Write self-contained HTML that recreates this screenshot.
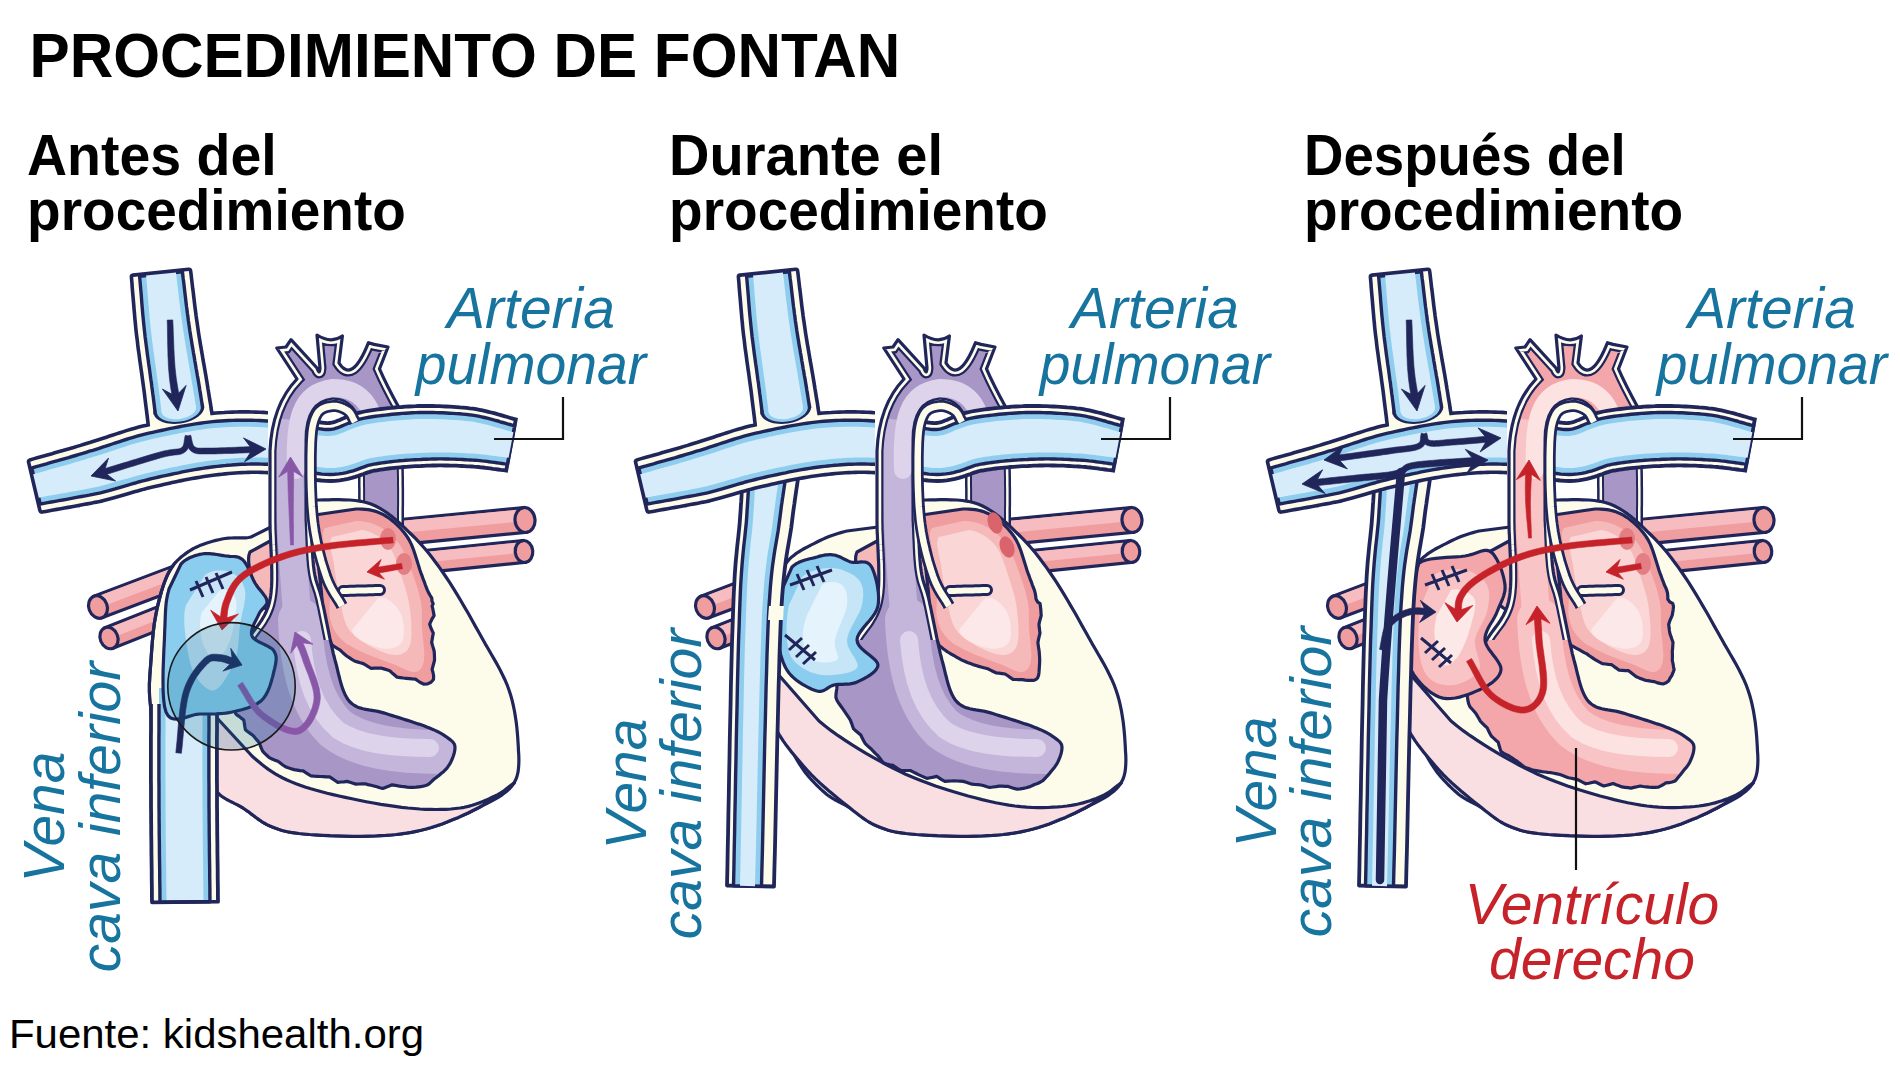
<!DOCTYPE html>
<html><head><meta charset="utf-8">
<style>
html,body{margin:0;padding:0;background:#fff;}
body{width:1900px;height:1069px;overflow:hidden;position:relative;font-family:"Liberation Sans",sans-serif;}
.t{position:absolute;white-space:nowrap;margin:0;}
</style></head><body>
<svg width="1900" height="1069" viewBox="0 0 1900 1069" style="position:absolute;left:0;top:0">
<path d="M93.9,596.2 L225.9,546.2 L234.1,567.8 L102.1,617.8Z" fill="#f09d9f" stroke="#20265a" stroke-width="3.2"/><path d="M94.5,597.6 L226.5,547.6 L230.4,557.9 L98.4,607.9Z" fill="#f6bcc0"/><ellipse cx="98" cy="607" rx="9.2" ry="11.5" transform="rotate(-20.7 98 607)" fill="#f09d9f" stroke="#20265a" stroke-width="3.2"/>
<path d="M104.9,627.8 L225.9,579.8 L234.1,600.2 L113.1,648.2Z" fill="#f09d9f" stroke="#20265a" stroke-width="3.2"/><path d="M105.5,629.2 L226.5,581.2 L230.4,590.9 L109.4,638.9Z" fill="#f6bcc0"/><ellipse cx="109" cy="638" rx="8.8" ry="11.0" transform="rotate(-21.6 109 638)" fill="#f09d9f" stroke="#20265a" stroke-width="3.2"/>
<path d="M523.8,507.6 L388.8,520.6 L391.2,545.4 L526.2,532.4Z" fill="#f09d9f" stroke="#20265a" stroke-width="3.2"/><path d="M523.9,509.1 L388.9,522.1 L390.1,534 L525.1,521Z" fill="#f6bcc0"/><ellipse cx="525" cy="520" rx="10.0" ry="12.5" transform="rotate(174.5 525 520)" fill="#f09d9f" stroke="#20265a" stroke-width="3.2"/>
<path d="M522.9,540.6 L408.9,552.1 L411.1,573.9 L525.1,562.4Z" fill="#f09d9f" stroke="#20265a" stroke-width="3.2"/><path d="M523,542 L409,553.5 L410.1,564 L524.1,552.5Z" fill="#f6bcc0"/><ellipse cx="524" cy="551.5" rx="8.8" ry="11.0" transform="rotate(174.2 524 551.5)" fill="#f09d9f" stroke="#20265a" stroke-width="3.2"/>
<path d="M380,440 L380.1,442.5 L380.1,445 L380.2,447.4 L380.3,449.9 L380.3,452.3 L380.4,454.8 L380.5,457.2 L380.6,459.7 L380.6,462.2 L380.7,464.6 L380.8,467.1 L380.8,469.6 L380.9,472.2 L380.9,474.8 L381,477.4 L381,480 L381,482.7 L381,485.4 L381.1,488.1 L381.1,490.9 L381.1,493.7 L381.1,496.5 L381.1,499.3 L381.1,502.2 L381.1,505 L381,507.9 L381,510.8 L381,513.6 L381,516.5 L381,519.3 L381,522.2 L381,525" fill="none" stroke="#20265a" stroke-width="46" stroke-linecap="butt" stroke-linejoin="round"/>
<path d="M380,440 L380.1,442.5 L380.1,445 L380.2,447.4 L380.3,449.9 L380.3,452.3 L380.4,454.8 L380.5,457.2 L380.6,459.7 L380.6,462.2 L380.7,464.6 L380.8,467.1 L380.8,469.6 L380.9,472.2 L380.9,474.8 L381,477.4 L381,480 L381,482.7 L381,485.4 L381.1,488.1 L381.1,490.9 L381.1,493.7 L381.1,496.5 L381.1,499.3 L381.1,502.2 L381.1,505 L381,507.9 L381,510.8 L381,513.6 L381,516.5 L381,519.3 L381,522.2 L381,525" fill="none" stroke="#fdfbea" stroke-width="41" stroke-linecap="butt" stroke-linejoin="round"/>
<path d="M380,440 L380.1,442.5 L380.1,445 L380.2,447.4 L380.3,449.9 L380.3,452.3 L380.4,454.8 L380.5,457.2 L380.6,459.7 L380.6,462.2 L380.7,464.6 L380.8,467.1 L380.8,469.6 L380.9,472.2 L380.9,474.8 L381,477.4 L381,480 L381,482.7 L381,485.4 L381.1,488.1 L381.1,490.9 L381.1,493.7 L381.1,496.5 L381.1,499.3 L381.1,502.2 L381.1,505 L381,507.9 L381,510.8 L381,513.6 L381,516.5 L381,519.3 L381,522.2 L381,525" fill="none" stroke="#20265a" stroke-width="36" stroke-linecap="butt" stroke-linejoin="round"/>
<path d="M380,440 L380.1,442.5 L380.1,445 L380.2,447.4 L380.3,449.9 L380.3,452.3 L380.4,454.8 L380.5,457.2 L380.6,459.7 L380.6,462.2 L380.7,464.6 L380.8,467.1 L380.8,469.6 L380.9,472.2 L380.9,474.8 L381,477.4 L381,480 L381,482.7 L381,485.4 L381.1,488.1 L381.1,490.9 L381.1,493.7 L381.1,496.5 L381.1,499.3 L381.1,502.2 L381.1,505 L381,507.9 L381,510.8 L381,513.6 L381,516.5 L381,519.3 L381,522.2 L381,525" fill="none" stroke="#a896c7" stroke-width="32" stroke-linecap="butt" stroke-linejoin="round"/>
<path d="M251,537 L248.5,537.5 L245.8,537.8 L243,537.9 L240.1,537.9 L237.2,537.9 L234.2,537.9 L231.1,538 L228.1,538.2 L225,538.5 L222,539 L218.9,539.7 L215.8,540.4 L212.6,541.3 L209.3,542.2 L206.1,543.2 L202.8,544.4 L199.7,545.6 L196.7,547 L193.7,548.4 L191,550 L188.4,551.7 L185.9,553.4 L183.5,555.2 L181.1,557 L178.9,559.1 L176.7,561.2 L174.7,563.6 L172.7,566.1 L170.8,568.9 L169,572 L167.3,575.4 L165.7,579.1 L164.2,583 L162.8,587.2 L161.4,591.5 L160.2,596 L159,600.5 L157.9,605 L156.9,609.5 L156,614 L155.2,618.5 L154.4,623 L153.8,627.7 L153.2,632.4 L152.8,637.1 L152.3,641.8 L152,646.5 L151.6,651.1 L151.3,655.6 L151,660 L150.7,664.2 L150.4,668.2 L150.1,672.1 L149.8,676 L149.6,679.8 L149.4,683.6 L149.4,687.5 L149.4,691.5 L149.6,695.6 L150,700 L150.4,704.7 L150.8,709.8 L151.2,715.2 L151.8,720.7 L152.4,726.2 L153.3,731.7 L154.4,736.9 L155.9,741.8 L157.7,746.2 L160,750 L162.9,753.2 L166.4,755.9 L170.5,758.1 L174.9,760.1 L179.6,761.8 L184.2,763.3 L188.7,764.8 L193,766.4 L196.8,768.1 L200,770 L202.6,772.1 L204.7,774.4 L206.5,776.6 L208,778.9 L209.4,781.2 L210.7,783.5 L212,785.8 L213.4,788 L215,790 L217,792 L219.2,793.8 L221.6,795.6 L224.1,797.2 L226.7,798.7 L229.4,800.2 L232.1,801.7 L234.8,803.2 L237.6,804.8 L240.3,806.3 L243,808 L245.6,809.8 L248.2,811.6 L250.8,813.6 L253.4,815.5 L256,817.5 L258.6,819.4 L261.4,821.3 L264.1,823 L267,824.6 L270,826 L273,827.2 L275.8,828.3 L278.6,829.3 L281.4,830.2 L284.3,831 L287.5,831.7 L290.9,832.4 L294.8,832.9 L299.1,833.5 L304,834 L309.6,834.5 L316,834.9 L322.9,835.3 L330.3,835.7 L337.9,835.9 L345.6,836.1 L353.2,836.3 L360.6,836.3 L367.6,836.2 L374,836 L379.9,835.7 L385.6,835.4 L390.9,835 L396.1,834.5 L401.1,833.9 L406.1,833.2 L411,832.4 L415.9,831.4 L420.9,830.3 L426,829 L431.3,827.5 L436.7,825.8 L442.1,823.9 L447.6,821.8 L453,819.6 L458.4,817.4 L463.6,815 L468.6,812.7 L473.4,810.3 L478,808 L482.4,805.7 L486.7,803.5 L491,801.3 L495.1,799.1 L499,796.8 L502.7,794.3 L506.1,791.8 L509.1,789.1 L511.8,786.2 L514,783 L515.8,779.6 L517.1,776 L518,772.2 L518.5,768.3 L518.8,764.2 L518.9,760 L518.8,755.6 L518.5,751.2 L518.3,746.6 L518,742 L517.7,737.2 L517.3,732.3 L516.8,727.2 L516.2,722 L515.4,716.7 L514.5,711.3 L513.4,705.9 L512.2,700.6 L510.7,695.2 L509,690 L507.1,684.8 L504.9,679.7 L502.5,674.7 L499.9,669.6 L497.2,664.6 L494.3,659.4 L491.3,654.3 L488.3,649 L485.1,643.6 L482,638 L478.8,632.2 L475.3,626.1 L471.8,619.8 L468.2,613.3 L464.4,606.9 L460.7,600.5 L456.9,594.2 L453.2,588.1 L449.6,582.4 L446,577 L442.6,572 L439.2,567.2 L435.9,562.7 L432.6,558.3 L429.3,554.1 L426,550.1 L422.7,546.2 L419.2,542.4 L415.7,538.7 L412,535 L408.2,531.3 L404.4,527.7 L400.6,524 L396.6,520.5 L392.6,517.1 L388.5,513.9 L384.3,511 L380,508.3 L375.6,506 L371,504 L366.1,502.5 L360.9,501.3 L355.5,500.5 L349.9,500 L344.2,499.8 L338.7,499.7 L333.3,499.7 L328.1,499.8 L323.3,499.9 L319,500 L315.1,500.1 L311.6,500.2 L308.3,500.3 L305.3,500.5 L302.4,500.9 L299.8,501.3 L297.2,502 L294.8,502.8 L292.4,503.8 L290,505 L287.7,506.6 L285.6,508.5 L283.6,510.7 L281.7,513.2 L279.9,515.7 L278.2,518.2 L276.5,520.7 L274.7,523.1 L272.9,525.2 L271,527Z" fill="#fdfbea" stroke="#20265a" stroke-width="3.2" stroke-linejoin="round"/>
<path d="M252,756 L255.4,759 L258.7,761.8 L262,764.5 L265.2,767 L268.4,769.4 L271.8,771.6 L275.3,773.8 L278.9,775.9 L282.8,778 L287,780 L291.4,781.9 L296,783.8 L300.8,785.5 L305.8,787.2 L310.9,788.8 L316.2,790.3 L321.6,791.7 L327.2,793.2 L333,794.6 L339,796 L345.3,797.4 L352,798.8 L359,800.3 L366.2,801.7 L373.5,803 L380.8,804.3 L388,805.4 L395,806.4 L401.7,807.3 L408,808 L414,808.5 L419.8,809 L425.4,809.3 L430.8,809.4 L436.1,809.5 L441.2,809.4 L446.2,809.3 L451,809 L455.6,808.5 L460,808 L464.3,807.3 L468.3,806.4 L472.3,805.3 L476,804.1 L479.6,802.8 L483,801.4 L486.2,800.1 L489.3,798.7 L492.2,797.3 L495,796 L497.8,794.6 L500.7,792.9 L503.6,791 L506.4,789 L508.9,787.2 L511.1,785.5 L512.8,784.1 L514,783.2 L514.4,782.8 L514,783 L512.7,784 L510.6,785.6 L507.7,787.8 L504.3,790.5 L500.4,793.4 L496.2,796.5 L491.7,799.6 L487.1,802.6 L482.5,805.5 L478,808 L473.4,810.3 L468.6,812.7 L463.6,815 L458.4,817.4 L453,819.6 L447.6,821.8 L442.1,823.9 L436.7,825.8 L431.3,827.5 L426,829 L420.9,830.3 L415.9,831.4 L411,832.4 L406.1,833.2 L401.1,833.9 L396.1,834.5 L390.9,835 L385.6,835.4 L379.9,835.7 L374,836 L367.6,836.2 L360.6,836.3 L353.2,836.3 L345.6,836.1 L337.9,835.9 L330.3,835.7 L322.9,835.3 L316,834.9 L309.6,834.5 L304,834 L299.1,833.5 L294.8,832.9 L290.9,832.4 L287.5,831.7 L284.3,831 L281.4,830.2 L278.6,829.3 L275.8,828.3 L273,827.2 L270,826 L267,824.6 L264.1,823 L261.4,821.3 L258.6,819.4 L256,817.5 L253.4,815.5 L250.8,813.6 L248.2,811.6 L245.6,809.8 L243,808 L240.3,806.4 L237.6,804.9 L234.8,803.6 L232.1,802.2 L229.4,800.9 L226.7,799.5 L224.1,797.9 L221.6,796.2 L219.2,794.2 L217,792 L214.8,789.5 L212.5,786.8 L210.2,783.9 L207.9,780.8 L205.8,777.6 L203.9,774.3 L202.3,770.8 L201.1,767.3 L200.3,763.7 L200,760 L200.2,755.8 L200.9,751 L202,745.6 L203.5,740.1 L205.2,734.6 L207.3,729.5 L209.5,725 L211.9,721.4 L214.4,719 L217,718Z" fill="#fadfe2" stroke="#20265a" stroke-width="3.2" stroke-linejoin="round"/>
<path d="M272,540 L274.6,538.8 L277.4,537.6 L280.3,536.2 L283.2,534.9 L286.2,533.6 L289.2,532.5 L292.1,531.5 L294.9,530.7 L297.6,530.2 L300,530 L302.3,530 L304.5,529.9 L306.6,530 L308.7,530.2 L310.6,530.6 L312.4,531.4 L314.1,532.7 L315.6,534.5 L316.9,536.9 L318,540 L319,544.2 L319.9,549.5 L320.8,555.7 L321.5,562.6 L322,569.7 L322.3,576.8 L322.3,583.7 L321.9,590.1 L321.2,595.6 L320,600 L318.3,603.4 L316,606.3 L313.3,608.6 L310.2,610.4 L306.9,611.8 L303.4,612.9 L299.9,613.7 L296.4,614.3 L293.1,614.7 L290,615 L287,615.1 L284,615 L280.9,614.6 L277.8,613.9 L274.8,613.1 L271.8,612 L269,610.7 L266.4,609.3 L264.1,607.7 L262,606 L260.2,604.1 L258.7,601.9 L257.4,599.5 L256.3,596.9 L255.4,594.2 L254.6,591.4 L253.8,588.5 L253.2,585.6 L252.6,582.8 L252,580 L251.4,577.2 L250.7,574.3 L250.1,571.2 L249.5,568.2 L249,565.1 L248.7,562.1 L248.6,559.3 L248.7,556.6 L249.2,554.2 L250,552Z" fill="#f6b9ba" stroke="#20265a" stroke-width="3.2" stroke-linejoin="round"/>
<path d="M356,509 L359,509 L362.1,509.1 L365.1,509.4 L368.1,509.7 L371.1,510.2 L374,510.9 L376.9,511.8 L379.7,512.9 L382.5,514.2 L385.1,515.7 L387.7,517.3 L390.2,519 L392.6,520.9 L394.9,522.8 L397.1,524.9 L399.3,527 L401.3,529.3 L403.3,531.6 L405.2,534 L406.9,536.4 L408.6,539 L410,541.6 L411.4,544.4 L412.5,547.2 L413.6,550 L414.6,552.9 L415.5,555.7 L416.4,558.6 L417.3,561.5 L418.2,564.4 L419.1,567.3 L420,570.2 L421,573.1 L422.1,575.9 L423.1,578.8 L424.2,581.6 L425.2,584.5 L426.3,587.3 L427.4,590.1 L428.7,592.9 L430.2,595.5 L431.8,598.1 L432,601.2 L433.2,603.6 L432.1,606.2 L432.9,609.2 L433.5,612.4 L434.1,615.6 L432.4,618.3 L431,621.2 L429.7,624.2 L430.7,627.3 L432,630.3 L433.3,633.2 L432.7,636.2 L432.2,639.3 L431.7,642.5 L432.5,645.4 L433.4,648.4 L434.2,651.3 L434.4,654.4 L434.5,657.4 L434.5,660.5 L433.7,663.5 L432.9,666.5 L432.1,669.4 L433,672.5 L433.6,675.8 L433.5,679.5 L431,682.3 L427.6,683.9 L424,684.2 L420.9,682.8 L418.1,681 L415.5,679.1 L412.4,678.9 L409.4,678.6 L406.3,678.3 L403.2,678 L400.2,677.6 L397.1,677.2 L394.6,675 L392.1,672.9 L389.7,670.7 L386.8,669.8 L383.9,668.9 L381,668 L377.8,668.1 L374.5,668.2 L371.2,668.3 L368.6,666.8 L365.9,665.2 L363.3,663.6 L360.3,662.8 L357.3,661.9 L354.4,661 L351.8,659.4 L349.2,657.7 L346.7,656 L344.3,654 L342,651.9 L339.9,649.8 L337.2,648.3 L334.5,646.7 L331.9,644.9 L330.6,642 L329.4,639 L328.3,636.2 L326,634 L324.3,631.5 L323.1,628.7 L322.2,625.7 L321.3,622.9 L320.6,619.9 L320.4,616.9 L320.7,613.9 L321.1,610.9 L321.6,607.9 L321.9,604.9 L322,601.8 L321.9,598.8 L321.7,595.8 L321.5,592.8 L321.2,589.8 L320.8,586.7 L320.5,583.7 L320.2,580.7 L319.8,577.7 L319.5,574.7 L319.1,571.7 L318.8,568.7 L318.5,565.6 L318.2,562.6 L318,559.6 L317.6,556.6 L317.1,553.6 L316.6,550.6 L316,547.6 L315.4,544.7 L314.9,541.7 L314.3,538.7 L313.8,535.7 L313.3,532.7 L312.9,529.7 L312.7,526.7 L312.7,523.7 L313,520.7 L313.6,517.7 L315,515Z" fill="#f09d9f" stroke="#20265a" stroke-width="3.2" stroke-linejoin="round"/>
<path d="M356,521 L358.7,521 L361.3,521.2 L363.8,521.5 L366.3,521.9 L368.7,522.4 L371,523.1 L373.3,523.9 L375.6,524.8 L377.8,525.9 L380,527 L382.2,528.3 L384.4,529.6 L386.5,531.1 L388.6,532.8 L390.7,534.5 L392.7,536.4 L394.6,538.3 L396.5,540.4 L398.3,542.7 L400,545 L401.6,547.5 L403.1,550.3 L404.6,553.2 L405.9,556.2 L407.2,559.4 L408.5,562.6 L409.7,565.8 L410.8,568.9 L411.9,572 L413,575 L414,577.9 L415,580.8 L416,583.6 L416.9,586.5 L417.8,589.3 L418.5,592.1 L419.3,594.9 L419.9,597.6 L420.5,600.3 L421,603 L421.4,605.6 L421.6,608.1 L421.8,610.5 L421.9,612.9 L421.9,615.2 L421.9,617.6 L421.8,620.1 L421.8,622.6 L421.9,625.2 L422,628 L422.2,631 L422.5,634.3 L422.9,637.7 L423.3,641.3 L423.6,644.8 L423.9,648.3 L424.2,651.6 L424.3,654.8 L424.2,657.6 L424,660 L423.6,662.1 L423.1,664 L422.5,665.7 L421.8,667.2 L421,668.5 L420.1,669.6 L419,670.5 L417.8,671.2 L416.5,671.7 L415,672 L413.4,672 L411.6,671.8 L409.7,671.2 L407.7,670.5 L405.5,669.6 L403.2,668.5 L400.8,667.4 L398.3,666.2 L395.7,665.1 L393,664 L390.1,662.9 L386.9,661.7 L383.5,660.5 L380,659.2 L376.4,657.8 L372.8,656.4 L369.3,655.1 L365.9,653.7 L362.8,652.3 L360,651 L357.4,649.7 L355,648.5 L352.7,647.3 L350.6,646.1 L348.6,644.9 L346.7,643.7 L344.9,642.4 L343.2,641 L341.5,639.6 L340,638 L338.6,636.3 L337.2,634.6 L335.9,632.8 L334.8,630.9 L333.8,628.9 L332.8,626.9 L331.9,624.8 L331.2,622.6 L330.6,620.4 L330,618 L329.6,615.6 L329.4,613 L329.4,610.4 L329.5,607.7 L329.6,604.9 L329.8,602.1 L330,599.2 L330.1,596.2 L330.1,593.1 L330,590 L329.7,586.7 L329.4,583.3 L329,579.8 L328.5,576.1 L328.1,572.4 L327.6,568.8 L327.1,565.1 L326.7,561.6 L326.3,558.2 L326,555 L325.6,551.9 L325.1,548.8 L324.5,545.7 L323.8,542.7 L323.3,539.8 L323,537 L322.9,534.4 L323.1,532 L323.8,529.9 L325,528Z" fill="#f6b9ba"/>
<path d="M362,530 L364.8,530.5 L367.6,531.3 L370.5,532.3 L373.3,533.6 L376,535 L378.7,536.6 L381.2,538.5 L383.6,540.5 L385.9,542.7 L388,545 L389.9,547.6 L391.7,550.5 L393.3,553.6 L394.8,557 L396.1,560.4 L397.4,564 L398.6,567.6 L399.8,571.2 L400.9,574.7 L402,578 L403.1,581.2 L404.1,584.4 L405.1,587.6 L406,590.7 L406.9,593.9 L407.7,597 L408.4,600.2 L409,603.4 L409.6,606.7 L410,610 L410.4,613.5 L410.8,617.2 L411.1,621.1 L411.3,625 L411.4,628.9 L411.5,632.7 L411.4,636.2 L411.1,639.6 L410.6,642.5 L410,645 L409.2,647.1 L408.2,648.9 L407,650.5 L405.7,651.8 L404.2,652.8 L402.6,653.6 L400.9,654.3 L399,654.7 L397.1,654.9 L395,655 L392.8,654.8 L390.3,654.4 L387.6,653.7 L384.7,652.8 L381.8,651.7 L378.9,650.5 L376,649.1 L373.1,647.8 L370.5,646.4 L368,645 L365.7,643.6 L363.4,642.2 L361.1,640.8 L358.9,639.2 L356.8,637.6 L354.8,635.9 L352.9,634.1 L351.1,632.2 L349.5,630.2 L348,628 L346.7,625.7 L345.6,623.2 L344.7,620.6 L343.8,617.9 L343.1,615.1 L342.5,612.2 L341.9,609.3 L341.3,606.2 L340.7,603.1 L340,600 L339.3,596.8 L338.6,593.3 L337.9,589.8 L337.3,586.2 L336.6,582.5 L336,578.8 L335.4,575.2 L334.9,571.7 L334.4,568.2 L334,565 L333.5,561.8 L332.8,558.6 L332.1,555.4 L331.4,552.3 L330.8,549.2 L330.3,546.4 L330.1,543.6 L330.3,541.1 L330.9,538.9 L332,537Z" fill="#fad6d6"/>
<path d="M378,598 L380.5,597.5 L383,597.6 L385.5,598.3 L388,599.5 L390.5,601.1 L392.8,603 L395,605.2 L396.9,607.4 L398.6,609.7 L400,612 L401.1,614.5 L402.1,617.4 L402.8,620.6 L403.4,624 L403.8,627.5 L403.9,631 L403.8,634.3 L403.5,637.3 L402.9,639.9 L402,642 L400.8,643.7 L399.2,645.1 L397.4,646.3 L395.2,647.3 L392.9,648 L390.4,648.5 L387.8,648.7 L385.2,648.7 L382.6,648.5 L380,648 L377.2,647.2 L373.9,646.2 L370.3,644.8 L366.6,643.2 L363,641.4 L359.6,639.4 L356.6,637.2 L354.2,634.9 L352.6,632.5 L352,630Z" fill="#fce8e8"/>
<path d="M343,591 L345.3,590.9 L347.6,590.9 L349.9,590.8 L352.2,590.8 L354.6,590.7 L356.9,590.6 L359.2,590.6 L361.5,590.5 L363.8,590.4 L366.1,590.4 L368.4,590.3 L370.8,590.2 L373.1,590.2 L375.4,590.1 L377.7,590.1 L380,590" fill="none" stroke="#20265a" stroke-width="12" stroke-linecap="round" stroke-linejoin="round"/>
<path d="M343,591 L345.3,590.9 L347.6,590.9 L349.9,590.8 L352.2,590.8 L354.6,590.7 L356.9,590.6 L359.2,590.6 L361.5,590.5 L363.8,590.4 L366.1,590.4 L368.4,590.3 L370.8,590.2 L373.1,590.2 L375.4,590.1 L377.7,590.1 L380,590" fill="none" stroke="#fdfbea" stroke-width="6" stroke-linecap="round" stroke-linejoin="round"/>
<ellipse cx="388" cy="539" rx="8" ry="11" fill="#e27e84"/>
<ellipse cx="404" cy="564" rx="8" ry="11" fill="#e27e84"/>
<clipPath id="ivcC"><rect x="100" y="704" width="200" height="300"/></clipPath>
<path d="M151,688 L151,695 L151,702 L151,709.1 L151,716.2 L151,723.3 L151,730.4 L150.9,737.5 L150.9,744.6 L150.9,751.7 L150.9,758.7 L150.9,765.7 L150.9,772.7 L150.9,779.7 L151,786.6 L151,793.4 L151,800.2 L151,806.8 L151.1,813.5 L151.1,820 L151.2,826.5 L151.2,832.9 L151.3,839.3 L151.4,845.7 L151.4,852 L151.5,858.3 L151.6,864.6 L151.7,870.8 L151.7,877.1 L151.8,883.4 L151.9,889.7 L151.9,896 L152,902.3 L218,901.7 L217.9,895.3 L217.9,889 L217.8,882.6 L217.7,876.4 L217.7,870.1 L217.6,863.8 L217.5,857.5 L217.4,851.3 L217.4,845 L217.3,838.6 L217.2,832.3 L217.2,825.9 L217.1,819.5 L217.1,813 L217,806.5 L217,799.8 L217,793.2 L217,786.4 L216.9,779.6 L216.9,772.7 L216.9,765.7 L216.9,758.7 L216.9,751.7 L216.9,744.7 L216.9,737.6 L217,730.5 L217,723.4 L217,716.3 L217,709.2 L217,702.1 L217,695 L217,688Z" fill="#fdfbea"/><path d="M159,688 L159,695 L159,702 L159,709.1 L159,716.2 L159,723.3 L159,730.4 L158.9,737.5 L158.9,744.6 L158.9,751.7 L158.9,758.7 L158.9,765.7 L158.9,772.7 L158.9,779.7 L159,786.5 L159,793.4 L159,800.1 L159,806.8 L159.1,813.4 L159.1,819.9 L159.2,826.4 L159.2,832.9 L159.3,839.2 L159.4,845.6 L159.4,851.9 L159.5,858.2 L159.6,864.5 L159.7,870.8 L159.7,877 L159.8,883.3 L159.9,889.6 L159.9,895.9 L160,902.3 L210,901.7 L209.9,895.4 L209.9,889 L209.8,882.7 L209.7,876.4 L209.7,870.2 L209.6,863.9 L209.5,857.6 L209.4,851.3 L209.4,845 L209.3,838.7 L209.2,832.4 L209.2,826 L209.1,819.5 L209.1,813.1 L209,806.5 L209,799.9 L209,793.2 L209,786.4 L208.9,779.6 L208.9,772.7 L208.9,765.7 L208.9,758.7 L208.9,751.7 L208.9,744.7 L208.9,737.6 L209,730.5 L209,723.4 L209,716.3 L209,709.2 L209,702.1 L209,695 L209,688Z" fill="#8fcdef"/><path d="M165.5,688 L165.5,695 L165.5,702.1 L165.5,709.1 L165.5,716.2 L165.5,723.3 L165.5,730.4 L165.4,737.5 L165.4,744.6 L165.4,751.7 L165.4,758.7 L165.4,765.7 L165.4,772.7 L165.4,779.6 L165.5,786.5 L165.5,793.3 L165.5,800.1 L165.5,806.8 L165.6,813.4 L165.6,819.9 L165.7,826.4 L165.7,832.8 L165.8,839.2 L165.9,845.5 L165.9,851.8 L166,858.1 L166.1,864.4 L166.2,870.7 L166.2,876.9 L166.3,883.2 L166.4,889.5 L166.4,895.8 L166.5,902.2 L203.5,901.8 L203.4,895.5 L203.4,889.1 L203.3,882.8 L203.2,876.5 L203.2,870.2 L203.1,864 L203,857.7 L202.9,851.4 L202.9,845.1 L202.8,838.8 L202.7,832.4 L202.7,826 L202.6,819.6 L202.6,813.1 L202.5,806.5 L202.5,799.9 L202.5,793.2 L202.5,786.4 L202.4,779.6 L202.4,772.7 L202.4,765.7 L202.4,758.7 L202.4,751.7 L202.4,744.6 L202.4,737.6 L202.5,730.5 L202.5,723.4 L202.5,716.3 L202.5,709.2 L202.5,702.1 L202.5,695 L202.5,688Z" fill="#d6ecfa"/><g clip-path="url(#ivcC)"><path d="M151,688 L151,695 L151,702 L151,709.1 L151,716.2 L151,723.3 L151,730.4 L150.9,737.5 L150.9,744.6 L150.9,751.7 L150.9,758.7 L150.9,765.7 L150.9,772.7 L150.9,779.7 L151,786.6 L151,793.4 L151,800.2 L151,806.8 L151.1,813.5 L151.1,820 L151.2,826.5 L151.2,832.9 L151.3,839.3 L151.4,845.7 L151.4,852 L151.5,858.3 L151.6,864.6 L151.7,870.8 L151.7,877.1 L151.8,883.4 L151.9,889.7 L151.9,896 L152,902.3 L218,901.7 L217.9,895.3 L217.9,889 L217.8,882.6 L217.7,876.4 L217.7,870.1 L217.6,863.8 L217.5,857.5 L217.4,851.3 L217.4,845 L217.3,838.6 L217.2,832.3 L217.2,825.9 L217.1,819.5 L217.1,813 L217,806.5 L217,799.8 L217,793.2 L217,786.4 L216.9,779.6 L216.9,772.7 L216.9,765.7 L216.9,758.7 L216.9,751.7 L216.9,744.7 L216.9,737.6 L217,730.5 L217,723.4 L217,716.3 L217,709.2 L217,702.1 L217,695 L217,688Z" fill="none" stroke="#20265a" stroke-width="3.8" stroke-linejoin="round"/><path d="M159,688 L159,695 L159,702 L159,709.1 L159,716.2 L159,723.3 L159,730.4 L158.9,737.5 L158.9,744.6 L158.9,751.7 L158.9,758.7 L158.9,765.7 L158.9,772.7 L158.9,779.7 L159,786.5 L159,793.4 L159,800.1 L159,806.8 L159.1,813.4 L159.1,819.9 L159.2,826.4 L159.2,832.9 L159.3,839.2 L159.4,845.6 L159.4,851.9 L159.5,858.2 L159.6,864.5 L159.7,870.8 L159.7,877 L159.8,883.3 L159.9,889.6 L159.9,895.9 L160,902.3 L210,901.7 L209.9,895.4 L209.9,889 L209.8,882.7 L209.7,876.4 L209.7,870.2 L209.6,863.9 L209.5,857.6 L209.4,851.3 L209.4,845 L209.3,838.7 L209.2,832.4 L209.2,826 L209.1,819.5 L209.1,813.1 L209,806.5 L209,799.9 L209,793.2 L209,786.4 L208.9,779.6 L208.9,772.7 L208.9,765.7 L208.9,758.7 L208.9,751.7 L208.9,744.7 L208.9,737.6 L209,730.5 L209,723.4 L209,716.3 L209,709.2 L209,702.1 L209,695 L209,688Z" fill="none" stroke="#20265a" stroke-width="3.4" stroke-linejoin="round"/></g>
<clipPath id="hoC"><rect x="100" y="560" width="75" height="146"/></clipPath>
<g clip-path="url(#hoC)"><path d="M251,537 L248.5,537.5 L245.8,537.8 L243,537.9 L240.1,537.9 L237.2,537.9 L234.2,537.9 L231.1,538 L228.1,538.2 L225,538.5 L222,539 L218.9,539.7 L215.8,540.4 L212.6,541.3 L209.3,542.2 L206.1,543.2 L202.8,544.4 L199.7,545.6 L196.7,547 L193.7,548.4 L191,550 L188.4,551.7 L185.9,553.4 L183.5,555.2 L181.1,557 L178.9,559.1 L176.7,561.2 L174.7,563.6 L172.7,566.1 L170.8,568.9 L169,572 L167.3,575.4 L165.7,579.1 L164.2,583 L162.8,587.2 L161.4,591.5 L160.2,596 L159,600.5 L157.9,605 L156.9,609.5 L156,614 L155.2,618.5 L154.4,623 L153.8,627.7 L153.2,632.4 L152.8,637.1 L152.3,641.8 L152,646.5 L151.6,651.1 L151.3,655.6 L151,660 L150.7,664.2 L150.4,668.2 L150.1,672.1 L149.8,676 L149.6,679.8 L149.4,683.6 L149.4,687.5 L149.4,691.5 L149.6,695.6 L150,700 L150.4,704.7 L150.8,709.8 L151.2,715.2 L151.8,720.7 L152.4,726.2 L153.3,731.7 L154.4,736.9 L155.9,741.8 L157.7,746.2 L160,750 L162.9,753.2 L166.4,755.9 L170.5,758.1 L174.9,760.1 L179.6,761.8 L184.2,763.3 L188.7,764.8 L193,766.4 L196.8,768.1 L200,770 L202.6,772.1 L204.7,774.4 L206.5,776.6 L208,778.9 L209.4,781.2 L210.7,783.5 L212,785.8 L213.4,788 L215,790 L217,792 L219.2,793.8 L221.6,795.6 L224.1,797.2 L226.7,798.7 L229.4,800.2 L232.1,801.7 L234.8,803.2 L237.6,804.8 L240.3,806.3 L243,808 L245.6,809.8 L248.2,811.6 L250.8,813.6 L253.4,815.5 L256,817.5 L258.6,819.4 L261.4,821.3 L264.1,823 L267,824.6 L270,826 L273,827.2 L275.8,828.3 L278.6,829.3 L281.4,830.2 L284.3,831 L287.5,831.7 L290.9,832.4 L294.8,832.9 L299.1,833.5 L304,834 L309.6,834.5 L316,834.9 L322.9,835.3 L330.3,835.7 L337.9,835.9 L345.6,836.1 L353.2,836.3 L360.6,836.3 L367.6,836.2 L374,836 L379.9,835.7 L385.6,835.4 L390.9,835 L396.1,834.5 L401.1,833.9 L406.1,833.2 L411,832.4 L415.9,831.4 L420.9,830.3 L426,829 L431.3,827.5 L436.7,825.8 L442.1,823.9 L447.6,821.8 L453,819.6 L458.4,817.4 L463.6,815 L468.6,812.7 L473.4,810.3 L478,808 L482.4,805.7 L486.7,803.5 L491,801.3 L495.1,799.1 L499,796.8 L502.7,794.3 L506.1,791.8 L509.1,789.1 L511.8,786.2 L514,783 L515.8,779.6 L517.1,776 L518,772.2 L518.5,768.3 L518.8,764.2 L518.9,760 L518.8,755.6 L518.5,751.2 L518.3,746.6 L518,742 L517.7,737.2 L517.3,732.3 L516.8,727.2 L516.2,722 L515.4,716.7 L514.5,711.3 L513.4,705.9 L512.2,700.6 L510.7,695.2 L509,690 L507.1,684.8 L504.9,679.7 L502.5,674.7 L499.9,669.6 L497.2,664.6 L494.3,659.4 L491.3,654.3 L488.3,649 L485.1,643.6 L482,638 L478.8,632.2 L475.3,626.1 L471.8,619.8 L468.2,613.3 L464.4,606.9 L460.7,600.5 L456.9,594.2 L453.2,588.1 L449.6,582.4 L446,577 L442.6,572 L439.2,567.2 L435.9,562.7 L432.6,558.3 L429.3,554.1 L426,550.1 L422.7,546.2 L419.2,542.4 L415.7,538.7 L412,535 L408.2,531.3 L404.4,527.7 L400.6,524 L396.6,520.5 L392.6,517.1 L388.5,513.9 L384.3,511 L380,508.3 L375.6,506 L371,504 L366.1,502.5 L360.9,501.3 L355.5,500.5 L349.9,500 L344.2,499.8 L338.7,499.7 L333.3,499.7 L328.1,499.8 L323.3,499.9 L319,500 L315.1,500.1 L311.6,500.2 L308.3,500.3 L305.3,500.5 L302.4,500.9 L299.8,501.3 L297.2,502 L294.8,502.8 L292.4,503.8 L290,505 L287.7,506.6 L285.6,508.5 L283.6,510.7 L281.7,513.2 L279.9,515.7 L278.2,518.2 L276.5,520.7 L274.7,523.1 L272.9,525.2 L271,527Z" fill="none" stroke="#20265a" stroke-width="3.2" stroke-linejoin="round"/></g>
<clipPath id="aoC1"><path d="M276.8,348 L286,347 L291,339.7 L317,368 Q319.7,376 320,368 L317,335 Q331,344 342.4,336 L339,363 Q352,384 368.5,342.7 L374,344.4 L388,347 L379.5,368.8 Q386,384 399.7,409 L403,440 L403,462 L357,462 L357,432 Q352,404 333,404 Q311,406 311,440 L311,520 L311,520 L311.2,523 L311.3,526 L311.5,529.1 L311.6,532.1 L311.7,535.1 L311.8,538.1 L312,541.1 L312.1,544.1 L312.2,547.2 L312.4,550.2 L312.5,553.2 L312.7,556.2 L312.9,559.2 L313.2,562.2 L313.4,565.2 L313.8,568.2 L314.2,571.2 L314.7,574.2 L315.3,577.2 L316,580.1 L316.9,583 L317.9,585.9 L318.8,588.7 L319.8,591.6 L320.6,594.5 L321.4,597.4 L322.1,600.4 L322.7,603.3 L323.4,606.3 L324,609.2 L324.6,612.2 L325.2,615.1 L325.8,618.1 L326.4,621.1 L327,624 L327.6,627 L328.2,629.9 L328.8,632.9 L329.4,635.9 L330,638.8 L330.7,641.8 L331.3,644.7 L332,647.7 L332.7,650.6 L333.3,653.6 L334.1,656.5 L334.8,659.4 L335.6,662.3 L336.4,665.2 L337.1,668.2 L337.8,671.1 L338.5,674 L339.3,677 L340,679.9 L340.8,682.8 L341.7,685.7 L342.6,688.6 L343.7,691.4 L344.9,694.2 L346.3,696.8 L347.9,699.4 L349.8,701.8 L352,703.8 L354.5,705.5 L357.2,706.9 L360,707.9 L362.9,708.7 L365.9,709.4 L368.9,709.9 L371.8,710.3 L374.8,710.8 L377.8,711.4 L380.7,712.1 L383.6,712.9 L386.5,713.8 L389.4,714.7 L392.3,715.6 L395.2,716.5 L398.1,717.4 L400.9,718.3 L403.8,719.2 L406.7,720.1 L409.6,721 L412.5,722 L415.3,722.9 L418.2,723.9 L421.1,724.8 L423.9,725.8 L426.7,726.9 L429.5,728 L432.3,729.2 L435.1,730.4 L437.8,731.7 L440.5,733.2 L443.1,734.7 L445.6,736.3 L448.1,738.1 L450.5,739.9 L452.8,741.9 L454.5,744.3 L455,747.3 L454.8,750.3 L454.2,753.3 L453.3,756.1 L452.2,759 L451,761.7 L449.5,764.4 L447.8,766.9 L446,769.2 L443.8,771.4 L441.4,773.3 L439.2,775.2 L436.9,777.1 L434.5,778.8 L432.3,780.8 L430.1,782.9 L427.8,784.8 L424.9,785.7 L422,786.4 L419,786.8 L416.1,787.2 L413.1,787.3 L410.1,787.3 L407.1,787.1 L404.2,786.7 L401.2,786.4 L398.2,785.9 L395.2,785.3 L392.2,784.8 L389.1,786.1 L386,787.3 L382.8,788.5 L379.8,787.7 L376.9,786.8 L373.9,786 L371,785.3 L368,784.6 L365.1,783.8 L362,783.9 L358.9,784 L355.9,784.1 L353,783.2 L350,782.3 L347.1,781.4 L344,781.8 L340.9,782 L337.8,782.3 L335,780.5 L332.3,778.7 L329.6,776.9 L326.5,776.8 L323.5,776.6 L320.4,776.5 L317.3,776.3 L314.2,776.2 L311.1,776 L308.5,774.4 L305.8,772.7 L303.2,770.9 L300.1,770.6 L297.1,770.1 L294,769.6 L291.1,768.7 L288.2,767.8 L285.4,766.7 L282.8,765 L280.3,763.1 L277.9,761.3 L275,760.2 L272.1,759 L269.3,757.6 L267,755.5 L264.7,753.4 L262.6,751.1 L261.3,748.2 L260.1,745.2 L259,742.3 L257,740.1 L255,737.8 L253.1,735.5 L250.5,733.6 L247.9,731.7 L245.4,729.7 L244.8,726.5 L244.3,723.3 L243.8,720 L241.2,718.1 L238.6,716.1 L236,714.2 L234.8,711.4 L233.6,708.7 L232.2,705.9 L231.3,702.9 L230.7,699.9 L230.4,697.1 L229.7,694.3 L229.4,691.3 L229.4,688.3 L229.8,685.3 L230.4,682.4 L231.3,679.5 L232.2,676.6 L233.1,673.7 L234.1,670.9 L235.2,668.1 L236.3,665.2 L237.4,662.4 L238.6,659.6 L239.7,656.9 L240.9,654.1 L242.2,651.3 L243.4,648.6 L244.6,645.8 L246,643.1 L247.4,640.4 L249,637.9 L250.7,635.4 L252.4,632.9 L254.2,630.5 L256,628 L257.8,625.6 L259.6,623.2 L261.3,620.7 L262.8,618.1 L264.4,615.5 L265.7,612.8 L266.9,610 L268,607.2 L268.9,604.3 L269.6,601.4 L270.2,598.4 L270.7,595.4 L271.1,592.4 L271.3,589.4 L271.6,586.4 L271.7,583.4 L271.8,580.4 L271.8,577.4 L271.8,574.3 L271.8,571.3 L271.7,568.3 L271.7,565.3 L271.6,562.3 L271.4,559.2 L271.3,556.2 L271.2,553.2 L271,550.2 L270.9,547.2 L270.7,544.2 L270.6,541.1 L270.5,538.1 L270.4,535.1 L270.2,532.1 L270.1,529.1 L270.1,526 L270,523 L270,520 L270,451 Q272,405 297,379 Z"/></clipPath>
<clipPath id="top1"><rect x="0" y="0" width="600" height="640"/></clipPath>
<path d="M276.8,348 L286,347 L291,339.7 L317,368 Q319.7,376 320,368 L317,335 Q331,344 342.4,336 L339,363 Q352,384 368.5,342.7 L374,344.4 L388,347 L379.5,368.8 Q386,384 399.7,409 L403,440 L403,462 L357,462 L357,432 Q352,404 333,404 Q311,406 311,440 L311,520 L311,520 L311.2,523 L311.3,526 L311.5,529.1 L311.6,532.1 L311.7,535.1 L311.8,538.1 L312,541.1 L312.1,544.1 L312.2,547.2 L312.4,550.2 L312.5,553.2 L312.7,556.2 L312.9,559.2 L313.2,562.2 L313.4,565.2 L313.8,568.2 L314.2,571.2 L314.7,574.2 L315.3,577.2 L316,580.1 L316.9,583 L317.9,585.9 L318.8,588.7 L319.8,591.6 L320.6,594.5 L321.4,597.4 L322.1,600.4 L322.7,603.3 L323.4,606.3 L324,609.2 L324.6,612.2 L325.2,615.1 L325.8,618.1 L326.4,621.1 L327,624 L327.6,627 L328.2,629.9 L328.8,632.9 L329.4,635.9 L330,638.8 L330.7,641.8 L331.3,644.7 L332,647.7 L332.7,650.6 L333.3,653.6 L334.1,656.5 L334.8,659.4 L335.6,662.3 L336.4,665.2 L337.1,668.2 L337.8,671.1 L338.5,674 L339.3,677 L340,679.9 L340.8,682.8 L341.7,685.7 L342.6,688.6 L343.7,691.4 L344.9,694.2 L346.3,696.8 L347.9,699.4 L349.8,701.8 L352,703.8 L354.5,705.5 L357.2,706.9 L360,707.9 L362.9,708.7 L365.9,709.4 L368.9,709.9 L371.8,710.3 L374.8,710.8 L377.8,711.4 L380.7,712.1 L383.6,712.9 L386.5,713.8 L389.4,714.7 L392.3,715.6 L395.2,716.5 L398.1,717.4 L400.9,718.3 L403.8,719.2 L406.7,720.1 L409.6,721 L412.5,722 L415.3,722.9 L418.2,723.9 L421.1,724.8 L423.9,725.8 L426.7,726.9 L429.5,728 L432.3,729.2 L435.1,730.4 L437.8,731.7 L440.5,733.2 L443.1,734.7 L445.6,736.3 L448.1,738.1 L450.5,739.9 L452.8,741.9 L454.5,744.3 L455,747.3 L454.8,750.3 L454.2,753.3 L453.3,756.1 L452.2,759 L451,761.7 L449.5,764.4 L447.8,766.9 L446,769.2 L443.8,771.4 L441.4,773.3 L439.2,775.2 L436.9,777.1 L434.5,778.8 L432.3,780.8 L430.1,782.9 L427.8,784.8 L424.9,785.7 L422,786.4 L419,786.8 L416.1,787.2 L413.1,787.3 L410.1,787.3 L407.1,787.1 L404.2,786.7 L401.2,786.4 L398.2,785.9 L395.2,785.3 L392.2,784.8 L389.1,786.1 L386,787.3 L382.8,788.5 L379.8,787.7 L376.9,786.8 L373.9,786 L371,785.3 L368,784.6 L365.1,783.8 L362,783.9 L358.9,784 L355.9,784.1 L353,783.2 L350,782.3 L347.1,781.4 L344,781.8 L340.9,782 L337.8,782.3 L335,780.5 L332.3,778.7 L329.6,776.9 L326.5,776.8 L323.5,776.6 L320.4,776.5 L317.3,776.3 L314.2,776.2 L311.1,776 L308.5,774.4 L305.8,772.7 L303.2,770.9 L300.1,770.6 L297.1,770.1 L294,769.6 L291.1,768.7 L288.2,767.8 L285.4,766.7 L282.8,765 L280.3,763.1 L277.9,761.3 L275,760.2 L272.1,759 L269.3,757.6 L267,755.5 L264.7,753.4 L262.6,751.1 L261.3,748.2 L260.1,745.2 L259,742.3 L257,740.1 L255,737.8 L253.1,735.5 L250.5,733.6 L247.9,731.7 L245.4,729.7 L244.8,726.5 L244.3,723.3 L243.8,720 L241.2,718.1 L238.6,716.1 L236,714.2 L234.8,711.4 L233.6,708.7 L232.2,705.9 L231.3,702.9 L230.7,699.9 L230.4,697.1 L229.7,694.3 L229.4,691.3 L229.4,688.3 L229.8,685.3 L230.4,682.4 L231.3,679.5 L232.2,676.6 L233.1,673.7 L234.1,670.9 L235.2,668.1 L236.3,665.2 L237.4,662.4 L238.6,659.6 L239.7,656.9 L240.9,654.1 L242.2,651.3 L243.4,648.6 L244.6,645.8 L246,643.1 L247.4,640.4 L249,637.9 L250.7,635.4 L252.4,632.9 L254.2,630.5 L256,628 L257.8,625.6 L259.6,623.2 L261.3,620.7 L262.8,618.1 L264.4,615.5 L265.7,612.8 L266.9,610 L268,607.2 L268.9,604.3 L269.6,601.4 L270.2,598.4 L270.7,595.4 L271.1,592.4 L271.3,589.4 L271.6,586.4 L271.7,583.4 L271.8,580.4 L271.8,577.4 L271.8,574.3 L271.8,571.3 L271.7,568.3 L271.7,565.3 L271.6,562.3 L271.4,559.2 L271.3,556.2 L271.2,553.2 L271,550.2 L270.9,547.2 L270.7,544.2 L270.6,541.1 L270.5,538.1 L270.4,535.1 L270.2,532.1 L270.1,529.1 L270.1,526 L270,523 L270,520 L270,451 Q272,405 297,379 Z" fill="#a896c7"/>
<g clip-path="url(#aoC1)"><path d="M292,420 C287,460 290,520 296,600 C300,660 310,700 330,725 C355,752 400,758 452,755" fill="none" stroke="#c3b6da" stroke-width="28"/><path d="M300,620 C302,670 312,705 335,728 C360,748 400,752 440,752" fill="none" stroke="#c3b6da" stroke-width="44" stroke-linecap="round"/><path d="M302,640 C305,680 315,710 338,730 C360,745 395,748 430,748" fill="none" stroke="#ddd3ea" stroke-width="18" stroke-linecap="round"/><path d="M296,470 C294,420 300,392 333,388 C360,388 372,405 376,430" fill="none" stroke="#ddd3ea" stroke-width="18" stroke-linecap="round"/><g clip-path="url(#top1)"><path d="M276.8,348 L286,347 L291,339.7 L317,368 Q319.7,376 320,368 L317,335 Q331,344 342.4,336 L339,363 Q352,384 368.5,342.7 L374,344.4 L388,347 L379.5,368.8 Q386,384 399.7,409 L403,440 L403,462 L357,462 L357,432 Q352,404 333,404 Q311,406 311,440 L311,520 L311,520 L311.2,523 L311.3,526 L311.5,529.1 L311.6,532.1 L311.7,535.1 L311.8,538.1 L312,541.1 L312.1,544.1 L312.2,547.2 L312.4,550.2 L312.5,553.2 L312.7,556.2 L312.9,559.2 L313.2,562.2 L313.4,565.2 L313.8,568.2 L314.2,571.2 L314.7,574.2 L315.3,577.2 L316,580.1 L316.9,583 L317.9,585.9 L318.8,588.7 L319.8,591.6 L320.6,594.5 L321.4,597.4 L322.1,600.4 L322.7,603.3 L323.4,606.3 L324,609.2 L324.6,612.2 L325.2,615.1 L325.8,618.1 L326.4,621.1 L327,624 L327.6,627 L328.2,629.9 L328.8,632.9 L329.4,635.9 L330,638.8 L330.7,641.8 L331.3,644.7 L332,647.7 L332.7,650.6 L333.3,653.6 L334.1,656.5 L334.8,659.4 L335.6,662.3 L336.4,665.2 L337.1,668.2 L337.8,671.1 L338.5,674 L339.3,677 L340,679.9 L340.8,682.8 L341.7,685.7 L342.6,688.6 L343.7,691.4 L344.9,694.2 L346.3,696.8 L347.9,699.4 L349.8,701.8 L352,703.8 L354.5,705.5 L357.2,706.9 L360,707.9 L362.9,708.7 L365.9,709.4 L368.9,709.9 L371.8,710.3 L374.8,710.8 L377.8,711.4 L380.7,712.1 L383.6,712.9 L386.5,713.8 L389.4,714.7 L392.3,715.6 L395.2,716.5 L398.1,717.4 L400.9,718.3 L403.8,719.2 L406.7,720.1 L409.6,721 L412.5,722 L415.3,722.9 L418.2,723.9 L421.1,724.8 L423.9,725.8 L426.7,726.9 L429.5,728 L432.3,729.2 L435.1,730.4 L437.8,731.7 L440.5,733.2 L443.1,734.7 L445.6,736.3 L448.1,738.1 L450.5,739.9 L452.8,741.9 L454.5,744.3 L455,747.3 L454.8,750.3 L454.2,753.3 L453.3,756.1 L452.2,759 L451,761.7 L449.5,764.4 L447.8,766.9 L446,769.2 L443.8,771.4 L441.4,773.3 L439.2,775.2 L436.9,777.1 L434.5,778.8 L432.3,780.8 L430.1,782.9 L427.8,784.8 L424.9,785.7 L422,786.4 L419,786.8 L416.1,787.2 L413.1,787.3 L410.1,787.3 L407.1,787.1 L404.2,786.7 L401.2,786.4 L398.2,785.9 L395.2,785.3 L392.2,784.8 L389.1,786.1 L386,787.3 L382.8,788.5 L379.8,787.7 L376.9,786.8 L373.9,786 L371,785.3 L368,784.6 L365.1,783.8 L362,783.9 L358.9,784 L355.9,784.1 L353,783.2 L350,782.3 L347.1,781.4 L344,781.8 L340.9,782 L337.8,782.3 L335,780.5 L332.3,778.7 L329.6,776.9 L326.5,776.8 L323.5,776.6 L320.4,776.5 L317.3,776.3 L314.2,776.2 L311.1,776 L308.5,774.4 L305.8,772.7 L303.2,770.9 L300.1,770.6 L297.1,770.1 L294,769.6 L291.1,768.7 L288.2,767.8 L285.4,766.7 L282.8,765 L280.3,763.1 L277.9,761.3 L275,760.2 L272.1,759 L269.3,757.6 L267,755.5 L264.7,753.4 L262.6,751.1 L261.3,748.2 L260.1,745.2 L259,742.3 L257,740.1 L255,737.8 L253.1,735.5 L250.5,733.6 L247.9,731.7 L245.4,729.7 L244.8,726.5 L244.3,723.3 L243.8,720 L241.2,718.1 L238.6,716.1 L236,714.2 L234.8,711.4 L233.6,708.7 L232.2,705.9 L231.3,702.9 L230.7,699.9 L230.4,697.1 L229.7,694.3 L229.4,691.3 L229.4,688.3 L229.8,685.3 L230.4,682.4 L231.3,679.5 L232.2,676.6 L233.1,673.7 L234.1,670.9 L235.2,668.1 L236.3,665.2 L237.4,662.4 L238.6,659.6 L239.7,656.9 L240.9,654.1 L242.2,651.3 L243.4,648.6 L244.6,645.8 L246,643.1 L247.4,640.4 L249,637.9 L250.7,635.4 L252.4,632.9 L254.2,630.5 L256,628 L257.8,625.6 L259.6,623.2 L261.3,620.7 L262.8,618.1 L264.4,615.5 L265.7,612.8 L266.9,610 L268,607.2 L268.9,604.3 L269.6,601.4 L270.2,598.4 L270.7,595.4 L271.1,592.4 L271.3,589.4 L271.6,586.4 L271.7,583.4 L271.8,580.4 L271.8,577.4 L271.8,574.3 L271.8,571.3 L271.7,568.3 L271.7,565.3 L271.6,562.3 L271.4,559.2 L271.3,556.2 L271.2,553.2 L271,550.2 L270.9,547.2 L270.7,544.2 L270.6,541.1 L270.5,538.1 L270.4,535.1 L270.2,532.1 L270.1,529.1 L270.1,526 L270,523 L270,520 L270,451 Q272,405 297,379 Z" fill="none" stroke="#20265a" stroke-width="13"/><path d="M276.8,348 L286,347 L291,339.7 L317,368 Q319.7,376 320,368 L317,335 Q331,344 342.4,336 L339,363 Q352,384 368.5,342.7 L374,344.4 L388,347 L379.5,368.8 Q386,384 399.7,409 L403,440 L403,462 L357,462 L357,432 Q352,404 333,404 Q311,406 311,440 L311,520 L311,520 L311.2,523 L311.3,526 L311.5,529.1 L311.6,532.1 L311.7,535.1 L311.8,538.1 L312,541.1 L312.1,544.1 L312.2,547.2 L312.4,550.2 L312.5,553.2 L312.7,556.2 L312.9,559.2 L313.2,562.2 L313.4,565.2 L313.8,568.2 L314.2,571.2 L314.7,574.2 L315.3,577.2 L316,580.1 L316.9,583 L317.9,585.9 L318.8,588.7 L319.8,591.6 L320.6,594.5 L321.4,597.4 L322.1,600.4 L322.7,603.3 L323.4,606.3 L324,609.2 L324.6,612.2 L325.2,615.1 L325.8,618.1 L326.4,621.1 L327,624 L327.6,627 L328.2,629.9 L328.8,632.9 L329.4,635.9 L330,638.8 L330.7,641.8 L331.3,644.7 L332,647.7 L332.7,650.6 L333.3,653.6 L334.1,656.5 L334.8,659.4 L335.6,662.3 L336.4,665.2 L337.1,668.2 L337.8,671.1 L338.5,674 L339.3,677 L340,679.9 L340.8,682.8 L341.7,685.7 L342.6,688.6 L343.7,691.4 L344.9,694.2 L346.3,696.8 L347.9,699.4 L349.8,701.8 L352,703.8 L354.5,705.5 L357.2,706.9 L360,707.9 L362.9,708.7 L365.9,709.4 L368.9,709.9 L371.8,710.3 L374.8,710.8 L377.8,711.4 L380.7,712.1 L383.6,712.9 L386.5,713.8 L389.4,714.7 L392.3,715.6 L395.2,716.5 L398.1,717.4 L400.9,718.3 L403.8,719.2 L406.7,720.1 L409.6,721 L412.5,722 L415.3,722.9 L418.2,723.9 L421.1,724.8 L423.9,725.8 L426.7,726.9 L429.5,728 L432.3,729.2 L435.1,730.4 L437.8,731.7 L440.5,733.2 L443.1,734.7 L445.6,736.3 L448.1,738.1 L450.5,739.9 L452.8,741.9 L454.5,744.3 L455,747.3 L454.8,750.3 L454.2,753.3 L453.3,756.1 L452.2,759 L451,761.7 L449.5,764.4 L447.8,766.9 L446,769.2 L443.8,771.4 L441.4,773.3 L439.2,775.2 L436.9,777.1 L434.5,778.8 L432.3,780.8 L430.1,782.9 L427.8,784.8 L424.9,785.7 L422,786.4 L419,786.8 L416.1,787.2 L413.1,787.3 L410.1,787.3 L407.1,787.1 L404.2,786.7 L401.2,786.4 L398.2,785.9 L395.2,785.3 L392.2,784.8 L389.1,786.1 L386,787.3 L382.8,788.5 L379.8,787.7 L376.9,786.8 L373.9,786 L371,785.3 L368,784.6 L365.1,783.8 L362,783.9 L358.9,784 L355.9,784.1 L353,783.2 L350,782.3 L347.1,781.4 L344,781.8 L340.9,782 L337.8,782.3 L335,780.5 L332.3,778.7 L329.6,776.9 L326.5,776.8 L323.5,776.6 L320.4,776.5 L317.3,776.3 L314.2,776.2 L311.1,776 L308.5,774.4 L305.8,772.7 L303.2,770.9 L300.1,770.6 L297.1,770.1 L294,769.6 L291.1,768.7 L288.2,767.8 L285.4,766.7 L282.8,765 L280.3,763.1 L277.9,761.3 L275,760.2 L272.1,759 L269.3,757.6 L267,755.5 L264.7,753.4 L262.6,751.1 L261.3,748.2 L260.1,745.2 L259,742.3 L257,740.1 L255,737.8 L253.1,735.5 L250.5,733.6 L247.9,731.7 L245.4,729.7 L244.8,726.5 L244.3,723.3 L243.8,720 L241.2,718.1 L238.6,716.1 L236,714.2 L234.8,711.4 L233.6,708.7 L232.2,705.9 L231.3,702.9 L230.7,699.9 L230.4,697.1 L229.7,694.3 L229.4,691.3 L229.4,688.3 L229.8,685.3 L230.4,682.4 L231.3,679.5 L232.2,676.6 L233.1,673.7 L234.1,670.9 L235.2,668.1 L236.3,665.2 L237.4,662.4 L238.6,659.6 L239.7,656.9 L240.9,654.1 L242.2,651.3 L243.4,648.6 L244.6,645.8 L246,643.1 L247.4,640.4 L249,637.9 L250.7,635.4 L252.4,632.9 L254.2,630.5 L256,628 L257.8,625.6 L259.6,623.2 L261.3,620.7 L262.8,618.1 L264.4,615.5 L265.7,612.8 L266.9,610 L268,607.2 L268.9,604.3 L269.6,601.4 L270.2,598.4 L270.7,595.4 L271.1,592.4 L271.3,589.4 L271.6,586.4 L271.7,583.4 L271.8,580.4 L271.8,577.4 L271.8,574.3 L271.8,571.3 L271.7,568.3 L271.7,565.3 L271.6,562.3 L271.4,559.2 L271.3,556.2 L271.2,553.2 L271,550.2 L270.9,547.2 L270.7,544.2 L270.6,541.1 L270.5,538.1 L270.4,535.1 L270.2,532.1 L270.1,529.1 L270.1,526 L270,523 L270,520 L270,451 Q272,405 297,379 Z" fill="none" stroke="#fdfbea" stroke-width="8.5"/></g></g>
<path d="M276.8,348 L286,347 L291,339.7 L317,368 Q319.7,376 320,368 L317,335 Q331,344 342.4,336 L339,363 Q352,384 368.5,342.7 L374,344.4 L388,347 L379.5,368.8 Q386,384 399.7,409 L403,440 L403,462 L357,462 L357,432 Q352,404 333,404 Q311,406 311,440 L311,520 L311,520 L311.2,523 L311.3,526 L311.5,529.1 L311.6,532.1 L311.7,535.1 L311.8,538.1 L312,541.1 L312.1,544.1 L312.2,547.2 L312.4,550.2 L312.5,553.2 L312.7,556.2 L312.9,559.2 L313.2,562.2 L313.4,565.2 L313.8,568.2 L314.2,571.2 L314.7,574.2 L315.3,577.2 L316,580.1 L316.9,583 L317.9,585.9 L318.8,588.7 L319.8,591.6 L320.6,594.5 L321.4,597.4 L322.1,600.4 L322.7,603.3 L323.4,606.3 L324,609.2 L324.6,612.2 L325.2,615.1 L325.8,618.1 L326.4,621.1 L327,624 L327.6,627 L328.2,629.9 L328.8,632.9 L329.4,635.9 L330,638.8 L330.7,641.8 L331.3,644.7 L332,647.7 L332.7,650.6 L333.3,653.6 L334.1,656.5 L334.8,659.4 L335.6,662.3 L336.4,665.2 L337.1,668.2 L337.8,671.1 L338.5,674 L339.3,677 L340,679.9 L340.8,682.8 L341.7,685.7 L342.6,688.6 L343.7,691.4 L344.9,694.2 L346.3,696.8 L347.9,699.4 L349.8,701.8 L352,703.8 L354.5,705.5 L357.2,706.9 L360,707.9 L362.9,708.7 L365.9,709.4 L368.9,709.9 L371.8,710.3 L374.8,710.8 L377.8,711.4 L380.7,712.1 L383.6,712.9 L386.5,713.8 L389.4,714.7 L392.3,715.6 L395.2,716.5 L398.1,717.4 L400.9,718.3 L403.8,719.2 L406.7,720.1 L409.6,721 L412.5,722 L415.3,722.9 L418.2,723.9 L421.1,724.8 L423.9,725.8 L426.7,726.9 L429.5,728 L432.3,729.2 L435.1,730.4 L437.8,731.7 L440.5,733.2 L443.1,734.7 L445.6,736.3 L448.1,738.1 L450.5,739.9 L452.8,741.9 L454.5,744.3 L455,747.3 L454.8,750.3 L454.2,753.3 L453.3,756.1 L452.2,759 L451,761.7 L449.5,764.4 L447.8,766.9 L446,769.2 L443.8,771.4 L441.4,773.3 L439.2,775.2 L436.9,777.1 L434.5,778.8 L432.3,780.8 L430.1,782.9 L427.8,784.8 L424.9,785.7 L422,786.4 L419,786.8 L416.1,787.2 L413.1,787.3 L410.1,787.3 L407.1,787.1 L404.2,786.7 L401.2,786.4 L398.2,785.9 L395.2,785.3 L392.2,784.8 L389.1,786.1 L386,787.3 L382.8,788.5 L379.8,787.7 L376.9,786.8 L373.9,786 L371,785.3 L368,784.6 L365.1,783.8 L362,783.9 L358.9,784 L355.9,784.1 L353,783.2 L350,782.3 L347.1,781.4 L344,781.8 L340.9,782 L337.8,782.3 L335,780.5 L332.3,778.7 L329.6,776.9 L326.5,776.8 L323.5,776.6 L320.4,776.5 L317.3,776.3 L314.2,776.2 L311.1,776 L308.5,774.4 L305.8,772.7 L303.2,770.9 L300.1,770.6 L297.1,770.1 L294,769.6 L291.1,768.7 L288.2,767.8 L285.4,766.7 L282.8,765 L280.3,763.1 L277.9,761.3 L275,760.2 L272.1,759 L269.3,757.6 L267,755.5 L264.7,753.4 L262.6,751.1 L261.3,748.2 L260.1,745.2 L259,742.3 L257,740.1 L255,737.8 L253.1,735.5 L250.5,733.6 L247.9,731.7 L245.4,729.7 L244.8,726.5 L244.3,723.3 L243.8,720 L241.2,718.1 L238.6,716.1 L236,714.2 L234.8,711.4 L233.6,708.7 L232.2,705.9 L231.3,702.9 L230.7,699.9 L230.4,697.1 L229.7,694.3 L229.4,691.3 L229.4,688.3 L229.8,685.3 L230.4,682.4 L231.3,679.5 L232.2,676.6 L233.1,673.7 L234.1,670.9 L235.2,668.1 L236.3,665.2 L237.4,662.4 L238.6,659.6 L239.7,656.9 L240.9,654.1 L242.2,651.3 L243.4,648.6 L244.6,645.8 L246,643.1 L247.4,640.4 L249,637.9 L250.7,635.4 L252.4,632.9 L254.2,630.5 L256,628 L257.8,625.6 L259.6,623.2 L261.3,620.7 L262.8,618.1 L264.4,615.5 L265.7,612.8 L266.9,610 L268,607.2 L268.9,604.3 L269.6,601.4 L270.2,598.4 L270.7,595.4 L271.1,592.4 L271.3,589.4 L271.6,586.4 L271.7,583.4 L271.8,580.4 L271.8,577.4 L271.8,574.3 L271.8,571.3 L271.7,568.3 L271.7,565.3 L271.6,562.3 L271.4,559.2 L271.3,556.2 L271.2,553.2 L271,550.2 L270.9,547.2 L270.7,544.2 L270.6,541.1 L270.5,538.1 L270.4,535.1 L270.2,532.1 L270.1,529.1 L270.1,526 L270,523 L270,520 L270,451 Q272,405 297,379 Z" fill="none" stroke="#20265a" stroke-width="3.2" stroke-linejoin="round"/>
<path d="M181,564 L182.7,562.3 L184.6,560.8 L186.5,559.5 L188.6,558.3 L190.8,557.3 L193,556.4 L195.2,555.6 L197.5,555 L199.7,554.4 L202,554 L204.3,553.7 L206.7,553.6 L209.2,553.7 L211.7,553.8 L214.2,554.1 L216.8,554.5 L219.2,554.9 L221.6,555.3 L223.9,555.7 L226,556 L228,556.2 L229.9,556.4 L231.8,556.5 L233.5,556.5 L235.2,556.7 L236.9,556.9 L238.5,557.3 L240,558 L241.5,558.8 L243,560 L244.4,561.6 L245.7,563.5 L247,565.7 L248.2,568.1 L249.3,570.6 L250.4,573.2 L251.6,575.9 L252.7,578.4 L253.8,580.8 L255,583 L256.3,585 L257.7,587 L259.2,588.9 L260.8,590.8 L262.2,592.6 L263.6,594.4 L264.9,596.1 L265.9,597.8 L266.6,599.4 L267,601 L267,602.5 L266.7,603.8 L266,605 L265.2,606.1 L264.2,607.2 L263.1,608.4 L262,609.6 L260.9,610.9 L259.8,612.4 L259,614 L258.1,615.9 L257.1,617.9 L255.9,620.2 L254.7,622.5 L253.6,624.9 L252.7,627.3 L251.9,629.6 L251.5,631.9 L251.5,634 L252,636 L253.1,637.8 L254.9,639.4 L257.2,640.9 L259.8,642.3 L262.6,643.6 L265.4,645 L268.1,646.4 L270.5,647.8 L272.6,649.3 L274,651 L274.9,652.8 L275.6,654.5 L276,656.3 L276.2,658.2 L276.1,660.1 L275.9,662.1 L275.6,664.2 L275.1,666.3 L274.6,668.6 L274,671 L273.4,673.6 L272.7,676.5 L271.8,679.6 L270.9,682.8 L269.9,686 L268.7,689.2 L267.3,692.3 L265.7,695.1 L264,697.7 L262,700 L259.7,701.9 L257.2,703.6 L254.4,705.2 L251.4,706.5 L248.2,707.7 L245,708.7 L241.7,709.7 L238.4,710.5 L235.2,711.3 L232,712 L228.9,712.6 L225.8,713.1 L222.6,713.5 L219.4,713.7 L216.2,713.9 L213,714 L209.8,714 L206.6,714 L203.3,714 L200,714 L196.5,714.3 L192.8,715.2 L188.9,716.4 L185,717.6 L181.1,718.6 L177.3,719.2 L173.8,719 L170.7,718 L168.1,715.7 L166,712 L164.5,706.4 L163.6,699.1 L163.1,690.3 L163,680.4 L163.1,670.1 L163.5,659.5 L163.9,649.2 L164.4,639.6 L164.7,631 L165,624 L165.2,618.3 L165.4,613.4 L165.6,609.3 L165.9,605.7 L166.2,602.6 L166.6,599.7 L167.1,597.1 L167.6,594.5 L168.3,591.9 L169,589Z" fill="#8bcdee" stroke="#20265a" stroke-width="3.2" stroke-linejoin="round"/>
<path d="M205,575 L207.3,573.5 L209.8,572.3 L212.4,571.5 L215,570.8 L217.8,570.5 L220.4,570.4 L223,570.5 L225.5,570.8 L227.9,571.3 L230,572 L232,572.9 L234,574 L235.9,575.3 L237.7,576.9 L239.4,578.6 L240.9,580.6 L242.3,582.7 L243.4,585 L244.4,587.4 L245,590 L245.3,592.8 L245.3,595.9 L245,599.3 L244.4,602.8 L243.8,606.4 L243,610.2 L242.1,614 L241.3,617.7 L240.6,621.4 L240,625 L239.6,628.5 L239.2,632.1 L239,635.7 L238.7,639.2 L238.4,642.8 L238.1,646.4 L237.6,649.9 L237,653.3 L236.1,656.7 L235,660 L233.6,663.4 L232,667 L230.1,670.8 L228.1,674.5 L225.9,678.1 L223.7,681.5 L221.5,684.5 L219.2,687 L217.1,688.8 L215,690 L213,690.4 L210.8,690.2 L208.7,689.4 L206.5,688.2 L204.3,686.6 L202.2,684.6 L200.2,682.4 L198.3,680 L196.6,677.5 L195,675 L193.6,672.3 L192.4,669.3 L191.2,666 L190.2,662.4 L189.2,658.8 L188.4,655 L187.7,651.1 L187,647.3 L186.5,643.6 L186,640 L185.6,636.5 L185.1,632.9 L184.7,629.3 L184.4,625.8 L184.2,622.2 L184.2,618.6 L184.3,615.1 L184.6,611.7 L185.2,608.3 L186,605Z" fill="#c6e5f6"/>
<path d="M220,590 L221.8,589.6 L223.7,589.5 L225.6,589.7 L227.6,590.3 L229.5,591.1 L231.3,592.3 L232.9,593.8 L234.2,595.6 L235.3,597.6 L236,600 L236.3,602.9 L236.4,606.4 L236.1,610.4 L235.6,614.8 L234.9,619.4 L234.1,624 L233.2,628.5 L232.1,632.8 L231.1,636.7 L230,640 L228.9,643 L227.5,645.9 L226.1,648.7 L224.6,651.4 L222.9,653.8 L221.3,655.8 L219.6,657.6 L218,658.9 L216.5,659.7 L215,660 L213.6,659.7 L212.1,658.7 L210.5,657.2 L209,655.3 L207.6,653 L206.2,650.5 L204.9,647.8 L203.7,645.2 L202.8,642.5 L202,640 L201.4,637.5 L200.9,634.8 L200.5,632 L200.2,629.1 L200.1,626.1 L200.1,623.2 L200.3,620.2 L200.6,617.3 L201.2,614.6 L202,612Z" fill="#e4f3fc"/>
<clipPath id="cpL1"><rect x="0" y="250" width="268" height="300"/></clipPath>
<clipPath id="cpR1"><rect x="312" y="380" width="300" height="140"/></clipPath>
<g clip-path="url(#cpL1)"><path d="M41.7,510.3 L45.4,509.7 L49.1,509 L52.9,508.3 L56.6,507.6 L60.4,507 L64.1,506.3 L67.9,505.6 L71.7,504.9 L75.5,504.3 L79.3,503.6 L83.1,502.8 L86.9,502.1 L90.7,501.4 L94.5,500.6 L98.3,499.9 L102.2,499.1 L106,498.1 L109.8,497.1 L113.5,496.1 L117,495.1 L120.5,494.1 L124,493 L127.4,492 L130.7,491.1 L133.9,490.1 L137.2,489.2 L140.4,488.3 L143.6,487.4 L146.8,486.6 L150,485.7 L153.3,485 L156.7,484.2 L160.3,483.4 L164.1,482.5 L167.9,481.7 L171.8,480.8 L175.8,480 L179.8,479.1 L183.8,478.3 L187.8,477.5 L191.8,476.8 L195.7,476.1 L199.6,475.4 L203.5,474.8 L207.3,474.2 L211,473.7 L214.6,473.2 L218.1,472.8 L221.6,472.4 L225,472.1 L228.4,471.7 L231.8,471.4 L235.1,471.2 L238.4,471 L241.7,470.8 L244.9,470.7 L248.2,470.6 L251.4,470.5 L254.7,470.5 L257.9,470.5 L261.2,470.6 L264.4,470.7 L267.7,470.8 L270.8,470.9 L273.6,471.2 L276.4,471.6 L279.4,472.2 L282.5,472.8 L285.9,473.5 L289.3,474.3 L292.9,475.1 L296.6,476 L300.4,476.9 L304.4,477.7 L308.4,478.6 L312.5,479.3 L316.8,480 L321.2,480.5 L325.8,480.9 L330.6,481 L335.3,480.8 L339.8,480.4 L344,479.7 L348,478.9 L351.8,477.9 L355.2,476.9 L358.3,475.9 L361.1,474.9 L363.6,474 L365.8,473.1 L367.8,472.4 L369.6,471.9 L371.2,471.4 L372.6,471 L373.9,470.7 L375.5,470.5 L377.8,470.1 L380.4,469.7 L383,469.3 L385.8,468.9 L388.6,468.5 L391.5,468.2 L394.4,467.9 L397.3,467.6 L400.3,467.3 L403.3,467 L406.3,466.8 L409.3,466.6 L412.3,466.4 L415.2,466.2 L418.2,466.1 L421,466 L423.9,465.8 L426.8,465.7 L429.8,465.6 L432.7,465.5 L435.7,465.5 L438.7,465.4 L441.7,465.4 L444.7,465.5 L447.6,465.5 L450.6,465.6 L453.4,465.6 L456.3,465.7 L459.1,465.9 L461.9,466 L464.5,466.2 L467.1,466.4 L469.5,466.4 L471.7,466.5 L474,466.7 L476.3,466.8 L478.5,467 L480.8,467.3 L483.1,467.5 L485.5,467.8 L487.9,468.1 L490.3,468.4 L492.8,468.8 L495.4,469.1 L498,469.5 L500.7,469.9 L503.5,470.2 L506.2,470.6 L515.8,419.4 L513.4,418.8 L511.2,418.2 L508.9,417.5 L506.5,416.8 L504.1,416.1 L501.7,415.4 L499.2,414.7 L496.6,413.9 L494,413.2 L491.2,412.5 L488.4,411.8 L485.5,411.1 L482.5,410.4 L479.4,409.8 L476.2,409.2 L472.9,408.6 L469.7,408.3 L466.5,407.9 L463.3,407.6 L460,407.4 L456.6,407.1 L453.3,406.9 L449.9,406.7 L446.5,406.5 L443,406.3 L439.6,406.2 L436.1,406.1 L432.7,406 L429.2,406 L425.8,406 L422.4,406 L419,406 L415.6,406.2 L412.1,406.3 L408.7,406.5 L405.3,406.7 L401.8,407 L398.3,407.2 L394.9,407.5 L391.4,407.9 L388,408.2 L384.6,408.6 L381.2,409 L377.8,409.4 L374.5,409.9 L371.2,410.4 L367.9,410.9 L364.5,411.5 L360.6,412.4 L356.7,413.4 L353.1,414.6 L349.8,415.7 L346.8,416.9 L344.2,418 L341.8,419 L339.8,419.9 L338,420.6 L336.4,421.2 L335.1,421.7 L333.9,422.1 L332.8,422.5 L331.7,422.7 L330.6,422.9 L329.4,423 L328,423.1 L326.2,423 L324,422.8 L321.4,422.5 L318.6,422.1 L315.5,421.6 L312.1,421 L308.6,420.3 L304.9,419.5 L301.1,418.8 L297,418 L292.9,417.2 L288.6,416.5 L284.2,415.9 L279.6,415.4 L275.2,415.1 L271.1,414.8 L267.2,414.5 L263.4,414.2 L259.6,414.1 L255.7,413.9 L251.8,413.8 L248,413.7 L244.1,413.7 L240.1,413.7 L236.2,413.8 L232.3,413.9 L228.3,414 L224.2,414.3 L220.2,414.5 L216.1,414.8 L211.9,415.2 L207.6,415.6 L203.3,416.2 L198.9,416.8 L194.5,417.5 L190.1,418.2 L185.7,419 L181.3,419.8 L176.9,420.6 L172.5,421.4 L168.1,422.3 L163.8,423.2 L159.6,424.1 L155.4,425 L151.3,425.9 L147.3,426.9 L143.3,427.8 L139.3,428.8 L135.3,429.9 L131.5,431 L127.7,432.1 L124,433.3 L120.5,434.4 L117,435.6 L113.6,436.7 L110.2,437.8 L107,438.9 L103.7,440 L100.6,441 L97.4,442 L94.2,443 L91.1,444 L87.8,444.9 L84.5,446 L81.1,447.1 L77.6,448.1 L74.1,449.2 L70.6,450.2 L67,451.2 L63.4,452.3 L59.8,453.3 L56.1,454.3 L52.5,455.4 L48.8,456.4 L45.1,457.5 L41.4,458.5 L37.7,459.5 L33.9,460.6 L30.3,461.7Z" fill="none" stroke="#20265a" stroke-width="7.2" stroke-linejoin="round"/>
<path d="M133.2,276.9 L133.5,280.4 L133.8,283.8 L134,287.3 L134.3,290.7 L134.6,294.2 L134.9,297.6 L135.2,301.1 L135.5,304.6 L135.8,308.2 L136.1,311.7 L136.4,315.3 L136.7,318.9 L137.1,322.6 L137.4,326.2 L137.8,330 L138.2,333.7 L138.7,337.5 L139.2,341.4 L139.6,345.3 L140.1,349.2 L140.7,353.2 L141.2,357.1 L141.7,361 L142.3,364.9 L142.8,368.8 L143.4,372.6 L143.9,376.4 L144.4,380.2 L144.9,383.8 L145.4,387.4 L145.9,390.9 L146.3,394.3 L146.7,397.7 L147.1,401 L147.5,404.2 L147.9,407.4 L148.3,410.6 L148.7,413.7 L149.1,416.8 L149.4,419.8 L149.8,422.8 L150.1,425.9 L150.5,428.9 L150.8,431.9 L151.2,435 L151.6,438.1 L151.9,441.2 L152.3,444.3 L213.7,435.7 L213.2,432.6 L212.7,429.6 L212.2,426.5 L211.8,423.5 L211.3,420.5 L210.8,417.5 L210.3,414.5 L209.8,411.4 L209.3,408.4 L208.9,405.3 L208.4,402.2 L207.8,399 L207.3,395.7 L206.8,392.5 L206.2,389.1 L205.7,385.7 L205.1,382.1 L204.5,378.5 L203.9,374.8 L203.2,371 L202.6,367.3 L201.9,363.5 L201.2,359.7 L200.6,355.8 L199.9,352 L199.3,348.2 L198.6,344.4 L198,340.7 L197.4,337 L196.8,333.3 L196.3,329.8 L195.8,326.3 L195.3,322.8 L194.8,319.4 L194.3,316 L193.9,312.5 L193.4,309.1 L193,305.7 L192.6,302.3 L192.2,298.9 L191.8,295.4 L191.4,292 L190.9,288.6 L190.5,285.1 L190.1,281.6 L189.7,278.1 L189.3,274.6 L188.8,271.1Z" fill="none" stroke="#20265a" stroke-width="7.2" stroke-linejoin="round"/>
<path d="M41.7,510.3 L45.4,509.7 L49.1,509 L52.9,508.3 L56.6,507.6 L60.4,507 L64.1,506.3 L67.9,505.6 L71.7,504.9 L75.5,504.3 L79.3,503.6 L83.1,502.8 L86.9,502.1 L90.7,501.4 L94.5,500.6 L98.3,499.9 L102.2,499.1 L106,498.1 L109.8,497.1 L113.5,496.1 L117,495.1 L120.5,494.1 L124,493 L127.4,492 L130.7,491.1 L133.9,490.1 L137.2,489.2 L140.4,488.3 L143.6,487.4 L146.8,486.6 L150,485.7 L153.3,485 L156.7,484.2 L160.3,483.4 L164.1,482.5 L167.9,481.7 L171.8,480.8 L175.8,480 L179.8,479.1 L183.8,478.3 L187.8,477.5 L191.8,476.8 L195.7,476.1 L199.6,475.4 L203.5,474.8 L207.3,474.2 L211,473.7 L214.6,473.2 L218.1,472.8 L221.6,472.4 L225,472.1 L228.4,471.7 L231.8,471.4 L235.1,471.2 L238.4,471 L241.7,470.8 L244.9,470.7 L248.2,470.6 L251.4,470.5 L254.7,470.5 L257.9,470.5 L261.2,470.6 L264.4,470.7 L267.7,470.8 L270.8,470.9 L273.6,471.2 L276.4,471.6 L279.4,472.2 L282.5,472.8 L285.9,473.5 L289.3,474.3 L292.9,475.1 L296.6,476 L300.4,476.9 L304.4,477.7 L308.4,478.6 L312.5,479.3 L316.8,480 L321.2,480.5 L325.8,480.9 L330.6,481 L335.3,480.8 L339.8,480.4 L344,479.7 L348,478.9 L351.8,477.9 L355.2,476.9 L358.3,475.9 L361.1,474.9 L363.6,474 L365.8,473.1 L367.8,472.4 L369.6,471.9 L371.2,471.4 L372.6,471 L373.9,470.7 L375.5,470.5 L377.8,470.1 L380.4,469.7 L383,469.3 L385.8,468.9 L388.6,468.5 L391.5,468.2 L394.4,467.9 L397.3,467.6 L400.3,467.3 L403.3,467 L406.3,466.8 L409.3,466.6 L412.3,466.4 L415.2,466.2 L418.2,466.1 L421,466 L423.9,465.8 L426.8,465.7 L429.8,465.6 L432.7,465.5 L435.7,465.5 L438.7,465.4 L441.7,465.4 L444.7,465.5 L447.6,465.5 L450.6,465.6 L453.4,465.6 L456.3,465.7 L459.1,465.9 L461.9,466 L464.5,466.2 L467.1,466.4 L469.5,466.4 L471.7,466.5 L474,466.7 L476.3,466.8 L478.5,467 L480.8,467.3 L483.1,467.5 L485.5,467.8 L487.9,468.1 L490.3,468.4 L492.8,468.8 L495.4,469.1 L498,469.5 L500.7,469.9 L503.5,470.2 L506.2,470.6 L515.8,419.4 L513.4,418.8 L511.2,418.2 L508.9,417.5 L506.5,416.8 L504.1,416.1 L501.7,415.4 L499.2,414.7 L496.6,413.9 L494,413.2 L491.2,412.5 L488.4,411.8 L485.5,411.1 L482.5,410.4 L479.4,409.8 L476.2,409.2 L472.9,408.6 L469.7,408.3 L466.5,407.9 L463.3,407.6 L460,407.4 L456.6,407.1 L453.3,406.9 L449.9,406.7 L446.5,406.5 L443,406.3 L439.6,406.2 L436.1,406.1 L432.7,406 L429.2,406 L425.8,406 L422.4,406 L419,406 L415.6,406.2 L412.1,406.3 L408.7,406.5 L405.3,406.7 L401.8,407 L398.3,407.2 L394.9,407.5 L391.4,407.9 L388,408.2 L384.6,408.6 L381.2,409 L377.8,409.4 L374.5,409.9 L371.2,410.4 L367.9,410.9 L364.5,411.5 L360.6,412.4 L356.7,413.4 L353.1,414.6 L349.8,415.7 L346.8,416.9 L344.2,418 L341.8,419 L339.8,419.9 L338,420.6 L336.4,421.2 L335.1,421.7 L333.9,422.1 L332.8,422.5 L331.7,422.7 L330.6,422.9 L329.4,423 L328,423.1 L326.2,423 L324,422.8 L321.4,422.5 L318.6,422.1 L315.5,421.6 L312.1,421 L308.6,420.3 L304.9,419.5 L301.1,418.8 L297,418 L292.9,417.2 L288.6,416.5 L284.2,415.9 L279.6,415.4 L275.2,415.1 L271.1,414.8 L267.2,414.5 L263.4,414.2 L259.6,414.1 L255.7,413.9 L251.8,413.8 L248,413.7 L244.1,413.7 L240.1,413.7 L236.2,413.8 L232.3,413.9 L228.3,414 L224.2,414.3 L220.2,414.5 L216.1,414.8 L211.9,415.2 L207.6,415.6 L203.3,416.2 L198.9,416.8 L194.5,417.5 L190.1,418.2 L185.7,419 L181.3,419.8 L176.9,420.6 L172.5,421.4 L168.1,422.3 L163.8,423.2 L159.6,424.1 L155.4,425 L151.3,425.9 L147.3,426.9 L143.3,427.8 L139.3,428.8 L135.3,429.9 L131.5,431 L127.7,432.1 L124,433.3 L120.5,434.4 L117,435.6 L113.6,436.7 L110.2,437.8 L107,438.9 L103.7,440 L100.6,441 L97.4,442 L94.2,443 L91.1,444 L87.8,444.9 L84.5,446 L81.1,447.1 L77.6,448.1 L74.1,449.2 L70.6,450.2 L67,451.2 L63.4,452.3 L59.8,453.3 L56.1,454.3 L52.5,455.4 L48.8,456.4 L45.1,457.5 L41.4,458.5 L37.7,459.5 L33.9,460.6 L30.3,461.7Z" fill="#fdfbea"/>
<path d="M133.2,276.9 L133.5,280.4 L133.8,283.8 L134,287.3 L134.3,290.7 L134.6,294.2 L134.9,297.6 L135.2,301.1 L135.5,304.6 L135.8,308.2 L136.1,311.7 L136.4,315.3 L136.7,318.9 L137.1,322.6 L137.4,326.2 L137.8,330 L138.2,333.7 L138.7,337.5 L139.2,341.4 L139.6,345.3 L140.1,349.2 L140.7,353.2 L141.2,357.1 L141.7,361 L142.3,364.9 L142.8,368.8 L143.4,372.6 L143.9,376.4 L144.4,380.2 L144.9,383.8 L145.4,387.4 L145.9,390.9 L146.3,394.3 L146.7,397.7 L147.1,401 L147.5,404.2 L147.9,407.4 L148.3,410.6 L148.7,413.7 L149.1,416.8 L149.4,419.8 L149.8,422.8 L150.1,425.9 L150.5,428.9 L150.8,431.9 L151.2,435 L151.6,438.1 L151.9,441.2 L152.3,444.3 L213.7,435.7 L213.2,432.6 L212.7,429.6 L212.2,426.5 L211.8,423.5 L211.3,420.5 L210.8,417.5 L210.3,414.5 L209.8,411.4 L209.3,408.4 L208.9,405.3 L208.4,402.2 L207.8,399 L207.3,395.7 L206.8,392.5 L206.2,389.1 L205.7,385.7 L205.1,382.1 L204.5,378.5 L203.9,374.8 L203.2,371 L202.6,367.3 L201.9,363.5 L201.2,359.7 L200.6,355.8 L199.9,352 L199.3,348.2 L198.6,344.4 L198,340.7 L197.4,337 L196.8,333.3 L196.3,329.8 L195.8,326.3 L195.3,322.8 L194.8,319.4 L194.3,316 L193.9,312.5 L193.4,309.1 L193,305.7 L192.6,302.3 L192.2,298.9 L191.8,295.4 L191.4,292 L190.9,288.6 L190.5,285.1 L190.1,281.6 L189.7,278.1 L189.3,274.6 L188.8,271.1Z" fill="#fdfbea"/>
<path d="M40.2,504 L44,503.3 L47.7,502.6 L51.4,502 L55.2,501.3 L58.9,500.6 L62.7,500 L66.5,499.3 L70.3,498.6 L74,497.9 L77.8,497.2 L81.6,496.5 L85.4,495.8 L89.2,495.1 L93,494.3 L96.7,493.6 L100.5,492.8 L104.3,491.8 L108,490.9 L111.6,489.9 L115.1,488.9 L118.6,487.8 L122,486.8 L125.4,485.8 L128.7,484.9 L132,483.9 L135.3,483 L138.5,482 L141.8,481.1 L145.1,480.3 L148.4,479.5 L151.7,478.7 L155.2,477.9 L158.8,477 L162.6,476.2 L166.5,475.3 L170.5,474.5 L174.5,473.6 L178.5,472.8 L182.5,471.9 L186.5,471.2 L190.6,470.4 L194.6,469.7 L198.6,469 L202.5,468.4 L206.4,467.8 L210.1,467.2 L213.8,466.8 L217.4,466.4 L220.9,466 L224.5,465.6 L227.9,465.2 L231.4,465 L234.8,464.7 L238.2,464.5 L241.5,464.3 L244.8,464.2 L248.2,464.1 L251.5,464 L254.8,464 L258.1,464 L261.4,464.1 L264.8,464.2 L268.1,464.3 L271.3,464.4 L274.3,464.8 L277.3,465.2 L280.4,465.7 L283.7,466.4 L287.2,467.1 L290.7,467.9 L294.3,468.8 L298,469.6 L301.8,470.5 L305.6,471.4 L309.5,472.2 L313.5,472.9 L317.6,473.5 L321.8,474.1 L326.1,474.4 L330.4,474.5 L334.7,474.3 L338.9,473.9 L342.8,473.4 L346.5,472.6 L349.9,471.7 L353.1,470.8 L356,469.8 L358.7,468.8 L361.2,467.9 L363.5,467.1 L365.5,466.4 L367.4,465.7 L369.2,465.2 L370.9,464.8 L372.5,464.4 L374.3,464.1 L376.7,463.7 L379.4,463.3 L382.1,462.9 L384.9,462.5 L387.8,462.1 L390.7,461.7 L393.7,461.4 L396.7,461.1 L399.7,460.8 L402.7,460.6 L405.8,460.3 L408.8,460.1 L411.9,459.9 L414.9,459.7 L417.9,459.6 L420.8,459.5 L423.8,459.3 L426.7,459.2 L429.7,459.1 L432.7,459 L435.8,459 L438.8,458.9 L441.8,458.9 L444.9,459 L447.9,459 L450.9,459.1 L453.8,459.1 L456.7,459.3 L459.6,459.4 L462.4,459.5 L465.1,459.7 L467.7,459.9 L470.2,460 L472.6,460.1 L475,460.2 L477.3,460.4 L479.7,460.6 L482,460.9 L484.4,461.1 L486.8,461.4 L489.2,461.8 L491.7,462.1 L494.2,462.4 L496.7,462.8 L499.3,463.1 L502,463.5 L504.7,463.9 L507.4,464.2 L514.6,425.8 L512.2,425.2 L509.9,424.5 L507.5,423.9 L505.2,423.2 L502.8,422.5 L500.3,421.8 L497.9,421 L495.3,420.3 L492.7,419.6 L490,418.9 L487.3,418.2 L484.4,417.5 L481.5,416.8 L478.5,416.2 L475.4,415.6 L472.3,415.1 L469.1,414.8 L466,414.4 L462.8,414.1 L459.6,413.8 L456.3,413.6 L453,413.4 L449.6,413.2 L446.3,413 L442.9,412.8 L439.5,412.7 L436.1,412.6 L432.7,412.5 L429.3,412.5 L425.9,412.5 L422.5,412.5 L419.2,412.5 L415.8,412.6 L412.5,412.8 L409.1,413 L405.7,413.2 L402.3,413.4 L398.9,413.7 L395.5,414 L392.1,414.3 L388.7,414.7 L385.3,415.1 L382,415.5 L378.7,415.9 L375.4,416.3 L372.2,416.8 L369,417.3 L365.7,417.9 L362,418.7 L358.4,419.7 L355.1,420.8 L352,421.9 L349.1,423 L346.6,424 L344.2,425 L342.1,425.9 L340.2,426.7 L338.5,427.4 L336.9,428 L335.4,428.4 L334,428.8 L332.6,429.1 L331.2,429.4 L329.6,429.5 L327.7,429.5 L325.6,429.5 L323.1,429.3 L320.4,428.9 L317.4,428.5 L314.2,427.9 L310.8,427.3 L307.3,426.6 L303.5,425.9 L299.7,425.1 L295.8,424.4 L291.7,423.6 L287.5,423 L283.3,422.4 L278.9,421.9 L274.7,421.6 L270.7,421.2 L266.9,421 L263.1,420.7 L259.4,420.5 L255.6,420.4 L251.8,420.3 L248,420.2 L244.2,420.2 L240.3,420.2 L236.5,420.3 L232.6,420.4 L228.7,420.5 L224.7,420.7 L220.7,421 L216.7,421.3 L212.6,421.6 L208.4,422.1 L204.2,422.6 L199.9,423.2 L195.5,423.9 L191.2,424.6 L186.8,425.4 L182.4,426.1 L178.1,427 L173.7,427.8 L169.4,428.7 L165.2,429.6 L161,430.5 L156.8,431.4 L152.7,432.3 L148.8,433.2 L144.8,434.1 L140.9,435.1 L137,436.2 L133.2,437.3 L129.5,438.4 L125.9,439.5 L122.4,440.6 L118.9,441.8 L115.5,442.9 L112.2,444 L108.9,445.1 L105.7,446.2 L102.5,447.2 L99.2,448.3 L96,449.3 L92.8,450.3 L89.5,451.2 L86.1,452.3 L82.7,453.4 L79.2,454.4 L75.6,455.5 L72.1,456.5 L68.5,457.6 L64.9,458.6 L61.2,459.6 L57.6,460.7 L53.9,461.7 L50.2,462.7 L46.5,463.8 L42.8,464.8 L39.1,465.9 L35.4,466.9 L31.8,468Z" fill="#8fcdef" stroke="#20265a" stroke-width="3.4"/>
<path d="M38.8,497.7 L42.5,497 L46.2,496.3 L49.9,495.6 L53.7,495 L57.5,494.3 L61.2,493.6 L65,493 L68.8,492.3 L72.6,491.6 L76.3,490.9 L80.1,490.2 L83.9,489.5 L87.6,488.8 L91.4,488 L95.1,487.3 L98.8,486.5 L102.5,485.6 L106.2,484.6 L109.7,483.6 L113.2,482.6 L116.7,481.6 L120.1,480.6 L123.4,479.6 L126.8,478.7 L130.1,477.7 L133.4,476.7 L136.7,475.8 L140,474.9 L143.3,474 L146.7,473.2 L150.1,472.4 L153.7,471.6 L157.4,470.7 L161.2,469.8 L165.1,469 L169.1,468.1 L173.1,467.2 L177.2,466.4 L181.2,465.6 L185.3,464.8 L189.4,464 L193.5,463.3 L197.5,462.6 L201.5,461.9 L205.4,461.3 L209.3,460.8 L213,460.3 L216.7,459.9 L220.3,459.5 L223.9,459.1 L227.5,458.8 L231,458.5 L234.5,458.2 L237.9,458 L241.3,457.8 L244.7,457.7 L248.1,457.6 L251.5,457.5 L254.9,457.5 L258.3,457.5 L261.7,457.6 L265.1,457.7 L268.5,457.8 L271.8,458 L275,458.3 L278.2,458.8 L281.5,459.3 L284.9,460 L288.4,460.8 L292,461.6 L295.7,462.4 L299.4,463.3 L303.1,464.1 L306.9,465 L310.7,465.8 L314.5,466.5 L318.4,467.1 L322.3,467.6 L326.3,467.9 L330.3,468 L334.2,467.9 L338,467.5 L341.5,467 L344.9,466.3 L348.1,465.5 L351,464.6 L353.8,463.7 L356.4,462.8 L358.8,461.9 L361.1,461 L363.2,460.3 L365.3,459.6 L367.2,459 L369.1,458.5 L371,458.1 L373.1,457.7 L375.6,457.3 L378.4,456.8 L381.2,456.4 L384.1,456 L387,455.6 L390,455.3 L393,455 L396,454.6 L399.1,454.3 L402.2,454.1 L405.3,453.8 L408.4,453.6 L411.5,453.4 L414.6,453.3 L417.6,453.1 L420.6,453 L423.6,452.8 L426.6,452.7 L429.7,452.6 L432.7,452.5 L435.8,452.5 L438.9,452.4 L442,452.4 L445.1,452.5 L448.1,452.5 L451.2,452.6 L454.2,452.7 L457.1,452.8 L460,452.9 L462.9,453.1 L465.7,453.2 L468.4,453.4 L471,453.5 L473.5,453.6 L475.9,453.8 L478.4,454 L480.8,454.2 L483.3,454.5 L485.7,454.8 L488.1,455.1 L490.6,455.4 L493.1,455.7 L495.6,456.1 L498.1,456.4 L500.7,456.8 L503.3,457.1 L506,457.5 L508.6,457.8 L513.4,432.2 L511,431.6 L508.6,430.9 L506.2,430.2 L503.8,429.5 L501.4,428.8 L499,428.1 L496.5,427.4 L494,426.7 L491.4,426 L488.8,425.3 L486.1,424.6 L483.4,423.9 L480.5,423.3 L477.6,422.7 L474.6,422.1 L471.6,421.6 L468.5,421.2 L465.5,420.9 L462.3,420.6 L459.1,420.3 L455.9,420.1 L452.7,419.9 L449.4,419.7 L446.1,419.5 L442.7,419.3 L439.4,419.2 L436,419.1 L432.7,419 L429.4,419 L426,419 L422.7,419 L419.4,419 L416.1,419.1 L412.8,419.3 L409.5,419.5 L406.1,419.7 L402.8,419.9 L399.4,420.2 L396.1,420.5 L392.7,420.8 L389.4,421.1 L386.1,421.5 L382.8,421.9 L379.5,422.3 L376.3,422.8 L373.2,423.2 L370.1,423.7 L366.9,424.3 L363.5,425 L360.1,426 L357,427 L354.1,428 L351.4,429.1 L348.9,430.1 L346.6,431.1 L344.5,432 L342.5,432.8 L340.6,433.6 L338.8,434.2 L337,434.7 L335.3,435.2 L333.5,435.6 L331.7,435.8 L329.7,436 L327.5,436 L325.1,435.9 L322.3,435.7 L319.4,435.4 L316.3,434.9 L312.9,434.3 L309.5,433.7 L305.9,433 L302.2,432.2 L298.4,431.5 L294.5,430.7 L290.5,430 L286.5,429.4 L282.4,428.8 L278.2,428.3 L274.2,428 L270.3,427.7 L266.6,427.5 L262.9,427.2 L259.2,427 L255.5,426.9 L251.7,426.8 L248,426.7 L244.3,426.7 L240.5,426.7 L236.7,426.8 L232.9,426.9 L229.1,427 L225.2,427.2 L221.3,427.5 L217.3,427.8 L213.3,428.1 L209.2,428.6 L205,429.1 L200.8,429.7 L196.5,430.3 L192.2,431 L187.9,431.8 L183.6,432.5 L179.3,433.3 L175,434.2 L170.7,435 L166.5,435.9 L162.3,436.8 L158.2,437.7 L154.2,438.6 L150.2,439.5 L146.3,440.4 L142.4,441.4 L138.6,442.5 L134.9,443.5 L131.3,444.6 L127.7,445.7 L124.3,446.9 L120.8,448 L117.5,449.1 L114.2,450.2 L110.9,451.3 L107.6,452.4 L104.3,453.5 L101.1,454.5 L97.8,455.5 L94.5,456.5 L91.2,457.5 L87.7,458.6 L84.3,459.7 L80.7,460.7 L77.2,461.8 L73.6,462.8 L70,463.9 L66.4,464.9 L62.7,466 L59,467 L55.4,468 L51.7,469.1 L48,470.1 L44.3,471.2 L40.6,472.2 L36.9,473.3 L33.2,474.3Z" fill="#d6ecfa"/>
<ellipse cx="178.8" cy="409.5" rx="25.6" ry="14.1" transform="rotate(-8.0 178.8 409.5)" fill="#20265a"/>
<path d="M139.6,276.3 L139.9,279.7 L140.2,283.2 L140.5,286.6 L140.8,290.1 L141.1,293.5 L141.4,297 L141.6,300.5 L141.9,304 L142.2,307.5 L142.5,311 L142.8,314.6 L143.2,318.2 L143.5,321.8 L143.9,325.5 L144.3,329.2 L144.7,332.9 L145.1,336.7 L145.6,340.5 L146.1,344.4 L146.6,348.3 L147.1,352.2 L147.6,356.1 L148.2,360 L148.7,363.9 L149.3,367.8 L149.8,371.6 L150.3,375.4 L150.8,379.2 L151.4,382.9 L151.8,386.5 L152.3,390 L152.7,393.4 L153.2,396.8 L153.6,400.1 L154,403.3 L154.4,406.5 L154.8,409.7 L155.1,412.8 L202.4,406.2 L201.9,403.1 L201.4,399.9 L200.9,396.7 L200.4,393.4 L199.8,390 L199.3,386.6 L198.7,383.1 L198.1,379.4 L197.4,375.8 L196.8,372 L196.1,368.3 L195.5,364.5 L194.8,360.7 L194.2,356.8 L193.5,353 L192.9,349.2 L192.2,345.4 L191.6,341.6 L191,337.9 L190.4,334.2 L189.8,330.6 L189.3,327.1 L188.8,323.6 L188.3,320.2 L187.9,316.7 L187.4,313.3 L187,309.8 L186.5,306.4 L186.1,303 L185.7,299.5 L185.3,296.1 L184.9,292.7 L184.5,289.2 L184.1,285.7 L183.7,282.3 L183.2,278.8 L182.8,275.2 L182.4,271.7Z" fill="#8fcdef" stroke="#20265a" stroke-width="3.4"/>
<ellipse cx="178.8" cy="409.5" rx="22.2" ry="12.2" transform="rotate(-8.0 178.8 409.5)" fill="#8fcdef"/>
<path d="M146.1,275.6 L146.4,279.1 L146.7,282.5 L147,286 L147.3,289.4 L147.5,292.9 L147.8,296.3 L148.1,299.8 L148.4,303.3 L148.7,306.8 L149,310.3 L149.3,313.9 L149.6,317.5 L150,321.1 L150.3,324.7 L150.7,328.4 L151.1,332.1 L151.6,335.8 L152,339.6 L152.5,343.5 L153,347.3 L153.5,351.2 L154.1,355.1 L154.6,359 L155.1,362.9 L155.7,366.8 L156.2,370.6 L156.7,374.4 L157.3,378.2 L157.8,381.9 L158.3,385.5 L158.7,389 L159.2,392.5 L159.6,395.8 L160,399.2 L160.4,402.4 L160.8,405.6 L161.2,408.8 L161.6,411.9 L196,407.1 L195.5,404 L195,400.8 L194.5,397.6 L193.9,394.3 L193.4,391 L192.8,387.5 L192.2,384 L191.6,380.4 L191,376.8 L190.4,373 L189.7,369.3 L189.1,365.5 L188.4,361.7 L187.7,357.8 L187.1,354 L186.4,350.2 L185.8,346.4 L185.2,342.6 L184.6,338.8 L184,335.1 L183.4,331.5 L182.9,327.9 L182.4,324.4 L181.9,320.9 L181.4,317.4 L180.9,314 L180.5,310.5 L180.1,307.1 L179.6,303.6 L179.2,300.2 L178.8,296.7 L178.4,293.3 L178,289.8 L177.6,286.4 L177.2,282.9 L176.8,279.4 L176.4,275.9 L175.9,272.4Z" fill="#d6ecfa"/>
<ellipse cx="178.8" cy="409.5" rx="17.4" ry="9.6" transform="rotate(-8.0 178.8 409.5)" fill="#d6ecfa"/></g>
<g clip-path="url(#cpR1)"><path d="M41.7,510.3 L45.4,509.7 L49.1,509 L52.9,508.3 L56.6,507.6 L60.4,507 L64.1,506.3 L67.9,505.6 L71.7,504.9 L75.5,504.3 L79.3,503.6 L83.1,502.8 L86.9,502.1 L90.7,501.4 L94.5,500.6 L98.3,499.9 L102.2,499.1 L106,498.1 L109.8,497.1 L113.5,496.1 L117,495.1 L120.5,494.1 L124,493 L127.4,492 L130.7,491.1 L133.9,490.1 L137.2,489.2 L140.4,488.3 L143.6,487.4 L146.8,486.6 L150,485.7 L153.3,485 L156.7,484.2 L160.3,483.4 L164.1,482.5 L167.9,481.7 L171.8,480.8 L175.8,480 L179.8,479.1 L183.8,478.3 L187.8,477.5 L191.8,476.8 L195.7,476.1 L199.6,475.4 L203.5,474.8 L207.3,474.2 L211,473.7 L214.6,473.2 L218.1,472.8 L221.6,472.4 L225,472.1 L228.4,471.7 L231.8,471.4 L235.1,471.2 L238.4,471 L241.7,470.8 L244.9,470.7 L248.2,470.6 L251.4,470.5 L254.7,470.5 L257.9,470.5 L261.2,470.6 L264.4,470.7 L267.7,470.8 L270.8,470.9 L273.6,471.2 L276.4,471.6 L279.4,472.2 L282.5,472.8 L285.9,473.5 L289.3,474.3 L292.9,475.1 L296.6,476 L300.4,476.9 L304.4,477.7 L308.4,478.6 L312.5,479.3 L316.8,480 L321.2,480.5 L325.8,480.9 L330.6,481 L335.3,480.8 L339.8,480.4 L344,479.7 L348,478.9 L351.8,477.9 L355.2,476.9 L358.3,475.9 L361.1,474.9 L363.6,474 L365.8,473.1 L367.8,472.4 L369.6,471.9 L371.2,471.4 L372.6,471 L373.9,470.7 L375.5,470.5 L377.8,470.1 L380.4,469.7 L383,469.3 L385.8,468.9 L388.6,468.5 L391.5,468.2 L394.4,467.9 L397.3,467.6 L400.3,467.3 L403.3,467 L406.3,466.8 L409.3,466.6 L412.3,466.4 L415.2,466.2 L418.2,466.1 L421,466 L423.9,465.8 L426.8,465.7 L429.8,465.6 L432.7,465.5 L435.7,465.5 L438.7,465.4 L441.7,465.4 L444.7,465.5 L447.6,465.5 L450.6,465.6 L453.4,465.6 L456.3,465.7 L459.1,465.9 L461.9,466 L464.5,466.2 L467.1,466.4 L469.5,466.4 L471.7,466.5 L474,466.7 L476.3,466.8 L478.5,467 L480.8,467.3 L483.1,467.5 L485.5,467.8 L487.9,468.1 L490.3,468.4 L492.8,468.8 L495.4,469.1 L498,469.5 L500.7,469.9 L503.5,470.2 L506.2,470.6 L515.8,419.4 L513.4,418.8 L511.2,418.2 L508.9,417.5 L506.5,416.8 L504.1,416.1 L501.7,415.4 L499.2,414.7 L496.6,413.9 L494,413.2 L491.2,412.5 L488.4,411.8 L485.5,411.1 L482.5,410.4 L479.4,409.8 L476.2,409.2 L472.9,408.6 L469.7,408.3 L466.5,407.9 L463.3,407.6 L460,407.4 L456.6,407.1 L453.3,406.9 L449.9,406.7 L446.5,406.5 L443,406.3 L439.6,406.2 L436.1,406.1 L432.7,406 L429.2,406 L425.8,406 L422.4,406 L419,406 L415.6,406.2 L412.1,406.3 L408.7,406.5 L405.3,406.7 L401.8,407 L398.3,407.2 L394.9,407.5 L391.4,407.9 L388,408.2 L384.6,408.6 L381.2,409 L377.8,409.4 L374.5,409.9 L371.2,410.4 L367.9,410.9 L364.5,411.5 L360.6,412.4 L356.7,413.4 L353.1,414.6 L349.8,415.7 L346.8,416.9 L344.2,418 L341.8,419 L339.8,419.9 L338,420.6 L336.4,421.2 L335.1,421.7 L333.9,422.1 L332.8,422.5 L331.7,422.7 L330.6,422.9 L329.4,423 L328,423.1 L326.2,423 L324,422.8 L321.4,422.5 L318.6,422.1 L315.5,421.6 L312.1,421 L308.6,420.3 L304.9,419.5 L301.1,418.8 L297,418 L292.9,417.2 L288.6,416.5 L284.2,415.9 L279.6,415.4 L275.2,415.1 L271.1,414.8 L267.2,414.5 L263.4,414.2 L259.6,414.1 L255.7,413.9 L251.8,413.8 L248,413.7 L244.1,413.7 L240.1,413.7 L236.2,413.8 L232.3,413.9 L228.3,414 L224.2,414.3 L220.2,414.5 L216.1,414.8 L211.9,415.2 L207.6,415.6 L203.3,416.2 L198.9,416.8 L194.5,417.5 L190.1,418.2 L185.7,419 L181.3,419.8 L176.9,420.6 L172.5,421.4 L168.1,422.3 L163.8,423.2 L159.6,424.1 L155.4,425 L151.3,425.9 L147.3,426.9 L143.3,427.8 L139.3,428.8 L135.3,429.9 L131.5,431 L127.7,432.1 L124,433.3 L120.5,434.4 L117,435.6 L113.6,436.7 L110.2,437.8 L107,438.9 L103.7,440 L100.6,441 L97.4,442 L94.2,443 L91.1,444 L87.8,444.9 L84.5,446 L81.1,447.1 L77.6,448.1 L74.1,449.2 L70.6,450.2 L67,451.2 L63.4,452.3 L59.8,453.3 L56.1,454.3 L52.5,455.4 L48.8,456.4 L45.1,457.5 L41.4,458.5 L37.7,459.5 L33.9,460.6 L30.3,461.7Z" fill="#fdfbea" stroke="#20265a" stroke-width="3.8"/>
<path d="M40.2,504 L44,503.3 L47.7,502.6 L51.4,502 L55.2,501.3 L58.9,500.6 L62.7,500 L66.5,499.3 L70.3,498.6 L74,497.9 L77.8,497.2 L81.6,496.5 L85.4,495.8 L89.2,495.1 L93,494.3 L96.7,493.6 L100.5,492.8 L104.3,491.8 L108,490.9 L111.6,489.9 L115.1,488.9 L118.6,487.8 L122,486.8 L125.4,485.8 L128.7,484.9 L132,483.9 L135.3,483 L138.5,482 L141.8,481.1 L145.1,480.3 L148.4,479.5 L151.7,478.7 L155.2,477.9 L158.8,477 L162.6,476.2 L166.5,475.3 L170.5,474.5 L174.5,473.6 L178.5,472.8 L182.5,471.9 L186.5,471.2 L190.6,470.4 L194.6,469.7 L198.6,469 L202.5,468.4 L206.4,467.8 L210.1,467.2 L213.8,466.8 L217.4,466.4 L220.9,466 L224.5,465.6 L227.9,465.2 L231.4,465 L234.8,464.7 L238.2,464.5 L241.5,464.3 L244.8,464.2 L248.2,464.1 L251.5,464 L254.8,464 L258.1,464 L261.4,464.1 L264.8,464.2 L268.1,464.3 L271.3,464.4 L274.3,464.8 L277.3,465.2 L280.4,465.7 L283.7,466.4 L287.2,467.1 L290.7,467.9 L294.3,468.8 L298,469.6 L301.8,470.5 L305.6,471.4 L309.5,472.2 L313.5,472.9 L317.6,473.5 L321.8,474.1 L326.1,474.4 L330.4,474.5 L334.7,474.3 L338.9,473.9 L342.8,473.4 L346.5,472.6 L349.9,471.7 L353.1,470.8 L356,469.8 L358.7,468.8 L361.2,467.9 L363.5,467.1 L365.5,466.4 L367.4,465.7 L369.2,465.2 L370.9,464.8 L372.5,464.4 L374.3,464.1 L376.7,463.7 L379.4,463.3 L382.1,462.9 L384.9,462.5 L387.8,462.1 L390.7,461.7 L393.7,461.4 L396.7,461.1 L399.7,460.8 L402.7,460.6 L405.8,460.3 L408.8,460.1 L411.9,459.9 L414.9,459.7 L417.9,459.6 L420.8,459.5 L423.8,459.3 L426.7,459.2 L429.7,459.1 L432.7,459 L435.8,459 L438.8,458.9 L441.8,458.9 L444.9,459 L447.9,459 L450.9,459.1 L453.8,459.1 L456.7,459.3 L459.6,459.4 L462.4,459.5 L465.1,459.7 L467.7,459.9 L470.2,460 L472.6,460.1 L475,460.2 L477.3,460.4 L479.7,460.6 L482,460.9 L484.4,461.1 L486.8,461.4 L489.2,461.8 L491.7,462.1 L494.2,462.4 L496.7,462.8 L499.3,463.1 L502,463.5 L504.7,463.9 L507.4,464.2 L514.6,425.8 L512.2,425.2 L509.9,424.5 L507.5,423.9 L505.2,423.2 L502.8,422.5 L500.3,421.8 L497.9,421 L495.3,420.3 L492.7,419.6 L490,418.9 L487.3,418.2 L484.4,417.5 L481.5,416.8 L478.5,416.2 L475.4,415.6 L472.3,415.1 L469.1,414.8 L466,414.4 L462.8,414.1 L459.6,413.8 L456.3,413.6 L453,413.4 L449.6,413.2 L446.3,413 L442.9,412.8 L439.5,412.7 L436.1,412.6 L432.7,412.5 L429.3,412.5 L425.9,412.5 L422.5,412.5 L419.2,412.5 L415.8,412.6 L412.5,412.8 L409.1,413 L405.7,413.2 L402.3,413.4 L398.9,413.7 L395.5,414 L392.1,414.3 L388.7,414.7 L385.3,415.1 L382,415.5 L378.7,415.9 L375.4,416.3 L372.2,416.8 L369,417.3 L365.7,417.9 L362,418.7 L358.4,419.7 L355.1,420.8 L352,421.9 L349.1,423 L346.6,424 L344.2,425 L342.1,425.9 L340.2,426.7 L338.5,427.4 L336.9,428 L335.4,428.4 L334,428.8 L332.6,429.1 L331.2,429.4 L329.6,429.5 L327.7,429.5 L325.6,429.5 L323.1,429.3 L320.4,428.9 L317.4,428.5 L314.2,427.9 L310.8,427.3 L307.3,426.6 L303.5,425.9 L299.7,425.1 L295.8,424.4 L291.7,423.6 L287.5,423 L283.3,422.4 L278.9,421.9 L274.7,421.6 L270.7,421.2 L266.9,421 L263.1,420.7 L259.4,420.5 L255.6,420.4 L251.8,420.3 L248,420.2 L244.2,420.2 L240.3,420.2 L236.5,420.3 L232.6,420.4 L228.7,420.5 L224.7,420.7 L220.7,421 L216.7,421.3 L212.6,421.6 L208.4,422.1 L204.2,422.6 L199.9,423.2 L195.5,423.9 L191.2,424.6 L186.8,425.4 L182.4,426.1 L178.1,427 L173.7,427.8 L169.4,428.7 L165.2,429.6 L161,430.5 L156.8,431.4 L152.7,432.3 L148.8,433.2 L144.8,434.1 L140.9,435.1 L137,436.2 L133.2,437.3 L129.5,438.4 L125.9,439.5 L122.4,440.6 L118.9,441.8 L115.5,442.9 L112.2,444 L108.9,445.1 L105.7,446.2 L102.5,447.2 L99.2,448.3 L96,449.3 L92.8,450.3 L89.5,451.2 L86.1,452.3 L82.7,453.4 L79.2,454.4 L75.6,455.5 L72.1,456.5 L68.5,457.6 L64.9,458.6 L61.2,459.6 L57.6,460.7 L53.9,461.7 L50.2,462.7 L46.5,463.8 L42.8,464.8 L39.1,465.9 L35.4,466.9 L31.8,468Z" fill="#8fcdef" stroke="#20265a" stroke-width="3.4"/>
<path d="M38.8,497.7 L42.5,497 L46.2,496.3 L49.9,495.6 L53.7,495 L57.5,494.3 L61.2,493.6 L65,493 L68.8,492.3 L72.6,491.6 L76.3,490.9 L80.1,490.2 L83.9,489.5 L87.6,488.8 L91.4,488 L95.1,487.3 L98.8,486.5 L102.5,485.6 L106.2,484.6 L109.7,483.6 L113.2,482.6 L116.7,481.6 L120.1,480.6 L123.4,479.6 L126.8,478.7 L130.1,477.7 L133.4,476.7 L136.7,475.8 L140,474.9 L143.3,474 L146.7,473.2 L150.1,472.4 L153.7,471.6 L157.4,470.7 L161.2,469.8 L165.1,469 L169.1,468.1 L173.1,467.2 L177.2,466.4 L181.2,465.6 L185.3,464.8 L189.4,464 L193.5,463.3 L197.5,462.6 L201.5,461.9 L205.4,461.3 L209.3,460.8 L213,460.3 L216.7,459.9 L220.3,459.5 L223.9,459.1 L227.5,458.8 L231,458.5 L234.5,458.2 L237.9,458 L241.3,457.8 L244.7,457.7 L248.1,457.6 L251.5,457.5 L254.9,457.5 L258.3,457.5 L261.7,457.6 L265.1,457.7 L268.5,457.8 L271.8,458 L275,458.3 L278.2,458.8 L281.5,459.3 L284.9,460 L288.4,460.8 L292,461.6 L295.7,462.4 L299.4,463.3 L303.1,464.1 L306.9,465 L310.7,465.8 L314.5,466.5 L318.4,467.1 L322.3,467.6 L326.3,467.9 L330.3,468 L334.2,467.9 L338,467.5 L341.5,467 L344.9,466.3 L348.1,465.5 L351,464.6 L353.8,463.7 L356.4,462.8 L358.8,461.9 L361.1,461 L363.2,460.3 L365.3,459.6 L367.2,459 L369.1,458.5 L371,458.1 L373.1,457.7 L375.6,457.3 L378.4,456.8 L381.2,456.4 L384.1,456 L387,455.6 L390,455.3 L393,455 L396,454.6 L399.1,454.3 L402.2,454.1 L405.3,453.8 L408.4,453.6 L411.5,453.4 L414.6,453.3 L417.6,453.1 L420.6,453 L423.6,452.8 L426.6,452.7 L429.7,452.6 L432.7,452.5 L435.8,452.5 L438.9,452.4 L442,452.4 L445.1,452.5 L448.1,452.5 L451.2,452.6 L454.2,452.7 L457.1,452.8 L460,452.9 L462.9,453.1 L465.7,453.2 L468.4,453.4 L471,453.5 L473.5,453.6 L475.9,453.8 L478.4,454 L480.8,454.2 L483.3,454.5 L485.7,454.8 L488.1,455.1 L490.6,455.4 L493.1,455.7 L495.6,456.1 L498.1,456.4 L500.7,456.8 L503.3,457.1 L506,457.5 L508.6,457.8 L513.4,432.2 L511,431.6 L508.6,430.9 L506.2,430.2 L503.8,429.5 L501.4,428.8 L499,428.1 L496.5,427.4 L494,426.7 L491.4,426 L488.8,425.3 L486.1,424.6 L483.4,423.9 L480.5,423.3 L477.6,422.7 L474.6,422.1 L471.6,421.6 L468.5,421.2 L465.5,420.9 L462.3,420.6 L459.1,420.3 L455.9,420.1 L452.7,419.9 L449.4,419.7 L446.1,419.5 L442.7,419.3 L439.4,419.2 L436,419.1 L432.7,419 L429.4,419 L426,419 L422.7,419 L419.4,419 L416.1,419.1 L412.8,419.3 L409.5,419.5 L406.1,419.7 L402.8,419.9 L399.4,420.2 L396.1,420.5 L392.7,420.8 L389.4,421.1 L386.1,421.5 L382.8,421.9 L379.5,422.3 L376.3,422.8 L373.2,423.2 L370.1,423.7 L366.9,424.3 L363.5,425 L360.1,426 L357,427 L354.1,428 L351.4,429.1 L348.9,430.1 L346.6,431.1 L344.5,432 L342.5,432.8 L340.6,433.6 L338.8,434.2 L337,434.7 L335.3,435.2 L333.5,435.6 L331.7,435.8 L329.7,436 L327.5,436 L325.1,435.9 L322.3,435.7 L319.4,435.4 L316.3,434.9 L312.9,434.3 L309.5,433.7 L305.9,433 L302.2,432.2 L298.4,431.5 L294.5,430.7 L290.5,430 L286.5,429.4 L282.4,428.8 L278.2,428.3 L274.2,428 L270.3,427.7 L266.6,427.5 L262.9,427.2 L259.2,427 L255.5,426.9 L251.7,426.8 L248,426.7 L244.3,426.7 L240.5,426.7 L236.7,426.8 L232.9,426.9 L229.1,427 L225.2,427.2 L221.3,427.5 L217.3,427.8 L213.3,428.1 L209.2,428.6 L205,429.1 L200.8,429.7 L196.5,430.3 L192.2,431 L187.9,431.8 L183.6,432.5 L179.3,433.3 L175,434.2 L170.7,435 L166.5,435.9 L162.3,436.8 L158.2,437.7 L154.2,438.6 L150.2,439.5 L146.3,440.4 L142.4,441.4 L138.6,442.5 L134.9,443.5 L131.3,444.6 L127.7,445.7 L124.3,446.9 L120.8,448 L117.5,449.1 L114.2,450.2 L110.9,451.3 L107.6,452.4 L104.3,453.5 L101.1,454.5 L97.8,455.5 L94.5,456.5 L91.2,457.5 L87.7,458.6 L84.3,459.7 L80.7,460.7 L77.2,461.8 L73.6,462.8 L70,463.9 L66.4,464.9 L62.7,466 L59,467 L55.4,468 L51.7,469.1 L48,470.1 L44.3,471.2 L40.6,472.2 L36.9,473.3 L33.2,474.3Z" fill="#d6ecfa"/></g>
<path d="M342,606 L341,604.2 L340,602.4 L339,600.7 L337.9,599.1 L336.9,597.5 L335.9,595.9 L334.8,594.3 L333.8,592.6 L332.8,590.9 L331.8,589.2 L330.8,587.3 L329.8,585.3 L328.8,583.2 L327.9,581 L326.9,578.6 L326,576 L325.1,573.2 L324.2,570.4 L323.2,567.4 L322.3,564.3 L321.3,561.1 L320.4,557.7 L319.5,554.3 L318.6,550.8 L317.8,547.2 L316.9,543.5 L316.1,539.8 L315.4,535.9 L314.7,532 L314.1,528.1 L313.5,524.1 L313,520 L312.6,515.8 L312.2,511.2 L311.8,506.5 L311.5,501.6 L311.3,496.5 L311.1,491.3 L310.9,486.1 L310.8,480.9 L310.7,475.8 L310.7,470.7 L310.7,465.8 L310.7,461.1 L310.7,456.6 L310.8,452.4 L310.9,448.5 L311,445 L311.1,441.8 L311.3,438.9 L311.5,436.1 L311.7,433.6 L311.9,431.3 L312.2,429.1 L312.5,427.2 L312.9,425.3 L313.3,423.6 L313.7,422 L314.1,420.5 L314.6,419.1 L315.1,417.8 L315.7,416.5 L316.3,415.2 L317,414 L317.7,412.8 L318.5,411.8 L319.4,410.9 L320.3,410.1 L321.3,409.4 L322.3,408.7 L323.4,408.2 L324.4,407.8 L325.5,407.4 L326.6,407 L327.7,406.8 L328.8,406.5 L329.9,406.4 L331,406.2 L332,406.1 L333,406 L334,405.9 L335,406 L336,406 L337,406.2 L338,406.4 L339,406.7 L340.1,407 L341.1,407.3 L342,407.7 L343,408.1 L343.9,408.6 L344.8,409 L345.7,409.5 L346.5,410 L347.3,410.5 L348,411 L348.7,411.5 L349.3,412.1 L349.8,412.7 L350.3,413.3 L350.8,414 L351.2,414.7 L351.6,415.4 L352,416.1 L352.4,416.9 L352.7,417.6 L353.1,418.4 L353.4,419.1 L353.8,419.9 L354.2,420.6 L354.6,421.3 L355,422" fill="none" stroke="#20265a" stroke-width="12" stroke-linecap="butt" stroke-linejoin="round"/>
<path d="M342,606 L341,604.2 L340,602.4 L339,600.7 L337.9,599.1 L336.9,597.5 L335.9,595.9 L334.8,594.3 L333.8,592.6 L332.8,590.9 L331.8,589.2 L330.8,587.3 L329.8,585.3 L328.8,583.2 L327.9,581 L326.9,578.6 L326,576 L325.1,573.2 L324.2,570.4 L323.2,567.4 L322.3,564.3 L321.3,561.1 L320.4,557.7 L319.5,554.3 L318.6,550.8 L317.8,547.2 L316.9,543.5 L316.1,539.8 L315.4,535.9 L314.7,532 L314.1,528.1 L313.5,524.1 L313,520 L312.6,515.8 L312.2,511.2 L311.8,506.5 L311.5,501.6 L311.3,496.5 L311.1,491.3 L310.9,486.1 L310.8,480.9 L310.7,475.8 L310.7,470.7 L310.7,465.8 L310.7,461.1 L310.7,456.6 L310.8,452.4 L310.9,448.5 L311,445 L311.1,441.8 L311.3,438.9 L311.5,436.1 L311.7,433.6 L311.9,431.3 L312.2,429.1 L312.5,427.2 L312.9,425.3 L313.3,423.6 L313.7,422 L314.1,420.5 L314.6,419.1 L315.1,417.8 L315.7,416.5 L316.3,415.2 L317,414 L317.7,412.8 L318.5,411.8 L319.4,410.9 L320.3,410.1 L321.3,409.4 L322.3,408.7 L323.4,408.2 L324.4,407.8 L325.5,407.4 L326.6,407 L327.7,406.8 L328.8,406.5 L329.9,406.4 L331,406.2 L332,406.1 L333,406 L334,405.9 L335,406 L336,406 L337,406.2 L338,406.4 L339,406.7 L340.1,407 L341.1,407.3 L342,407.7 L343,408.1 L343.9,408.6 L344.8,409 L345.7,409.5 L346.5,410 L347.3,410.5 L348,411 L348.7,411.5 L349.3,412.1 L349.8,412.7 L350.3,413.3 L350.8,414 L351.2,414.7 L351.6,415.4 L352,416.1 L352.4,416.9 L352.7,417.6 L353.1,418.4 L353.4,419.1 L353.8,419.9 L354.2,420.6 L354.6,421.3 L355,422" fill="none" stroke="#fdfbea" stroke-width="6.5" stroke-linecap="butt" stroke-linejoin="round"/>
<path d="M167.2,320.1 L167.3,323.2 L167.4,326.4 L167.4,329.6 L167.5,332.8 L167.5,336 L167.6,339.2 L167.6,342.4 L167.7,345.7 L167.8,348.8 L167.9,352 L167.9,355.2 L168.1,358.3 L168.2,361.4 L168.3,364.4 L168.5,367.4 L168.7,370.3 L169,373.1 L169.2,375.9 L169.5,378.7 L169.8,381.3 L170.2,384 L170.5,386.6 L172.4,397.9 L179.3,396.7 L177.4,385.5 L177,383 L176.6,380.4 L176.2,377.8 L175.9,375.2 L175.6,372.5 L175.3,369.7 L175,366.9 L174.8,364 L174.6,361 L174.4,358 L174.2,354.9 L174.1,351.8 L173.9,348.6 L173.8,345.5 L173.7,342.3 L173.6,339.1 L173.4,335.9 L173.3,332.6 L173.2,329.4 L173.1,326.2 L172.9,323 L172.8,319.9Z" fill="#20265a" stroke="#20265a" stroke-width="0.6" stroke-linejoin="round"/><path d="M178,411 L162.4,389.1 L175.7,396.3 L186.1,385.4Z" fill="#20265a" stroke="#20265a" stroke-width="0.8" stroke-linejoin="round"/>
<path d="M185.4,435.2 L185.1,436.2 L184.8,437.2 L184.6,438.3 L184.5,439.3 L184.3,440.3 L184.2,441.3 L184.1,442.2 L183.9,443.1 L183.7,443.9 L183.5,444.6 L183.3,445.3 L183,445.9 L182.7,446.4 L182.4,446.9 L181.9,447.3 L181.4,447.7 L180.8,448.1 L180.2,448.4 L179.6,448.6 L178.9,448.7 L178.2,448.9 L177.4,449 L176.4,449.1 L175.2,449.2 L173.9,449.3 L172.4,449.5 L170.8,449.7 L168.9,450 L166.9,450.4 L164.6,450.8 L162,451.4 L159.2,452.2 L156.1,453.1 L152.7,454 L149.1,455.1 L145.1,456.3 L141,457.6 L136.6,458.9 L132.1,460.2 L127.5,461.7 L122.8,463.1 L118,464.6 L113.2,466 L102.2,469.4 L104,475.2 L115,471.8 L119.8,470.3 L124.5,468.8 L129.2,467.3 L133.9,465.9 L138.4,464.5 L142.7,463.2 L146.8,461.9 L150.7,460.8 L154.4,459.7 L157.8,458.7 L160.8,457.8 L163.5,457.1 L165.8,456.5 L168,456 L169.9,455.7 L171.6,455.4 L173.1,455.2 L174.5,455 L175.8,454.9 L177,454.8 L178.1,454.7 L179.2,454.5 L180.3,454.3 L181.3,454 L182.4,453.5 L183.5,453 L184.6,452.3 L185.7,451.5 L186.6,450.5 L187.4,449.5 L188,448.4 L188.5,447.3 L188.8,446.2 L189.1,445.1 L189.3,444.1 L189.5,443 L189.6,442 L189.8,441 L189.9,440.1 L190,439.2 L190.2,438.4 L190.3,437.6 L190.6,436.8Z" fill="#20265a" stroke="#20265a" stroke-width="0.6" stroke-linejoin="round"/><path d="M91,476 L108.5,458.1 L104,472 L115.6,481Z" fill="#20265a" stroke="#20265a" stroke-width="0.8" stroke-linejoin="round"/>
<path d="M185.5,436.9 L185.7,437.7 L185.9,438.4 L186.1,439.2 L186.3,440.1 L186.5,441 L186.7,441.9 L186.9,442.9 L187.1,443.8 L187.3,444.8 L187.6,445.8 L188,446.8 L188.4,447.8 L189,448.8 L189.7,449.7 L190.5,450.6 L191.3,451.3 L192.2,451.8 L192.9,452.3 L193.7,452.7 L194.5,453 L195.3,453.3 L196.2,453.5 L197.1,453.7 L198.1,453.8 L199.1,453.9 L200.2,453.9 L201.4,453.9 L202.7,453.9 L204.2,453.9 L205.9,453.9 L207.9,453.9 L210,453.9 L212.5,453.9 L215.2,453.9 L218.2,453.8 L221.3,453.7 L224.7,453.6 L228.3,453.5 L231.9,453.4 L235.7,453.2 L239.5,453.1 L243.4,452.9 L253.5,452.5 L253.2,446.5 L243.2,446.9 L239.3,447.1 L235.4,447.3 L231.7,447.4 L228,447.6 L224.5,447.7 L221.2,447.8 L218,447.9 L215.1,448 L212.4,448.1 L210,448.1 L207.8,448.1 L205.9,448.1 L204.2,448.1 L202.7,448.1 L201.4,448.2 L200.3,448.1 L199.3,448.1 L198.6,448.1 L197.9,448 L197.3,447.9 L196.9,447.8 L196.5,447.7 L196.1,447.5 L195.7,447.3 L195.2,447 L194.7,446.7 L194.3,446.4 L194,446.1 L193.7,445.7 L193.4,445.2 L193.1,444.7 L192.9,444 L192.6,443.3 L192.4,442.5 L192.2,441.7 L192,440.8 L191.8,439.9 L191.6,438.9 L191.4,438 L191.2,437 L190.9,436 L190.5,435.1Z" fill="#20265a" stroke="#20265a" stroke-width="0.6" stroke-linejoin="round"/><path d="M266,449 L244.5,461.8 L252.4,449.5 L243.5,437.9Z" fill="#20265a" stroke="#20265a" stroke-width="0.8" stroke-linejoin="round"/>
<path d="M293.5,545 L293.5,542.1 L293.5,539.3 L293.5,536.5 L293.5,533.7 L293.5,530.8 L293.5,528 L293.5,525.2 L293.4,522.3 L293.4,519.5 L293.4,516.7 L293.4,513.9 L293.4,511.1 L293.4,508.3 L293.4,505.5 L293.4,502.7 L293.5,500 L293.5,497.2 L293.5,494.5 L293.5,491.8 L293.5,489.1 L293.6,486.4 L293.6,483.7 L293.6,481 L293.7,478.3 L293.6,468.4 L287.6,468.4 L287.8,478.4 L287.9,481.1 L288,483.8 L288,486.4 L288.1,489.1 L288.2,491.8 L288.3,494.6 L288.4,497.3 L288.5,500 L288.6,502.8 L288.8,505.6 L288.9,508.4 L289,511.2 L289.1,514 L289.2,516.8 L289.4,519.6 L289.5,522.4 L289.6,525.3 L289.7,528.1 L289.9,530.9 L290,533.7 L290.1,536.6 L290.3,539.4 L290.4,542.2 L290.5,545Z" fill="#8957a8" stroke="#8957a8" stroke-width="0.6" stroke-linejoin="round"/><path d="M290.5,457 L302.7,476.9 L290.6,469.4 L278.7,477.1Z" fill="#8957a8" stroke="#8957a8" stroke-width="0.8" stroke-linejoin="round"/>
<path d="M237.6,685.7 L238.9,687.6 L240.2,689.5 L241.4,691.6 L242.6,693.6 L243.9,695.7 L245.1,697.8 L246.3,699.9 L247.6,702 L248.9,704.1 L250.3,706.1 L251.7,708.2 L253.2,710.2 L254.8,712.1 L256.4,713.9 L258.2,715.7 L260.1,717.3 L262.1,718.9 L264.2,720.5 L266.4,722.1 L268.7,723.7 L271.2,725.2 L273.7,726.8 L276.2,728.2 L278.8,729.6 L281.4,730.8 L284,731.9 L286.6,732.9 L289.1,733.6 L291.6,734.1 L294.1,734.4 L296.5,734.4 L298.8,734 L301,733.2 L303.1,732 L305,730.6 L306.8,729 L308.6,727.1 L310.2,725.1 L311.7,722.9 L313.1,720.6 L314.5,718.1 L315.7,715.6 L316.8,713.1 L317.7,710.5 L318.5,707.9 L319.2,705.4 L319.8,702.8 L320.1,700.3 L320.3,697.8 L320.2,695.1 L319.9,692.4 L319.5,689.7 L318.9,687 L318.1,684.3 L317.3,681.5 L316.4,678.8 L315.4,676.1 L314.4,673.4 L313.4,670.8 L312.4,668.2 L311.5,665.7 L310.6,663.4 L309.8,661.1 L309.1,659 L308.4,656.9 L307.7,654.9 L307,652.9 L306.3,651 L305.6,649.1 L301.8,640.2 L295.8,642.7 L299.6,651.6 L300.2,653.3 L300.9,655.1 L301.6,657 L302.3,659 L302.9,661 L303.7,663.3 L304.6,665.6 L305.5,668 L306.5,670.5 L307.5,673.1 L308.5,675.6 L309.4,678.2 L310.4,680.9 L311.2,683.4 L312,686 L312.7,688.5 L313.3,691 L313.7,693.3 L313.9,695.6 L314,697.7 L313.9,699.7 L313.6,701.7 L313.1,703.9 L312.5,706.2 L311.8,708.5 L310.9,710.8 L310,713.1 L308.9,715.3 L307.7,717.4 L306.5,719.5 L305.2,721.4 L303.8,723.1 L302.5,724.6 L301.1,725.8 L299.7,726.8 L298.4,727.6 L297.2,728 L295.9,728.3 L294.4,728.3 L292.6,728.1 L290.6,727.7 L288.5,727.1 L286.2,726.3 L283.9,725.3 L281.5,724.2 L279.1,722.9 L276.8,721.6 L274.4,720.1 L272.1,718.6 L269.9,717.1 L267.7,715.6 L265.7,714.1 L263.9,712.7 L262.3,711.3 L260.7,709.8 L259.3,708.2 L257.9,706.5 L256.5,704.7 L255.2,702.8 L253.9,700.9 L252.6,698.9 L251.4,696.8 L250.2,694.8 L248.9,692.7 L247.7,690.6 L246.4,688.5 L245.1,686.4 L243.8,684.3 L242.4,682.3Z" fill="#8957a8" stroke="#8957a8" stroke-width="0.6" stroke-linejoin="round"/><path d="M295,632 L312.9,644.2 L299.2,642.3 L290.7,653.2Z" fill="#8957a8" stroke="#8957a8" stroke-width="0.8" stroke-linejoin="round"/>
<path d="M392.7,537.1 L388.8,537.5 L384.8,537.8 L380.7,538.1 L376.6,538.5 L372.5,538.8 L368.4,539.1 L364.3,539.5 L360.2,539.8 L356.1,540.1 L352.1,540.5 L348.1,540.9 L344.2,541.3 L340.4,541.7 L336.7,542.1 L333.1,542.5 L329.6,543 L326.2,543.5 L322.9,544 L319.8,544.5 L316.7,545 L313.7,545.5 L310.7,546 L307.8,546.6 L305,547.2 L302.2,547.8 L299.4,548.4 L296.7,549 L294,549.8 L291.2,550.5 L288.5,551.3 L285.8,552.2 L283,553.1 L280.2,554.1 L277.4,555.1 L274.5,556.2 L271.7,557.3 L268.8,558.5 L265.9,559.7 L263.1,561 L260.3,562.3 L257.6,563.6 L254.9,564.9 L252.3,566.3 L249.8,567.7 L247.4,569.1 L245.2,570.6 L243,572 L241.1,573.5 L239.2,575 L237.5,576.6 L236,578.2 L234.6,579.8 L233.3,581.4 L232.1,583 L231,584.7 L230,586.4 L229.1,588 L228.2,589.7 L227.4,591.4 L226.7,593.1 L226,594.8 L225.3,596.5 L224.7,598.2 L224,599.9 L223.3,601.7 L222.7,603.5 L222.2,605.4 L221.8,607.3 L221.4,609.2 L221.1,611.2 L220.2,619.6 L226.7,620.3 L227.5,612 L227.8,610.3 L228.1,608.6 L228.5,607 L228.9,605.3 L229.4,603.7 L230,602.1 L230.6,600.5 L231.3,598.8 L231.9,597.2 L232.6,595.6 L233.3,594 L234,592.5 L234.7,591 L235.5,589.5 L236.4,588.1 L237.3,586.6 L238.3,585.2 L239.4,583.8 L240.6,582.5 L241.9,581.1 L243.4,579.8 L244.9,578.5 L246.7,577.1 L248.6,575.8 L250.7,574.5 L252.9,573.1 L255.3,571.8 L257.8,570.5 L260.3,569.2 L263,567.9 L265.7,566.6 L268.4,565.4 L271.2,564.2 L274,563 L276.8,561.9 L279.5,560.9 L282.3,559.9 L285,558.9 L287.7,558 L290.3,557.2 L292.9,556.4 L295.5,555.7 L298.2,555 L300.8,554.3 L303.5,553.7 L306.2,553.1 L309,552.5 L311.8,552 L314.7,551.5 L317.7,551 L320.7,550.5 L323.9,550 L327.1,549.5 L330.4,549 L333.9,548.5 L337.4,548 L341.1,547.6 L344.9,547.2 L348.7,546.8 L352.7,546.4 L356.6,546.1 L360.7,545.7 L364.8,545.4 L368.9,545 L373,544.7 L377.1,544.3 L381.2,544 L385.3,543.6 L389.3,543.3 L393.3,542.9Z" fill="#c62229" stroke="#c62229" stroke-width="0.6" stroke-linejoin="round"/><path d="M222,630 L210.7,610.2 L223.6,619 L238.4,614.1Z" fill="#c62229" stroke="#c62229" stroke-width="0.8" stroke-linejoin="round"/>
<path d="M401.5,563.3 L400.5,563.5 L399.4,563.7 L398.3,563.9 L397.3,564 L396.2,564.2 L395.2,564.4 L394.1,564.5 L393.1,564.7 L392,564.9 L391,565.1 L389.9,565.2 L388.8,565.4 L387.7,565.6 L386.7,565.7 L385.6,565.9 L384.5,566.1 L383.4,566.3 L382.3,566.4 L375.3,567.6 L376.3,573.5 L383.3,572.3 L384.4,572.1 L385.5,571.9 L386.6,571.7 L387.7,571.5 L388.7,571.3 L389.8,571.1 L390.9,570.9 L391.9,570.7 L393,570.5 L394.1,570.3 L395.1,570.1 L396.2,569.9 L397.2,569.7 L398.3,569.5 L399.3,569.3 L400.4,569.1 L401.4,568.9 L402.5,568.7Z" fill="#c62229" stroke="#c62229" stroke-width="0.6" stroke-linejoin="round"/><path d="M367,572 L381.1,559.5 L376.8,570.4 L384.4,579.2Z" fill="#c62229" stroke="#c62229" stroke-width="0.8" stroke-linejoin="round"/>
<path d="M181.4,753.3 L181.8,749.5 L182.3,745.6 L182.6,741.6 L183,737.6 L183.4,733.5 L183.7,729.5 L184.1,725.4 L184.5,721.5 L184.9,717.5 L185.3,713.7 L185.7,710 L186.3,706.4 L186.8,703 L187.4,699.7 L188.1,696.7 L188.9,693.8 L189.7,691.2 L190.7,688.7 L191.7,686.2 L192.8,683.9 L193.9,681.7 L195.1,679.6 L196.3,677.6 L197.6,675.7 L198.9,674 L200.1,672.3 L201.4,670.7 L202.7,669.2 L203.9,667.8 L205.1,666.5 L206.2,665.3 L207.3,664.3 L208.2,663.4 L209.1,662.6 L209.8,662.1 L210.5,661.7 L211.1,661.4 L211.7,661.1 L212.2,661 L212.8,660.9 L213.4,660.9 L214,660.9 L214.8,660.9 L215.6,661 L216.5,661.1 L217.5,661.2 L218.5,661.3 L219.7,661.4 L220.7,661.5 L221.7,661.7 L222.9,662 L224.1,662.3 L225.2,662.7 L232.4,665.3 L234.8,658.8 L227.5,656.1 L225.9,655.6 L224.5,655.3 L223.1,655 L221.7,654.7 L220.3,654.6 L219.2,654.5 L218.2,654.4 L217.1,654.3 L216.1,654.2 L215.1,654.2 L214,654.2 L212.9,654.2 L211.8,654.3 L210.7,654.6 L209.5,654.9 L208.4,655.4 L207.2,656 L206.1,656.8 L205,657.6 L203.8,658.6 L202.7,659.7 L201.6,660.9 L200.4,662.2 L199.1,663.6 L197.9,665.1 L196.5,666.7 L195.2,668.5 L193.8,670.3 L192.5,672.3 L191.1,674.3 L189.8,676.5 L188.5,678.8 L187.3,681.2 L186.1,683.8 L185,686.5 L184,689.2 L183.1,692.2 L182.3,695.2 L181.6,698.5 L181,701.9 L180.4,705.5 L179.9,709.2 L179.5,713 L179.1,716.9 L178.7,720.9 L178.3,724.9 L178,729 L177.7,733 L177.3,737.1 L177,741.1 L176.6,745 L176.2,748.9 L175.8,752.7Z" fill="#20265a" stroke="#20265a" stroke-width="0.6" stroke-linejoin="round"/><path d="M242,665 L222.9,671.1 L232.6,661.7 L230.8,648.4Z" fill="#20265a" stroke="#20265a" stroke-width="0.8" stroke-linejoin="round"/>
<path d="M190,590 L232,572 M196,581 L203,597 M206,577 L213,593 M216,573 L223,589" stroke="#20265a" stroke-width="3" fill="none"/>
<circle cx="231.5" cy="686.3" r="63.7" fill="#0f6e98" fill-opacity="0.22" stroke="#1a1a1a" stroke-width="1.6"/>
<path d="M563,397 V439 H494" fill="none" stroke="#111" stroke-width="2.2"/>
<g transform="translate(607,0)"><path d="M93.9,596.2 L225.9,546.2 L234.1,567.8 L102.1,617.8Z" fill="#f09d9f" stroke="#20265a" stroke-width="3.2"/><path d="M94.5,597.6 L226.5,547.6 L230.4,557.9 L98.4,607.9Z" fill="#f6bcc0"/><ellipse cx="98" cy="607" rx="9.2" ry="11.5" transform="rotate(-20.7 98 607)" fill="#f09d9f" stroke="#20265a" stroke-width="3.2"/>
<path d="M104.9,627.8 L225.9,579.8 L234.1,600.2 L113.1,648.2Z" fill="#f09d9f" stroke="#20265a" stroke-width="3.2"/><path d="M105.5,629.2 L226.5,581.2 L230.4,590.9 L109.4,638.9Z" fill="#f6bcc0"/><ellipse cx="109" cy="638" rx="8.8" ry="11.0" transform="rotate(-21.6 109 638)" fill="#f09d9f" stroke="#20265a" stroke-width="3.2"/>
<path d="M523.8,507.6 L388.8,520.6 L391.2,545.4 L526.2,532.4Z" fill="#f09d9f" stroke="#20265a" stroke-width="3.2"/><path d="M523.9,509.1 L388.9,522.1 L390.1,534 L525.1,521Z" fill="#f6bcc0"/><ellipse cx="525" cy="520" rx="10.0" ry="12.5" transform="rotate(174.5 525 520)" fill="#f09d9f" stroke="#20265a" stroke-width="3.2"/>
<path d="M522.9,540.6 L408.9,552.1 L411.1,573.9 L525.1,562.4Z" fill="#f09d9f" stroke="#20265a" stroke-width="3.2"/><path d="M523,542 L409,553.5 L410.1,564 L524.1,552.5Z" fill="#f6bcc0"/><ellipse cx="524" cy="551.5" rx="8.8" ry="11.0" transform="rotate(174.2 524 551.5)" fill="#f09d9f" stroke="#20265a" stroke-width="3.2"/>
<path d="M380,440 L380.1,442.5 L380.1,445 L380.2,447.4 L380.3,449.9 L380.3,452.3 L380.4,454.8 L380.5,457.2 L380.6,459.7 L380.6,462.2 L380.7,464.6 L380.8,467.1 L380.8,469.6 L380.9,472.2 L380.9,474.8 L381,477.4 L381,480 L381,482.7 L381,485.4 L381.1,488.1 L381.1,490.9 L381.1,493.7 L381.1,496.5 L381.1,499.3 L381.1,502.2 L381.1,505 L381,507.9 L381,510.8 L381,513.6 L381,516.5 L381,519.3 L381,522.2 L381,525" fill="none" stroke="#20265a" stroke-width="46" stroke-linecap="butt" stroke-linejoin="round"/>
<path d="M380,440 L380.1,442.5 L380.1,445 L380.2,447.4 L380.3,449.9 L380.3,452.3 L380.4,454.8 L380.5,457.2 L380.6,459.7 L380.6,462.2 L380.7,464.6 L380.8,467.1 L380.8,469.6 L380.9,472.2 L380.9,474.8 L381,477.4 L381,480 L381,482.7 L381,485.4 L381.1,488.1 L381.1,490.9 L381.1,493.7 L381.1,496.5 L381.1,499.3 L381.1,502.2 L381.1,505 L381,507.9 L381,510.8 L381,513.6 L381,516.5 L381,519.3 L381,522.2 L381,525" fill="none" stroke="#fdfbea" stroke-width="41" stroke-linecap="butt" stroke-linejoin="round"/>
<path d="M380,440 L380.1,442.5 L380.1,445 L380.2,447.4 L380.3,449.9 L380.3,452.3 L380.4,454.8 L380.5,457.2 L380.6,459.7 L380.6,462.2 L380.7,464.6 L380.8,467.1 L380.8,469.6 L380.9,472.2 L380.9,474.8 L381,477.4 L381,480 L381,482.7 L381,485.4 L381.1,488.1 L381.1,490.9 L381.1,493.7 L381.1,496.5 L381.1,499.3 L381.1,502.2 L381.1,505 L381,507.9 L381,510.8 L381,513.6 L381,516.5 L381,519.3 L381,522.2 L381,525" fill="none" stroke="#20265a" stroke-width="36" stroke-linecap="butt" stroke-linejoin="round"/>
<path d="M380,440 L380.1,442.5 L380.1,445 L380.2,447.4 L380.3,449.9 L380.3,452.3 L380.4,454.8 L380.5,457.2 L380.6,459.7 L380.6,462.2 L380.7,464.6 L380.8,467.1 L380.8,469.6 L380.9,472.2 L380.9,474.8 L381,477.4 L381,480 L381,482.7 L381,485.4 L381.1,488.1 L381.1,490.9 L381.1,493.7 L381.1,496.5 L381.1,499.3 L381.1,502.2 L381.1,505 L381,507.9 L381,510.8 L381,513.6 L381,516.5 L381,519.3 L381,522.2 L381,525" fill="none" stroke="#a896c7" stroke-width="32" stroke-linecap="butt" stroke-linejoin="round"/>
<path d="M240,531 L237,531.8 L233.9,532.6 L230.9,533.5 L227.9,534.5 L224.9,535.5 L222,536.6 L219,537.8 L216,539.1 L213,540.5 L210,542 L206.9,543.6 L203.8,545.1 L200.6,546.8 L197.3,548.5 L194.1,550.3 L191,552.3 L188,554.4 L185.1,556.7 L182.4,559.2 L180,562 L177.8,564.9 L175.7,568 L173.8,571.2 L172,574.6 L170.4,578.2 L168.9,582 L167.5,586 L166.2,590.4 L165.1,595 L164,600 L163.1,605.5 L162.3,611.8 L161.7,618.5 L161.2,625.5 L160.8,632.7 L160.5,639.9 L160.3,646.9 L160.2,653.5 L160.1,659.6 L160,665 L159.9,669.6 L159.8,673.5 L159.6,676.9 L159.5,680 L159.6,682.8 L159.7,685.6 L160.1,688.6 L160.8,691.9 L161.7,695.6 L163,700 L164.7,705.1 L166.9,710.8 L169.3,717 L172.1,723.5 L175,730.2 L178,736.8 L181.1,743.3 L184.2,749.4 L187.2,755 L190,760 L192.7,764.4 L195.4,768.4 L198.1,772.2 L200.8,775.6 L203.6,778.8 L206.3,781.7 L209,784.5 L211.7,787.1 L214.3,789.6 L217,792 L219.6,794.2 L222.2,796.2 L224.8,797.9 L227.4,799.5 L230,800.9 L232.6,802.2 L235.2,803.6 L237.8,804.9 L240.4,806.4 L243,808 L245.6,809.8 L248.2,811.6 L250.8,813.6 L253.4,815.5 L256,817.5 L258.6,819.4 L261.4,821.3 L264.1,823 L267,824.6 L270,826 L273,827.2 L275.8,828.3 L278.6,829.3 L281.4,830.2 L284.3,831 L287.5,831.7 L290.9,832.4 L294.8,832.9 L299.1,833.5 L304,834 L309.6,834.5 L316,834.9 L322.9,835.3 L330.3,835.7 L337.9,835.9 L345.6,836.1 L353.2,836.3 L360.6,836.3 L367.6,836.2 L374,836 L379.9,835.7 L385.6,835.4 L390.9,835 L396.1,834.5 L401.1,833.9 L406.1,833.2 L411,832.4 L415.9,831.4 L420.9,830.3 L426,829 L431.3,827.5 L436.7,825.8 L442.1,823.9 L447.6,821.8 L453,819.6 L458.4,817.4 L463.6,815 L468.6,812.7 L473.4,810.3 L478,808 L482.4,805.7 L486.7,803.5 L491,801.3 L495.1,799.1 L499,796.8 L502.7,794.3 L506.1,791.8 L509.1,789.1 L511.8,786.2 L514,783 L515.8,779.6 L517.1,776 L518,772.2 L518.5,768.3 L518.8,764.2 L518.9,760 L518.8,755.6 L518.5,751.2 L518.3,746.6 L518,742 L517.7,737.2 L517.3,732.3 L516.8,727.2 L516.2,722 L515.4,716.7 L514.5,711.3 L513.4,705.9 L512.2,700.6 L510.7,695.2 L509,690 L507.1,684.8 L504.9,679.7 L502.5,674.7 L499.9,669.6 L497.2,664.6 L494.3,659.4 L491.3,654.3 L488.3,649 L485.1,643.6 L482,638 L478.8,632.2 L475.3,626.1 L471.8,619.8 L468.2,613.3 L464.4,606.9 L460.7,600.5 L456.9,594.2 L453.2,588.1 L449.6,582.4 L446,577 L442.6,572 L439.2,567.2 L435.9,562.7 L432.6,558.3 L429.3,554.1 L426,550.1 L422.7,546.2 L419.2,542.4 L415.7,538.7 L412,535 L408.2,531.3 L404.4,527.7 L400.6,524 L396.6,520.5 L392.6,517.1 L388.5,513.9 L384.3,511 L380,508.3 L375.6,506 L371,504 L366.1,502.5 L360.9,501.3 L355.5,500.5 L349.9,500 L344.2,499.8 L338.7,499.7 L333.3,499.7 L328.1,499.8 L323.3,499.9 L319,500 L315.1,500.1 L311.6,500.2 L308.3,500.3 L305.3,500.5 L302.4,500.9 L299.8,501.3 L297.2,502 L294.8,502.8 L292.4,503.8 L290,505 L287.7,506.6 L285.8,508.6 L283.9,510.9 L282.3,513.4 L280.6,516.1 L279,518.7 L277.3,521.2 L275.4,523.5 L273.3,525.5 L271,527Z" fill="#fdfbea" stroke="#20265a" stroke-width="3.2" stroke-linejoin="round"/>
<path d="M212,721 L218.1,726 L224.5,730.9 L231.2,735.7 L238.2,740.4 L245.2,744.9 L252.4,749.3 L259.5,753.6 L266.5,757.6 L273.4,761.4 L280,765 L286.4,768.3 L292.6,771.4 L298.6,774.2 L304.6,776.8 L310.6,779.2 L316.5,781.6 L322.5,783.8 L328.5,785.9 L334.7,787.9 L341,790 L347.5,792 L354.3,794 L361.1,796 L368.1,797.8 L375.1,799.6 L382,801.2 L388.8,802.7 L395.5,804 L401.9,805.1 L408,806 L413.9,806.7 L419.6,807.2 L425.2,807.5 L430.7,807.6 L436,807.6 L441.1,807.5 L446.1,807.2 L450.9,806.9 L455.6,806.5 L460,806 L464.3,805.4 L468.3,804.7 L472.3,803.8 L476,802.9 L479.6,801.8 L483,800.7 L486.2,799.5 L489.3,798.4 L492.2,797.2 L495,796 L497.8,794.7 L500.7,793 L503.6,791.1 L506.4,789.2 L508.9,787.3 L511.1,785.6 L512.8,784.2 L514,783.2 L514.4,782.8 L514,783 L512.7,784 L510.6,785.6 L507.7,787.8 L504.3,790.5 L500.4,793.4 L496.2,796.5 L491.7,799.6 L487.1,802.6 L482.5,805.5 L478,808 L473.4,810.3 L468.6,812.7 L463.6,815 L458.4,817.4 L453,819.6 L447.6,821.8 L442.1,823.9 L436.7,825.8 L431.3,827.5 L426,829 L420.9,830.3 L415.9,831.4 L411,832.4 L406.1,833.2 L401.1,833.9 L396.1,834.5 L390.9,835 L385.6,835.4 L379.9,835.7 L374,836 L367.6,836.2 L360.6,836.3 L353.2,836.3 L345.6,836.1 L337.9,835.9 L330.3,835.7 L322.9,835.3 L316,834.9 L309.6,834.5 L304,834 L299.1,833.5 L294.8,832.9 L290.9,832.4 L287.5,831.7 L284.3,831 L281.4,830.2 L278.6,829.3 L275.8,828.3 L273,827.2 L270,826 L267.1,824.7 L264.4,823.4 L261.9,822 L259.5,820.5 L257.1,818.9 L254.6,817.1 L252.1,815.2 L249.3,813 L246.3,810.7 L243,808 L239.3,805.1 L235.3,801.9 L231,798.4 L226.6,794.8 L222,791 L217.4,787 L212.8,782.9 L208.3,778.7 L204,774.4 L200,770 L196,765.5 L192,760.8 L187.9,756 L183.8,751.1 L179.9,746.1 L176.2,740.9 L172.8,735.7 L169.8,730.5 L167.1,725.3 L165,720 L163.2,714.2 L161.7,707.5 L160.4,700.4 L159.4,693 L158.8,685.9 L158.5,679.2 L158.8,673.5 L159.6,669 L161,666 L163,665Z" fill="#fadfe2" stroke="#20265a" stroke-width="3.2" stroke-linejoin="round"/>
<path d="M272,540 L274.6,538.8 L277.4,537.6 L280.3,536.2 L283.2,534.9 L286.2,533.6 L289.2,532.5 L292.1,531.5 L294.9,530.7 L297.6,530.2 L300,530 L302.3,530 L304.5,529.9 L306.6,530 L308.7,530.2 L310.6,530.6 L312.4,531.4 L314.1,532.7 L315.6,534.5 L316.9,536.9 L318,540 L319,544.2 L319.9,549.5 L320.8,555.7 L321.5,562.6 L322,569.7 L322.3,576.8 L322.3,583.7 L321.9,590.1 L321.2,595.6 L320,600 L318.3,603.4 L316,606.3 L313.3,608.6 L310.2,610.4 L306.9,611.8 L303.4,612.9 L299.9,613.7 L296.4,614.3 L293.1,614.7 L290,615 L287,615.1 L284,615 L280.9,614.6 L277.8,613.9 L274.8,613.1 L271.8,612 L269,610.7 L266.4,609.3 L264.1,607.7 L262,606 L260.2,604.1 L258.7,601.9 L257.4,599.5 L256.3,596.9 L255.4,594.2 L254.6,591.4 L253.8,588.5 L253.2,585.6 L252.6,582.8 L252,580 L251.4,577.2 L250.7,574.3 L250.1,571.2 L249.5,568.2 L249,565.1 L248.7,562.1 L248.6,559.3 L248.7,556.6 L249.2,554.2 L250,552Z" fill="#f6b9ba" stroke="#20265a" stroke-width="3.2" stroke-linejoin="round"/>
<path d="M356,509 L359,509 L362.1,509.1 L365.1,509.4 L368.1,509.7 L371.1,510.2 L374,510.9 L376.9,511.8 L379.7,512.9 L382.5,514.2 L385.1,515.7 L387.7,517.3 L390.2,519 L392.6,520.9 L394.9,522.8 L397.1,524.9 L399.3,527 L401.3,529.3 L403.3,531.6 L405.2,534 L406.9,536.4 L408.6,539 L410,541.6 L411.4,544.4 L412.5,547.2 L413.6,550 L414.6,552.9 L415.5,555.7 L416.4,558.6 L417.3,561.5 L418.2,564.4 L419.1,567.3 L420,570.2 L421,573.1 L422.1,575.9 L423.1,578.8 L424.2,581.6 L425.2,584.5 L426.3,587.3 L427.4,590.1 L428.2,593.1 L428.7,596.1 L429.1,599.2 L430.8,602.1 L433.1,603.6 L433.4,606.3 L433.8,609.4 L434,612.5 L434.2,615.6 L433.4,618.5 L432.6,621.4 L432,624.3 L432.2,627.3 L432.6,630.2 L433,633.2 L432.2,636.3 L431.5,639.4 L430.9,642.6 L431.3,645.6 L431.7,648.6 L432.2,651.5 L432.4,654.5 L432.6,657.5 L432.7,660.5 L432.6,663.4 L432.4,666.4 L432.2,669.4 L432,672.4 L431.6,675.2 L430.7,677.8 L428.8,679.6 L426.5,680.4 L424,680.3 L421.2,680.3 L418.3,680.1 L415.3,679.7 L412.2,679.6 L409.1,679.5 L406,679.4 L403.4,677.6 L400.8,675.8 L398.1,674 L395.1,673.6 L392,673.2 L389,672.8 L386.2,671.5 L383.5,670.1 L380.8,668.8 L377.8,668 L374.9,667.2 L371.9,666.4 L369,665.5 L366.1,664.6 L363.3,663.6 L360.4,662.5 L357.6,661.3 L354.9,660.1 L352.2,658.6 L349.5,657.1 L346.9,655.5 L344.2,654.1 L341.6,652.5 L339,650.8 L336.5,649 L334.1,647.1 L331.8,645 L330.6,641.9 L329.6,638.9 L328.6,635.9 L326.8,633.6 L325.1,631.1 L323.6,628.5 L322.2,625.7 L321.3,622.9 L320.6,619.9 L320.4,616.9 L320.7,613.9 L321.1,610.9 L321.6,607.9 L321.9,604.9 L322,601.8 L321.9,598.8 L321.7,595.8 L321.5,592.8 L321.2,589.8 L320.8,586.7 L320.5,583.7 L320.2,580.7 L319.8,577.7 L319.5,574.7 L319.1,571.7 L318.8,568.7 L318.5,565.6 L318.2,562.6 L318,559.6 L317.6,556.6 L317.1,553.6 L316.6,550.6 L316,547.6 L315.4,544.7 L314.9,541.7 L314.3,538.7 L313.8,535.7 L313.3,532.7 L312.9,529.7 L312.7,526.7 L312.7,523.7 L313,520.7 L313.6,517.7 L315,515Z" fill="#f09d9f" stroke="#20265a" stroke-width="3.2" stroke-linejoin="round"/>
<path d="M356,521 L358.7,521 L361.3,521.2 L363.8,521.5 L366.3,521.9 L368.7,522.4 L371,523.1 L373.3,523.9 L375.6,524.8 L377.8,525.9 L380,527 L382.2,528.3 L384.4,529.6 L386.5,531.1 L388.6,532.8 L390.7,534.5 L392.7,536.4 L394.6,538.3 L396.5,540.4 L398.3,542.7 L400,545 L401.6,547.5 L403.1,550.3 L404.6,553.2 L405.9,556.2 L407.2,559.4 L408.5,562.6 L409.7,565.8 L410.8,568.9 L411.9,572 L413,575 L414,577.9 L415,580.8 L416,583.6 L416.9,586.5 L417.8,589.3 L418.5,592.1 L419.3,594.9 L419.9,597.6 L420.5,600.3 L421,603 L421.4,605.6 L421.6,608.1 L421.8,610.5 L421.9,612.9 L421.9,615.2 L421.9,617.6 L421.8,620.1 L421.8,622.6 L421.9,625.2 L422,628 L422.2,631 L422.5,634.3 L422.9,637.7 L423.3,641.3 L423.6,644.8 L423.9,648.3 L424.2,651.6 L424.3,654.8 L424.2,657.6 L424,660 L423.6,662.1 L423.1,664 L422.5,665.7 L421.8,667.2 L421,668.5 L420.1,669.6 L419,670.5 L417.8,671.2 L416.5,671.7 L415,672 L413.4,672 L411.6,671.8 L409.7,671.2 L407.7,670.5 L405.5,669.6 L403.2,668.5 L400.8,667.4 L398.3,666.2 L395.7,665.1 L393,664 L390.1,662.9 L386.9,661.7 L383.5,660.5 L380,659.2 L376.4,657.8 L372.8,656.4 L369.3,655.1 L365.9,653.7 L362.8,652.3 L360,651 L357.4,649.7 L355,648.5 L352.7,647.3 L350.6,646.1 L348.6,644.9 L346.7,643.7 L344.9,642.4 L343.2,641 L341.5,639.6 L340,638 L338.6,636.3 L337.2,634.6 L335.9,632.8 L334.8,630.9 L333.8,628.9 L332.8,626.9 L331.9,624.8 L331.2,622.6 L330.6,620.4 L330,618 L329.6,615.6 L329.4,613 L329.4,610.4 L329.5,607.7 L329.6,604.9 L329.8,602.1 L330,599.2 L330.1,596.2 L330.1,593.1 L330,590 L329.7,586.7 L329.4,583.3 L329,579.8 L328.5,576.1 L328.1,572.4 L327.6,568.8 L327.1,565.1 L326.7,561.6 L326.3,558.2 L326,555 L325.6,551.9 L325.1,548.8 L324.5,545.7 L323.8,542.7 L323.3,539.8 L323,537 L322.9,534.4 L323.1,532 L323.8,529.9 L325,528Z" fill="#f6b9ba"/>
<path d="M362,530 L364.8,530.5 L367.6,531.3 L370.5,532.3 L373.3,533.6 L376,535 L378.7,536.6 L381.2,538.5 L383.6,540.5 L385.9,542.7 L388,545 L389.9,547.6 L391.7,550.5 L393.3,553.6 L394.8,557 L396.1,560.4 L397.4,564 L398.6,567.6 L399.8,571.2 L400.9,574.7 L402,578 L403.1,581.2 L404.1,584.4 L405.1,587.6 L406,590.7 L406.9,593.9 L407.7,597 L408.4,600.2 L409,603.4 L409.6,606.7 L410,610 L410.4,613.5 L410.8,617.2 L411.1,621.1 L411.3,625 L411.4,628.9 L411.5,632.7 L411.4,636.2 L411.1,639.6 L410.6,642.5 L410,645 L409.2,647.1 L408.2,648.9 L407,650.5 L405.7,651.8 L404.2,652.8 L402.6,653.6 L400.9,654.3 L399,654.7 L397.1,654.9 L395,655 L392.8,654.8 L390.3,654.4 L387.6,653.7 L384.7,652.8 L381.8,651.7 L378.9,650.5 L376,649.1 L373.1,647.8 L370.5,646.4 L368,645 L365.7,643.6 L363.4,642.2 L361.1,640.8 L358.9,639.2 L356.8,637.6 L354.8,635.9 L352.9,634.1 L351.1,632.2 L349.5,630.2 L348,628 L346.7,625.7 L345.6,623.2 L344.7,620.6 L343.8,617.9 L343.1,615.1 L342.5,612.2 L341.9,609.3 L341.3,606.2 L340.7,603.1 L340,600 L339.3,596.8 L338.6,593.3 L337.9,589.8 L337.3,586.2 L336.6,582.5 L336,578.8 L335.4,575.2 L334.9,571.7 L334.4,568.2 L334,565 L333.5,561.8 L332.8,558.6 L332.1,555.4 L331.4,552.3 L330.8,549.2 L330.3,546.4 L330.1,543.6 L330.3,541.1 L330.9,538.9 L332,537Z" fill="#fad6d6"/>
<path d="M378,598 L380.5,597.5 L383,597.6 L385.5,598.3 L388,599.5 L390.5,601.1 L392.8,603 L395,605.2 L396.9,607.4 L398.6,609.7 L400,612 L401.1,614.5 L402.1,617.4 L402.8,620.6 L403.4,624 L403.8,627.5 L403.9,631 L403.8,634.3 L403.5,637.3 L402.9,639.9 L402,642 L400.8,643.7 L399.2,645.1 L397.4,646.3 L395.2,647.3 L392.9,648 L390.4,648.5 L387.8,648.7 L385.2,648.7 L382.6,648.5 L380,648 L377.2,647.2 L373.9,646.2 L370.3,644.8 L366.6,643.2 L363,641.4 L359.6,639.4 L356.6,637.2 L354.2,634.9 L352.6,632.5 L352,630Z" fill="#fce8e8"/>
<path d="M343,591 L345.3,590.9 L347.6,590.9 L349.9,590.8 L352.2,590.8 L354.6,590.7 L356.9,590.6 L359.2,590.6 L361.5,590.5 L363.8,590.4 L366.1,590.4 L368.4,590.3 L370.8,590.2 L373.1,590.2 L375.4,590.1 L377.7,590.1 L380,590" fill="none" stroke="#20265a" stroke-width="12" stroke-linecap="round" stroke-linejoin="round"/>
<path d="M343,591 L345.3,590.9 L347.6,590.9 L349.9,590.8 L352.2,590.8 L354.6,590.7 L356.9,590.6 L359.2,590.6 L361.5,590.5 L363.8,590.4 L366.1,590.4 L368.4,590.3 L370.8,590.2 L373.1,590.2 L375.4,590.1 L377.7,590.1 L380,590" fill="none" stroke="#fdfbea" stroke-width="6" stroke-linecap="round" stroke-linejoin="round"/>
<ellipse cx="388" cy="523" rx="7" ry="11" transform="rotate(-20 388 523)" fill="#d9646c"/>
<ellipse cx="400" cy="547" rx="7" ry="11" transform="rotate(-20 400 547)" fill="#d9646c"/>
<clipPath id="aoC2"><path d="M276.8,348 L286,347 L291,339.7 L317,368 Q319.7,376 320,368 L317,335 Q331,344 342.4,336 L339,363 Q352,384 368.5,342.7 L374,344.4 L388,347 L379.5,368.8 Q386,384 399.7,409 L403,440 L403,462 L357,462 L357,432 Q352,404 333,404 Q311,406 311,440 L311,520 L311,520 L311.2,523 L311.3,526 L311.5,529.1 L311.6,532.1 L311.7,535.1 L311.8,538.1 L312,541.1 L312.1,544.1 L312.2,547.2 L312.4,550.2 L312.5,553.2 L312.7,556.2 L312.9,559.2 L313.2,562.2 L313.4,565.2 L313.8,568.2 L314.2,571.2 L314.7,574.2 L315.3,577.2 L316,580.1 L316.9,583 L317.9,585.9 L318.8,588.7 L319.8,591.6 L320.6,594.5 L321.4,597.4 L322.1,600.4 L322.7,603.3 L323.4,606.3 L324,609.2 L324.6,612.2 L325.2,615.1 L325.8,618.1 L326.4,621.1 L327,624 L327.6,627 L328.2,629.9 L328.8,632.9 L329.4,635.9 L330,638.8 L330.7,641.8 L331.3,644.7 L332,647.7 L332.7,650.6 L333.3,653.6 L334.1,656.5 L334.8,659.4 L335.6,662.3 L336.4,665.2 L337.1,668.2 L337.8,671.1 L338.5,674 L339.3,677 L340,679.9 L340.8,682.8 L341.7,685.7 L342.6,688.6 L343.7,691.4 L344.9,694.2 L346.3,696.8 L347.9,699.4 L349.8,701.8 L352,703.8 L354.5,705.5 L357.2,706.9 L360,707.9 L362.9,708.7 L365.9,709.4 L368.9,709.9 L371.8,710.3 L374.8,710.8 L377.8,711.4 L380.7,712.1 L383.6,712.9 L386.5,713.8 L389.4,714.7 L392.3,715.6 L395.2,716.5 L398.1,717.4 L400.9,718.3 L403.8,719.2 L406.7,720.1 L409.6,721 L412.5,722 L415.3,722.9 L418.2,723.9 L421.1,724.8 L423.9,725.8 L426.7,726.9 L429.5,728 L432.3,729.2 L435.1,730.4 L437.8,731.7 L440.5,733.2 L443.1,734.7 L445.6,736.3 L448.1,738.1 L450.5,739.9 L452.8,741.9 L454.5,744.3 L455,747.3 L454.8,750.3 L454.2,753.3 L453.3,756.1 L452.2,759 L451,761.7 L449.5,764.4 L447.8,766.9 L445.9,769.2 L444,771.6 L442.1,773.9 L440.1,776.2 L438,778.4 L435.9,780.6 L433.2,782.2 L430.5,783.5 L427.6,784.5 L424.9,785.8 L422.1,786.9 L419.2,787.7 L416.2,788.4 L413.2,788.9 L410.1,789.2 L407.1,788.4 L404.1,787.4 L401.2,786.4 L398.2,786.3 L395.1,786.2 L392.1,786.1 L389.1,786.6 L386,787 L382.9,787.5 L379.9,786.7 L377,785.8 L374,785 L371,784.7 L368,784.5 L365,784.2 L362.1,783.3 L359.2,782.3 L356.3,781.4 L353.2,781.2 L350.2,781 L347.2,780.8 L344.1,781 L341,781.2 L337.9,781.4 L335.1,779.8 L332.4,778.1 L329.7,776.4 L326.5,777.1 L323.2,777.7 L319.9,778.4 L317.1,777.1 L314.3,775.9 L311.5,774.6 L308.8,773.3 L306,771.9 L303.3,770.5 L300.1,770.5 L297,770.5 L293.8,770.4 L291.1,768.8 L288.5,767.1 L285.9,765.4 L282.9,764.8 L279.8,764 L276.8,763.1 L274.7,760.7 L272.7,758.1 L270.8,755.6 L268.6,753.6 L266.5,751.5 L264.5,749.3 L262.2,747.3 L260.1,745.3 L257.9,743.1 L256.5,740.5 L255.1,737.8 L253.8,735 L251.4,733 L249,731 L246.6,728.9 L245.5,726 L244.5,723.1 L243.4,720.2 L241.8,717.7 L240.1,715.2 L238.4,712.7 L236.7,710.2 L235,707.7 L233.2,705.2 L231.4,702.8 L229.9,700.2 L228.9,697.4 L229,694.3 L229.4,691.3 L229.8,688.4 L230.1,685.4 L230.6,682.4 L231.3,679.5 L232.2,676.6 L233.1,673.7 L234.1,670.9 L235.2,668.1 L236.3,665.2 L237.4,662.4 L238.6,659.6 L239.7,656.9 L240.9,654.1 L242.2,651.3 L243.4,648.6 L244.6,645.8 L246,643.1 L247.4,640.4 L249,637.9 L250.7,635.4 L252.4,632.9 L254.2,630.5 L256,628 L257.8,625.6 L259.6,623.2 L261.3,620.7 L262.8,618.1 L264.4,615.5 L265.7,612.8 L266.9,610 L268,607.2 L268.9,604.3 L269.6,601.4 L270.2,598.4 L270.7,595.4 L271.1,592.4 L271.3,589.4 L271.6,586.4 L271.7,583.4 L271.8,580.4 L271.8,577.4 L271.8,574.3 L271.8,571.3 L271.7,568.3 L271.7,565.3 L271.6,562.3 L271.4,559.2 L271.3,556.2 L271.2,553.2 L271,550.2 L270.9,547.2 L270.7,544.2 L270.6,541.1 L270.5,538.1 L270.4,535.1 L270.2,532.1 L270.1,529.1 L270.1,526 L270,523 L270,520 L270,451 Q272,405 297,379 Z"/></clipPath>
<clipPath id="top2"><rect x="0" y="0" width="600" height="640"/></clipPath>
<path d="M276.8,348 L286,347 L291,339.7 L317,368 Q319.7,376 320,368 L317,335 Q331,344 342.4,336 L339,363 Q352,384 368.5,342.7 L374,344.4 L388,347 L379.5,368.8 Q386,384 399.7,409 L403,440 L403,462 L357,462 L357,432 Q352,404 333,404 Q311,406 311,440 L311,520 L311,520 L311.2,523 L311.3,526 L311.5,529.1 L311.6,532.1 L311.7,535.1 L311.8,538.1 L312,541.1 L312.1,544.1 L312.2,547.2 L312.4,550.2 L312.5,553.2 L312.7,556.2 L312.9,559.2 L313.2,562.2 L313.4,565.2 L313.8,568.2 L314.2,571.2 L314.7,574.2 L315.3,577.2 L316,580.1 L316.9,583 L317.9,585.9 L318.8,588.7 L319.8,591.6 L320.6,594.5 L321.4,597.4 L322.1,600.4 L322.7,603.3 L323.4,606.3 L324,609.2 L324.6,612.2 L325.2,615.1 L325.8,618.1 L326.4,621.1 L327,624 L327.6,627 L328.2,629.9 L328.8,632.9 L329.4,635.9 L330,638.8 L330.7,641.8 L331.3,644.7 L332,647.7 L332.7,650.6 L333.3,653.6 L334.1,656.5 L334.8,659.4 L335.6,662.3 L336.4,665.2 L337.1,668.2 L337.8,671.1 L338.5,674 L339.3,677 L340,679.9 L340.8,682.8 L341.7,685.7 L342.6,688.6 L343.7,691.4 L344.9,694.2 L346.3,696.8 L347.9,699.4 L349.8,701.8 L352,703.8 L354.5,705.5 L357.2,706.9 L360,707.9 L362.9,708.7 L365.9,709.4 L368.9,709.9 L371.8,710.3 L374.8,710.8 L377.8,711.4 L380.7,712.1 L383.6,712.9 L386.5,713.8 L389.4,714.7 L392.3,715.6 L395.2,716.5 L398.1,717.4 L400.9,718.3 L403.8,719.2 L406.7,720.1 L409.6,721 L412.5,722 L415.3,722.9 L418.2,723.9 L421.1,724.8 L423.9,725.8 L426.7,726.9 L429.5,728 L432.3,729.2 L435.1,730.4 L437.8,731.7 L440.5,733.2 L443.1,734.7 L445.6,736.3 L448.1,738.1 L450.5,739.9 L452.8,741.9 L454.5,744.3 L455,747.3 L454.8,750.3 L454.2,753.3 L453.3,756.1 L452.2,759 L451,761.7 L449.5,764.4 L447.8,766.9 L445.9,769.2 L444,771.6 L442.1,773.9 L440.1,776.2 L438,778.4 L435.9,780.6 L433.2,782.2 L430.5,783.5 L427.6,784.5 L424.9,785.8 L422.1,786.9 L419.2,787.7 L416.2,788.4 L413.2,788.9 L410.1,789.2 L407.1,788.4 L404.1,787.4 L401.2,786.4 L398.2,786.3 L395.1,786.2 L392.1,786.1 L389.1,786.6 L386,787 L382.9,787.5 L379.9,786.7 L377,785.8 L374,785 L371,784.7 L368,784.5 L365,784.2 L362.1,783.3 L359.2,782.3 L356.3,781.4 L353.2,781.2 L350.2,781 L347.2,780.8 L344.1,781 L341,781.2 L337.9,781.4 L335.1,779.8 L332.4,778.1 L329.7,776.4 L326.5,777.1 L323.2,777.7 L319.9,778.4 L317.1,777.1 L314.3,775.9 L311.5,774.6 L308.8,773.3 L306,771.9 L303.3,770.5 L300.1,770.5 L297,770.5 L293.8,770.4 L291.1,768.8 L288.5,767.1 L285.9,765.4 L282.9,764.8 L279.8,764 L276.8,763.1 L274.7,760.7 L272.7,758.1 L270.8,755.6 L268.6,753.6 L266.5,751.5 L264.5,749.3 L262.2,747.3 L260.1,745.3 L257.9,743.1 L256.5,740.5 L255.1,737.8 L253.8,735 L251.4,733 L249,731 L246.6,728.9 L245.5,726 L244.5,723.1 L243.4,720.2 L241.8,717.7 L240.1,715.2 L238.4,712.7 L236.7,710.2 L235,707.7 L233.2,705.2 L231.4,702.8 L229.9,700.2 L228.9,697.4 L229,694.3 L229.4,691.3 L229.8,688.4 L230.1,685.4 L230.6,682.4 L231.3,679.5 L232.2,676.6 L233.1,673.7 L234.1,670.9 L235.2,668.1 L236.3,665.2 L237.4,662.4 L238.6,659.6 L239.7,656.9 L240.9,654.1 L242.2,651.3 L243.4,648.6 L244.6,645.8 L246,643.1 L247.4,640.4 L249,637.9 L250.7,635.4 L252.4,632.9 L254.2,630.5 L256,628 L257.8,625.6 L259.6,623.2 L261.3,620.7 L262.8,618.1 L264.4,615.5 L265.7,612.8 L266.9,610 L268,607.2 L268.9,604.3 L269.6,601.4 L270.2,598.4 L270.7,595.4 L271.1,592.4 L271.3,589.4 L271.6,586.4 L271.7,583.4 L271.8,580.4 L271.8,577.4 L271.8,574.3 L271.8,571.3 L271.7,568.3 L271.7,565.3 L271.6,562.3 L271.4,559.2 L271.3,556.2 L271.2,553.2 L271,550.2 L270.9,547.2 L270.7,544.2 L270.6,541.1 L270.5,538.1 L270.4,535.1 L270.2,532.1 L270.1,529.1 L270.1,526 L270,523 L270,520 L270,451 Q272,405 297,379 Z" fill="#a896c7"/>
<g clip-path="url(#aoC2)"><path d="M292,420 C287,460 290,520 296,600 C300,660 310,700 330,725 C355,752 400,758 452,755" fill="none" stroke="#c3b6da" stroke-width="28"/><path d="M300,620 C302,670 312,705 335,728 C360,748 400,752 440,752" fill="none" stroke="#c3b6da" stroke-width="44" stroke-linecap="round"/><path d="M302,640 C305,680 315,710 338,730 C360,745 395,748 430,748" fill="none" stroke="#ddd3ea" stroke-width="18" stroke-linecap="round"/><path d="M296,470 C294,420 300,392 333,388 C360,388 372,405 376,430" fill="none" stroke="#ddd3ea" stroke-width="18" stroke-linecap="round"/><g clip-path="url(#top2)"><path d="M276.8,348 L286,347 L291,339.7 L317,368 Q319.7,376 320,368 L317,335 Q331,344 342.4,336 L339,363 Q352,384 368.5,342.7 L374,344.4 L388,347 L379.5,368.8 Q386,384 399.7,409 L403,440 L403,462 L357,462 L357,432 Q352,404 333,404 Q311,406 311,440 L311,520 L311,520 L311.2,523 L311.3,526 L311.5,529.1 L311.6,532.1 L311.7,535.1 L311.8,538.1 L312,541.1 L312.1,544.1 L312.2,547.2 L312.4,550.2 L312.5,553.2 L312.7,556.2 L312.9,559.2 L313.2,562.2 L313.4,565.2 L313.8,568.2 L314.2,571.2 L314.7,574.2 L315.3,577.2 L316,580.1 L316.9,583 L317.9,585.9 L318.8,588.7 L319.8,591.6 L320.6,594.5 L321.4,597.4 L322.1,600.4 L322.7,603.3 L323.4,606.3 L324,609.2 L324.6,612.2 L325.2,615.1 L325.8,618.1 L326.4,621.1 L327,624 L327.6,627 L328.2,629.9 L328.8,632.9 L329.4,635.9 L330,638.8 L330.7,641.8 L331.3,644.7 L332,647.7 L332.7,650.6 L333.3,653.6 L334.1,656.5 L334.8,659.4 L335.6,662.3 L336.4,665.2 L337.1,668.2 L337.8,671.1 L338.5,674 L339.3,677 L340,679.9 L340.8,682.8 L341.7,685.7 L342.6,688.6 L343.7,691.4 L344.9,694.2 L346.3,696.8 L347.9,699.4 L349.8,701.8 L352,703.8 L354.5,705.5 L357.2,706.9 L360,707.9 L362.9,708.7 L365.9,709.4 L368.9,709.9 L371.8,710.3 L374.8,710.8 L377.8,711.4 L380.7,712.1 L383.6,712.9 L386.5,713.8 L389.4,714.7 L392.3,715.6 L395.2,716.5 L398.1,717.4 L400.9,718.3 L403.8,719.2 L406.7,720.1 L409.6,721 L412.5,722 L415.3,722.9 L418.2,723.9 L421.1,724.8 L423.9,725.8 L426.7,726.9 L429.5,728 L432.3,729.2 L435.1,730.4 L437.8,731.7 L440.5,733.2 L443.1,734.7 L445.6,736.3 L448.1,738.1 L450.5,739.9 L452.8,741.9 L454.5,744.3 L455,747.3 L454.8,750.3 L454.2,753.3 L453.3,756.1 L452.2,759 L451,761.7 L449.5,764.4 L447.8,766.9 L445.9,769.2 L444,771.6 L442.1,773.9 L440.1,776.2 L438,778.4 L435.9,780.6 L433.2,782.2 L430.5,783.5 L427.6,784.5 L424.9,785.8 L422.1,786.9 L419.2,787.7 L416.2,788.4 L413.2,788.9 L410.1,789.2 L407.1,788.4 L404.1,787.4 L401.2,786.4 L398.2,786.3 L395.1,786.2 L392.1,786.1 L389.1,786.6 L386,787 L382.9,787.5 L379.9,786.7 L377,785.8 L374,785 L371,784.7 L368,784.5 L365,784.2 L362.1,783.3 L359.2,782.3 L356.3,781.4 L353.2,781.2 L350.2,781 L347.2,780.8 L344.1,781 L341,781.2 L337.9,781.4 L335.1,779.8 L332.4,778.1 L329.7,776.4 L326.5,777.1 L323.2,777.7 L319.9,778.4 L317.1,777.1 L314.3,775.9 L311.5,774.6 L308.8,773.3 L306,771.9 L303.3,770.5 L300.1,770.5 L297,770.5 L293.8,770.4 L291.1,768.8 L288.5,767.1 L285.9,765.4 L282.9,764.8 L279.8,764 L276.8,763.1 L274.7,760.7 L272.7,758.1 L270.8,755.6 L268.6,753.6 L266.5,751.5 L264.5,749.3 L262.2,747.3 L260.1,745.3 L257.9,743.1 L256.5,740.5 L255.1,737.8 L253.8,735 L251.4,733 L249,731 L246.6,728.9 L245.5,726 L244.5,723.1 L243.4,720.2 L241.8,717.7 L240.1,715.2 L238.4,712.7 L236.7,710.2 L235,707.7 L233.2,705.2 L231.4,702.8 L229.9,700.2 L228.9,697.4 L229,694.3 L229.4,691.3 L229.8,688.4 L230.1,685.4 L230.6,682.4 L231.3,679.5 L232.2,676.6 L233.1,673.7 L234.1,670.9 L235.2,668.1 L236.3,665.2 L237.4,662.4 L238.6,659.6 L239.7,656.9 L240.9,654.1 L242.2,651.3 L243.4,648.6 L244.6,645.8 L246,643.1 L247.4,640.4 L249,637.9 L250.7,635.4 L252.4,632.9 L254.2,630.5 L256,628 L257.8,625.6 L259.6,623.2 L261.3,620.7 L262.8,618.1 L264.4,615.5 L265.7,612.8 L266.9,610 L268,607.2 L268.9,604.3 L269.6,601.4 L270.2,598.4 L270.7,595.4 L271.1,592.4 L271.3,589.4 L271.6,586.4 L271.7,583.4 L271.8,580.4 L271.8,577.4 L271.8,574.3 L271.8,571.3 L271.7,568.3 L271.7,565.3 L271.6,562.3 L271.4,559.2 L271.3,556.2 L271.2,553.2 L271,550.2 L270.9,547.2 L270.7,544.2 L270.6,541.1 L270.5,538.1 L270.4,535.1 L270.2,532.1 L270.1,529.1 L270.1,526 L270,523 L270,520 L270,451 Q272,405 297,379 Z" fill="none" stroke="#20265a" stroke-width="13"/><path d="M276.8,348 L286,347 L291,339.7 L317,368 Q319.7,376 320,368 L317,335 Q331,344 342.4,336 L339,363 Q352,384 368.5,342.7 L374,344.4 L388,347 L379.5,368.8 Q386,384 399.7,409 L403,440 L403,462 L357,462 L357,432 Q352,404 333,404 Q311,406 311,440 L311,520 L311,520 L311.2,523 L311.3,526 L311.5,529.1 L311.6,532.1 L311.7,535.1 L311.8,538.1 L312,541.1 L312.1,544.1 L312.2,547.2 L312.4,550.2 L312.5,553.2 L312.7,556.2 L312.9,559.2 L313.2,562.2 L313.4,565.2 L313.8,568.2 L314.2,571.2 L314.7,574.2 L315.3,577.2 L316,580.1 L316.9,583 L317.9,585.9 L318.8,588.7 L319.8,591.6 L320.6,594.5 L321.4,597.4 L322.1,600.4 L322.7,603.3 L323.4,606.3 L324,609.2 L324.6,612.2 L325.2,615.1 L325.8,618.1 L326.4,621.1 L327,624 L327.6,627 L328.2,629.9 L328.8,632.9 L329.4,635.9 L330,638.8 L330.7,641.8 L331.3,644.7 L332,647.7 L332.7,650.6 L333.3,653.6 L334.1,656.5 L334.8,659.4 L335.6,662.3 L336.4,665.2 L337.1,668.2 L337.8,671.1 L338.5,674 L339.3,677 L340,679.9 L340.8,682.8 L341.7,685.7 L342.6,688.6 L343.7,691.4 L344.9,694.2 L346.3,696.8 L347.9,699.4 L349.8,701.8 L352,703.8 L354.5,705.5 L357.2,706.9 L360,707.9 L362.9,708.7 L365.9,709.4 L368.9,709.9 L371.8,710.3 L374.8,710.8 L377.8,711.4 L380.7,712.1 L383.6,712.9 L386.5,713.8 L389.4,714.7 L392.3,715.6 L395.2,716.5 L398.1,717.4 L400.9,718.3 L403.8,719.2 L406.7,720.1 L409.6,721 L412.5,722 L415.3,722.9 L418.2,723.9 L421.1,724.8 L423.9,725.8 L426.7,726.9 L429.5,728 L432.3,729.2 L435.1,730.4 L437.8,731.7 L440.5,733.2 L443.1,734.7 L445.6,736.3 L448.1,738.1 L450.5,739.9 L452.8,741.9 L454.5,744.3 L455,747.3 L454.8,750.3 L454.2,753.3 L453.3,756.1 L452.2,759 L451,761.7 L449.5,764.4 L447.8,766.9 L445.9,769.2 L444,771.6 L442.1,773.9 L440.1,776.2 L438,778.4 L435.9,780.6 L433.2,782.2 L430.5,783.5 L427.6,784.5 L424.9,785.8 L422.1,786.9 L419.2,787.7 L416.2,788.4 L413.2,788.9 L410.1,789.2 L407.1,788.4 L404.1,787.4 L401.2,786.4 L398.2,786.3 L395.1,786.2 L392.1,786.1 L389.1,786.6 L386,787 L382.9,787.5 L379.9,786.7 L377,785.8 L374,785 L371,784.7 L368,784.5 L365,784.2 L362.1,783.3 L359.2,782.3 L356.3,781.4 L353.2,781.2 L350.2,781 L347.2,780.8 L344.1,781 L341,781.2 L337.9,781.4 L335.1,779.8 L332.4,778.1 L329.7,776.4 L326.5,777.1 L323.2,777.7 L319.9,778.4 L317.1,777.1 L314.3,775.9 L311.5,774.6 L308.8,773.3 L306,771.9 L303.3,770.5 L300.1,770.5 L297,770.5 L293.8,770.4 L291.1,768.8 L288.5,767.1 L285.9,765.4 L282.9,764.8 L279.8,764 L276.8,763.1 L274.7,760.7 L272.7,758.1 L270.8,755.6 L268.6,753.6 L266.5,751.5 L264.5,749.3 L262.2,747.3 L260.1,745.3 L257.9,743.1 L256.5,740.5 L255.1,737.8 L253.8,735 L251.4,733 L249,731 L246.6,728.9 L245.5,726 L244.5,723.1 L243.4,720.2 L241.8,717.7 L240.1,715.2 L238.4,712.7 L236.7,710.2 L235,707.7 L233.2,705.2 L231.4,702.8 L229.9,700.2 L228.9,697.4 L229,694.3 L229.4,691.3 L229.8,688.4 L230.1,685.4 L230.6,682.4 L231.3,679.5 L232.2,676.6 L233.1,673.7 L234.1,670.9 L235.2,668.1 L236.3,665.2 L237.4,662.4 L238.6,659.6 L239.7,656.9 L240.9,654.1 L242.2,651.3 L243.4,648.6 L244.6,645.8 L246,643.1 L247.4,640.4 L249,637.9 L250.7,635.4 L252.4,632.9 L254.2,630.5 L256,628 L257.8,625.6 L259.6,623.2 L261.3,620.7 L262.8,618.1 L264.4,615.5 L265.7,612.8 L266.9,610 L268,607.2 L268.9,604.3 L269.6,601.4 L270.2,598.4 L270.7,595.4 L271.1,592.4 L271.3,589.4 L271.6,586.4 L271.7,583.4 L271.8,580.4 L271.8,577.4 L271.8,574.3 L271.8,571.3 L271.7,568.3 L271.7,565.3 L271.6,562.3 L271.4,559.2 L271.3,556.2 L271.2,553.2 L271,550.2 L270.9,547.2 L270.7,544.2 L270.6,541.1 L270.5,538.1 L270.4,535.1 L270.2,532.1 L270.1,529.1 L270.1,526 L270,523 L270,520 L270,451 Q272,405 297,379 Z" fill="none" stroke="#fdfbea" stroke-width="8.5"/></g></g>
<path d="M276.8,348 L286,347 L291,339.7 L317,368 Q319.7,376 320,368 L317,335 Q331,344 342.4,336 L339,363 Q352,384 368.5,342.7 L374,344.4 L388,347 L379.5,368.8 Q386,384 399.7,409 L403,440 L403,462 L357,462 L357,432 Q352,404 333,404 Q311,406 311,440 L311,520 L311,520 L311.2,523 L311.3,526 L311.5,529.1 L311.6,532.1 L311.7,535.1 L311.8,538.1 L312,541.1 L312.1,544.1 L312.2,547.2 L312.4,550.2 L312.5,553.2 L312.7,556.2 L312.9,559.2 L313.2,562.2 L313.4,565.2 L313.8,568.2 L314.2,571.2 L314.7,574.2 L315.3,577.2 L316,580.1 L316.9,583 L317.9,585.9 L318.8,588.7 L319.8,591.6 L320.6,594.5 L321.4,597.4 L322.1,600.4 L322.7,603.3 L323.4,606.3 L324,609.2 L324.6,612.2 L325.2,615.1 L325.8,618.1 L326.4,621.1 L327,624 L327.6,627 L328.2,629.9 L328.8,632.9 L329.4,635.9 L330,638.8 L330.7,641.8 L331.3,644.7 L332,647.7 L332.7,650.6 L333.3,653.6 L334.1,656.5 L334.8,659.4 L335.6,662.3 L336.4,665.2 L337.1,668.2 L337.8,671.1 L338.5,674 L339.3,677 L340,679.9 L340.8,682.8 L341.7,685.7 L342.6,688.6 L343.7,691.4 L344.9,694.2 L346.3,696.8 L347.9,699.4 L349.8,701.8 L352,703.8 L354.5,705.5 L357.2,706.9 L360,707.9 L362.9,708.7 L365.9,709.4 L368.9,709.9 L371.8,710.3 L374.8,710.8 L377.8,711.4 L380.7,712.1 L383.6,712.9 L386.5,713.8 L389.4,714.7 L392.3,715.6 L395.2,716.5 L398.1,717.4 L400.9,718.3 L403.8,719.2 L406.7,720.1 L409.6,721 L412.5,722 L415.3,722.9 L418.2,723.9 L421.1,724.8 L423.9,725.8 L426.7,726.9 L429.5,728 L432.3,729.2 L435.1,730.4 L437.8,731.7 L440.5,733.2 L443.1,734.7 L445.6,736.3 L448.1,738.1 L450.5,739.9 L452.8,741.9 L454.5,744.3 L455,747.3 L454.8,750.3 L454.2,753.3 L453.3,756.1 L452.2,759 L451,761.7 L449.5,764.4 L447.8,766.9 L445.9,769.2 L444,771.6 L442.1,773.9 L440.1,776.2 L438,778.4 L435.9,780.6 L433.2,782.2 L430.5,783.5 L427.6,784.5 L424.9,785.8 L422.1,786.9 L419.2,787.7 L416.2,788.4 L413.2,788.9 L410.1,789.2 L407.1,788.4 L404.1,787.4 L401.2,786.4 L398.2,786.3 L395.1,786.2 L392.1,786.1 L389.1,786.6 L386,787 L382.9,787.5 L379.9,786.7 L377,785.8 L374,785 L371,784.7 L368,784.5 L365,784.2 L362.1,783.3 L359.2,782.3 L356.3,781.4 L353.2,781.2 L350.2,781 L347.2,780.8 L344.1,781 L341,781.2 L337.9,781.4 L335.1,779.8 L332.4,778.1 L329.7,776.4 L326.5,777.1 L323.2,777.7 L319.9,778.4 L317.1,777.1 L314.3,775.9 L311.5,774.6 L308.8,773.3 L306,771.9 L303.3,770.5 L300.1,770.5 L297,770.5 L293.8,770.4 L291.1,768.8 L288.5,767.1 L285.9,765.4 L282.9,764.8 L279.8,764 L276.8,763.1 L274.7,760.7 L272.7,758.1 L270.8,755.6 L268.6,753.6 L266.5,751.5 L264.5,749.3 L262.2,747.3 L260.1,745.3 L257.9,743.1 L256.5,740.5 L255.1,737.8 L253.8,735 L251.4,733 L249,731 L246.6,728.9 L245.5,726 L244.5,723.1 L243.4,720.2 L241.8,717.7 L240.1,715.2 L238.4,712.7 L236.7,710.2 L235,707.7 L233.2,705.2 L231.4,702.8 L229.9,700.2 L228.9,697.4 L229,694.3 L229.4,691.3 L229.8,688.4 L230.1,685.4 L230.6,682.4 L231.3,679.5 L232.2,676.6 L233.1,673.7 L234.1,670.9 L235.2,668.1 L236.3,665.2 L237.4,662.4 L238.6,659.6 L239.7,656.9 L240.9,654.1 L242.2,651.3 L243.4,648.6 L244.6,645.8 L246,643.1 L247.4,640.4 L249,637.9 L250.7,635.4 L252.4,632.9 L254.2,630.5 L256,628 L257.8,625.6 L259.6,623.2 L261.3,620.7 L262.8,618.1 L264.4,615.5 L265.7,612.8 L266.9,610 L268,607.2 L268.9,604.3 L269.6,601.4 L270.2,598.4 L270.7,595.4 L271.1,592.4 L271.3,589.4 L271.6,586.4 L271.7,583.4 L271.8,580.4 L271.8,577.4 L271.8,574.3 L271.8,571.3 L271.7,568.3 L271.7,565.3 L271.6,562.3 L271.4,559.2 L271.3,556.2 L271.2,553.2 L271,550.2 L270.9,547.2 L270.7,544.2 L270.6,541.1 L270.5,538.1 L270.4,535.1 L270.2,532.1 L270.1,529.1 L270.1,526 L270,523 L270,520 L270,451 Q272,405 297,379 Z" fill="none" stroke="#20265a" stroke-width="3.2" stroke-linejoin="round"/>
<path d="M185,567 L187.1,565.2 L189.4,563.6 L191.9,562.3 L194.5,561.2 L197.3,560.2 L200,559.5 L202.7,558.8 L205.3,558.2 L207.8,557.6 L210,557 L212,556.4 L213.9,555.9 L215.7,555.5 L217.4,555.2 L219,554.9 L220.6,554.8 L222.2,554.7 L223.7,554.7 L225.3,554.8 L227,555 L228.7,555.3 L230.4,555.9 L232,556.5 L233.7,557.3 L235.3,558.1 L237,559 L238.7,559.8 L240.4,560.6 L242.2,561.4 L244,562 L245.9,562.4 L248,562.4 L250.2,562.3 L252.4,562.1 L254.6,561.9 L256.8,562 L258.9,562.2 L260.8,562.9 L262.5,564.2 L264,566 L265.4,568.6 L266.7,571.8 L267.9,575.5 L269.1,579.7 L270.1,584.1 L270.8,588.7 L271.4,593.3 L271.6,597.8 L271.5,602.1 L271,606 L269.8,609.7 L267.9,613.3 L265.4,616.9 L262.6,620.5 L259.6,623.9 L256.7,627.3 L254.1,630.7 L252,633.9 L250.5,637 L250,640 L250.6,642.9 L252.2,645.7 L254.5,648.4 L257.4,651 L260.5,653.6 L263.6,656 L266.5,658.4 L268.8,660.7 L270.4,662.9 L271,665 L270.6,667.1 L269.5,669.1 L267.9,671.1 L265.7,673 L263.2,674.9 L260.6,676.6 L257.8,678.2 L255,679.6 L252.4,680.9 L250,682 L247.8,682.9 L245.4,683.4 L243.1,683.8 L240.7,684.1 L238.2,684.2 L235.9,684.3 L233.5,684.3 L231.2,684.4 L229.1,684.6 L227,685 L225.1,685.6 L223.4,686.4 L221.8,687.3 L220.3,688.3 L218.8,689.3 L217.3,690.2 L215.7,690.9 L214,691.3 L212.1,691.4 L210,691 L207.6,690.2 L204.8,689.2 L201.9,687.8 L198.8,686.2 L195.6,684.4 L192.5,682.4 L189.5,680.3 L186.7,677.9 L184.2,675.5 L182,673 L180.2,670.4 L178.5,667.5 L177.1,664.5 L175.8,661.4 L174.7,658.1 L173.7,654.6 L172.9,651.1 L172.2,647.5 L171.6,643.8 L171,640 L170.5,636 L170.2,631.8 L169.9,627.4 L169.8,622.9 L169.8,618.3 L169.9,613.7 L170.1,609.3 L170.5,604.9 L171,600.8 L171.6,597Z" fill="#8bcdee" stroke="#20265a" stroke-width="3.2" stroke-linejoin="round"/>
<path d="M195,577 L197.3,575.2 L200,573.6 L202.8,572.2 L205.9,571 L209.1,570 L212.4,569.2 L215.7,568.6 L218.9,568.2 L222,568 L225,568 L227.9,568.3 L231,568.8 L234.1,569.6 L237.2,570.7 L240.2,571.9 L243.1,573.3 L245.8,574.8 L248.2,576.4 L250.3,578.2 L252,580 L253.4,581.9 L254.4,584 L255.2,586.2 L255.8,588.6 L256.1,591.1 L256.2,593.7 L256.2,596.4 L255.9,599.2 L255.5,602 L255,605 L254.1,608.1 L252.8,611.5 L251,615 L249.1,618.6 L247.1,622.3 L245.1,626 L243.2,629.7 L241.7,633.3 L240.6,636.7 L240,640 L240.2,643.2 L241.1,646.4 L242.6,649.6 L244.4,652.7 L246.2,655.8 L248,658.6 L249.5,661.4 L250.5,663.9 L250.7,666.1 L250,668 L248.3,669.6 L245.8,671.1 L242.6,672.3 L238.9,673.3 L234.8,674.1 L230.6,674.6 L226.3,675 L222.2,675.2 L218.4,675.2 L215,675 L211.9,674.6 L208.8,673.8 L205.7,672.9 L202.7,671.7 L199.8,670.3 L197,668.8 L194.5,667.2 L192.1,665.5 L189.9,663.8 L188,662 L186.4,660.2 L185,658.4 L183.9,656.5 L183,654.5 L182.2,652.4 L181.6,650.2 L181.1,647.8 L180.7,645.4 L180.3,642.8 L180,640 L179.7,637 L179.6,633.7 L179.5,630.2 L179.6,626.6 L179.7,622.9 L179.9,619.1 L180.3,615.4 L180.7,611.8 L181.3,608.3 L182,605Z" fill="#c6e5f6"/>
<path d="M215,585 L216.9,583.7 L218.9,582.8 L221.1,582.2 L223.4,581.9 L225.6,581.9 L227.8,582.1 L229.9,582.6 L231.9,583.2 L233.6,584.1 L235,585 L236.2,586.1 L237.2,587.5 L238.1,589.1 L238.9,590.8 L239.5,592.8 L239.9,595 L240.2,597.3 L240.3,599.7 L240.3,602.3 L240,605 L239.4,608 L238.5,611.3 L237.2,614.9 L235.8,618.6 L234.2,622.5 L232.6,626.4 L231.1,630.1 L229.8,633.7 L228.7,637 L228,640 L227.8,642.7 L227.9,645.3 L228.4,647.7 L229.1,650 L229.8,652.2 L230.5,654.2 L230.9,655.9 L231.1,657.5 L230.8,658.9 L230,660 L228.5,660.9 L226.5,661.6 L224,662.1 L221.2,662.4 L218.2,662.5 L215.1,662.4 L212.2,662.1 L209.4,661.6 L207,660.9 L205,660 L203.4,658.8 L202,657.4 L200.7,655.6 L199.6,653.7 L198.7,651.6 L197.9,649.3 L197.2,647 L196.7,644.6 L196.3,642.3 L196,640 L195.8,637.7 L195.8,635.4 L195.9,633 L196.1,630.6 L196.5,628.1 L197,625.6 L197.6,623 L198.3,620.4 L199.1,617.7 L200,615Z" fill="#e4f3fc"/>
<path d="M136.1,467.2 L136,470.3 L135.8,473.2 L135.6,475.9 L135.5,478.7 L135.3,481.3 L135.2,484 L135,486.7 L134.9,489.5 L134.7,492.3 L134.6,495.3 L134.4,498.4 L134.2,501.7 L133.9,505.3 L133.7,509 L133.4,513.1 L133.1,517.4 L132.8,521.5 L132.5,525.3 L132.1,529.1 L131.7,532.9 L131.3,536.9 L130.8,541.1 L130.3,545.6 L129.8,550.6 L129.3,556 L128.7,562 L128.2,568.6 L127.7,575.9 L127.3,584 L126.8,593 L126.4,602.9 L126,614 L125.6,626.2 L125.1,639.7 L124.7,654.2 L124.3,669.7 L123.9,686.1 L123.6,703.2 L123.2,720.9 L122.8,739 L122.5,757.5 L122.1,776.2 L121.8,794.9 L121.4,813.6 L121.1,832.2 L120.7,850.4 L120.4,868.2 L120,885.5 L167,886.5 L167.4,869.3 L167.9,851.4 L168.3,833.2 L168.7,814.6 L169.1,795.9 L169.5,777.1 L169.9,758.5 L170.3,740 L170.8,721.9 L171.2,704.3 L171.6,687.3 L172.1,671 L172.5,655.6 L173,641.2 L173.5,628 L174,616 L174.6,605.4 L175.2,595.8 L175.9,587.3 L176.6,579.7 L177.3,573 L178,567 L178.7,561.6 L179.4,556.8 L180.1,552.3 L180.8,548.1 L181.5,544.1 L182.2,540 L182.9,536 L183.6,531.7 L184.3,527.2 L184.9,522.6 L185.4,518.2 L185.9,514.2 L186.4,510.4 L186.9,506.9 L187.4,503.7 L187.8,500.6 L188.2,497.7 L188.6,494.9 L189,492.2 L189.4,489.5 L189.8,486.9 L190.2,484.2 L190.6,481.5 L191,478.7 L191.4,475.8 L191.9,472.8Z" fill="#fdfbea" stroke="#20265a" stroke-width="3.8" stroke-linejoin="round"/>
<path d="M142.6,468.2 L142.4,471.2 L142.2,474.1 L142.1,476.9 L141.9,479.6 L141.8,482.3 L141.6,485 L141.5,487.7 L141.3,490.4 L141.2,493.3 L141,496.2 L140.8,499.4 L140.6,502.7 L140.4,506.2 L140.1,510 L139.9,514 L139.6,518.3 L139.3,522.6 L138.9,526.5 L138.5,530.3 L138.1,534.2 L137.7,538.2 L137.2,542.4 L136.7,546.9 L136.2,551.8 L135.7,557.1 L135.2,563 L134.7,569.4 L134.2,576.6 L133.7,584.6 L133.3,593.5 L132.9,603.4 L132.5,614.4 L132.1,626.6 L131.6,640 L131.2,654.5 L130.8,670 L130.4,686.3 L130.1,703.4 L129.7,721.1 L129.3,739.2 L129,757.7 L128.6,776.4 L128.3,795.1 L127.9,813.8 L127.6,832.4 L127.2,850.6 L126.9,868.4 L126.5,885.7 L154.5,886.3 L154.9,869.1 L155.4,851.2 L155.8,833 L156.2,814.4 L156.6,795.7 L157,776.9 L157.4,758.3 L157.8,739.8 L158.3,721.7 L158.7,704.1 L159.1,687 L159.6,670.8 L160,655.3 L160.5,640.9 L161,627.6 L161.5,615.6 L162.1,604.9 L162.8,595.3 L163.4,586.7 L164.1,579 L164.8,572.2 L165.5,566.1 L166.3,560.6 L167,555.6 L167.7,551 L168.4,546.8 L169.1,542.7 L169.8,538.7 L170.5,534.7 L171.2,530.5 L171.8,526.2 L172.4,521.7 L173,517.2 L173.5,513.2 L174,509.5 L174.4,506 L174.9,502.8 L175.3,499.7 L175.8,496.8 L176.2,494 L176.6,491.2 L177,488.6 L177.4,485.9 L177.8,483.3 L178.2,480.6 L178.6,477.8 L179,474.9 L179.4,471.8Z" fill="#8fcdef" stroke="#20265a" stroke-width="3.4" stroke-linejoin="round"/>
<path d="M149.1,468.8 L148.9,471.9 L148.7,474.8 L148.6,477.6 L148.4,480.3 L148.3,483 L148.1,485.6 L148,488.3 L147.8,491.1 L147.6,493.9 L147.5,496.9 L147.3,500 L147.1,503.3 L146.9,506.8 L146.6,510.6 L146.3,514.7 L146.1,519 L145.7,523.3 L145.4,527.3 L145,531.2 L144.6,535.1 L144.1,539.1 L143.6,543.3 L143.2,547.8 L142.7,552.6 L142.2,557.8 L141.7,563.6 L141.2,570 L140.7,577.2 L140.2,585.1 L139.8,593.9 L139.4,603.7 L139,614.7 L138.6,626.8 L138.1,640.2 L137.7,654.7 L137.3,670.2 L136.9,686.5 L136.6,703.6 L136.2,721.2 L135.8,739.3 L135.5,757.8 L135.1,776.5 L134.8,795.2 L134.4,814 L134.1,832.5 L133.7,850.8 L133.4,868.6 L133,885.8 L148,886.2 L148.4,868.9 L148.9,851.1 L149.3,832.8 L149.7,814.3 L150.1,795.6 L150.5,776.8 L150.9,758.1 L151.3,739.7 L151.8,721.6 L152.2,703.9 L152.6,686.9 L153.1,670.6 L153.5,655.1 L154,640.7 L154.5,627.4 L155,615.3 L155.6,604.6 L156.3,594.9 L156.9,586.2 L157.6,578.5 L158.4,571.6 L159.1,565.4 L159.8,559.8 L160.5,554.8 L161.2,550.2 L162,545.9 L162.7,541.8 L163.4,537.8 L164.1,533.8 L164.7,529.7 L165.4,525.5 L165.9,521 L166.5,516.6 L167,512.6 L167.5,508.9 L168,505.4 L168.4,502.1 L168.9,499 L169.3,496.1 L169.7,493.3 L170.1,490.6 L170.5,487.9 L170.9,485.3 L171.3,482.6 L171.7,479.9 L172.1,477.1 L172.5,474.2 L172.9,471.2Z" fill="#d6ecfa"/>
<clipPath id="cpL2"><rect x="0" y="250" width="268" height="300"/></clipPath>
<clipPath id="cpR2"><rect x="312" y="380" width="300" height="140"/></clipPath>
<g clip-path="url(#cpL2)"><path d="M41.7,510.3 L45.4,509.7 L49.1,509 L52.9,508.3 L56.6,507.6 L60.4,507 L64.1,506.3 L67.9,505.6 L71.7,504.9 L75.5,504.3 L79.3,503.6 L83.1,502.8 L86.9,502.1 L90.7,501.4 L94.5,500.6 L98.3,499.9 L102.2,499.1 L106,498.1 L109.8,497.1 L113.5,496.1 L117,495.1 L120.5,494.1 L124,493 L127.4,492 L130.7,491.1 L133.9,490.1 L137.2,489.2 L140.4,488.3 L143.6,487.4 L146.8,486.6 L150,485.7 L153.3,485 L156.7,484.2 L160.3,483.4 L164.1,482.5 L167.9,481.7 L171.8,480.8 L175.8,480 L179.8,479.1 L183.8,478.3 L187.8,477.5 L191.8,476.8 L195.7,476.1 L199.6,475.4 L203.5,474.8 L207.3,474.2 L211,473.7 L214.6,473.2 L218.1,472.8 L221.6,472.4 L225,472.1 L228.4,471.7 L231.8,471.4 L235.1,471.2 L238.4,471 L241.7,470.8 L244.9,470.7 L248.2,470.6 L251.4,470.5 L254.7,470.5 L257.9,470.5 L261.2,470.6 L264.4,470.7 L267.7,470.8 L270.8,470.9 L273.6,471.2 L276.4,471.6 L279.4,472.2 L282.5,472.8 L285.9,473.5 L289.3,474.3 L292.9,475.1 L296.6,476 L300.4,476.9 L304.4,477.7 L308.4,478.6 L312.5,479.3 L316.8,480 L321.2,480.5 L325.8,480.9 L330.6,481 L335.3,480.8 L339.8,480.4 L344,479.7 L348,478.9 L351.8,477.9 L355.2,476.9 L358.3,475.9 L361.1,474.9 L363.6,474 L365.8,473.1 L367.8,472.4 L369.6,471.9 L371.2,471.4 L372.6,471 L373.9,470.7 L375.5,470.5 L377.8,470.1 L380.4,469.7 L383,469.3 L385.8,468.9 L388.6,468.5 L391.5,468.2 L394.4,467.9 L397.3,467.6 L400.3,467.3 L403.3,467 L406.3,466.8 L409.3,466.6 L412.3,466.4 L415.2,466.2 L418.2,466.1 L421,466 L423.9,465.8 L426.8,465.7 L429.8,465.6 L432.7,465.5 L435.7,465.5 L438.7,465.4 L441.7,465.4 L444.7,465.5 L447.6,465.5 L450.6,465.6 L453.4,465.6 L456.3,465.7 L459.1,465.9 L461.9,466 L464.5,466.2 L467.1,466.4 L469.5,466.4 L471.7,466.5 L474,466.7 L476.3,466.8 L478.5,467 L480.8,467.3 L483.1,467.5 L485.5,467.8 L487.9,468.1 L490.3,468.4 L492.8,468.8 L495.4,469.1 L498,469.5 L500.7,469.9 L503.5,470.2 L506.2,470.6 L515.8,419.4 L513.4,418.8 L511.2,418.2 L508.9,417.5 L506.5,416.8 L504.1,416.1 L501.7,415.4 L499.2,414.7 L496.6,413.9 L494,413.2 L491.2,412.5 L488.4,411.8 L485.5,411.1 L482.5,410.4 L479.4,409.8 L476.2,409.2 L472.9,408.6 L469.7,408.3 L466.5,407.9 L463.3,407.6 L460,407.4 L456.6,407.1 L453.3,406.9 L449.9,406.7 L446.5,406.5 L443,406.3 L439.6,406.2 L436.1,406.1 L432.7,406 L429.2,406 L425.8,406 L422.4,406 L419,406 L415.6,406.2 L412.1,406.3 L408.7,406.5 L405.3,406.7 L401.8,407 L398.3,407.2 L394.9,407.5 L391.4,407.9 L388,408.2 L384.6,408.6 L381.2,409 L377.8,409.4 L374.5,409.9 L371.2,410.4 L367.9,410.9 L364.5,411.5 L360.6,412.4 L356.7,413.4 L353.1,414.6 L349.8,415.7 L346.8,416.9 L344.2,418 L341.8,419 L339.8,419.9 L338,420.6 L336.4,421.2 L335.1,421.7 L333.9,422.1 L332.8,422.5 L331.7,422.7 L330.6,422.9 L329.4,423 L328,423.1 L326.2,423 L324,422.8 L321.4,422.5 L318.6,422.1 L315.5,421.6 L312.1,421 L308.6,420.3 L304.9,419.5 L301.1,418.8 L297,418 L292.9,417.2 L288.6,416.5 L284.2,415.9 L279.6,415.4 L275.2,415.1 L271.1,414.8 L267.2,414.5 L263.4,414.2 L259.6,414.1 L255.7,413.9 L251.8,413.8 L248,413.7 L244.1,413.7 L240.1,413.7 L236.2,413.8 L232.3,413.9 L228.3,414 L224.2,414.3 L220.2,414.5 L216.1,414.8 L211.9,415.2 L207.6,415.6 L203.3,416.2 L198.9,416.8 L194.5,417.5 L190.1,418.2 L185.7,419 L181.3,419.8 L176.9,420.6 L172.5,421.4 L168.1,422.3 L163.8,423.2 L159.6,424.1 L155.4,425 L151.3,425.9 L147.3,426.9 L143.3,427.8 L139.3,428.8 L135.3,429.9 L131.5,431 L127.7,432.1 L124,433.3 L120.5,434.4 L117,435.6 L113.6,436.7 L110.2,437.8 L107,438.9 L103.7,440 L100.6,441 L97.4,442 L94.2,443 L91.1,444 L87.8,444.9 L84.5,446 L81.1,447.1 L77.6,448.1 L74.1,449.2 L70.6,450.2 L67,451.2 L63.4,452.3 L59.8,453.3 L56.1,454.3 L52.5,455.4 L48.8,456.4 L45.1,457.5 L41.4,458.5 L37.7,459.5 L33.9,460.6 L30.3,461.7Z" fill="none" stroke="#20265a" stroke-width="7.2" stroke-linejoin="round"/>
<path d="M133.2,276.9 L133.5,280.4 L133.8,283.8 L134,287.3 L134.3,290.7 L134.6,294.2 L134.9,297.6 L135.2,301.1 L135.5,304.6 L135.8,308.2 L136.1,311.7 L136.4,315.3 L136.7,318.9 L137.1,322.6 L137.4,326.2 L137.8,330 L138.2,333.7 L138.7,337.5 L139.2,341.4 L139.6,345.3 L140.1,349.2 L140.7,353.2 L141.2,357.1 L141.7,361 L142.3,364.9 L142.8,368.8 L143.4,372.6 L143.9,376.4 L144.4,380.2 L144.9,383.8 L145.4,387.4 L145.9,390.9 L146.3,394.3 L146.7,397.7 L147.1,401 L147.5,404.2 L147.9,407.4 L148.3,410.6 L148.7,413.7 L149.1,416.8 L149.4,419.8 L149.8,422.8 L150.1,425.9 L150.5,428.9 L150.8,431.9 L151.2,435 L151.6,438.1 L151.9,441.2 L152.3,444.3 L213.7,435.7 L213.2,432.6 L212.7,429.6 L212.2,426.5 L211.8,423.5 L211.3,420.5 L210.8,417.5 L210.3,414.5 L209.8,411.4 L209.3,408.4 L208.9,405.3 L208.4,402.2 L207.8,399 L207.3,395.7 L206.8,392.5 L206.2,389.1 L205.7,385.7 L205.1,382.1 L204.5,378.5 L203.9,374.8 L203.2,371 L202.6,367.3 L201.9,363.5 L201.2,359.7 L200.6,355.8 L199.9,352 L199.3,348.2 L198.6,344.4 L198,340.7 L197.4,337 L196.8,333.3 L196.3,329.8 L195.8,326.3 L195.3,322.8 L194.8,319.4 L194.3,316 L193.9,312.5 L193.4,309.1 L193,305.7 L192.6,302.3 L192.2,298.9 L191.8,295.4 L191.4,292 L190.9,288.6 L190.5,285.1 L190.1,281.6 L189.7,278.1 L189.3,274.6 L188.8,271.1Z" fill="none" stroke="#20265a" stroke-width="7.2" stroke-linejoin="round"/>
<path d="M41.7,510.3 L45.4,509.7 L49.1,509 L52.9,508.3 L56.6,507.6 L60.4,507 L64.1,506.3 L67.9,505.6 L71.7,504.9 L75.5,504.3 L79.3,503.6 L83.1,502.8 L86.9,502.1 L90.7,501.4 L94.5,500.6 L98.3,499.9 L102.2,499.1 L106,498.1 L109.8,497.1 L113.5,496.1 L117,495.1 L120.5,494.1 L124,493 L127.4,492 L130.7,491.1 L133.9,490.1 L137.2,489.2 L140.4,488.3 L143.6,487.4 L146.8,486.6 L150,485.7 L153.3,485 L156.7,484.2 L160.3,483.4 L164.1,482.5 L167.9,481.7 L171.8,480.8 L175.8,480 L179.8,479.1 L183.8,478.3 L187.8,477.5 L191.8,476.8 L195.7,476.1 L199.6,475.4 L203.5,474.8 L207.3,474.2 L211,473.7 L214.6,473.2 L218.1,472.8 L221.6,472.4 L225,472.1 L228.4,471.7 L231.8,471.4 L235.1,471.2 L238.4,471 L241.7,470.8 L244.9,470.7 L248.2,470.6 L251.4,470.5 L254.7,470.5 L257.9,470.5 L261.2,470.6 L264.4,470.7 L267.7,470.8 L270.8,470.9 L273.6,471.2 L276.4,471.6 L279.4,472.2 L282.5,472.8 L285.9,473.5 L289.3,474.3 L292.9,475.1 L296.6,476 L300.4,476.9 L304.4,477.7 L308.4,478.6 L312.5,479.3 L316.8,480 L321.2,480.5 L325.8,480.9 L330.6,481 L335.3,480.8 L339.8,480.4 L344,479.7 L348,478.9 L351.8,477.9 L355.2,476.9 L358.3,475.9 L361.1,474.9 L363.6,474 L365.8,473.1 L367.8,472.4 L369.6,471.9 L371.2,471.4 L372.6,471 L373.9,470.7 L375.5,470.5 L377.8,470.1 L380.4,469.7 L383,469.3 L385.8,468.9 L388.6,468.5 L391.5,468.2 L394.4,467.9 L397.3,467.6 L400.3,467.3 L403.3,467 L406.3,466.8 L409.3,466.6 L412.3,466.4 L415.2,466.2 L418.2,466.1 L421,466 L423.9,465.8 L426.8,465.7 L429.8,465.6 L432.7,465.5 L435.7,465.5 L438.7,465.4 L441.7,465.4 L444.7,465.5 L447.6,465.5 L450.6,465.6 L453.4,465.6 L456.3,465.7 L459.1,465.9 L461.9,466 L464.5,466.2 L467.1,466.4 L469.5,466.4 L471.7,466.5 L474,466.7 L476.3,466.8 L478.5,467 L480.8,467.3 L483.1,467.5 L485.5,467.8 L487.9,468.1 L490.3,468.4 L492.8,468.8 L495.4,469.1 L498,469.5 L500.7,469.9 L503.5,470.2 L506.2,470.6 L515.8,419.4 L513.4,418.8 L511.2,418.2 L508.9,417.5 L506.5,416.8 L504.1,416.1 L501.7,415.4 L499.2,414.7 L496.6,413.9 L494,413.2 L491.2,412.5 L488.4,411.8 L485.5,411.1 L482.5,410.4 L479.4,409.8 L476.2,409.2 L472.9,408.6 L469.7,408.3 L466.5,407.9 L463.3,407.6 L460,407.4 L456.6,407.1 L453.3,406.9 L449.9,406.7 L446.5,406.5 L443,406.3 L439.6,406.2 L436.1,406.1 L432.7,406 L429.2,406 L425.8,406 L422.4,406 L419,406 L415.6,406.2 L412.1,406.3 L408.7,406.5 L405.3,406.7 L401.8,407 L398.3,407.2 L394.9,407.5 L391.4,407.9 L388,408.2 L384.6,408.6 L381.2,409 L377.8,409.4 L374.5,409.9 L371.2,410.4 L367.9,410.9 L364.5,411.5 L360.6,412.4 L356.7,413.4 L353.1,414.6 L349.8,415.7 L346.8,416.9 L344.2,418 L341.8,419 L339.8,419.9 L338,420.6 L336.4,421.2 L335.1,421.7 L333.9,422.1 L332.8,422.5 L331.7,422.7 L330.6,422.9 L329.4,423 L328,423.1 L326.2,423 L324,422.8 L321.4,422.5 L318.6,422.1 L315.5,421.6 L312.1,421 L308.6,420.3 L304.9,419.5 L301.1,418.8 L297,418 L292.9,417.2 L288.6,416.5 L284.2,415.9 L279.6,415.4 L275.2,415.1 L271.1,414.8 L267.2,414.5 L263.4,414.2 L259.6,414.1 L255.7,413.9 L251.8,413.8 L248,413.7 L244.1,413.7 L240.1,413.7 L236.2,413.8 L232.3,413.9 L228.3,414 L224.2,414.3 L220.2,414.5 L216.1,414.8 L211.9,415.2 L207.6,415.6 L203.3,416.2 L198.9,416.8 L194.5,417.5 L190.1,418.2 L185.7,419 L181.3,419.8 L176.9,420.6 L172.5,421.4 L168.1,422.3 L163.8,423.2 L159.6,424.1 L155.4,425 L151.3,425.9 L147.3,426.9 L143.3,427.8 L139.3,428.8 L135.3,429.9 L131.5,431 L127.7,432.1 L124,433.3 L120.5,434.4 L117,435.6 L113.6,436.7 L110.2,437.8 L107,438.9 L103.7,440 L100.6,441 L97.4,442 L94.2,443 L91.1,444 L87.8,444.9 L84.5,446 L81.1,447.1 L77.6,448.1 L74.1,449.2 L70.6,450.2 L67,451.2 L63.4,452.3 L59.8,453.3 L56.1,454.3 L52.5,455.4 L48.8,456.4 L45.1,457.5 L41.4,458.5 L37.7,459.5 L33.9,460.6 L30.3,461.7Z" fill="#fdfbea"/>
<path d="M133.2,276.9 L133.5,280.4 L133.8,283.8 L134,287.3 L134.3,290.7 L134.6,294.2 L134.9,297.6 L135.2,301.1 L135.5,304.6 L135.8,308.2 L136.1,311.7 L136.4,315.3 L136.7,318.9 L137.1,322.6 L137.4,326.2 L137.8,330 L138.2,333.7 L138.7,337.5 L139.2,341.4 L139.6,345.3 L140.1,349.2 L140.7,353.2 L141.2,357.1 L141.7,361 L142.3,364.9 L142.8,368.8 L143.4,372.6 L143.9,376.4 L144.4,380.2 L144.9,383.8 L145.4,387.4 L145.9,390.9 L146.3,394.3 L146.7,397.7 L147.1,401 L147.5,404.2 L147.9,407.4 L148.3,410.6 L148.7,413.7 L149.1,416.8 L149.4,419.8 L149.8,422.8 L150.1,425.9 L150.5,428.9 L150.8,431.9 L151.2,435 L151.6,438.1 L151.9,441.2 L152.3,444.3 L213.7,435.7 L213.2,432.6 L212.7,429.6 L212.2,426.5 L211.8,423.5 L211.3,420.5 L210.8,417.5 L210.3,414.5 L209.8,411.4 L209.3,408.4 L208.9,405.3 L208.4,402.2 L207.8,399 L207.3,395.7 L206.8,392.5 L206.2,389.1 L205.7,385.7 L205.1,382.1 L204.5,378.5 L203.9,374.8 L203.2,371 L202.6,367.3 L201.9,363.5 L201.2,359.7 L200.6,355.8 L199.9,352 L199.3,348.2 L198.6,344.4 L198,340.7 L197.4,337 L196.8,333.3 L196.3,329.8 L195.8,326.3 L195.3,322.8 L194.8,319.4 L194.3,316 L193.9,312.5 L193.4,309.1 L193,305.7 L192.6,302.3 L192.2,298.9 L191.8,295.4 L191.4,292 L190.9,288.6 L190.5,285.1 L190.1,281.6 L189.7,278.1 L189.3,274.6 L188.8,271.1Z" fill="#fdfbea"/>
<path d="M40.2,504 L44,503.3 L47.7,502.6 L51.4,502 L55.2,501.3 L58.9,500.6 L62.7,500 L66.5,499.3 L70.3,498.6 L74,497.9 L77.8,497.2 L81.6,496.5 L85.4,495.8 L89.2,495.1 L93,494.3 L96.7,493.6 L100.5,492.8 L104.3,491.8 L108,490.9 L111.6,489.9 L115.1,488.9 L118.6,487.8 L122,486.8 L125.4,485.8 L128.7,484.9 L132,483.9 L135.3,483 L138.5,482 L141.8,481.1 L145.1,480.3 L148.4,479.5 L151.7,478.7 L155.2,477.9 L158.8,477 L162.6,476.2 L166.5,475.3 L170.5,474.5 L174.5,473.6 L178.5,472.8 L182.5,471.9 L186.5,471.2 L190.6,470.4 L194.6,469.7 L198.6,469 L202.5,468.4 L206.4,467.8 L210.1,467.2 L213.8,466.8 L217.4,466.4 L220.9,466 L224.5,465.6 L227.9,465.2 L231.4,465 L234.8,464.7 L238.2,464.5 L241.5,464.3 L244.8,464.2 L248.2,464.1 L251.5,464 L254.8,464 L258.1,464 L261.4,464.1 L264.8,464.2 L268.1,464.3 L271.3,464.4 L274.3,464.8 L277.3,465.2 L280.4,465.7 L283.7,466.4 L287.2,467.1 L290.7,467.9 L294.3,468.8 L298,469.6 L301.8,470.5 L305.6,471.4 L309.5,472.2 L313.5,472.9 L317.6,473.5 L321.8,474.1 L326.1,474.4 L330.4,474.5 L334.7,474.3 L338.9,473.9 L342.8,473.4 L346.5,472.6 L349.9,471.7 L353.1,470.8 L356,469.8 L358.7,468.8 L361.2,467.9 L363.5,467.1 L365.5,466.4 L367.4,465.7 L369.2,465.2 L370.9,464.8 L372.5,464.4 L374.3,464.1 L376.7,463.7 L379.4,463.3 L382.1,462.9 L384.9,462.5 L387.8,462.1 L390.7,461.7 L393.7,461.4 L396.7,461.1 L399.7,460.8 L402.7,460.6 L405.8,460.3 L408.8,460.1 L411.9,459.9 L414.9,459.7 L417.9,459.6 L420.8,459.5 L423.8,459.3 L426.7,459.2 L429.7,459.1 L432.7,459 L435.8,459 L438.8,458.9 L441.8,458.9 L444.9,459 L447.9,459 L450.9,459.1 L453.8,459.1 L456.7,459.3 L459.6,459.4 L462.4,459.5 L465.1,459.7 L467.7,459.9 L470.2,460 L472.6,460.1 L475,460.2 L477.3,460.4 L479.7,460.6 L482,460.9 L484.4,461.1 L486.8,461.4 L489.2,461.8 L491.7,462.1 L494.2,462.4 L496.7,462.8 L499.3,463.1 L502,463.5 L504.7,463.9 L507.4,464.2 L514.6,425.8 L512.2,425.2 L509.9,424.5 L507.5,423.9 L505.2,423.2 L502.8,422.5 L500.3,421.8 L497.9,421 L495.3,420.3 L492.7,419.6 L490,418.9 L487.3,418.2 L484.4,417.5 L481.5,416.8 L478.5,416.2 L475.4,415.6 L472.3,415.1 L469.1,414.8 L466,414.4 L462.8,414.1 L459.6,413.8 L456.3,413.6 L453,413.4 L449.6,413.2 L446.3,413 L442.9,412.8 L439.5,412.7 L436.1,412.6 L432.7,412.5 L429.3,412.5 L425.9,412.5 L422.5,412.5 L419.2,412.5 L415.8,412.6 L412.5,412.8 L409.1,413 L405.7,413.2 L402.3,413.4 L398.9,413.7 L395.5,414 L392.1,414.3 L388.7,414.7 L385.3,415.1 L382,415.5 L378.7,415.9 L375.4,416.3 L372.2,416.8 L369,417.3 L365.7,417.9 L362,418.7 L358.4,419.7 L355.1,420.8 L352,421.9 L349.1,423 L346.6,424 L344.2,425 L342.1,425.9 L340.2,426.7 L338.5,427.4 L336.9,428 L335.4,428.4 L334,428.8 L332.6,429.1 L331.2,429.4 L329.6,429.5 L327.7,429.5 L325.6,429.5 L323.1,429.3 L320.4,428.9 L317.4,428.5 L314.2,427.9 L310.8,427.3 L307.3,426.6 L303.5,425.9 L299.7,425.1 L295.8,424.4 L291.7,423.6 L287.5,423 L283.3,422.4 L278.9,421.9 L274.7,421.6 L270.7,421.2 L266.9,421 L263.1,420.7 L259.4,420.5 L255.6,420.4 L251.8,420.3 L248,420.2 L244.2,420.2 L240.3,420.2 L236.5,420.3 L232.6,420.4 L228.7,420.5 L224.7,420.7 L220.7,421 L216.7,421.3 L212.6,421.6 L208.4,422.1 L204.2,422.6 L199.9,423.2 L195.5,423.9 L191.2,424.6 L186.8,425.4 L182.4,426.1 L178.1,427 L173.7,427.8 L169.4,428.7 L165.2,429.6 L161,430.5 L156.8,431.4 L152.7,432.3 L148.8,433.2 L144.8,434.1 L140.9,435.1 L137,436.2 L133.2,437.3 L129.5,438.4 L125.9,439.5 L122.4,440.6 L118.9,441.8 L115.5,442.9 L112.2,444 L108.9,445.1 L105.7,446.2 L102.5,447.2 L99.2,448.3 L96,449.3 L92.8,450.3 L89.5,451.2 L86.1,452.3 L82.7,453.4 L79.2,454.4 L75.6,455.5 L72.1,456.5 L68.5,457.6 L64.9,458.6 L61.2,459.6 L57.6,460.7 L53.9,461.7 L50.2,462.7 L46.5,463.8 L42.8,464.8 L39.1,465.9 L35.4,466.9 L31.8,468Z" fill="#8fcdef" stroke="#20265a" stroke-width="3.4"/>
<path d="M38.8,497.7 L42.5,497 L46.2,496.3 L49.9,495.6 L53.7,495 L57.5,494.3 L61.2,493.6 L65,493 L68.8,492.3 L72.6,491.6 L76.3,490.9 L80.1,490.2 L83.9,489.5 L87.6,488.8 L91.4,488 L95.1,487.3 L98.8,486.5 L102.5,485.6 L106.2,484.6 L109.7,483.6 L113.2,482.6 L116.7,481.6 L120.1,480.6 L123.4,479.6 L126.8,478.7 L130.1,477.7 L133.4,476.7 L136.7,475.8 L140,474.9 L143.3,474 L146.7,473.2 L150.1,472.4 L153.7,471.6 L157.4,470.7 L161.2,469.8 L165.1,469 L169.1,468.1 L173.1,467.2 L177.2,466.4 L181.2,465.6 L185.3,464.8 L189.4,464 L193.5,463.3 L197.5,462.6 L201.5,461.9 L205.4,461.3 L209.3,460.8 L213,460.3 L216.7,459.9 L220.3,459.5 L223.9,459.1 L227.5,458.8 L231,458.5 L234.5,458.2 L237.9,458 L241.3,457.8 L244.7,457.7 L248.1,457.6 L251.5,457.5 L254.9,457.5 L258.3,457.5 L261.7,457.6 L265.1,457.7 L268.5,457.8 L271.8,458 L275,458.3 L278.2,458.8 L281.5,459.3 L284.9,460 L288.4,460.8 L292,461.6 L295.7,462.4 L299.4,463.3 L303.1,464.1 L306.9,465 L310.7,465.8 L314.5,466.5 L318.4,467.1 L322.3,467.6 L326.3,467.9 L330.3,468 L334.2,467.9 L338,467.5 L341.5,467 L344.9,466.3 L348.1,465.5 L351,464.6 L353.8,463.7 L356.4,462.8 L358.8,461.9 L361.1,461 L363.2,460.3 L365.3,459.6 L367.2,459 L369.1,458.5 L371,458.1 L373.1,457.7 L375.6,457.3 L378.4,456.8 L381.2,456.4 L384.1,456 L387,455.6 L390,455.3 L393,455 L396,454.6 L399.1,454.3 L402.2,454.1 L405.3,453.8 L408.4,453.6 L411.5,453.4 L414.6,453.3 L417.6,453.1 L420.6,453 L423.6,452.8 L426.6,452.7 L429.7,452.6 L432.7,452.5 L435.8,452.5 L438.9,452.4 L442,452.4 L445.1,452.5 L448.1,452.5 L451.2,452.6 L454.2,452.7 L457.1,452.8 L460,452.9 L462.9,453.1 L465.7,453.2 L468.4,453.4 L471,453.5 L473.5,453.6 L475.9,453.8 L478.4,454 L480.8,454.2 L483.3,454.5 L485.7,454.8 L488.1,455.1 L490.6,455.4 L493.1,455.7 L495.6,456.1 L498.1,456.4 L500.7,456.8 L503.3,457.1 L506,457.5 L508.6,457.8 L513.4,432.2 L511,431.6 L508.6,430.9 L506.2,430.2 L503.8,429.5 L501.4,428.8 L499,428.1 L496.5,427.4 L494,426.7 L491.4,426 L488.8,425.3 L486.1,424.6 L483.4,423.9 L480.5,423.3 L477.6,422.7 L474.6,422.1 L471.6,421.6 L468.5,421.2 L465.5,420.9 L462.3,420.6 L459.1,420.3 L455.9,420.1 L452.7,419.9 L449.4,419.7 L446.1,419.5 L442.7,419.3 L439.4,419.2 L436,419.1 L432.7,419 L429.4,419 L426,419 L422.7,419 L419.4,419 L416.1,419.1 L412.8,419.3 L409.5,419.5 L406.1,419.7 L402.8,419.9 L399.4,420.2 L396.1,420.5 L392.7,420.8 L389.4,421.1 L386.1,421.5 L382.8,421.9 L379.5,422.3 L376.3,422.8 L373.2,423.2 L370.1,423.7 L366.9,424.3 L363.5,425 L360.1,426 L357,427 L354.1,428 L351.4,429.1 L348.9,430.1 L346.6,431.1 L344.5,432 L342.5,432.8 L340.6,433.6 L338.8,434.2 L337,434.7 L335.3,435.2 L333.5,435.6 L331.7,435.8 L329.7,436 L327.5,436 L325.1,435.9 L322.3,435.7 L319.4,435.4 L316.3,434.9 L312.9,434.3 L309.5,433.7 L305.9,433 L302.2,432.2 L298.4,431.5 L294.5,430.7 L290.5,430 L286.5,429.4 L282.4,428.8 L278.2,428.3 L274.2,428 L270.3,427.7 L266.6,427.5 L262.9,427.2 L259.2,427 L255.5,426.9 L251.7,426.8 L248,426.7 L244.3,426.7 L240.5,426.7 L236.7,426.8 L232.9,426.9 L229.1,427 L225.2,427.2 L221.3,427.5 L217.3,427.8 L213.3,428.1 L209.2,428.6 L205,429.1 L200.8,429.7 L196.5,430.3 L192.2,431 L187.9,431.8 L183.6,432.5 L179.3,433.3 L175,434.2 L170.7,435 L166.5,435.9 L162.3,436.8 L158.2,437.7 L154.2,438.6 L150.2,439.5 L146.3,440.4 L142.4,441.4 L138.6,442.5 L134.9,443.5 L131.3,444.6 L127.7,445.7 L124.3,446.9 L120.8,448 L117.5,449.1 L114.2,450.2 L110.9,451.3 L107.6,452.4 L104.3,453.5 L101.1,454.5 L97.8,455.5 L94.5,456.5 L91.2,457.5 L87.7,458.6 L84.3,459.7 L80.7,460.7 L77.2,461.8 L73.6,462.8 L70,463.9 L66.4,464.9 L62.7,466 L59,467 L55.4,468 L51.7,469.1 L48,470.1 L44.3,471.2 L40.6,472.2 L36.9,473.3 L33.2,474.3Z" fill="#d6ecfa"/>
<ellipse cx="178.8" cy="409.5" rx="25.6" ry="14.1" transform="rotate(-8.0 178.8 409.5)" fill="#20265a"/>
<path d="M139.6,276.3 L139.9,279.7 L140.2,283.2 L140.5,286.6 L140.8,290.1 L141.1,293.5 L141.4,297 L141.6,300.5 L141.9,304 L142.2,307.5 L142.5,311 L142.8,314.6 L143.2,318.2 L143.5,321.8 L143.9,325.5 L144.3,329.2 L144.7,332.9 L145.1,336.7 L145.6,340.5 L146.1,344.4 L146.6,348.3 L147.1,352.2 L147.6,356.1 L148.2,360 L148.7,363.9 L149.3,367.8 L149.8,371.6 L150.3,375.4 L150.8,379.2 L151.4,382.9 L151.8,386.5 L152.3,390 L152.7,393.4 L153.2,396.8 L153.6,400.1 L154,403.3 L154.4,406.5 L154.8,409.7 L155.1,412.8 L202.4,406.2 L201.9,403.1 L201.4,399.9 L200.9,396.7 L200.4,393.4 L199.8,390 L199.3,386.6 L198.7,383.1 L198.1,379.4 L197.4,375.8 L196.8,372 L196.1,368.3 L195.5,364.5 L194.8,360.7 L194.2,356.8 L193.5,353 L192.9,349.2 L192.2,345.4 L191.6,341.6 L191,337.9 L190.4,334.2 L189.8,330.6 L189.3,327.1 L188.8,323.6 L188.3,320.2 L187.9,316.7 L187.4,313.3 L187,309.8 L186.5,306.4 L186.1,303 L185.7,299.5 L185.3,296.1 L184.9,292.7 L184.5,289.2 L184.1,285.7 L183.7,282.3 L183.2,278.8 L182.8,275.2 L182.4,271.7Z" fill="#8fcdef" stroke="#20265a" stroke-width="3.4"/>
<ellipse cx="178.8" cy="409.5" rx="22.2" ry="12.2" transform="rotate(-8.0 178.8 409.5)" fill="#8fcdef"/>
<path d="M146.1,275.6 L146.4,279.1 L146.7,282.5 L147,286 L147.3,289.4 L147.5,292.9 L147.8,296.3 L148.1,299.8 L148.4,303.3 L148.7,306.8 L149,310.3 L149.3,313.9 L149.6,317.5 L150,321.1 L150.3,324.7 L150.7,328.4 L151.1,332.1 L151.6,335.8 L152,339.6 L152.5,343.5 L153,347.3 L153.5,351.2 L154.1,355.1 L154.6,359 L155.1,362.9 L155.7,366.8 L156.2,370.6 L156.7,374.4 L157.3,378.2 L157.8,381.9 L158.3,385.5 L158.7,389 L159.2,392.5 L159.6,395.8 L160,399.2 L160.4,402.4 L160.8,405.6 L161.2,408.8 L161.6,411.9 L196,407.1 L195.5,404 L195,400.8 L194.5,397.6 L193.9,394.3 L193.4,391 L192.8,387.5 L192.2,384 L191.6,380.4 L191,376.8 L190.4,373 L189.7,369.3 L189.1,365.5 L188.4,361.7 L187.7,357.8 L187.1,354 L186.4,350.2 L185.8,346.4 L185.2,342.6 L184.6,338.8 L184,335.1 L183.4,331.5 L182.9,327.9 L182.4,324.4 L181.9,320.9 L181.4,317.4 L180.9,314 L180.5,310.5 L180.1,307.1 L179.6,303.6 L179.2,300.2 L178.8,296.7 L178.4,293.3 L178,289.8 L177.6,286.4 L177.2,282.9 L176.8,279.4 L176.4,275.9 L175.9,272.4Z" fill="#d6ecfa"/>
<ellipse cx="178.8" cy="409.5" rx="17.4" ry="9.6" transform="rotate(-8.0 178.8 409.5)" fill="#d6ecfa"/></g>
<g clip-path="url(#cpR2)"><path d="M41.7,510.3 L45.4,509.7 L49.1,509 L52.9,508.3 L56.6,507.6 L60.4,507 L64.1,506.3 L67.9,505.6 L71.7,504.9 L75.5,504.3 L79.3,503.6 L83.1,502.8 L86.9,502.1 L90.7,501.4 L94.5,500.6 L98.3,499.9 L102.2,499.1 L106,498.1 L109.8,497.1 L113.5,496.1 L117,495.1 L120.5,494.1 L124,493 L127.4,492 L130.7,491.1 L133.9,490.1 L137.2,489.2 L140.4,488.3 L143.6,487.4 L146.8,486.6 L150,485.7 L153.3,485 L156.7,484.2 L160.3,483.4 L164.1,482.5 L167.9,481.7 L171.8,480.8 L175.8,480 L179.8,479.1 L183.8,478.3 L187.8,477.5 L191.8,476.8 L195.7,476.1 L199.6,475.4 L203.5,474.8 L207.3,474.2 L211,473.7 L214.6,473.2 L218.1,472.8 L221.6,472.4 L225,472.1 L228.4,471.7 L231.8,471.4 L235.1,471.2 L238.4,471 L241.7,470.8 L244.9,470.7 L248.2,470.6 L251.4,470.5 L254.7,470.5 L257.9,470.5 L261.2,470.6 L264.4,470.7 L267.7,470.8 L270.8,470.9 L273.6,471.2 L276.4,471.6 L279.4,472.2 L282.5,472.8 L285.9,473.5 L289.3,474.3 L292.9,475.1 L296.6,476 L300.4,476.9 L304.4,477.7 L308.4,478.6 L312.5,479.3 L316.8,480 L321.2,480.5 L325.8,480.9 L330.6,481 L335.3,480.8 L339.8,480.4 L344,479.7 L348,478.9 L351.8,477.9 L355.2,476.9 L358.3,475.9 L361.1,474.9 L363.6,474 L365.8,473.1 L367.8,472.4 L369.6,471.9 L371.2,471.4 L372.6,471 L373.9,470.7 L375.5,470.5 L377.8,470.1 L380.4,469.7 L383,469.3 L385.8,468.9 L388.6,468.5 L391.5,468.2 L394.4,467.9 L397.3,467.6 L400.3,467.3 L403.3,467 L406.3,466.8 L409.3,466.6 L412.3,466.4 L415.2,466.2 L418.2,466.1 L421,466 L423.9,465.8 L426.8,465.7 L429.8,465.6 L432.7,465.5 L435.7,465.5 L438.7,465.4 L441.7,465.4 L444.7,465.5 L447.6,465.5 L450.6,465.6 L453.4,465.6 L456.3,465.7 L459.1,465.9 L461.9,466 L464.5,466.2 L467.1,466.4 L469.5,466.4 L471.7,466.5 L474,466.7 L476.3,466.8 L478.5,467 L480.8,467.3 L483.1,467.5 L485.5,467.8 L487.9,468.1 L490.3,468.4 L492.8,468.8 L495.4,469.1 L498,469.5 L500.7,469.9 L503.5,470.2 L506.2,470.6 L515.8,419.4 L513.4,418.8 L511.2,418.2 L508.9,417.5 L506.5,416.8 L504.1,416.1 L501.7,415.4 L499.2,414.7 L496.6,413.9 L494,413.2 L491.2,412.5 L488.4,411.8 L485.5,411.1 L482.5,410.4 L479.4,409.8 L476.2,409.2 L472.9,408.6 L469.7,408.3 L466.5,407.9 L463.3,407.6 L460,407.4 L456.6,407.1 L453.3,406.9 L449.9,406.7 L446.5,406.5 L443,406.3 L439.6,406.2 L436.1,406.1 L432.7,406 L429.2,406 L425.8,406 L422.4,406 L419,406 L415.6,406.2 L412.1,406.3 L408.7,406.5 L405.3,406.7 L401.8,407 L398.3,407.2 L394.9,407.5 L391.4,407.9 L388,408.2 L384.6,408.6 L381.2,409 L377.8,409.4 L374.5,409.9 L371.2,410.4 L367.9,410.9 L364.5,411.5 L360.6,412.4 L356.7,413.4 L353.1,414.6 L349.8,415.7 L346.8,416.9 L344.2,418 L341.8,419 L339.8,419.9 L338,420.6 L336.4,421.2 L335.1,421.7 L333.9,422.1 L332.8,422.5 L331.7,422.7 L330.6,422.9 L329.4,423 L328,423.1 L326.2,423 L324,422.8 L321.4,422.5 L318.6,422.1 L315.5,421.6 L312.1,421 L308.6,420.3 L304.9,419.5 L301.1,418.8 L297,418 L292.9,417.2 L288.6,416.5 L284.2,415.9 L279.6,415.4 L275.2,415.1 L271.1,414.8 L267.2,414.5 L263.4,414.2 L259.6,414.1 L255.7,413.9 L251.8,413.8 L248,413.7 L244.1,413.7 L240.1,413.7 L236.2,413.8 L232.3,413.9 L228.3,414 L224.2,414.3 L220.2,414.5 L216.1,414.8 L211.9,415.2 L207.6,415.6 L203.3,416.2 L198.9,416.8 L194.5,417.5 L190.1,418.2 L185.7,419 L181.3,419.8 L176.9,420.6 L172.5,421.4 L168.1,422.3 L163.8,423.2 L159.6,424.1 L155.4,425 L151.3,425.9 L147.3,426.9 L143.3,427.8 L139.3,428.8 L135.3,429.9 L131.5,431 L127.7,432.1 L124,433.3 L120.5,434.4 L117,435.6 L113.6,436.7 L110.2,437.8 L107,438.9 L103.7,440 L100.6,441 L97.4,442 L94.2,443 L91.1,444 L87.8,444.9 L84.5,446 L81.1,447.1 L77.6,448.1 L74.1,449.2 L70.6,450.2 L67,451.2 L63.4,452.3 L59.8,453.3 L56.1,454.3 L52.5,455.4 L48.8,456.4 L45.1,457.5 L41.4,458.5 L37.7,459.5 L33.9,460.6 L30.3,461.7Z" fill="#fdfbea" stroke="#20265a" stroke-width="3.8"/>
<path d="M40.2,504 L44,503.3 L47.7,502.6 L51.4,502 L55.2,501.3 L58.9,500.6 L62.7,500 L66.5,499.3 L70.3,498.6 L74,497.9 L77.8,497.2 L81.6,496.5 L85.4,495.8 L89.2,495.1 L93,494.3 L96.7,493.6 L100.5,492.8 L104.3,491.8 L108,490.9 L111.6,489.9 L115.1,488.9 L118.6,487.8 L122,486.8 L125.4,485.8 L128.7,484.9 L132,483.9 L135.3,483 L138.5,482 L141.8,481.1 L145.1,480.3 L148.4,479.5 L151.7,478.7 L155.2,477.9 L158.8,477 L162.6,476.2 L166.5,475.3 L170.5,474.5 L174.5,473.6 L178.5,472.8 L182.5,471.9 L186.5,471.2 L190.6,470.4 L194.6,469.7 L198.6,469 L202.5,468.4 L206.4,467.8 L210.1,467.2 L213.8,466.8 L217.4,466.4 L220.9,466 L224.5,465.6 L227.9,465.2 L231.4,465 L234.8,464.7 L238.2,464.5 L241.5,464.3 L244.8,464.2 L248.2,464.1 L251.5,464 L254.8,464 L258.1,464 L261.4,464.1 L264.8,464.2 L268.1,464.3 L271.3,464.4 L274.3,464.8 L277.3,465.2 L280.4,465.7 L283.7,466.4 L287.2,467.1 L290.7,467.9 L294.3,468.8 L298,469.6 L301.8,470.5 L305.6,471.4 L309.5,472.2 L313.5,472.9 L317.6,473.5 L321.8,474.1 L326.1,474.4 L330.4,474.5 L334.7,474.3 L338.9,473.9 L342.8,473.4 L346.5,472.6 L349.9,471.7 L353.1,470.8 L356,469.8 L358.7,468.8 L361.2,467.9 L363.5,467.1 L365.5,466.4 L367.4,465.7 L369.2,465.2 L370.9,464.8 L372.5,464.4 L374.3,464.1 L376.7,463.7 L379.4,463.3 L382.1,462.9 L384.9,462.5 L387.8,462.1 L390.7,461.7 L393.7,461.4 L396.7,461.1 L399.7,460.8 L402.7,460.6 L405.8,460.3 L408.8,460.1 L411.9,459.9 L414.9,459.7 L417.9,459.6 L420.8,459.5 L423.8,459.3 L426.7,459.2 L429.7,459.1 L432.7,459 L435.8,459 L438.8,458.9 L441.8,458.9 L444.9,459 L447.9,459 L450.9,459.1 L453.8,459.1 L456.7,459.3 L459.6,459.4 L462.4,459.5 L465.1,459.7 L467.7,459.9 L470.2,460 L472.6,460.1 L475,460.2 L477.3,460.4 L479.7,460.6 L482,460.9 L484.4,461.1 L486.8,461.4 L489.2,461.8 L491.7,462.1 L494.2,462.4 L496.7,462.8 L499.3,463.1 L502,463.5 L504.7,463.9 L507.4,464.2 L514.6,425.8 L512.2,425.2 L509.9,424.5 L507.5,423.9 L505.2,423.2 L502.8,422.5 L500.3,421.8 L497.9,421 L495.3,420.3 L492.7,419.6 L490,418.9 L487.3,418.2 L484.4,417.5 L481.5,416.8 L478.5,416.2 L475.4,415.6 L472.3,415.1 L469.1,414.8 L466,414.4 L462.8,414.1 L459.6,413.8 L456.3,413.6 L453,413.4 L449.6,413.2 L446.3,413 L442.9,412.8 L439.5,412.7 L436.1,412.6 L432.7,412.5 L429.3,412.5 L425.9,412.5 L422.5,412.5 L419.2,412.5 L415.8,412.6 L412.5,412.8 L409.1,413 L405.7,413.2 L402.3,413.4 L398.9,413.7 L395.5,414 L392.1,414.3 L388.7,414.7 L385.3,415.1 L382,415.5 L378.7,415.9 L375.4,416.3 L372.2,416.8 L369,417.3 L365.7,417.9 L362,418.7 L358.4,419.7 L355.1,420.8 L352,421.9 L349.1,423 L346.6,424 L344.2,425 L342.1,425.9 L340.2,426.7 L338.5,427.4 L336.9,428 L335.4,428.4 L334,428.8 L332.6,429.1 L331.2,429.4 L329.6,429.5 L327.7,429.5 L325.6,429.5 L323.1,429.3 L320.4,428.9 L317.4,428.5 L314.2,427.9 L310.8,427.3 L307.3,426.6 L303.5,425.9 L299.7,425.1 L295.8,424.4 L291.7,423.6 L287.5,423 L283.3,422.4 L278.9,421.9 L274.7,421.6 L270.7,421.2 L266.9,421 L263.1,420.7 L259.4,420.5 L255.6,420.4 L251.8,420.3 L248,420.2 L244.2,420.2 L240.3,420.2 L236.5,420.3 L232.6,420.4 L228.7,420.5 L224.7,420.7 L220.7,421 L216.7,421.3 L212.6,421.6 L208.4,422.1 L204.2,422.6 L199.9,423.2 L195.5,423.9 L191.2,424.6 L186.8,425.4 L182.4,426.1 L178.1,427 L173.7,427.8 L169.4,428.7 L165.2,429.6 L161,430.5 L156.8,431.4 L152.7,432.3 L148.8,433.2 L144.8,434.1 L140.9,435.1 L137,436.2 L133.2,437.3 L129.5,438.4 L125.9,439.5 L122.4,440.6 L118.9,441.8 L115.5,442.9 L112.2,444 L108.9,445.1 L105.7,446.2 L102.5,447.2 L99.2,448.3 L96,449.3 L92.8,450.3 L89.5,451.2 L86.1,452.3 L82.7,453.4 L79.2,454.4 L75.6,455.5 L72.1,456.5 L68.5,457.6 L64.9,458.6 L61.2,459.6 L57.6,460.7 L53.9,461.7 L50.2,462.7 L46.5,463.8 L42.8,464.8 L39.1,465.9 L35.4,466.9 L31.8,468Z" fill="#8fcdef" stroke="#20265a" stroke-width="3.4"/>
<path d="M38.8,497.7 L42.5,497 L46.2,496.3 L49.9,495.6 L53.7,495 L57.5,494.3 L61.2,493.6 L65,493 L68.8,492.3 L72.6,491.6 L76.3,490.9 L80.1,490.2 L83.9,489.5 L87.6,488.8 L91.4,488 L95.1,487.3 L98.8,486.5 L102.5,485.6 L106.2,484.6 L109.7,483.6 L113.2,482.6 L116.7,481.6 L120.1,480.6 L123.4,479.6 L126.8,478.7 L130.1,477.7 L133.4,476.7 L136.7,475.8 L140,474.9 L143.3,474 L146.7,473.2 L150.1,472.4 L153.7,471.6 L157.4,470.7 L161.2,469.8 L165.1,469 L169.1,468.1 L173.1,467.2 L177.2,466.4 L181.2,465.6 L185.3,464.8 L189.4,464 L193.5,463.3 L197.5,462.6 L201.5,461.9 L205.4,461.3 L209.3,460.8 L213,460.3 L216.7,459.9 L220.3,459.5 L223.9,459.1 L227.5,458.8 L231,458.5 L234.5,458.2 L237.9,458 L241.3,457.8 L244.7,457.7 L248.1,457.6 L251.5,457.5 L254.9,457.5 L258.3,457.5 L261.7,457.6 L265.1,457.7 L268.5,457.8 L271.8,458 L275,458.3 L278.2,458.8 L281.5,459.3 L284.9,460 L288.4,460.8 L292,461.6 L295.7,462.4 L299.4,463.3 L303.1,464.1 L306.9,465 L310.7,465.8 L314.5,466.5 L318.4,467.1 L322.3,467.6 L326.3,467.9 L330.3,468 L334.2,467.9 L338,467.5 L341.5,467 L344.9,466.3 L348.1,465.5 L351,464.6 L353.8,463.7 L356.4,462.8 L358.8,461.9 L361.1,461 L363.2,460.3 L365.3,459.6 L367.2,459 L369.1,458.5 L371,458.1 L373.1,457.7 L375.6,457.3 L378.4,456.8 L381.2,456.4 L384.1,456 L387,455.6 L390,455.3 L393,455 L396,454.6 L399.1,454.3 L402.2,454.1 L405.3,453.8 L408.4,453.6 L411.5,453.4 L414.6,453.3 L417.6,453.1 L420.6,453 L423.6,452.8 L426.6,452.7 L429.7,452.6 L432.7,452.5 L435.8,452.5 L438.9,452.4 L442,452.4 L445.1,452.5 L448.1,452.5 L451.2,452.6 L454.2,452.7 L457.1,452.8 L460,452.9 L462.9,453.1 L465.7,453.2 L468.4,453.4 L471,453.5 L473.5,453.6 L475.9,453.8 L478.4,454 L480.8,454.2 L483.3,454.5 L485.7,454.8 L488.1,455.1 L490.6,455.4 L493.1,455.7 L495.6,456.1 L498.1,456.4 L500.7,456.8 L503.3,457.1 L506,457.5 L508.6,457.8 L513.4,432.2 L511,431.6 L508.6,430.9 L506.2,430.2 L503.8,429.5 L501.4,428.8 L499,428.1 L496.5,427.4 L494,426.7 L491.4,426 L488.8,425.3 L486.1,424.6 L483.4,423.9 L480.5,423.3 L477.6,422.7 L474.6,422.1 L471.6,421.6 L468.5,421.2 L465.5,420.9 L462.3,420.6 L459.1,420.3 L455.9,420.1 L452.7,419.9 L449.4,419.7 L446.1,419.5 L442.7,419.3 L439.4,419.2 L436,419.1 L432.7,419 L429.4,419 L426,419 L422.7,419 L419.4,419 L416.1,419.1 L412.8,419.3 L409.5,419.5 L406.1,419.7 L402.8,419.9 L399.4,420.2 L396.1,420.5 L392.7,420.8 L389.4,421.1 L386.1,421.5 L382.8,421.9 L379.5,422.3 L376.3,422.8 L373.2,423.2 L370.1,423.7 L366.9,424.3 L363.5,425 L360.1,426 L357,427 L354.1,428 L351.4,429.1 L348.9,430.1 L346.6,431.1 L344.5,432 L342.5,432.8 L340.6,433.6 L338.8,434.2 L337,434.7 L335.3,435.2 L333.5,435.6 L331.7,435.8 L329.7,436 L327.5,436 L325.1,435.9 L322.3,435.7 L319.4,435.4 L316.3,434.9 L312.9,434.3 L309.5,433.7 L305.9,433 L302.2,432.2 L298.4,431.5 L294.5,430.7 L290.5,430 L286.5,429.4 L282.4,428.8 L278.2,428.3 L274.2,428 L270.3,427.7 L266.6,427.5 L262.9,427.2 L259.2,427 L255.5,426.9 L251.7,426.8 L248,426.7 L244.3,426.7 L240.5,426.7 L236.7,426.8 L232.9,426.9 L229.1,427 L225.2,427.2 L221.3,427.5 L217.3,427.8 L213.3,428.1 L209.2,428.6 L205,429.1 L200.8,429.7 L196.5,430.3 L192.2,431 L187.9,431.8 L183.6,432.5 L179.3,433.3 L175,434.2 L170.7,435 L166.5,435.9 L162.3,436.8 L158.2,437.7 L154.2,438.6 L150.2,439.5 L146.3,440.4 L142.4,441.4 L138.6,442.5 L134.9,443.5 L131.3,444.6 L127.7,445.7 L124.3,446.9 L120.8,448 L117.5,449.1 L114.2,450.2 L110.9,451.3 L107.6,452.4 L104.3,453.5 L101.1,454.5 L97.8,455.5 L94.5,456.5 L91.2,457.5 L87.7,458.6 L84.3,459.7 L80.7,460.7 L77.2,461.8 L73.6,462.8 L70,463.9 L66.4,464.9 L62.7,466 L59,467 L55.4,468 L51.7,469.1 L48,470.1 L44.3,471.2 L40.6,472.2 L36.9,473.3 L33.2,474.3Z" fill="#d6ecfa"/></g>
<path d="M342,606 L341,604.2 L340,602.4 L339,600.7 L337.9,599.1 L336.9,597.5 L335.9,595.9 L334.8,594.3 L333.8,592.6 L332.8,590.9 L331.8,589.2 L330.8,587.3 L329.8,585.3 L328.8,583.2 L327.9,581 L326.9,578.6 L326,576 L325.1,573.2 L324.2,570.4 L323.2,567.4 L322.3,564.3 L321.3,561.1 L320.4,557.7 L319.5,554.3 L318.6,550.8 L317.8,547.2 L316.9,543.5 L316.1,539.8 L315.4,535.9 L314.7,532 L314.1,528.1 L313.5,524.1 L313,520 L312.6,515.8 L312.2,511.2 L311.8,506.5 L311.5,501.6 L311.3,496.5 L311.1,491.3 L310.9,486.1 L310.8,480.9 L310.7,475.8 L310.7,470.7 L310.7,465.8 L310.7,461.1 L310.7,456.6 L310.8,452.4 L310.9,448.5 L311,445 L311.1,441.8 L311.3,438.9 L311.5,436.1 L311.7,433.6 L311.9,431.3 L312.2,429.1 L312.5,427.2 L312.9,425.3 L313.3,423.6 L313.7,422 L314.1,420.5 L314.6,419.1 L315.1,417.8 L315.7,416.5 L316.3,415.2 L317,414 L317.7,412.8 L318.5,411.8 L319.4,410.9 L320.3,410.1 L321.3,409.4 L322.3,408.7 L323.4,408.2 L324.4,407.8 L325.5,407.4 L326.6,407 L327.7,406.8 L328.8,406.5 L329.9,406.4 L331,406.2 L332,406.1 L333,406 L334,405.9 L335,406 L336,406 L337,406.2 L338,406.4 L339,406.7 L340.1,407 L341.1,407.3 L342,407.7 L343,408.1 L343.9,408.6 L344.8,409 L345.7,409.5 L346.5,410 L347.3,410.5 L348,411 L348.7,411.5 L349.3,412.1 L349.8,412.7 L350.3,413.3 L350.8,414 L351.2,414.7 L351.6,415.4 L352,416.1 L352.4,416.9 L352.7,417.6 L353.1,418.4 L353.4,419.1 L353.8,419.9 L354.2,420.6 L354.6,421.3 L355,422" fill="none" stroke="#20265a" stroke-width="12" stroke-linecap="butt" stroke-linejoin="round"/>
<path d="M342,606 L341,604.2 L340,602.4 L339,600.7 L337.9,599.1 L336.9,597.5 L335.9,595.9 L334.8,594.3 L333.8,592.6 L332.8,590.9 L331.8,589.2 L330.8,587.3 L329.8,585.3 L328.8,583.2 L327.9,581 L326.9,578.6 L326,576 L325.1,573.2 L324.2,570.4 L323.2,567.4 L322.3,564.3 L321.3,561.1 L320.4,557.7 L319.5,554.3 L318.6,550.8 L317.8,547.2 L316.9,543.5 L316.1,539.8 L315.4,535.9 L314.7,532 L314.1,528.1 L313.5,524.1 L313,520 L312.6,515.8 L312.2,511.2 L311.8,506.5 L311.5,501.6 L311.3,496.5 L311.1,491.3 L310.9,486.1 L310.8,480.9 L310.7,475.8 L310.7,470.7 L310.7,465.8 L310.7,461.1 L310.7,456.6 L310.8,452.4 L310.9,448.5 L311,445 L311.1,441.8 L311.3,438.9 L311.5,436.1 L311.7,433.6 L311.9,431.3 L312.2,429.1 L312.5,427.2 L312.9,425.3 L313.3,423.6 L313.7,422 L314.1,420.5 L314.6,419.1 L315.1,417.8 L315.7,416.5 L316.3,415.2 L317,414 L317.7,412.8 L318.5,411.8 L319.4,410.9 L320.3,410.1 L321.3,409.4 L322.3,408.7 L323.4,408.2 L324.4,407.8 L325.5,407.4 L326.6,407 L327.7,406.8 L328.8,406.5 L329.9,406.4 L331,406.2 L332,406.1 L333,406 L334,405.9 L335,406 L336,406 L337,406.2 L338,406.4 L339,406.7 L340.1,407 L341.1,407.3 L342,407.7 L343,408.1 L343.9,408.6 L344.8,409 L345.7,409.5 L346.5,410 L347.3,410.5 L348,411 L348.7,411.5 L349.3,412.1 L349.8,412.7 L350.3,413.3 L350.8,414 L351.2,414.7 L351.6,415.4 L352,416.1 L352.4,416.9 L352.7,417.6 L353.1,418.4 L353.4,419.1 L353.8,419.9 L354.2,420.6 L354.6,421.3 L355,422" fill="none" stroke="#fdfbea" stroke-width="6.5" stroke-linecap="butt" stroke-linejoin="round"/>
<path d="M162,606 L177,606 L176,620 L161,620 Z" fill="#fdfbea"/>
<path d="M183,585 L225,570 M190,574 L197,590 M200,570 L207,586 M210,566 L217,582" stroke="#20265a" stroke-width="3" fill="none"/>
<path d="M178,635 L208,660 M182,650 L195,638 M189,657 L202,645 M196,664 L209,652" stroke="#20265a" stroke-width="3" fill="none"/>
<path d="M563,397 V439 H494" fill="none" stroke="#111" stroke-width="2.2"/></g>
<g transform="translate(1239,0)"><path d="M93.9,596.2 L225.9,546.2 L234.1,567.8 L102.1,617.8Z" fill="#f09d9f" stroke="#20265a" stroke-width="3.2"/><path d="M94.5,597.6 L226.5,547.6 L230.4,557.9 L98.4,607.9Z" fill="#f6bcc0"/><ellipse cx="98" cy="607" rx="9.2" ry="11.5" transform="rotate(-20.7 98 607)" fill="#f09d9f" stroke="#20265a" stroke-width="3.2"/>
<path d="M104.9,627.8 L225.9,579.8 L234.1,600.2 L113.1,648.2Z" fill="#f09d9f" stroke="#20265a" stroke-width="3.2"/><path d="M105.5,629.2 L226.5,581.2 L230.4,590.9 L109.4,638.9Z" fill="#f6bcc0"/><ellipse cx="109" cy="638" rx="8.8" ry="11.0" transform="rotate(-21.6 109 638)" fill="#f09d9f" stroke="#20265a" stroke-width="3.2"/>
<path d="M523.8,507.6 L388.8,520.6 L391.2,545.4 L526.2,532.4Z" fill="#f09d9f" stroke="#20265a" stroke-width="3.2"/><path d="M523.9,509.1 L388.9,522.1 L390.1,534 L525.1,521Z" fill="#f6bcc0"/><ellipse cx="525" cy="520" rx="10.0" ry="12.5" transform="rotate(174.5 525 520)" fill="#f09d9f" stroke="#20265a" stroke-width="3.2"/>
<path d="M522.9,540.6 L408.9,552.1 L411.1,573.9 L525.1,562.4Z" fill="#f09d9f" stroke="#20265a" stroke-width="3.2"/><path d="M523,542 L409,553.5 L410.1,564 L524.1,552.5Z" fill="#f6bcc0"/><ellipse cx="524" cy="551.5" rx="8.8" ry="11.0" transform="rotate(174.2 524 551.5)" fill="#f09d9f" stroke="#20265a" stroke-width="3.2"/>
<path d="M380,440 L380.1,442.5 L380.1,445 L380.2,447.4 L380.3,449.9 L380.3,452.3 L380.4,454.8 L380.5,457.2 L380.6,459.7 L380.6,462.2 L380.7,464.6 L380.8,467.1 L380.8,469.6 L380.9,472.2 L380.9,474.8 L381,477.4 L381,480 L381,482.7 L381,485.4 L381.1,488.1 L381.1,490.9 L381.1,493.7 L381.1,496.5 L381.1,499.3 L381.1,502.2 L381.1,505 L381,507.9 L381,510.8 L381,513.6 L381,516.5 L381,519.3 L381,522.2 L381,525" fill="none" stroke="#20265a" stroke-width="46" stroke-linecap="butt" stroke-linejoin="round"/>
<path d="M380,440 L380.1,442.5 L380.1,445 L380.2,447.4 L380.3,449.9 L380.3,452.3 L380.4,454.8 L380.5,457.2 L380.6,459.7 L380.6,462.2 L380.7,464.6 L380.8,467.1 L380.8,469.6 L380.9,472.2 L380.9,474.8 L381,477.4 L381,480 L381,482.7 L381,485.4 L381.1,488.1 L381.1,490.9 L381.1,493.7 L381.1,496.5 L381.1,499.3 L381.1,502.2 L381.1,505 L381,507.9 L381,510.8 L381,513.6 L381,516.5 L381,519.3 L381,522.2 L381,525" fill="none" stroke="#fdfbea" stroke-width="41" stroke-linecap="butt" stroke-linejoin="round"/>
<path d="M380,440 L380.1,442.5 L380.1,445 L380.2,447.4 L380.3,449.9 L380.3,452.3 L380.4,454.8 L380.5,457.2 L380.6,459.7 L380.6,462.2 L380.7,464.6 L380.8,467.1 L380.8,469.6 L380.9,472.2 L380.9,474.8 L381,477.4 L381,480 L381,482.7 L381,485.4 L381.1,488.1 L381.1,490.9 L381.1,493.7 L381.1,496.5 L381.1,499.3 L381.1,502.2 L381.1,505 L381,507.9 L381,510.8 L381,513.6 L381,516.5 L381,519.3 L381,522.2 L381,525" fill="none" stroke="#20265a" stroke-width="36" stroke-linecap="butt" stroke-linejoin="round"/>
<path d="M380,440 L380.1,442.5 L380.1,445 L380.2,447.4 L380.3,449.9 L380.3,452.3 L380.4,454.8 L380.5,457.2 L380.6,459.7 L380.6,462.2 L380.7,464.6 L380.8,467.1 L380.8,469.6 L380.9,472.2 L380.9,474.8 L381,477.4 L381,480 L381,482.7 L381,485.4 L381.1,488.1 L381.1,490.9 L381.1,493.7 L381.1,496.5 L381.1,499.3 L381.1,502.2 L381.1,505 L381,507.9 L381,510.8 L381,513.6 L381,516.5 L381,519.3 L381,522.2 L381,525" fill="none" stroke="#a896c7" stroke-width="32" stroke-linecap="butt" stroke-linejoin="round"/>
<path d="M240,531 L237,531.8 L233.9,532.6 L230.9,533.5 L227.9,534.5 L224.9,535.5 L222,536.6 L219,537.8 L216,539.1 L213,540.5 L210,542 L206.9,543.6 L203.8,545.1 L200.6,546.8 L197.3,548.5 L194.1,550.3 L191,552.3 L188,554.4 L185.1,556.7 L182.4,559.2 L180,562 L177.8,564.9 L175.7,568 L173.8,571.2 L172,574.6 L170.4,578.2 L168.9,582 L167.5,586 L166.2,590.4 L165.1,595 L164,600 L163.1,605.5 L162.3,611.8 L161.7,618.5 L161.2,625.5 L160.8,632.7 L160.5,639.9 L160.3,646.9 L160.2,653.5 L160.1,659.6 L160,665 L159.9,669.6 L159.8,673.5 L159.6,676.9 L159.5,680 L159.6,682.8 L159.7,685.6 L160.1,688.6 L160.8,691.9 L161.7,695.6 L163,700 L164.7,705.1 L166.9,710.8 L169.3,717 L172.1,723.5 L175,730.2 L178,736.8 L181.1,743.3 L184.2,749.4 L187.2,755 L190,760 L192.7,764.4 L195.4,768.4 L198.1,772.2 L200.8,775.6 L203.6,778.8 L206.3,781.7 L209,784.5 L211.7,787.1 L214.3,789.6 L217,792 L219.6,794.2 L222.2,796.2 L224.8,797.9 L227.4,799.5 L230,800.9 L232.6,802.2 L235.2,803.6 L237.8,804.9 L240.4,806.4 L243,808 L245.6,809.8 L248.2,811.6 L250.8,813.6 L253.4,815.5 L256,817.5 L258.6,819.4 L261.4,821.3 L264.1,823 L267,824.6 L270,826 L273,827.2 L275.8,828.3 L278.6,829.3 L281.4,830.2 L284.3,831 L287.5,831.7 L290.9,832.4 L294.8,832.9 L299.1,833.5 L304,834 L309.6,834.5 L316,834.9 L322.9,835.3 L330.3,835.7 L337.9,835.9 L345.6,836.1 L353.2,836.3 L360.6,836.3 L367.6,836.2 L374,836 L379.9,835.7 L385.6,835.4 L390.9,835 L396.1,834.5 L401.1,833.9 L406.1,833.2 L411,832.4 L415.9,831.4 L420.9,830.3 L426,829 L431.3,827.5 L436.7,825.8 L442.1,823.9 L447.6,821.8 L453,819.6 L458.4,817.4 L463.6,815 L468.6,812.7 L473.4,810.3 L478,808 L482.4,805.7 L486.7,803.5 L491,801.3 L495.1,799.1 L499,796.8 L502.7,794.3 L506.1,791.8 L509.1,789.1 L511.8,786.2 L514,783 L515.8,779.6 L517.1,776 L518,772.2 L518.5,768.3 L518.8,764.2 L518.9,760 L518.8,755.6 L518.5,751.2 L518.3,746.6 L518,742 L517.7,737.2 L517.3,732.3 L516.8,727.2 L516.2,722 L515.4,716.7 L514.5,711.3 L513.4,705.9 L512.2,700.6 L510.7,695.2 L509,690 L507.1,684.8 L504.9,679.7 L502.5,674.7 L499.9,669.6 L497.2,664.6 L494.3,659.4 L491.3,654.3 L488.3,649 L485.1,643.6 L482,638 L478.8,632.2 L475.3,626.1 L471.8,619.8 L468.2,613.3 L464.4,606.9 L460.7,600.5 L456.9,594.2 L453.2,588.1 L449.6,582.4 L446,577 L442.6,572 L439.2,567.2 L435.9,562.7 L432.6,558.3 L429.3,554.1 L426,550.1 L422.7,546.2 L419.2,542.4 L415.7,538.7 L412,535 L408.2,531.3 L404.4,527.7 L400.6,524 L396.6,520.5 L392.6,517.1 L388.5,513.9 L384.3,511 L380,508.3 L375.6,506 L371,504 L366.1,502.5 L360.9,501.3 L355.5,500.5 L349.9,500 L344.2,499.8 L338.7,499.7 L333.3,499.7 L328.1,499.8 L323.3,499.9 L319,500 L315.1,500.1 L311.6,500.2 L308.3,500.3 L305.3,500.5 L302.4,500.9 L299.8,501.3 L297.2,502 L294.8,502.8 L292.4,503.8 L290,505 L287.7,506.6 L285.8,508.6 L283.9,510.9 L282.3,513.4 L280.6,516.1 L279,518.7 L277.3,521.2 L275.4,523.5 L273.3,525.5 L271,527Z" fill="#fdfbea" stroke="#20265a" stroke-width="3.2" stroke-linejoin="round"/>
<path d="M212,721 L218.1,726 L224.5,730.9 L231.2,735.7 L238.2,740.4 L245.2,744.9 L252.4,749.3 L259.5,753.6 L266.5,757.6 L273.4,761.4 L280,765 L286.4,768.3 L292.6,771.4 L298.6,774.2 L304.6,776.8 L310.6,779.2 L316.5,781.6 L322.5,783.8 L328.5,785.9 L334.7,787.9 L341,790 L347.5,792 L354.3,794 L361.1,796 L368.1,797.8 L375.1,799.6 L382,801.2 L388.8,802.7 L395.5,804 L401.9,805.1 L408,806 L413.9,806.7 L419.6,807.2 L425.2,807.5 L430.7,807.6 L436,807.6 L441.1,807.5 L446.1,807.2 L450.9,806.9 L455.6,806.5 L460,806 L464.3,805.4 L468.3,804.7 L472.3,803.8 L476,802.9 L479.6,801.8 L483,800.7 L486.2,799.5 L489.3,798.4 L492.2,797.2 L495,796 L497.8,794.7 L500.7,793 L503.6,791.1 L506.4,789.2 L508.9,787.3 L511.1,785.6 L512.8,784.2 L514,783.2 L514.4,782.8 L514,783 L512.7,784 L510.6,785.6 L507.7,787.8 L504.3,790.5 L500.4,793.4 L496.2,796.5 L491.7,799.6 L487.1,802.6 L482.5,805.5 L478,808 L473.4,810.3 L468.6,812.7 L463.6,815 L458.4,817.4 L453,819.6 L447.6,821.8 L442.1,823.9 L436.7,825.8 L431.3,827.5 L426,829 L420.9,830.3 L415.9,831.4 L411,832.4 L406.1,833.2 L401.1,833.9 L396.1,834.5 L390.9,835 L385.6,835.4 L379.9,835.7 L374,836 L367.6,836.2 L360.6,836.3 L353.2,836.3 L345.6,836.1 L337.9,835.9 L330.3,835.7 L322.9,835.3 L316,834.9 L309.6,834.5 L304,834 L299.1,833.5 L294.8,832.9 L290.9,832.4 L287.5,831.7 L284.3,831 L281.4,830.2 L278.6,829.3 L275.8,828.3 L273,827.2 L270,826 L267.1,824.7 L264.4,823.4 L261.9,822 L259.5,820.5 L257.1,818.9 L254.6,817.1 L252.1,815.2 L249.3,813 L246.3,810.7 L243,808 L239.3,805.1 L235.3,801.9 L231,798.4 L226.6,794.8 L222,791 L217.4,787 L212.8,782.9 L208.3,778.7 L204,774.4 L200,770 L196,765.5 L192,760.8 L187.9,756 L183.8,751.1 L179.9,746.1 L176.2,740.9 L172.8,735.7 L169.8,730.5 L167.1,725.3 L165,720 L163.2,714.2 L161.7,707.5 L160.4,700.4 L159.4,693 L158.8,685.9 L158.5,679.2 L158.8,673.5 L159.6,669 L161,666 L163,665Z" fill="#fadfe2" stroke="#20265a" stroke-width="3.2" stroke-linejoin="round"/>
<path d="M272,540 L274.6,538.8 L277.4,537.6 L280.3,536.2 L283.2,534.9 L286.2,533.6 L289.2,532.5 L292.1,531.5 L294.9,530.7 L297.6,530.2 L300,530 L302.3,530 L304.5,529.9 L306.6,530 L308.7,530.2 L310.6,530.6 L312.4,531.4 L314.1,532.7 L315.6,534.5 L316.9,536.9 L318,540 L319,544.2 L319.9,549.5 L320.8,555.7 L321.5,562.6 L322,569.7 L322.3,576.8 L322.3,583.7 L321.9,590.1 L321.2,595.6 L320,600 L318.3,603.4 L316,606.3 L313.3,608.6 L310.2,610.4 L306.9,611.8 L303.4,612.9 L299.9,613.7 L296.4,614.3 L293.1,614.7 L290,615 L287,615.1 L284,615 L280.9,614.6 L277.8,613.9 L274.8,613.1 L271.8,612 L269,610.7 L266.4,609.3 L264.1,607.7 L262,606 L260.2,604.1 L258.7,601.9 L257.4,599.5 L256.3,596.9 L255.4,594.2 L254.6,591.4 L253.8,588.5 L253.2,585.6 L252.6,582.8 L252,580 L251.4,577.2 L250.7,574.3 L250.1,571.2 L249.5,568.2 L249,565.1 L248.7,562.1 L248.6,559.3 L248.7,556.6 L249.2,554.2 L250,552Z" fill="#f6b9ba" stroke="#20265a" stroke-width="3.2" stroke-linejoin="round"/>
<path d="M356,509 L359,509 L362.1,509.1 L365.1,509.4 L368.1,509.7 L371.1,510.2 L374,510.9 L376.9,511.8 L379.7,512.9 L382.5,514.2 L385.1,515.7 L387.7,517.3 L390.2,519 L392.6,520.9 L394.9,522.8 L397.1,524.9 L399.3,527 L401.3,529.3 L403.3,531.6 L405.2,534 L406.9,536.4 L408.6,539 L410,541.6 L411.4,544.4 L412.5,547.2 L413.6,550 L414.6,552.9 L415.5,555.7 L416.4,558.6 L417.3,561.5 L418.2,564.4 L419.1,567.3 L420,570.2 L421,573.1 L422.1,575.9 L423.1,578.8 L424.2,581.6 L425.2,584.5 L426.5,587.2 L427.7,590 L428.5,593 L428.8,596.1 L428.8,599.3 L430.9,602 L433.7,603.4 L434.5,606.4 L434.2,609.4 L433.7,612.5 L433.2,615.4 L431.9,618.3 L430.7,621.2 L429.7,624.2 L430,627.3 L430.4,630.4 L430.9,633.4 L431.9,636.3 L432.9,639.3 L434,642.2 L433.8,645.3 L433.6,648.3 L433.3,651.4 L433.4,654.5 L433.4,657.5 L433.3,660.5 L434,663.5 L434.5,666.6 L435.1,669.7 L434,672.7 L432.8,675.6 L431.1,678 L429.8,680.7 L427.2,682.8 L424,684 L420.8,683.4 L417.8,682.6 L414.9,681.6 L411.8,681.2 L408.8,680.7 L405.7,680.1 L402.9,679 L400.1,677.9 L397.3,676.7 L394.7,674.7 L392.2,672.7 L389.6,670.7 L386.5,670.6 L383.4,670.4 L380.2,670.2 L377.7,668.4 L375.1,666.6 L372.6,664.7 L369.5,664.4 L366.4,664 L363.3,663.6 L360.6,662.2 L357.9,660.7 L355.3,659.1 L352.8,657.4 L350.3,655.7 L347.9,653.9 L345.2,652.6 L342.6,651.1 L340.1,649.6 L337.2,648.2 L334.5,646.7 L331.7,645 L330.3,642.2 L329.1,639.3 L327.9,636.4 L326.3,633.8 L324.8,631.2 L323.5,628.5 L322.2,625.7 L321.3,622.9 L320.6,619.9 L320.4,616.9 L320.7,613.9 L321.1,610.9 L321.6,607.9 L321.9,604.9 L322,601.8 L321.9,598.8 L321.7,595.8 L321.5,592.8 L321.2,589.8 L320.8,586.7 L320.5,583.7 L320.2,580.7 L319.8,577.7 L319.5,574.7 L319.1,571.7 L318.8,568.7 L318.5,565.6 L318.2,562.6 L318,559.6 L317.6,556.6 L317.1,553.6 L316.6,550.6 L316,547.6 L315.4,544.7 L314.9,541.7 L314.3,538.7 L313.8,535.7 L313.3,532.7 L312.9,529.7 L312.7,526.7 L312.7,523.7 L313,520.7 L313.6,517.7 L315,515Z" fill="#f09d9f" stroke="#20265a" stroke-width="3.2" stroke-linejoin="round"/>
<path d="M356,521 L358.7,521 L361.3,521.2 L363.8,521.5 L366.3,521.9 L368.7,522.4 L371,523.1 L373.3,523.9 L375.6,524.8 L377.8,525.9 L380,527 L382.2,528.3 L384.4,529.6 L386.5,531.1 L388.6,532.8 L390.7,534.5 L392.7,536.4 L394.6,538.3 L396.5,540.4 L398.3,542.7 L400,545 L401.6,547.5 L403.1,550.3 L404.6,553.2 L405.9,556.2 L407.2,559.4 L408.5,562.6 L409.7,565.8 L410.8,568.9 L411.9,572 L413,575 L414,577.9 L415,580.8 L416,583.6 L416.9,586.5 L417.8,589.3 L418.5,592.1 L419.3,594.9 L419.9,597.6 L420.5,600.3 L421,603 L421.4,605.6 L421.6,608.1 L421.8,610.5 L421.9,612.9 L421.9,615.2 L421.9,617.6 L421.8,620.1 L421.8,622.6 L421.9,625.2 L422,628 L422.2,631 L422.5,634.3 L422.9,637.7 L423.3,641.3 L423.6,644.8 L423.9,648.3 L424.2,651.6 L424.3,654.8 L424.2,657.6 L424,660 L423.6,662.1 L423.1,664 L422.5,665.7 L421.8,667.2 L421,668.5 L420.1,669.6 L419,670.5 L417.8,671.2 L416.5,671.7 L415,672 L413.4,672 L411.6,671.8 L409.7,671.2 L407.7,670.5 L405.5,669.6 L403.2,668.5 L400.8,667.4 L398.3,666.2 L395.7,665.1 L393,664 L390.1,662.9 L386.9,661.7 L383.5,660.5 L380,659.2 L376.4,657.8 L372.8,656.4 L369.3,655.1 L365.9,653.7 L362.8,652.3 L360,651 L357.4,649.7 L355,648.5 L352.7,647.3 L350.6,646.1 L348.6,644.9 L346.7,643.7 L344.9,642.4 L343.2,641 L341.5,639.6 L340,638 L338.6,636.3 L337.2,634.6 L335.9,632.8 L334.8,630.9 L333.8,628.9 L332.8,626.9 L331.9,624.8 L331.2,622.6 L330.6,620.4 L330,618 L329.6,615.6 L329.4,613 L329.4,610.4 L329.5,607.7 L329.6,604.9 L329.8,602.1 L330,599.2 L330.1,596.2 L330.1,593.1 L330,590 L329.7,586.7 L329.4,583.3 L329,579.8 L328.5,576.1 L328.1,572.4 L327.6,568.8 L327.1,565.1 L326.7,561.6 L326.3,558.2 L326,555 L325.6,551.9 L325.1,548.8 L324.5,545.7 L323.8,542.7 L323.3,539.8 L323,537 L322.9,534.4 L323.1,532 L323.8,529.9 L325,528Z" fill="#f6b9ba"/>
<path d="M362,530 L364.8,530.5 L367.6,531.3 L370.5,532.3 L373.3,533.6 L376,535 L378.7,536.6 L381.2,538.5 L383.6,540.5 L385.9,542.7 L388,545 L389.9,547.6 L391.7,550.5 L393.3,553.6 L394.8,557 L396.1,560.4 L397.4,564 L398.6,567.6 L399.8,571.2 L400.9,574.7 L402,578 L403.1,581.2 L404.1,584.4 L405.1,587.6 L406,590.7 L406.9,593.9 L407.7,597 L408.4,600.2 L409,603.4 L409.6,606.7 L410,610 L410.4,613.5 L410.8,617.2 L411.1,621.1 L411.3,625 L411.4,628.9 L411.5,632.7 L411.4,636.2 L411.1,639.6 L410.6,642.5 L410,645 L409.2,647.1 L408.2,648.9 L407,650.5 L405.7,651.8 L404.2,652.8 L402.6,653.6 L400.9,654.3 L399,654.7 L397.1,654.9 L395,655 L392.8,654.8 L390.3,654.4 L387.6,653.7 L384.7,652.8 L381.8,651.7 L378.9,650.5 L376,649.1 L373.1,647.8 L370.5,646.4 L368,645 L365.7,643.6 L363.4,642.2 L361.1,640.8 L358.9,639.2 L356.8,637.6 L354.8,635.9 L352.9,634.1 L351.1,632.2 L349.5,630.2 L348,628 L346.7,625.7 L345.6,623.2 L344.7,620.6 L343.8,617.9 L343.1,615.1 L342.5,612.2 L341.9,609.3 L341.3,606.2 L340.7,603.1 L340,600 L339.3,596.8 L338.6,593.3 L337.9,589.8 L337.3,586.2 L336.6,582.5 L336,578.8 L335.4,575.2 L334.9,571.7 L334.4,568.2 L334,565 L333.5,561.8 L332.8,558.6 L332.1,555.4 L331.4,552.3 L330.8,549.2 L330.3,546.4 L330.1,543.6 L330.3,541.1 L330.9,538.9 L332,537Z" fill="#fad6d6"/>
<path d="M378,598 L380.5,597.5 L383,597.6 L385.5,598.3 L388,599.5 L390.5,601.1 L392.8,603 L395,605.2 L396.9,607.4 L398.6,609.7 L400,612 L401.1,614.5 L402.1,617.4 L402.8,620.6 L403.4,624 L403.8,627.5 L403.9,631 L403.8,634.3 L403.5,637.3 L402.9,639.9 L402,642 L400.8,643.7 L399.2,645.1 L397.4,646.3 L395.2,647.3 L392.9,648 L390.4,648.5 L387.8,648.7 L385.2,648.7 L382.6,648.5 L380,648 L377.2,647.2 L373.9,646.2 L370.3,644.8 L366.6,643.2 L363,641.4 L359.6,639.4 L356.6,637.2 L354.2,634.9 L352.6,632.5 L352,630Z" fill="#fce8e8"/>
<path d="M343,591 L345.3,590.9 L347.6,590.9 L349.9,590.8 L352.2,590.8 L354.6,590.7 L356.9,590.6 L359.2,590.6 L361.5,590.5 L363.8,590.4 L366.1,590.4 L368.4,590.3 L370.8,590.2 L373.1,590.2 L375.4,590.1 L377.7,590.1 L380,590" fill="none" stroke="#20265a" stroke-width="12" stroke-linecap="round" stroke-linejoin="round"/>
<path d="M343,591 L345.3,590.9 L347.6,590.9 L349.9,590.8 L352.2,590.8 L354.6,590.7 L356.9,590.6 L359.2,590.6 L361.5,590.5 L363.8,590.4 L366.1,590.4 L368.4,590.3 L370.8,590.2 L373.1,590.2 L375.4,590.1 L377.7,590.1 L380,590" fill="none" stroke="#fdfbea" stroke-width="6" stroke-linecap="round" stroke-linejoin="round"/>
<ellipse cx="388" cy="539" rx="8" ry="11" fill="#e27e84"/>
<ellipse cx="404" cy="564" rx="8" ry="11" fill="#e27e84"/>
<clipPath id="aoC3"><path d="M276.8,348 L286,347 L291,339.7 L317,368 Q319.7,376 320,368 L317,335 Q331,344 342.4,336 L339,363 Q352,384 368.5,342.7 L374,344.4 L388,347 L379.5,368.8 Q386,384 399.7,409 L403,440 L403,462 L357,462 L357,432 Q352,404 333,404 Q311,406 311,440 L311,520 L311,520 L311.2,523 L311.3,526 L311.5,529.1 L311.6,532.1 L311.7,535.1 L311.8,538.1 L312,541.1 L312.1,544.1 L312.2,547.2 L312.4,550.2 L312.5,553.2 L312.7,556.2 L312.9,559.2 L313.2,562.2 L313.4,565.2 L313.8,568.2 L314.2,571.2 L314.7,574.2 L315.3,577.2 L316,580.1 L316.9,583 L317.9,585.9 L318.8,588.7 L319.8,591.6 L320.6,594.5 L321.4,597.4 L322.1,600.4 L322.7,603.3 L323.4,606.3 L324,609.2 L324.6,612.2 L325.2,615.1 L325.8,618.1 L326.4,621.1 L327,624 L327.6,627 L328.2,629.9 L328.8,632.9 L329.4,635.9 L330,638.8 L330.7,641.8 L331.3,644.7 L332,647.7 L332.7,650.6 L333.3,653.6 L334.1,656.5 L334.8,659.4 L335.6,662.3 L336.4,665.2 L337.1,668.2 L337.8,671.1 L338.5,674 L339.3,677 L340,679.9 L340.8,682.8 L341.7,685.7 L342.6,688.6 L343.7,691.4 L344.9,694.2 L346.3,696.8 L347.9,699.4 L349.8,701.8 L352,703.8 L354.5,705.5 L357.2,706.9 L360,707.9 L362.9,708.7 L365.9,709.4 L368.9,709.9 L371.8,710.3 L374.8,710.8 L377.8,711.4 L380.7,712.1 L383.6,712.9 L386.5,713.8 L389.4,714.7 L392.3,715.6 L395.2,716.5 L398.1,717.4 L400.9,718.3 L403.8,719.2 L406.7,720.1 L409.6,721 L412.5,722 L415.3,722.9 L418.2,723.9 L421.1,724.8 L423.9,725.8 L426.7,726.9 L429.5,728 L432.3,729.2 L435.1,730.4 L437.8,731.7 L440.5,733.2 L443.1,734.7 L445.6,736.3 L448.1,738.1 L450.5,739.9 L452.8,741.9 L454.5,744.3 L455,747.3 L454.8,750.3 L454.2,753.3 L453.3,756.1 L452.2,759 L451,761.7 L449.5,764.4 L447.8,766.9 L445.8,769.1 L443.9,771.5 L442,773.9 L440.1,776.2 L438.2,778.6 L436.2,780.9 L433.1,782 L430,782.7 L426.9,782.9 L424.5,784.5 L421.9,785.9 L419.1,787.2 L416.1,787.3 L413.1,787.3 L410.1,787.1 L407.2,786.8 L404.2,786.5 L401.2,786 L398.1,786.7 L395,787.4 L392,788.1 L389,787.7 L385.9,787.3 L383,786.9 L380,785.8 L377.1,784.7 L374.2,783.5 L371.1,784.4 L367.9,785.2 L364.8,786 L361.9,784.7 L359,783.3 L356.2,781.9 L353,782.5 L349.9,783.2 L346.7,783.8 L343.9,782.4 L341.1,780.9 L338.3,779.5 L335.3,778.9 L332.3,778.3 L329.4,777.7 L326.6,776.7 L323.7,775.6 L320.9,774.5 L318,773.9 L315,773.3 L312.1,772.7 L309,772.4 L306,772 L302.9,771.7 L299.9,771.2 L296.9,770.7 L293.8,770.2 L291,769.1 L288.1,768.1 L285.3,766.9 L282.8,765 L280.3,763.1 L278,761.1 L275.4,759.6 L272.9,757.9 L270.4,756.2 L267.6,754.8 L264.8,753.3 L262.1,751.6 L261,748.5 L260,745.3 L259.2,742.2 L256.9,740.2 L254.6,738.1 L252.3,736 L250.9,733.4 L249.5,730.7 L248.2,727.9 L245.9,725.8 L243.7,723.6 L241.5,721.4 L240,718.8 L238.5,716.2 L236.9,713.6 L235,711.3 L233,709 L231,706.8 L229.7,703.8 L228.9,700.6 L228.5,697.4 L228.3,694.3 L228.5,691.3 L228.9,688.3 L229.6,685.3 L230.4,682.4 L231.3,679.5 L232.2,676.6 L233.1,673.7 L234.1,670.9 L235.2,668.1 L236.3,665.2 L237.4,662.4 L238.6,659.6 L239.7,656.9 L240.9,654.1 L242.2,651.3 L243.4,648.6 L244.6,645.8 L246,643.1 L247.4,640.4 L249,637.9 L250.7,635.4 L252.4,632.9 L254.2,630.5 L256,628 L257.8,625.6 L259.6,623.2 L261.3,620.7 L262.8,618.1 L264.4,615.5 L265.7,612.8 L266.9,610 L268,607.2 L268.9,604.3 L269.6,601.4 L270.2,598.4 L270.7,595.4 L271.1,592.4 L271.3,589.4 L271.6,586.4 L271.7,583.4 L271.8,580.4 L271.8,577.4 L271.8,574.3 L271.8,571.3 L271.7,568.3 L271.7,565.3 L271.6,562.3 L271.4,559.2 L271.3,556.2 L271.2,553.2 L271,550.2 L270.9,547.2 L270.7,544.2 L270.6,541.1 L270.5,538.1 L270.4,535.1 L270.2,532.1 L270.1,529.1 L270.1,526 L270,523 L270,520 L270,451 Q272,405 297,379 Z"/></clipPath>
<clipPath id="top3"><rect x="0" y="0" width="600" height="640"/></clipPath>
<path d="M276.8,348 L286,347 L291,339.7 L317,368 Q319.7,376 320,368 L317,335 Q331,344 342.4,336 L339,363 Q352,384 368.5,342.7 L374,344.4 L388,347 L379.5,368.8 Q386,384 399.7,409 L403,440 L403,462 L357,462 L357,432 Q352,404 333,404 Q311,406 311,440 L311,520 L311,520 L311.2,523 L311.3,526 L311.5,529.1 L311.6,532.1 L311.7,535.1 L311.8,538.1 L312,541.1 L312.1,544.1 L312.2,547.2 L312.4,550.2 L312.5,553.2 L312.7,556.2 L312.9,559.2 L313.2,562.2 L313.4,565.2 L313.8,568.2 L314.2,571.2 L314.7,574.2 L315.3,577.2 L316,580.1 L316.9,583 L317.9,585.9 L318.8,588.7 L319.8,591.6 L320.6,594.5 L321.4,597.4 L322.1,600.4 L322.7,603.3 L323.4,606.3 L324,609.2 L324.6,612.2 L325.2,615.1 L325.8,618.1 L326.4,621.1 L327,624 L327.6,627 L328.2,629.9 L328.8,632.9 L329.4,635.9 L330,638.8 L330.7,641.8 L331.3,644.7 L332,647.7 L332.7,650.6 L333.3,653.6 L334.1,656.5 L334.8,659.4 L335.6,662.3 L336.4,665.2 L337.1,668.2 L337.8,671.1 L338.5,674 L339.3,677 L340,679.9 L340.8,682.8 L341.7,685.7 L342.6,688.6 L343.7,691.4 L344.9,694.2 L346.3,696.8 L347.9,699.4 L349.8,701.8 L352,703.8 L354.5,705.5 L357.2,706.9 L360,707.9 L362.9,708.7 L365.9,709.4 L368.9,709.9 L371.8,710.3 L374.8,710.8 L377.8,711.4 L380.7,712.1 L383.6,712.9 L386.5,713.8 L389.4,714.7 L392.3,715.6 L395.2,716.5 L398.1,717.4 L400.9,718.3 L403.8,719.2 L406.7,720.1 L409.6,721 L412.5,722 L415.3,722.9 L418.2,723.9 L421.1,724.8 L423.9,725.8 L426.7,726.9 L429.5,728 L432.3,729.2 L435.1,730.4 L437.8,731.7 L440.5,733.2 L443.1,734.7 L445.6,736.3 L448.1,738.1 L450.5,739.9 L452.8,741.9 L454.5,744.3 L455,747.3 L454.8,750.3 L454.2,753.3 L453.3,756.1 L452.2,759 L451,761.7 L449.5,764.4 L447.8,766.9 L445.8,769.1 L443.9,771.5 L442,773.9 L440.1,776.2 L438.2,778.6 L436.2,780.9 L433.1,782 L430,782.7 L426.9,782.9 L424.5,784.5 L421.9,785.9 L419.1,787.2 L416.1,787.3 L413.1,787.3 L410.1,787.1 L407.2,786.8 L404.2,786.5 L401.2,786 L398.1,786.7 L395,787.4 L392,788.1 L389,787.7 L385.9,787.3 L383,786.9 L380,785.8 L377.1,784.7 L374.2,783.5 L371.1,784.4 L367.9,785.2 L364.8,786 L361.9,784.7 L359,783.3 L356.2,781.9 L353,782.5 L349.9,783.2 L346.7,783.8 L343.9,782.4 L341.1,780.9 L338.3,779.5 L335.3,778.9 L332.3,778.3 L329.4,777.7 L326.6,776.7 L323.7,775.6 L320.9,774.5 L318,773.9 L315,773.3 L312.1,772.7 L309,772.4 L306,772 L302.9,771.7 L299.9,771.2 L296.9,770.7 L293.8,770.2 L291,769.1 L288.1,768.1 L285.3,766.9 L282.8,765 L280.3,763.1 L278,761.1 L275.4,759.6 L272.9,757.9 L270.4,756.2 L267.6,754.8 L264.8,753.3 L262.1,751.6 L261,748.5 L260,745.3 L259.2,742.2 L256.9,740.2 L254.6,738.1 L252.3,736 L250.9,733.4 L249.5,730.7 L248.2,727.9 L245.9,725.8 L243.7,723.6 L241.5,721.4 L240,718.8 L238.5,716.2 L236.9,713.6 L235,711.3 L233,709 L231,706.8 L229.7,703.8 L228.9,700.6 L228.5,697.4 L228.3,694.3 L228.5,691.3 L228.9,688.3 L229.6,685.3 L230.4,682.4 L231.3,679.5 L232.2,676.6 L233.1,673.7 L234.1,670.9 L235.2,668.1 L236.3,665.2 L237.4,662.4 L238.6,659.6 L239.7,656.9 L240.9,654.1 L242.2,651.3 L243.4,648.6 L244.6,645.8 L246,643.1 L247.4,640.4 L249,637.9 L250.7,635.4 L252.4,632.9 L254.2,630.5 L256,628 L257.8,625.6 L259.6,623.2 L261.3,620.7 L262.8,618.1 L264.4,615.5 L265.7,612.8 L266.9,610 L268,607.2 L268.9,604.3 L269.6,601.4 L270.2,598.4 L270.7,595.4 L271.1,592.4 L271.3,589.4 L271.6,586.4 L271.7,583.4 L271.8,580.4 L271.8,577.4 L271.8,574.3 L271.8,571.3 L271.7,568.3 L271.7,565.3 L271.6,562.3 L271.4,559.2 L271.3,556.2 L271.2,553.2 L271,550.2 L270.9,547.2 L270.7,544.2 L270.6,541.1 L270.5,538.1 L270.4,535.1 L270.2,532.1 L270.1,529.1 L270.1,526 L270,523 L270,520 L270,451 Q272,405 297,379 Z" fill="#f3a7aa"/>
<g clip-path="url(#aoC3)"><path d="M292,420 C287,460 290,520 296,600 C300,660 310,700 330,725 C355,752 400,758 452,755" fill="none" stroke="#f8c4c6" stroke-width="28"/><path d="M300,620 C302,670 312,705 335,728 C360,748 400,752 440,752" fill="none" stroke="#f8c4c6" stroke-width="44" stroke-linecap="round"/><path d="M302,640 C305,680 315,710 338,730 C360,745 395,748 430,748" fill="none" stroke="#fde2e2" stroke-width="18" stroke-linecap="round"/><path d="M296,470 C294,420 300,392 333,388 C360,388 372,405 376,430" fill="none" stroke="#fde2e2" stroke-width="18" stroke-linecap="round"/><g clip-path="url(#top3)"><path d="M276.8,348 L286,347 L291,339.7 L317,368 Q319.7,376 320,368 L317,335 Q331,344 342.4,336 L339,363 Q352,384 368.5,342.7 L374,344.4 L388,347 L379.5,368.8 Q386,384 399.7,409 L403,440 L403,462 L357,462 L357,432 Q352,404 333,404 Q311,406 311,440 L311,520 L311,520 L311.2,523 L311.3,526 L311.5,529.1 L311.6,532.1 L311.7,535.1 L311.8,538.1 L312,541.1 L312.1,544.1 L312.2,547.2 L312.4,550.2 L312.5,553.2 L312.7,556.2 L312.9,559.2 L313.2,562.2 L313.4,565.2 L313.8,568.2 L314.2,571.2 L314.7,574.2 L315.3,577.2 L316,580.1 L316.9,583 L317.9,585.9 L318.8,588.7 L319.8,591.6 L320.6,594.5 L321.4,597.4 L322.1,600.4 L322.7,603.3 L323.4,606.3 L324,609.2 L324.6,612.2 L325.2,615.1 L325.8,618.1 L326.4,621.1 L327,624 L327.6,627 L328.2,629.9 L328.8,632.9 L329.4,635.9 L330,638.8 L330.7,641.8 L331.3,644.7 L332,647.7 L332.7,650.6 L333.3,653.6 L334.1,656.5 L334.8,659.4 L335.6,662.3 L336.4,665.2 L337.1,668.2 L337.8,671.1 L338.5,674 L339.3,677 L340,679.9 L340.8,682.8 L341.7,685.7 L342.6,688.6 L343.7,691.4 L344.9,694.2 L346.3,696.8 L347.9,699.4 L349.8,701.8 L352,703.8 L354.5,705.5 L357.2,706.9 L360,707.9 L362.9,708.7 L365.9,709.4 L368.9,709.9 L371.8,710.3 L374.8,710.8 L377.8,711.4 L380.7,712.1 L383.6,712.9 L386.5,713.8 L389.4,714.7 L392.3,715.6 L395.2,716.5 L398.1,717.4 L400.9,718.3 L403.8,719.2 L406.7,720.1 L409.6,721 L412.5,722 L415.3,722.9 L418.2,723.9 L421.1,724.8 L423.9,725.8 L426.7,726.9 L429.5,728 L432.3,729.2 L435.1,730.4 L437.8,731.7 L440.5,733.2 L443.1,734.7 L445.6,736.3 L448.1,738.1 L450.5,739.9 L452.8,741.9 L454.5,744.3 L455,747.3 L454.8,750.3 L454.2,753.3 L453.3,756.1 L452.2,759 L451,761.7 L449.5,764.4 L447.8,766.9 L445.8,769.1 L443.9,771.5 L442,773.9 L440.1,776.2 L438.2,778.6 L436.2,780.9 L433.1,782 L430,782.7 L426.9,782.9 L424.5,784.5 L421.9,785.9 L419.1,787.2 L416.1,787.3 L413.1,787.3 L410.1,787.1 L407.2,786.8 L404.2,786.5 L401.2,786 L398.1,786.7 L395,787.4 L392,788.1 L389,787.7 L385.9,787.3 L383,786.9 L380,785.8 L377.1,784.7 L374.2,783.5 L371.1,784.4 L367.9,785.2 L364.8,786 L361.9,784.7 L359,783.3 L356.2,781.9 L353,782.5 L349.9,783.2 L346.7,783.8 L343.9,782.4 L341.1,780.9 L338.3,779.5 L335.3,778.9 L332.3,778.3 L329.4,777.7 L326.6,776.7 L323.7,775.6 L320.9,774.5 L318,773.9 L315,773.3 L312.1,772.7 L309,772.4 L306,772 L302.9,771.7 L299.9,771.2 L296.9,770.7 L293.8,770.2 L291,769.1 L288.1,768.1 L285.3,766.9 L282.8,765 L280.3,763.1 L278,761.1 L275.4,759.6 L272.9,757.9 L270.4,756.2 L267.6,754.8 L264.8,753.3 L262.1,751.6 L261,748.5 L260,745.3 L259.2,742.2 L256.9,740.2 L254.6,738.1 L252.3,736 L250.9,733.4 L249.5,730.7 L248.2,727.9 L245.9,725.8 L243.7,723.6 L241.5,721.4 L240,718.8 L238.5,716.2 L236.9,713.6 L235,711.3 L233,709 L231,706.8 L229.7,703.8 L228.9,700.6 L228.5,697.4 L228.3,694.3 L228.5,691.3 L228.9,688.3 L229.6,685.3 L230.4,682.4 L231.3,679.5 L232.2,676.6 L233.1,673.7 L234.1,670.9 L235.2,668.1 L236.3,665.2 L237.4,662.4 L238.6,659.6 L239.7,656.9 L240.9,654.1 L242.2,651.3 L243.4,648.6 L244.6,645.8 L246,643.1 L247.4,640.4 L249,637.9 L250.7,635.4 L252.4,632.9 L254.2,630.5 L256,628 L257.8,625.6 L259.6,623.2 L261.3,620.7 L262.8,618.1 L264.4,615.5 L265.7,612.8 L266.9,610 L268,607.2 L268.9,604.3 L269.6,601.4 L270.2,598.4 L270.7,595.4 L271.1,592.4 L271.3,589.4 L271.6,586.4 L271.7,583.4 L271.8,580.4 L271.8,577.4 L271.8,574.3 L271.8,571.3 L271.7,568.3 L271.7,565.3 L271.6,562.3 L271.4,559.2 L271.3,556.2 L271.2,553.2 L271,550.2 L270.9,547.2 L270.7,544.2 L270.6,541.1 L270.5,538.1 L270.4,535.1 L270.2,532.1 L270.1,529.1 L270.1,526 L270,523 L270,520 L270,451 Q272,405 297,379 Z" fill="none" stroke="#20265a" stroke-width="13"/><path d="M276.8,348 L286,347 L291,339.7 L317,368 Q319.7,376 320,368 L317,335 Q331,344 342.4,336 L339,363 Q352,384 368.5,342.7 L374,344.4 L388,347 L379.5,368.8 Q386,384 399.7,409 L403,440 L403,462 L357,462 L357,432 Q352,404 333,404 Q311,406 311,440 L311,520 L311,520 L311.2,523 L311.3,526 L311.5,529.1 L311.6,532.1 L311.7,535.1 L311.8,538.1 L312,541.1 L312.1,544.1 L312.2,547.2 L312.4,550.2 L312.5,553.2 L312.7,556.2 L312.9,559.2 L313.2,562.2 L313.4,565.2 L313.8,568.2 L314.2,571.2 L314.7,574.2 L315.3,577.2 L316,580.1 L316.9,583 L317.9,585.9 L318.8,588.7 L319.8,591.6 L320.6,594.5 L321.4,597.4 L322.1,600.4 L322.7,603.3 L323.4,606.3 L324,609.2 L324.6,612.2 L325.2,615.1 L325.8,618.1 L326.4,621.1 L327,624 L327.6,627 L328.2,629.9 L328.8,632.9 L329.4,635.9 L330,638.8 L330.7,641.8 L331.3,644.7 L332,647.7 L332.7,650.6 L333.3,653.6 L334.1,656.5 L334.8,659.4 L335.6,662.3 L336.4,665.2 L337.1,668.2 L337.8,671.1 L338.5,674 L339.3,677 L340,679.9 L340.8,682.8 L341.7,685.7 L342.6,688.6 L343.7,691.4 L344.9,694.2 L346.3,696.8 L347.9,699.4 L349.8,701.8 L352,703.8 L354.5,705.5 L357.2,706.9 L360,707.9 L362.9,708.7 L365.9,709.4 L368.9,709.9 L371.8,710.3 L374.8,710.8 L377.8,711.4 L380.7,712.1 L383.6,712.9 L386.5,713.8 L389.4,714.7 L392.3,715.6 L395.2,716.5 L398.1,717.4 L400.9,718.3 L403.8,719.2 L406.7,720.1 L409.6,721 L412.5,722 L415.3,722.9 L418.2,723.9 L421.1,724.8 L423.9,725.8 L426.7,726.9 L429.5,728 L432.3,729.2 L435.1,730.4 L437.8,731.7 L440.5,733.2 L443.1,734.7 L445.6,736.3 L448.1,738.1 L450.5,739.9 L452.8,741.9 L454.5,744.3 L455,747.3 L454.8,750.3 L454.2,753.3 L453.3,756.1 L452.2,759 L451,761.7 L449.5,764.4 L447.8,766.9 L445.8,769.1 L443.9,771.5 L442,773.9 L440.1,776.2 L438.2,778.6 L436.2,780.9 L433.1,782 L430,782.7 L426.9,782.9 L424.5,784.5 L421.9,785.9 L419.1,787.2 L416.1,787.3 L413.1,787.3 L410.1,787.1 L407.2,786.8 L404.2,786.5 L401.2,786 L398.1,786.7 L395,787.4 L392,788.1 L389,787.7 L385.9,787.3 L383,786.9 L380,785.8 L377.1,784.7 L374.2,783.5 L371.1,784.4 L367.9,785.2 L364.8,786 L361.9,784.7 L359,783.3 L356.2,781.9 L353,782.5 L349.9,783.2 L346.7,783.8 L343.9,782.4 L341.1,780.9 L338.3,779.5 L335.3,778.9 L332.3,778.3 L329.4,777.7 L326.6,776.7 L323.7,775.6 L320.9,774.5 L318,773.9 L315,773.3 L312.1,772.7 L309,772.4 L306,772 L302.9,771.7 L299.9,771.2 L296.9,770.7 L293.8,770.2 L291,769.1 L288.1,768.1 L285.3,766.9 L282.8,765 L280.3,763.1 L278,761.1 L275.4,759.6 L272.9,757.9 L270.4,756.2 L267.6,754.8 L264.8,753.3 L262.1,751.6 L261,748.5 L260,745.3 L259.2,742.2 L256.9,740.2 L254.6,738.1 L252.3,736 L250.9,733.4 L249.5,730.7 L248.2,727.9 L245.9,725.8 L243.7,723.6 L241.5,721.4 L240,718.8 L238.5,716.2 L236.9,713.6 L235,711.3 L233,709 L231,706.8 L229.7,703.8 L228.9,700.6 L228.5,697.4 L228.3,694.3 L228.5,691.3 L228.9,688.3 L229.6,685.3 L230.4,682.4 L231.3,679.5 L232.2,676.6 L233.1,673.7 L234.1,670.9 L235.2,668.1 L236.3,665.2 L237.4,662.4 L238.6,659.6 L239.7,656.9 L240.9,654.1 L242.2,651.3 L243.4,648.6 L244.6,645.8 L246,643.1 L247.4,640.4 L249,637.9 L250.7,635.4 L252.4,632.9 L254.2,630.5 L256,628 L257.8,625.6 L259.6,623.2 L261.3,620.7 L262.8,618.1 L264.4,615.5 L265.7,612.8 L266.9,610 L268,607.2 L268.9,604.3 L269.6,601.4 L270.2,598.4 L270.7,595.4 L271.1,592.4 L271.3,589.4 L271.6,586.4 L271.7,583.4 L271.8,580.4 L271.8,577.4 L271.8,574.3 L271.8,571.3 L271.7,568.3 L271.7,565.3 L271.6,562.3 L271.4,559.2 L271.3,556.2 L271.2,553.2 L271,550.2 L270.9,547.2 L270.7,544.2 L270.6,541.1 L270.5,538.1 L270.4,535.1 L270.2,532.1 L270.1,529.1 L270.1,526 L270,523 L270,520 L270,451 Q272,405 297,379 Z" fill="none" stroke="#fdfbea" stroke-width="8.5"/></g></g>
<path d="M276.8,348 L286,347 L291,339.7 L317,368 Q319.7,376 320,368 L317,335 Q331,344 342.4,336 L339,363 Q352,384 368.5,342.7 L374,344.4 L388,347 L379.5,368.8 Q386,384 399.7,409 L403,440 L403,462 L357,462 L357,432 Q352,404 333,404 Q311,406 311,440 L311,520 L311,520 L311.2,523 L311.3,526 L311.5,529.1 L311.6,532.1 L311.7,535.1 L311.8,538.1 L312,541.1 L312.1,544.1 L312.2,547.2 L312.4,550.2 L312.5,553.2 L312.7,556.2 L312.9,559.2 L313.2,562.2 L313.4,565.2 L313.8,568.2 L314.2,571.2 L314.7,574.2 L315.3,577.2 L316,580.1 L316.9,583 L317.9,585.9 L318.8,588.7 L319.8,591.6 L320.6,594.5 L321.4,597.4 L322.1,600.4 L322.7,603.3 L323.4,606.3 L324,609.2 L324.6,612.2 L325.2,615.1 L325.8,618.1 L326.4,621.1 L327,624 L327.6,627 L328.2,629.9 L328.8,632.9 L329.4,635.9 L330,638.8 L330.7,641.8 L331.3,644.7 L332,647.7 L332.7,650.6 L333.3,653.6 L334.1,656.5 L334.8,659.4 L335.6,662.3 L336.4,665.2 L337.1,668.2 L337.8,671.1 L338.5,674 L339.3,677 L340,679.9 L340.8,682.8 L341.7,685.7 L342.6,688.6 L343.7,691.4 L344.9,694.2 L346.3,696.8 L347.9,699.4 L349.8,701.8 L352,703.8 L354.5,705.5 L357.2,706.9 L360,707.9 L362.9,708.7 L365.9,709.4 L368.9,709.9 L371.8,710.3 L374.8,710.8 L377.8,711.4 L380.7,712.1 L383.6,712.9 L386.5,713.8 L389.4,714.7 L392.3,715.6 L395.2,716.5 L398.1,717.4 L400.9,718.3 L403.8,719.2 L406.7,720.1 L409.6,721 L412.5,722 L415.3,722.9 L418.2,723.9 L421.1,724.8 L423.9,725.8 L426.7,726.9 L429.5,728 L432.3,729.2 L435.1,730.4 L437.8,731.7 L440.5,733.2 L443.1,734.7 L445.6,736.3 L448.1,738.1 L450.5,739.9 L452.8,741.9 L454.5,744.3 L455,747.3 L454.8,750.3 L454.2,753.3 L453.3,756.1 L452.2,759 L451,761.7 L449.5,764.4 L447.8,766.9 L445.8,769.1 L443.9,771.5 L442,773.9 L440.1,776.2 L438.2,778.6 L436.2,780.9 L433.1,782 L430,782.7 L426.9,782.9 L424.5,784.5 L421.9,785.9 L419.1,787.2 L416.1,787.3 L413.1,787.3 L410.1,787.1 L407.2,786.8 L404.2,786.5 L401.2,786 L398.1,786.7 L395,787.4 L392,788.1 L389,787.7 L385.9,787.3 L383,786.9 L380,785.8 L377.1,784.7 L374.2,783.5 L371.1,784.4 L367.9,785.2 L364.8,786 L361.9,784.7 L359,783.3 L356.2,781.9 L353,782.5 L349.9,783.2 L346.7,783.8 L343.9,782.4 L341.1,780.9 L338.3,779.5 L335.3,778.9 L332.3,778.3 L329.4,777.7 L326.6,776.7 L323.7,775.6 L320.9,774.5 L318,773.9 L315,773.3 L312.1,772.7 L309,772.4 L306,772 L302.9,771.7 L299.9,771.2 L296.9,770.7 L293.8,770.2 L291,769.1 L288.1,768.1 L285.3,766.9 L282.8,765 L280.3,763.1 L278,761.1 L275.4,759.6 L272.9,757.9 L270.4,756.2 L267.6,754.8 L264.8,753.3 L262.1,751.6 L261,748.5 L260,745.3 L259.2,742.2 L256.9,740.2 L254.6,738.1 L252.3,736 L250.9,733.4 L249.5,730.7 L248.2,727.9 L245.9,725.8 L243.7,723.6 L241.5,721.4 L240,718.8 L238.5,716.2 L236.9,713.6 L235,711.3 L233,709 L231,706.8 L229.7,703.8 L228.9,700.6 L228.5,697.4 L228.3,694.3 L228.5,691.3 L228.9,688.3 L229.6,685.3 L230.4,682.4 L231.3,679.5 L232.2,676.6 L233.1,673.7 L234.1,670.9 L235.2,668.1 L236.3,665.2 L237.4,662.4 L238.6,659.6 L239.7,656.9 L240.9,654.1 L242.2,651.3 L243.4,648.6 L244.6,645.8 L246,643.1 L247.4,640.4 L249,637.9 L250.7,635.4 L252.4,632.9 L254.2,630.5 L256,628 L257.8,625.6 L259.6,623.2 L261.3,620.7 L262.8,618.1 L264.4,615.5 L265.7,612.8 L266.9,610 L268,607.2 L268.9,604.3 L269.6,601.4 L270.2,598.4 L270.7,595.4 L271.1,592.4 L271.3,589.4 L271.6,586.4 L271.7,583.4 L271.8,580.4 L271.8,577.4 L271.8,574.3 L271.8,571.3 L271.7,568.3 L271.7,565.3 L271.6,562.3 L271.4,559.2 L271.3,556.2 L271.2,553.2 L271,550.2 L270.9,547.2 L270.7,544.2 L270.6,541.1 L270.5,538.1 L270.4,535.1 L270.2,532.1 L270.1,529.1 L270.1,526 L270,523 L270,520 L270,451 Q272,405 297,379 Z" fill="none" stroke="#20265a" stroke-width="3.2" stroke-linejoin="round"/>
<path d="M180,563 L183.2,561.3 L187.2,560 L191.8,559 L196.8,558.3 L202,557.8 L207.3,557.4 L212.5,557.1 L217.5,556.8 L222,556.5 L226,556 L229.5,555.3 L232.7,554.4 L235.6,553.4 L238.4,552.4 L241,551.5 L243.4,550.8 L245.7,550.4 L247.9,550.4 L250,550.9 L252,552 L254,553.8 L255.9,556.3 L257.8,559.4 L259.5,562.8 L261.1,566.6 L262.6,570.5 L263.8,574.4 L264.8,578.2 L265.5,581.8 L266,585 L266.1,587.9 L265.9,590.8 L265.3,593.5 L264.6,596.2 L263.6,598.8 L262.5,601.4 L261.4,604 L260.2,606.6 L259.1,609.3 L258,612 L256.8,614.8 L255.4,617.5 L253.8,620.3 L252.1,623 L250.5,625.8 L249,628.6 L247.7,631.4 L246.7,634.3 L246.1,637.1 L246,640 L246.6,643 L248,646 L249.9,649.2 L252.2,652.3 L254.6,655.5 L257,658.6 L259.1,661.7 L260.8,664.6 L261.8,667.4 L262,670 L261.4,672.5 L260.3,674.8 L258.8,677.1 L256.8,679.3 L254.5,681.4 L251.9,683.4 L249.1,685.3 L246.2,687 L243.1,688.6 L240,690 L236.7,691.4 L233,692.9 L229.1,694.4 L224.9,695.8 L220.6,697.1 L216.3,698 L212,698.5 L207.8,698.6 L203.8,698.1 L200,697 L196.3,695.2 L192.5,692.9 L188.7,690 L185,686.8 L181.4,683.1 L178,679 L174.8,674.6 L172.1,670 L169.8,665.1 L168,660 L166.8,654.4 L166.1,648.1 L165.8,641.2 L166,634 L166.4,626.6 L167,619.3 L167.7,612.1 L168.5,605.4 L169.3,599.3 L170,594Z" fill="#f3a7aa" stroke="#20265a" stroke-width="3.2" stroke-linejoin="round"/>
<path d="M195,575 L197.4,573.4 L200.2,572.1 L203.3,571 L206.5,570.2 L209.9,569.7 L213.4,569.4 L216.8,569.2 L220.1,569.3 L223.2,569.6 L226,570 L228.7,570.6 L231.3,571.5 L234,572.7 L236.5,574 L238.9,575.5 L241.2,577.2 L243.3,579 L245.2,580.9 L246.7,582.9 L248,585 L248.9,587.2 L249.6,589.6 L250,592.2 L250.2,594.9 L250.1,597.7 L249.9,600.6 L249.6,603.4 L249.1,606.3 L248.6,609.2 L248,612 L247.2,614.8 L246.1,617.5 L244.8,620.3 L243.3,623 L241.8,625.8 L240.2,628.6 L238.8,631.4 L237.6,634.3 L236.6,637.1 L236,640 L235.9,643 L236.2,646.1 L236.9,649.3 L237.8,652.6 L238.8,655.8 L239.7,659 L240.4,662 L240.8,664.9 L240.7,667.6 L240,670 L238.7,672.2 L236.9,674.3 L234.6,676.3 L232.1,678.1 L229.3,679.8 L226.4,681.3 L223.4,682.6 L220.5,683.6 L217.6,684.5 L215,685 L212.4,685.3 L209.8,685.3 L207,685.2 L204.3,684.8 L201.6,684.2 L198.9,683.4 L196.4,682.3 L194,681.1 L191.9,679.6 L190,678 L188.3,676.1 L186.8,674 L185.5,671.7 L184.3,669.1 L183.3,666.4 L182.4,663.4 L181.6,660.3 L181,657 L180.4,653.6 L180,650 L179.7,646.1 L179.5,641.8 L179.4,637.3 L179.4,632.5 L179.6,627.6 L179.8,622.7 L180.2,617.9 L180.7,613.3 L181.3,609 L182,605Z" fill="#f8c4c6"/>
<path d="M212,590 L214.1,589.4 L216.4,589.2 L219.1,589.4 L221.8,589.9 L224.6,590.8 L227.2,591.8 L229.7,593.2 L231.9,594.7 L233.7,596.3 L235,598 L235.8,599.9 L236.2,602.1 L236.3,604.6 L236.1,607.3 L235.7,610.1 L235.1,613.1 L234.4,616.1 L233.6,619.1 L232.8,622.1 L232,625 L231.2,628 L230.2,631.1 L229.2,634.4 L228,637.7 L226.8,641.1 L225.4,644.3 L224.1,647.4 L222.7,650.2 L221.4,652.8 L220,655 L218.6,657 L217.1,658.8 L215.5,660.6 L213.9,662.1 L212.3,663.4 L210.7,664.5 L209.2,665.2 L207.7,665.6 L206.3,665.5 L205,665 L203.8,663.9 L202.6,662.2 L201.5,660.1 L200.4,657.5 L199.4,654.7 L198.5,651.7 L197.7,648.6 L197,645.6 L196.4,642.7 L196,640 L195.7,637.5 L195.5,635 L195.4,632.5 L195.4,630 L195.6,627.5 L195.8,625 L196.2,622.5 L196.7,620 L197.3,617.5 L198,615Z" fill="#fde8e8"/>
<path d="M136.1,467.2 L136,470.3 L135.8,473.2 L135.6,475.9 L135.5,478.7 L135.3,481.3 L135.2,484 L135,486.7 L134.9,489.5 L134.7,492.3 L134.6,495.3 L134.4,498.4 L134.2,501.7 L133.9,505.3 L133.7,509 L133.4,513.1 L133.1,517.4 L132.8,521.5 L132.5,525.3 L132.1,529.1 L131.7,532.9 L131.3,536.9 L130.8,541.1 L130.3,545.6 L129.8,550.6 L129.3,556 L128.7,562 L128.2,568.6 L127.7,575.9 L127.3,584 L126.8,593 L126.4,602.9 L126,614 L125.6,626.2 L125.1,639.7 L124.7,654.2 L124.3,669.7 L123.9,686.1 L123.6,703.2 L123.2,720.9 L122.8,739 L122.5,757.5 L122.1,776.2 L121.8,794.9 L121.4,813.6 L121.1,832.2 L120.7,850.4 L120.4,868.2 L120,885.5 L167,886.5 L167.4,869.3 L167.9,851.4 L168.3,833.2 L168.7,814.6 L169.1,795.9 L169.5,777.1 L169.9,758.5 L170.3,740 L170.8,721.9 L171.2,704.3 L171.6,687.3 L172.1,671 L172.5,655.6 L173,641.2 L173.5,628 L174,616 L174.6,605.4 L175.2,595.8 L175.9,587.3 L176.6,579.7 L177.3,573 L178,567 L178.7,561.6 L179.4,556.8 L180.1,552.3 L180.8,548.1 L181.5,544.1 L182.2,540 L182.9,536 L183.6,531.7 L184.3,527.2 L184.9,522.6 L185.4,518.2 L185.9,514.2 L186.4,510.4 L186.9,506.9 L187.4,503.7 L187.8,500.6 L188.2,497.7 L188.6,494.9 L189,492.2 L189.4,489.5 L189.8,486.9 L190.2,484.2 L190.6,481.5 L191,478.7 L191.4,475.8 L191.9,472.8Z" fill="#fdfbea" stroke="#20265a" stroke-width="3.8" stroke-linejoin="round"/>
<path d="M142.6,468.2 L142.4,471.2 L142.2,474.1 L142.1,476.9 L141.9,479.6 L141.8,482.3 L141.6,485 L141.5,487.7 L141.3,490.4 L141.2,493.3 L141,496.2 L140.8,499.4 L140.6,502.7 L140.4,506.2 L140.1,510 L139.9,514 L139.6,518.3 L139.3,522.6 L138.9,526.5 L138.5,530.3 L138.1,534.2 L137.7,538.2 L137.2,542.4 L136.7,546.9 L136.2,551.8 L135.7,557.1 L135.2,563 L134.7,569.4 L134.2,576.6 L133.7,584.6 L133.3,593.5 L132.9,603.4 L132.5,614.4 L132.1,626.6 L131.6,640 L131.2,654.5 L130.8,670 L130.4,686.3 L130.1,703.4 L129.7,721.1 L129.3,739.2 L129,757.7 L128.6,776.4 L128.3,795.1 L127.9,813.8 L127.6,832.4 L127.2,850.6 L126.9,868.4 L126.5,885.7 L154.5,886.3 L154.9,869.1 L155.4,851.2 L155.8,833 L156.2,814.4 L156.6,795.7 L157,776.9 L157.4,758.3 L157.8,739.8 L158.3,721.7 L158.7,704.1 L159.1,687 L159.6,670.8 L160,655.3 L160.5,640.9 L161,627.6 L161.5,615.6 L162.1,604.9 L162.8,595.3 L163.4,586.7 L164.1,579 L164.8,572.2 L165.5,566.1 L166.3,560.6 L167,555.6 L167.7,551 L168.4,546.8 L169.1,542.7 L169.8,538.7 L170.5,534.7 L171.2,530.5 L171.8,526.2 L172.4,521.7 L173,517.2 L173.5,513.2 L174,509.5 L174.4,506 L174.9,502.8 L175.3,499.7 L175.8,496.8 L176.2,494 L176.6,491.2 L177,488.6 L177.4,485.9 L177.8,483.3 L178.2,480.6 L178.6,477.8 L179,474.9 L179.4,471.8Z" fill="#8fcdef" stroke="#20265a" stroke-width="3.4" stroke-linejoin="round"/>
<path d="M149.1,468.8 L148.9,471.9 L148.7,474.8 L148.6,477.6 L148.4,480.3 L148.3,483 L148.1,485.6 L148,488.3 L147.8,491.1 L147.6,493.9 L147.5,496.9 L147.3,500 L147.1,503.3 L146.9,506.8 L146.6,510.6 L146.3,514.7 L146.1,519 L145.7,523.3 L145.4,527.3 L145,531.2 L144.6,535.1 L144.1,539.1 L143.6,543.3 L143.2,547.8 L142.7,552.6 L142.2,557.8 L141.7,563.6 L141.2,570 L140.7,577.2 L140.2,585.1 L139.8,593.9 L139.4,603.7 L139,614.7 L138.6,626.8 L138.1,640.2 L137.7,654.7 L137.3,670.2 L136.9,686.5 L136.6,703.6 L136.2,721.2 L135.8,739.3 L135.5,757.8 L135.1,776.5 L134.8,795.2 L134.4,814 L134.1,832.5 L133.7,850.8 L133.4,868.6 L133,885.8 L148,886.2 L148.4,868.9 L148.9,851.1 L149.3,832.8 L149.7,814.3 L150.1,795.6 L150.5,776.8 L150.9,758.1 L151.3,739.7 L151.8,721.6 L152.2,703.9 L152.6,686.9 L153.1,670.6 L153.5,655.1 L154,640.7 L154.5,627.4 L155,615.3 L155.6,604.6 L156.3,594.9 L156.9,586.2 L157.6,578.5 L158.4,571.6 L159.1,565.4 L159.8,559.8 L160.5,554.8 L161.2,550.2 L162,545.9 L162.7,541.8 L163.4,537.8 L164.1,533.8 L164.7,529.7 L165.4,525.5 L165.9,521 L166.5,516.6 L167,512.6 L167.5,508.9 L168,505.4 L168.4,502.1 L168.9,499 L169.3,496.1 L169.7,493.3 L170.1,490.6 L170.5,487.9 L170.9,485.3 L171.3,482.6 L171.7,479.9 L172.1,477.1 L172.5,474.2 L172.9,471.2Z" fill="#d6ecfa"/>
<clipPath id="cpL3"><rect x="0" y="250" width="268" height="300"/></clipPath>
<clipPath id="cpR3"><rect x="312" y="380" width="300" height="140"/></clipPath>
<g clip-path="url(#cpL3)"><path d="M41.7,510.3 L45.4,509.7 L49.1,509 L52.9,508.3 L56.6,507.6 L60.4,507 L64.1,506.3 L67.9,505.6 L71.7,504.9 L75.5,504.3 L79.3,503.6 L83.1,502.8 L86.9,502.1 L90.7,501.4 L94.5,500.6 L98.3,499.9 L102.2,499.1 L106,498.1 L109.8,497.1 L113.5,496.1 L117,495.1 L120.5,494.1 L124,493 L127.4,492 L130.7,491.1 L133.9,490.1 L137.2,489.2 L140.4,488.3 L143.6,487.4 L146.8,486.6 L150,485.7 L153.3,485 L156.7,484.2 L160.3,483.4 L164.1,482.5 L167.9,481.7 L171.8,480.8 L175.8,480 L179.8,479.1 L183.8,478.3 L187.8,477.5 L191.8,476.8 L195.7,476.1 L199.6,475.4 L203.5,474.8 L207.3,474.2 L211,473.7 L214.6,473.2 L218.1,472.8 L221.6,472.4 L225,472.1 L228.4,471.7 L231.8,471.4 L235.1,471.2 L238.4,471 L241.7,470.8 L244.9,470.7 L248.2,470.6 L251.4,470.5 L254.7,470.5 L257.9,470.5 L261.2,470.6 L264.4,470.7 L267.7,470.8 L270.8,470.9 L273.6,471.2 L276.4,471.6 L279.4,472.2 L282.5,472.8 L285.9,473.5 L289.3,474.3 L292.9,475.1 L296.6,476 L300.4,476.9 L304.4,477.7 L308.4,478.6 L312.5,479.3 L316.8,480 L321.2,480.5 L325.8,480.9 L330.6,481 L335.3,480.8 L339.8,480.4 L344,479.7 L348,478.9 L351.8,477.9 L355.2,476.9 L358.3,475.9 L361.1,474.9 L363.6,474 L365.8,473.1 L367.8,472.4 L369.6,471.9 L371.2,471.4 L372.6,471 L373.9,470.7 L375.5,470.5 L377.8,470.1 L380.4,469.7 L383,469.3 L385.8,468.9 L388.6,468.5 L391.5,468.2 L394.4,467.9 L397.3,467.6 L400.3,467.3 L403.3,467 L406.3,466.8 L409.3,466.6 L412.3,466.4 L415.2,466.2 L418.2,466.1 L421,466 L423.9,465.8 L426.8,465.7 L429.8,465.6 L432.7,465.5 L435.7,465.5 L438.7,465.4 L441.7,465.4 L444.7,465.5 L447.6,465.5 L450.6,465.6 L453.4,465.6 L456.3,465.7 L459.1,465.9 L461.9,466 L464.5,466.2 L467.1,466.4 L469.5,466.4 L471.7,466.5 L474,466.7 L476.3,466.8 L478.5,467 L480.8,467.3 L483.1,467.5 L485.5,467.8 L487.9,468.1 L490.3,468.4 L492.8,468.8 L495.4,469.1 L498,469.5 L500.7,469.9 L503.5,470.2 L506.2,470.6 L515.8,419.4 L513.4,418.8 L511.2,418.2 L508.9,417.5 L506.5,416.8 L504.1,416.1 L501.7,415.4 L499.2,414.7 L496.6,413.9 L494,413.2 L491.2,412.5 L488.4,411.8 L485.5,411.1 L482.5,410.4 L479.4,409.8 L476.2,409.2 L472.9,408.6 L469.7,408.3 L466.5,407.9 L463.3,407.6 L460,407.4 L456.6,407.1 L453.3,406.9 L449.9,406.7 L446.5,406.5 L443,406.3 L439.6,406.2 L436.1,406.1 L432.7,406 L429.2,406 L425.8,406 L422.4,406 L419,406 L415.6,406.2 L412.1,406.3 L408.7,406.5 L405.3,406.7 L401.8,407 L398.3,407.2 L394.9,407.5 L391.4,407.9 L388,408.2 L384.6,408.6 L381.2,409 L377.8,409.4 L374.5,409.9 L371.2,410.4 L367.9,410.9 L364.5,411.5 L360.6,412.4 L356.7,413.4 L353.1,414.6 L349.8,415.7 L346.8,416.9 L344.2,418 L341.8,419 L339.8,419.9 L338,420.6 L336.4,421.2 L335.1,421.7 L333.9,422.1 L332.8,422.5 L331.7,422.7 L330.6,422.9 L329.4,423 L328,423.1 L326.2,423 L324,422.8 L321.4,422.5 L318.6,422.1 L315.5,421.6 L312.1,421 L308.6,420.3 L304.9,419.5 L301.1,418.8 L297,418 L292.9,417.2 L288.6,416.5 L284.2,415.9 L279.6,415.4 L275.2,415.1 L271.1,414.8 L267.2,414.5 L263.4,414.2 L259.6,414.1 L255.7,413.9 L251.8,413.8 L248,413.7 L244.1,413.7 L240.1,413.7 L236.2,413.8 L232.3,413.9 L228.3,414 L224.2,414.3 L220.2,414.5 L216.1,414.8 L211.9,415.2 L207.6,415.6 L203.3,416.2 L198.9,416.8 L194.5,417.5 L190.1,418.2 L185.7,419 L181.3,419.8 L176.9,420.6 L172.5,421.4 L168.1,422.3 L163.8,423.2 L159.6,424.1 L155.4,425 L151.3,425.9 L147.3,426.9 L143.3,427.8 L139.3,428.8 L135.3,429.9 L131.5,431 L127.7,432.1 L124,433.3 L120.5,434.4 L117,435.6 L113.6,436.7 L110.2,437.8 L107,438.9 L103.7,440 L100.6,441 L97.4,442 L94.2,443 L91.1,444 L87.8,444.9 L84.5,446 L81.1,447.1 L77.6,448.1 L74.1,449.2 L70.6,450.2 L67,451.2 L63.4,452.3 L59.8,453.3 L56.1,454.3 L52.5,455.4 L48.8,456.4 L45.1,457.5 L41.4,458.5 L37.7,459.5 L33.9,460.6 L30.3,461.7Z" fill="none" stroke="#20265a" stroke-width="7.2" stroke-linejoin="round"/>
<path d="M133.2,276.9 L133.5,280.4 L133.8,283.8 L134,287.3 L134.3,290.7 L134.6,294.2 L134.9,297.6 L135.2,301.1 L135.5,304.6 L135.8,308.2 L136.1,311.7 L136.4,315.3 L136.7,318.9 L137.1,322.6 L137.4,326.2 L137.8,330 L138.2,333.7 L138.7,337.5 L139.2,341.4 L139.6,345.3 L140.1,349.2 L140.7,353.2 L141.2,357.1 L141.7,361 L142.3,364.9 L142.8,368.8 L143.4,372.6 L143.9,376.4 L144.4,380.2 L144.9,383.8 L145.4,387.4 L145.9,390.9 L146.3,394.3 L146.7,397.7 L147.1,401 L147.5,404.2 L147.9,407.4 L148.3,410.6 L148.7,413.7 L149.1,416.8 L149.4,419.8 L149.8,422.8 L150.1,425.9 L150.5,428.9 L150.8,431.9 L151.2,435 L151.6,438.1 L151.9,441.2 L152.3,444.3 L213.7,435.7 L213.2,432.6 L212.7,429.6 L212.2,426.5 L211.8,423.5 L211.3,420.5 L210.8,417.5 L210.3,414.5 L209.8,411.4 L209.3,408.4 L208.9,405.3 L208.4,402.2 L207.8,399 L207.3,395.7 L206.8,392.5 L206.2,389.1 L205.7,385.7 L205.1,382.1 L204.5,378.5 L203.9,374.8 L203.2,371 L202.6,367.3 L201.9,363.5 L201.2,359.7 L200.6,355.8 L199.9,352 L199.3,348.2 L198.6,344.4 L198,340.7 L197.4,337 L196.8,333.3 L196.3,329.8 L195.8,326.3 L195.3,322.8 L194.8,319.4 L194.3,316 L193.9,312.5 L193.4,309.1 L193,305.7 L192.6,302.3 L192.2,298.9 L191.8,295.4 L191.4,292 L190.9,288.6 L190.5,285.1 L190.1,281.6 L189.7,278.1 L189.3,274.6 L188.8,271.1Z" fill="none" stroke="#20265a" stroke-width="7.2" stroke-linejoin="round"/>
<path d="M41.7,510.3 L45.4,509.7 L49.1,509 L52.9,508.3 L56.6,507.6 L60.4,507 L64.1,506.3 L67.9,505.6 L71.7,504.9 L75.5,504.3 L79.3,503.6 L83.1,502.8 L86.9,502.1 L90.7,501.4 L94.5,500.6 L98.3,499.9 L102.2,499.1 L106,498.1 L109.8,497.1 L113.5,496.1 L117,495.1 L120.5,494.1 L124,493 L127.4,492 L130.7,491.1 L133.9,490.1 L137.2,489.2 L140.4,488.3 L143.6,487.4 L146.8,486.6 L150,485.7 L153.3,485 L156.7,484.2 L160.3,483.4 L164.1,482.5 L167.9,481.7 L171.8,480.8 L175.8,480 L179.8,479.1 L183.8,478.3 L187.8,477.5 L191.8,476.8 L195.7,476.1 L199.6,475.4 L203.5,474.8 L207.3,474.2 L211,473.7 L214.6,473.2 L218.1,472.8 L221.6,472.4 L225,472.1 L228.4,471.7 L231.8,471.4 L235.1,471.2 L238.4,471 L241.7,470.8 L244.9,470.7 L248.2,470.6 L251.4,470.5 L254.7,470.5 L257.9,470.5 L261.2,470.6 L264.4,470.7 L267.7,470.8 L270.8,470.9 L273.6,471.2 L276.4,471.6 L279.4,472.2 L282.5,472.8 L285.9,473.5 L289.3,474.3 L292.9,475.1 L296.6,476 L300.4,476.9 L304.4,477.7 L308.4,478.6 L312.5,479.3 L316.8,480 L321.2,480.5 L325.8,480.9 L330.6,481 L335.3,480.8 L339.8,480.4 L344,479.7 L348,478.9 L351.8,477.9 L355.2,476.9 L358.3,475.9 L361.1,474.9 L363.6,474 L365.8,473.1 L367.8,472.4 L369.6,471.9 L371.2,471.4 L372.6,471 L373.9,470.7 L375.5,470.5 L377.8,470.1 L380.4,469.7 L383,469.3 L385.8,468.9 L388.6,468.5 L391.5,468.2 L394.4,467.9 L397.3,467.6 L400.3,467.3 L403.3,467 L406.3,466.8 L409.3,466.6 L412.3,466.4 L415.2,466.2 L418.2,466.1 L421,466 L423.9,465.8 L426.8,465.7 L429.8,465.6 L432.7,465.5 L435.7,465.5 L438.7,465.4 L441.7,465.4 L444.7,465.5 L447.6,465.5 L450.6,465.6 L453.4,465.6 L456.3,465.7 L459.1,465.9 L461.9,466 L464.5,466.2 L467.1,466.4 L469.5,466.4 L471.7,466.5 L474,466.7 L476.3,466.8 L478.5,467 L480.8,467.3 L483.1,467.5 L485.5,467.8 L487.9,468.1 L490.3,468.4 L492.8,468.8 L495.4,469.1 L498,469.5 L500.7,469.9 L503.5,470.2 L506.2,470.6 L515.8,419.4 L513.4,418.8 L511.2,418.2 L508.9,417.5 L506.5,416.8 L504.1,416.1 L501.7,415.4 L499.2,414.7 L496.6,413.9 L494,413.2 L491.2,412.5 L488.4,411.8 L485.5,411.1 L482.5,410.4 L479.4,409.8 L476.2,409.2 L472.9,408.6 L469.7,408.3 L466.5,407.9 L463.3,407.6 L460,407.4 L456.6,407.1 L453.3,406.9 L449.9,406.7 L446.5,406.5 L443,406.3 L439.6,406.2 L436.1,406.1 L432.7,406 L429.2,406 L425.8,406 L422.4,406 L419,406 L415.6,406.2 L412.1,406.3 L408.7,406.5 L405.3,406.7 L401.8,407 L398.3,407.2 L394.9,407.5 L391.4,407.9 L388,408.2 L384.6,408.6 L381.2,409 L377.8,409.4 L374.5,409.9 L371.2,410.4 L367.9,410.9 L364.5,411.5 L360.6,412.4 L356.7,413.4 L353.1,414.6 L349.8,415.7 L346.8,416.9 L344.2,418 L341.8,419 L339.8,419.9 L338,420.6 L336.4,421.2 L335.1,421.7 L333.9,422.1 L332.8,422.5 L331.7,422.7 L330.6,422.9 L329.4,423 L328,423.1 L326.2,423 L324,422.8 L321.4,422.5 L318.6,422.1 L315.5,421.6 L312.1,421 L308.6,420.3 L304.9,419.5 L301.1,418.8 L297,418 L292.9,417.2 L288.6,416.5 L284.2,415.9 L279.6,415.4 L275.2,415.1 L271.1,414.8 L267.2,414.5 L263.4,414.2 L259.6,414.1 L255.7,413.9 L251.8,413.8 L248,413.7 L244.1,413.7 L240.1,413.7 L236.2,413.8 L232.3,413.9 L228.3,414 L224.2,414.3 L220.2,414.5 L216.1,414.8 L211.9,415.2 L207.6,415.6 L203.3,416.2 L198.9,416.8 L194.5,417.5 L190.1,418.2 L185.7,419 L181.3,419.8 L176.9,420.6 L172.5,421.4 L168.1,422.3 L163.8,423.2 L159.6,424.1 L155.4,425 L151.3,425.9 L147.3,426.9 L143.3,427.8 L139.3,428.8 L135.3,429.9 L131.5,431 L127.7,432.1 L124,433.3 L120.5,434.4 L117,435.6 L113.6,436.7 L110.2,437.8 L107,438.9 L103.7,440 L100.6,441 L97.4,442 L94.2,443 L91.1,444 L87.8,444.9 L84.5,446 L81.1,447.1 L77.6,448.1 L74.1,449.2 L70.6,450.2 L67,451.2 L63.4,452.3 L59.8,453.3 L56.1,454.3 L52.5,455.4 L48.8,456.4 L45.1,457.5 L41.4,458.5 L37.7,459.5 L33.9,460.6 L30.3,461.7Z" fill="#fdfbea"/>
<path d="M133.2,276.9 L133.5,280.4 L133.8,283.8 L134,287.3 L134.3,290.7 L134.6,294.2 L134.9,297.6 L135.2,301.1 L135.5,304.6 L135.8,308.2 L136.1,311.7 L136.4,315.3 L136.7,318.9 L137.1,322.6 L137.4,326.2 L137.8,330 L138.2,333.7 L138.7,337.5 L139.2,341.4 L139.6,345.3 L140.1,349.2 L140.7,353.2 L141.2,357.1 L141.7,361 L142.3,364.9 L142.8,368.8 L143.4,372.6 L143.9,376.4 L144.4,380.2 L144.9,383.8 L145.4,387.4 L145.9,390.9 L146.3,394.3 L146.7,397.7 L147.1,401 L147.5,404.2 L147.9,407.4 L148.3,410.6 L148.7,413.7 L149.1,416.8 L149.4,419.8 L149.8,422.8 L150.1,425.9 L150.5,428.9 L150.8,431.9 L151.2,435 L151.6,438.1 L151.9,441.2 L152.3,444.3 L213.7,435.7 L213.2,432.6 L212.7,429.6 L212.2,426.5 L211.8,423.5 L211.3,420.5 L210.8,417.5 L210.3,414.5 L209.8,411.4 L209.3,408.4 L208.9,405.3 L208.4,402.2 L207.8,399 L207.3,395.7 L206.8,392.5 L206.2,389.1 L205.7,385.7 L205.1,382.1 L204.5,378.5 L203.9,374.8 L203.2,371 L202.6,367.3 L201.9,363.5 L201.2,359.7 L200.6,355.8 L199.9,352 L199.3,348.2 L198.6,344.4 L198,340.7 L197.4,337 L196.8,333.3 L196.3,329.8 L195.8,326.3 L195.3,322.8 L194.8,319.4 L194.3,316 L193.9,312.5 L193.4,309.1 L193,305.7 L192.6,302.3 L192.2,298.9 L191.8,295.4 L191.4,292 L190.9,288.6 L190.5,285.1 L190.1,281.6 L189.7,278.1 L189.3,274.6 L188.8,271.1Z" fill="#fdfbea"/>
<path d="M40.2,504 L44,503.3 L47.7,502.6 L51.4,502 L55.2,501.3 L58.9,500.6 L62.7,500 L66.5,499.3 L70.3,498.6 L74,497.9 L77.8,497.2 L81.6,496.5 L85.4,495.8 L89.2,495.1 L93,494.3 L96.7,493.6 L100.5,492.8 L104.3,491.8 L108,490.9 L111.6,489.9 L115.1,488.9 L118.6,487.8 L122,486.8 L125.4,485.8 L128.7,484.9 L132,483.9 L135.3,483 L138.5,482 L141.8,481.1 L145.1,480.3 L148.4,479.5 L151.7,478.7 L155.2,477.9 L158.8,477 L162.6,476.2 L166.5,475.3 L170.5,474.5 L174.5,473.6 L178.5,472.8 L182.5,471.9 L186.5,471.2 L190.6,470.4 L194.6,469.7 L198.6,469 L202.5,468.4 L206.4,467.8 L210.1,467.2 L213.8,466.8 L217.4,466.4 L220.9,466 L224.5,465.6 L227.9,465.2 L231.4,465 L234.8,464.7 L238.2,464.5 L241.5,464.3 L244.8,464.2 L248.2,464.1 L251.5,464 L254.8,464 L258.1,464 L261.4,464.1 L264.8,464.2 L268.1,464.3 L271.3,464.4 L274.3,464.8 L277.3,465.2 L280.4,465.7 L283.7,466.4 L287.2,467.1 L290.7,467.9 L294.3,468.8 L298,469.6 L301.8,470.5 L305.6,471.4 L309.5,472.2 L313.5,472.9 L317.6,473.5 L321.8,474.1 L326.1,474.4 L330.4,474.5 L334.7,474.3 L338.9,473.9 L342.8,473.4 L346.5,472.6 L349.9,471.7 L353.1,470.8 L356,469.8 L358.7,468.8 L361.2,467.9 L363.5,467.1 L365.5,466.4 L367.4,465.7 L369.2,465.2 L370.9,464.8 L372.5,464.4 L374.3,464.1 L376.7,463.7 L379.4,463.3 L382.1,462.9 L384.9,462.5 L387.8,462.1 L390.7,461.7 L393.7,461.4 L396.7,461.1 L399.7,460.8 L402.7,460.6 L405.8,460.3 L408.8,460.1 L411.9,459.9 L414.9,459.7 L417.9,459.6 L420.8,459.5 L423.8,459.3 L426.7,459.2 L429.7,459.1 L432.7,459 L435.8,459 L438.8,458.9 L441.8,458.9 L444.9,459 L447.9,459 L450.9,459.1 L453.8,459.1 L456.7,459.3 L459.6,459.4 L462.4,459.5 L465.1,459.7 L467.7,459.9 L470.2,460 L472.6,460.1 L475,460.2 L477.3,460.4 L479.7,460.6 L482,460.9 L484.4,461.1 L486.8,461.4 L489.2,461.8 L491.7,462.1 L494.2,462.4 L496.7,462.8 L499.3,463.1 L502,463.5 L504.7,463.9 L507.4,464.2 L514.6,425.8 L512.2,425.2 L509.9,424.5 L507.5,423.9 L505.2,423.2 L502.8,422.5 L500.3,421.8 L497.9,421 L495.3,420.3 L492.7,419.6 L490,418.9 L487.3,418.2 L484.4,417.5 L481.5,416.8 L478.5,416.2 L475.4,415.6 L472.3,415.1 L469.1,414.8 L466,414.4 L462.8,414.1 L459.6,413.8 L456.3,413.6 L453,413.4 L449.6,413.2 L446.3,413 L442.9,412.8 L439.5,412.7 L436.1,412.6 L432.7,412.5 L429.3,412.5 L425.9,412.5 L422.5,412.5 L419.2,412.5 L415.8,412.6 L412.5,412.8 L409.1,413 L405.7,413.2 L402.3,413.4 L398.9,413.7 L395.5,414 L392.1,414.3 L388.7,414.7 L385.3,415.1 L382,415.5 L378.7,415.9 L375.4,416.3 L372.2,416.8 L369,417.3 L365.7,417.9 L362,418.7 L358.4,419.7 L355.1,420.8 L352,421.9 L349.1,423 L346.6,424 L344.2,425 L342.1,425.9 L340.2,426.7 L338.5,427.4 L336.9,428 L335.4,428.4 L334,428.8 L332.6,429.1 L331.2,429.4 L329.6,429.5 L327.7,429.5 L325.6,429.5 L323.1,429.3 L320.4,428.9 L317.4,428.5 L314.2,427.9 L310.8,427.3 L307.3,426.6 L303.5,425.9 L299.7,425.1 L295.8,424.4 L291.7,423.6 L287.5,423 L283.3,422.4 L278.9,421.9 L274.7,421.6 L270.7,421.2 L266.9,421 L263.1,420.7 L259.4,420.5 L255.6,420.4 L251.8,420.3 L248,420.2 L244.2,420.2 L240.3,420.2 L236.5,420.3 L232.6,420.4 L228.7,420.5 L224.7,420.7 L220.7,421 L216.7,421.3 L212.6,421.6 L208.4,422.1 L204.2,422.6 L199.9,423.2 L195.5,423.9 L191.2,424.6 L186.8,425.4 L182.4,426.1 L178.1,427 L173.7,427.8 L169.4,428.7 L165.2,429.6 L161,430.5 L156.8,431.4 L152.7,432.3 L148.8,433.2 L144.8,434.1 L140.9,435.1 L137,436.2 L133.2,437.3 L129.5,438.4 L125.9,439.5 L122.4,440.6 L118.9,441.8 L115.5,442.9 L112.2,444 L108.9,445.1 L105.7,446.2 L102.5,447.2 L99.2,448.3 L96,449.3 L92.8,450.3 L89.5,451.2 L86.1,452.3 L82.7,453.4 L79.2,454.4 L75.6,455.5 L72.1,456.5 L68.5,457.6 L64.9,458.6 L61.2,459.6 L57.6,460.7 L53.9,461.7 L50.2,462.7 L46.5,463.8 L42.8,464.8 L39.1,465.9 L35.4,466.9 L31.8,468Z" fill="#8fcdef" stroke="#20265a" stroke-width="3.4"/>
<path d="M38.8,497.7 L42.5,497 L46.2,496.3 L49.9,495.6 L53.7,495 L57.5,494.3 L61.2,493.6 L65,493 L68.8,492.3 L72.6,491.6 L76.3,490.9 L80.1,490.2 L83.9,489.5 L87.6,488.8 L91.4,488 L95.1,487.3 L98.8,486.5 L102.5,485.6 L106.2,484.6 L109.7,483.6 L113.2,482.6 L116.7,481.6 L120.1,480.6 L123.4,479.6 L126.8,478.7 L130.1,477.7 L133.4,476.7 L136.7,475.8 L140,474.9 L143.3,474 L146.7,473.2 L150.1,472.4 L153.7,471.6 L157.4,470.7 L161.2,469.8 L165.1,469 L169.1,468.1 L173.1,467.2 L177.2,466.4 L181.2,465.6 L185.3,464.8 L189.4,464 L193.5,463.3 L197.5,462.6 L201.5,461.9 L205.4,461.3 L209.3,460.8 L213,460.3 L216.7,459.9 L220.3,459.5 L223.9,459.1 L227.5,458.8 L231,458.5 L234.5,458.2 L237.9,458 L241.3,457.8 L244.7,457.7 L248.1,457.6 L251.5,457.5 L254.9,457.5 L258.3,457.5 L261.7,457.6 L265.1,457.7 L268.5,457.8 L271.8,458 L275,458.3 L278.2,458.8 L281.5,459.3 L284.9,460 L288.4,460.8 L292,461.6 L295.7,462.4 L299.4,463.3 L303.1,464.1 L306.9,465 L310.7,465.8 L314.5,466.5 L318.4,467.1 L322.3,467.6 L326.3,467.9 L330.3,468 L334.2,467.9 L338,467.5 L341.5,467 L344.9,466.3 L348.1,465.5 L351,464.6 L353.8,463.7 L356.4,462.8 L358.8,461.9 L361.1,461 L363.2,460.3 L365.3,459.6 L367.2,459 L369.1,458.5 L371,458.1 L373.1,457.7 L375.6,457.3 L378.4,456.8 L381.2,456.4 L384.1,456 L387,455.6 L390,455.3 L393,455 L396,454.6 L399.1,454.3 L402.2,454.1 L405.3,453.8 L408.4,453.6 L411.5,453.4 L414.6,453.3 L417.6,453.1 L420.6,453 L423.6,452.8 L426.6,452.7 L429.7,452.6 L432.7,452.5 L435.8,452.5 L438.9,452.4 L442,452.4 L445.1,452.5 L448.1,452.5 L451.2,452.6 L454.2,452.7 L457.1,452.8 L460,452.9 L462.9,453.1 L465.7,453.2 L468.4,453.4 L471,453.5 L473.5,453.6 L475.9,453.8 L478.4,454 L480.8,454.2 L483.3,454.5 L485.7,454.8 L488.1,455.1 L490.6,455.4 L493.1,455.7 L495.6,456.1 L498.1,456.4 L500.7,456.8 L503.3,457.1 L506,457.5 L508.6,457.8 L513.4,432.2 L511,431.6 L508.6,430.9 L506.2,430.2 L503.8,429.5 L501.4,428.8 L499,428.1 L496.5,427.4 L494,426.7 L491.4,426 L488.8,425.3 L486.1,424.6 L483.4,423.9 L480.5,423.3 L477.6,422.7 L474.6,422.1 L471.6,421.6 L468.5,421.2 L465.5,420.9 L462.3,420.6 L459.1,420.3 L455.9,420.1 L452.7,419.9 L449.4,419.7 L446.1,419.5 L442.7,419.3 L439.4,419.2 L436,419.1 L432.7,419 L429.4,419 L426,419 L422.7,419 L419.4,419 L416.1,419.1 L412.8,419.3 L409.5,419.5 L406.1,419.7 L402.8,419.9 L399.4,420.2 L396.1,420.5 L392.7,420.8 L389.4,421.1 L386.1,421.5 L382.8,421.9 L379.5,422.3 L376.3,422.8 L373.2,423.2 L370.1,423.7 L366.9,424.3 L363.5,425 L360.1,426 L357,427 L354.1,428 L351.4,429.1 L348.9,430.1 L346.6,431.1 L344.5,432 L342.5,432.8 L340.6,433.6 L338.8,434.2 L337,434.7 L335.3,435.2 L333.5,435.6 L331.7,435.8 L329.7,436 L327.5,436 L325.1,435.9 L322.3,435.7 L319.4,435.4 L316.3,434.9 L312.9,434.3 L309.5,433.7 L305.9,433 L302.2,432.2 L298.4,431.5 L294.5,430.7 L290.5,430 L286.5,429.4 L282.4,428.8 L278.2,428.3 L274.2,428 L270.3,427.7 L266.6,427.5 L262.9,427.2 L259.2,427 L255.5,426.9 L251.7,426.8 L248,426.7 L244.3,426.7 L240.5,426.7 L236.7,426.8 L232.9,426.9 L229.1,427 L225.2,427.2 L221.3,427.5 L217.3,427.8 L213.3,428.1 L209.2,428.6 L205,429.1 L200.8,429.7 L196.5,430.3 L192.2,431 L187.9,431.8 L183.6,432.5 L179.3,433.3 L175,434.2 L170.7,435 L166.5,435.9 L162.3,436.8 L158.2,437.7 L154.2,438.6 L150.2,439.5 L146.3,440.4 L142.4,441.4 L138.6,442.5 L134.9,443.5 L131.3,444.6 L127.7,445.7 L124.3,446.9 L120.8,448 L117.5,449.1 L114.2,450.2 L110.9,451.3 L107.6,452.4 L104.3,453.5 L101.1,454.5 L97.8,455.5 L94.5,456.5 L91.2,457.5 L87.7,458.6 L84.3,459.7 L80.7,460.7 L77.2,461.8 L73.6,462.8 L70,463.9 L66.4,464.9 L62.7,466 L59,467 L55.4,468 L51.7,469.1 L48,470.1 L44.3,471.2 L40.6,472.2 L36.9,473.3 L33.2,474.3Z" fill="#d6ecfa"/>
<ellipse cx="178.8" cy="409.5" rx="25.6" ry="14.1" transform="rotate(-8.0 178.8 409.5)" fill="#20265a"/>
<path d="M139.6,276.3 L139.9,279.7 L140.2,283.2 L140.5,286.6 L140.8,290.1 L141.1,293.5 L141.4,297 L141.6,300.5 L141.9,304 L142.2,307.5 L142.5,311 L142.8,314.6 L143.2,318.2 L143.5,321.8 L143.9,325.5 L144.3,329.2 L144.7,332.9 L145.1,336.7 L145.6,340.5 L146.1,344.4 L146.6,348.3 L147.1,352.2 L147.6,356.1 L148.2,360 L148.7,363.9 L149.3,367.8 L149.8,371.6 L150.3,375.4 L150.8,379.2 L151.4,382.9 L151.8,386.5 L152.3,390 L152.7,393.4 L153.2,396.8 L153.6,400.1 L154,403.3 L154.4,406.5 L154.8,409.7 L155.1,412.8 L202.4,406.2 L201.9,403.1 L201.4,399.9 L200.9,396.7 L200.4,393.4 L199.8,390 L199.3,386.6 L198.7,383.1 L198.1,379.4 L197.4,375.8 L196.8,372 L196.1,368.3 L195.5,364.5 L194.8,360.7 L194.2,356.8 L193.5,353 L192.9,349.2 L192.2,345.4 L191.6,341.6 L191,337.9 L190.4,334.2 L189.8,330.6 L189.3,327.1 L188.8,323.6 L188.3,320.2 L187.9,316.7 L187.4,313.3 L187,309.8 L186.5,306.4 L186.1,303 L185.7,299.5 L185.3,296.1 L184.9,292.7 L184.5,289.2 L184.1,285.7 L183.7,282.3 L183.2,278.8 L182.8,275.2 L182.4,271.7Z" fill="#8fcdef" stroke="#20265a" stroke-width="3.4"/>
<ellipse cx="178.8" cy="409.5" rx="22.2" ry="12.2" transform="rotate(-8.0 178.8 409.5)" fill="#8fcdef"/>
<path d="M146.1,275.6 L146.4,279.1 L146.7,282.5 L147,286 L147.3,289.4 L147.5,292.9 L147.8,296.3 L148.1,299.8 L148.4,303.3 L148.7,306.8 L149,310.3 L149.3,313.9 L149.6,317.5 L150,321.1 L150.3,324.7 L150.7,328.4 L151.1,332.1 L151.6,335.8 L152,339.6 L152.5,343.5 L153,347.3 L153.5,351.2 L154.1,355.1 L154.6,359 L155.1,362.9 L155.7,366.8 L156.2,370.6 L156.7,374.4 L157.3,378.2 L157.8,381.9 L158.3,385.5 L158.7,389 L159.2,392.5 L159.6,395.8 L160,399.2 L160.4,402.4 L160.8,405.6 L161.2,408.8 L161.6,411.9 L196,407.1 L195.5,404 L195,400.8 L194.5,397.6 L193.9,394.3 L193.4,391 L192.8,387.5 L192.2,384 L191.6,380.4 L191,376.8 L190.4,373 L189.7,369.3 L189.1,365.5 L188.4,361.7 L187.7,357.8 L187.1,354 L186.4,350.2 L185.8,346.4 L185.2,342.6 L184.6,338.8 L184,335.1 L183.4,331.5 L182.9,327.9 L182.4,324.4 L181.9,320.9 L181.4,317.4 L180.9,314 L180.5,310.5 L180.1,307.1 L179.6,303.6 L179.2,300.2 L178.8,296.7 L178.4,293.3 L178,289.8 L177.6,286.4 L177.2,282.9 L176.8,279.4 L176.4,275.9 L175.9,272.4Z" fill="#d6ecfa"/>
<ellipse cx="178.8" cy="409.5" rx="17.4" ry="9.6" transform="rotate(-8.0 178.8 409.5)" fill="#d6ecfa"/></g>
<g clip-path="url(#cpR3)"><path d="M41.7,510.3 L45.4,509.7 L49.1,509 L52.9,508.3 L56.6,507.6 L60.4,507 L64.1,506.3 L67.9,505.6 L71.7,504.9 L75.5,504.3 L79.3,503.6 L83.1,502.8 L86.9,502.1 L90.7,501.4 L94.5,500.6 L98.3,499.9 L102.2,499.1 L106,498.1 L109.8,497.1 L113.5,496.1 L117,495.1 L120.5,494.1 L124,493 L127.4,492 L130.7,491.1 L133.9,490.1 L137.2,489.2 L140.4,488.3 L143.6,487.4 L146.8,486.6 L150,485.7 L153.3,485 L156.7,484.2 L160.3,483.4 L164.1,482.5 L167.9,481.7 L171.8,480.8 L175.8,480 L179.8,479.1 L183.8,478.3 L187.8,477.5 L191.8,476.8 L195.7,476.1 L199.6,475.4 L203.5,474.8 L207.3,474.2 L211,473.7 L214.6,473.2 L218.1,472.8 L221.6,472.4 L225,472.1 L228.4,471.7 L231.8,471.4 L235.1,471.2 L238.4,471 L241.7,470.8 L244.9,470.7 L248.2,470.6 L251.4,470.5 L254.7,470.5 L257.9,470.5 L261.2,470.6 L264.4,470.7 L267.7,470.8 L270.8,470.9 L273.6,471.2 L276.4,471.6 L279.4,472.2 L282.5,472.8 L285.9,473.5 L289.3,474.3 L292.9,475.1 L296.6,476 L300.4,476.9 L304.4,477.7 L308.4,478.6 L312.5,479.3 L316.8,480 L321.2,480.5 L325.8,480.9 L330.6,481 L335.3,480.8 L339.8,480.4 L344,479.7 L348,478.9 L351.8,477.9 L355.2,476.9 L358.3,475.9 L361.1,474.9 L363.6,474 L365.8,473.1 L367.8,472.4 L369.6,471.9 L371.2,471.4 L372.6,471 L373.9,470.7 L375.5,470.5 L377.8,470.1 L380.4,469.7 L383,469.3 L385.8,468.9 L388.6,468.5 L391.5,468.2 L394.4,467.9 L397.3,467.6 L400.3,467.3 L403.3,467 L406.3,466.8 L409.3,466.6 L412.3,466.4 L415.2,466.2 L418.2,466.1 L421,466 L423.9,465.8 L426.8,465.7 L429.8,465.6 L432.7,465.5 L435.7,465.5 L438.7,465.4 L441.7,465.4 L444.7,465.5 L447.6,465.5 L450.6,465.6 L453.4,465.6 L456.3,465.7 L459.1,465.9 L461.9,466 L464.5,466.2 L467.1,466.4 L469.5,466.4 L471.7,466.5 L474,466.7 L476.3,466.8 L478.5,467 L480.8,467.3 L483.1,467.5 L485.5,467.8 L487.9,468.1 L490.3,468.4 L492.8,468.8 L495.4,469.1 L498,469.5 L500.7,469.9 L503.5,470.2 L506.2,470.6 L515.8,419.4 L513.4,418.8 L511.2,418.2 L508.9,417.5 L506.5,416.8 L504.1,416.1 L501.7,415.4 L499.2,414.7 L496.6,413.9 L494,413.2 L491.2,412.5 L488.4,411.8 L485.5,411.1 L482.5,410.4 L479.4,409.8 L476.2,409.2 L472.9,408.6 L469.7,408.3 L466.5,407.9 L463.3,407.6 L460,407.4 L456.6,407.1 L453.3,406.9 L449.9,406.7 L446.5,406.5 L443,406.3 L439.6,406.2 L436.1,406.1 L432.7,406 L429.2,406 L425.8,406 L422.4,406 L419,406 L415.6,406.2 L412.1,406.3 L408.7,406.5 L405.3,406.7 L401.8,407 L398.3,407.2 L394.9,407.5 L391.4,407.9 L388,408.2 L384.6,408.6 L381.2,409 L377.8,409.4 L374.5,409.9 L371.2,410.4 L367.9,410.9 L364.5,411.5 L360.6,412.4 L356.7,413.4 L353.1,414.6 L349.8,415.7 L346.8,416.9 L344.2,418 L341.8,419 L339.8,419.9 L338,420.6 L336.4,421.2 L335.1,421.7 L333.9,422.1 L332.8,422.5 L331.7,422.7 L330.6,422.9 L329.4,423 L328,423.1 L326.2,423 L324,422.8 L321.4,422.5 L318.6,422.1 L315.5,421.6 L312.1,421 L308.6,420.3 L304.9,419.5 L301.1,418.8 L297,418 L292.9,417.2 L288.6,416.5 L284.2,415.9 L279.6,415.4 L275.2,415.1 L271.1,414.8 L267.2,414.5 L263.4,414.2 L259.6,414.1 L255.7,413.9 L251.8,413.8 L248,413.7 L244.1,413.7 L240.1,413.7 L236.2,413.8 L232.3,413.9 L228.3,414 L224.2,414.3 L220.2,414.5 L216.1,414.8 L211.9,415.2 L207.6,415.6 L203.3,416.2 L198.9,416.8 L194.5,417.5 L190.1,418.2 L185.7,419 L181.3,419.8 L176.9,420.6 L172.5,421.4 L168.1,422.3 L163.8,423.2 L159.6,424.1 L155.4,425 L151.3,425.9 L147.3,426.9 L143.3,427.8 L139.3,428.8 L135.3,429.9 L131.5,431 L127.7,432.1 L124,433.3 L120.5,434.4 L117,435.6 L113.6,436.7 L110.2,437.8 L107,438.9 L103.7,440 L100.6,441 L97.4,442 L94.2,443 L91.1,444 L87.8,444.9 L84.5,446 L81.1,447.1 L77.6,448.1 L74.1,449.2 L70.6,450.2 L67,451.2 L63.4,452.3 L59.8,453.3 L56.1,454.3 L52.5,455.4 L48.8,456.4 L45.1,457.5 L41.4,458.5 L37.7,459.5 L33.9,460.6 L30.3,461.7Z" fill="#fdfbea" stroke="#20265a" stroke-width="3.8"/>
<path d="M40.2,504 L44,503.3 L47.7,502.6 L51.4,502 L55.2,501.3 L58.9,500.6 L62.7,500 L66.5,499.3 L70.3,498.6 L74,497.9 L77.8,497.2 L81.6,496.5 L85.4,495.8 L89.2,495.1 L93,494.3 L96.7,493.6 L100.5,492.8 L104.3,491.8 L108,490.9 L111.6,489.9 L115.1,488.9 L118.6,487.8 L122,486.8 L125.4,485.8 L128.7,484.9 L132,483.9 L135.3,483 L138.5,482 L141.8,481.1 L145.1,480.3 L148.4,479.5 L151.7,478.7 L155.2,477.9 L158.8,477 L162.6,476.2 L166.5,475.3 L170.5,474.5 L174.5,473.6 L178.5,472.8 L182.5,471.9 L186.5,471.2 L190.6,470.4 L194.6,469.7 L198.6,469 L202.5,468.4 L206.4,467.8 L210.1,467.2 L213.8,466.8 L217.4,466.4 L220.9,466 L224.5,465.6 L227.9,465.2 L231.4,465 L234.8,464.7 L238.2,464.5 L241.5,464.3 L244.8,464.2 L248.2,464.1 L251.5,464 L254.8,464 L258.1,464 L261.4,464.1 L264.8,464.2 L268.1,464.3 L271.3,464.4 L274.3,464.8 L277.3,465.2 L280.4,465.7 L283.7,466.4 L287.2,467.1 L290.7,467.9 L294.3,468.8 L298,469.6 L301.8,470.5 L305.6,471.4 L309.5,472.2 L313.5,472.9 L317.6,473.5 L321.8,474.1 L326.1,474.4 L330.4,474.5 L334.7,474.3 L338.9,473.9 L342.8,473.4 L346.5,472.6 L349.9,471.7 L353.1,470.8 L356,469.8 L358.7,468.8 L361.2,467.9 L363.5,467.1 L365.5,466.4 L367.4,465.7 L369.2,465.2 L370.9,464.8 L372.5,464.4 L374.3,464.1 L376.7,463.7 L379.4,463.3 L382.1,462.9 L384.9,462.5 L387.8,462.1 L390.7,461.7 L393.7,461.4 L396.7,461.1 L399.7,460.8 L402.7,460.6 L405.8,460.3 L408.8,460.1 L411.9,459.9 L414.9,459.7 L417.9,459.6 L420.8,459.5 L423.8,459.3 L426.7,459.2 L429.7,459.1 L432.7,459 L435.8,459 L438.8,458.9 L441.8,458.9 L444.9,459 L447.9,459 L450.9,459.1 L453.8,459.1 L456.7,459.3 L459.6,459.4 L462.4,459.5 L465.1,459.7 L467.7,459.9 L470.2,460 L472.6,460.1 L475,460.2 L477.3,460.4 L479.7,460.6 L482,460.9 L484.4,461.1 L486.8,461.4 L489.2,461.8 L491.7,462.1 L494.2,462.4 L496.7,462.8 L499.3,463.1 L502,463.5 L504.7,463.9 L507.4,464.2 L514.6,425.8 L512.2,425.2 L509.9,424.5 L507.5,423.9 L505.2,423.2 L502.8,422.5 L500.3,421.8 L497.9,421 L495.3,420.3 L492.7,419.6 L490,418.9 L487.3,418.2 L484.4,417.5 L481.5,416.8 L478.5,416.2 L475.4,415.6 L472.3,415.1 L469.1,414.8 L466,414.4 L462.8,414.1 L459.6,413.8 L456.3,413.6 L453,413.4 L449.6,413.2 L446.3,413 L442.9,412.8 L439.5,412.7 L436.1,412.6 L432.7,412.5 L429.3,412.5 L425.9,412.5 L422.5,412.5 L419.2,412.5 L415.8,412.6 L412.5,412.8 L409.1,413 L405.7,413.2 L402.3,413.4 L398.9,413.7 L395.5,414 L392.1,414.3 L388.7,414.7 L385.3,415.1 L382,415.5 L378.7,415.9 L375.4,416.3 L372.2,416.8 L369,417.3 L365.7,417.9 L362,418.7 L358.4,419.7 L355.1,420.8 L352,421.9 L349.1,423 L346.6,424 L344.2,425 L342.1,425.9 L340.2,426.7 L338.5,427.4 L336.9,428 L335.4,428.4 L334,428.8 L332.6,429.1 L331.2,429.4 L329.6,429.5 L327.7,429.5 L325.6,429.5 L323.1,429.3 L320.4,428.9 L317.4,428.5 L314.2,427.9 L310.8,427.3 L307.3,426.6 L303.5,425.9 L299.7,425.1 L295.8,424.4 L291.7,423.6 L287.5,423 L283.3,422.4 L278.9,421.9 L274.7,421.6 L270.7,421.2 L266.9,421 L263.1,420.7 L259.4,420.5 L255.6,420.4 L251.8,420.3 L248,420.2 L244.2,420.2 L240.3,420.2 L236.5,420.3 L232.6,420.4 L228.7,420.5 L224.7,420.7 L220.7,421 L216.7,421.3 L212.6,421.6 L208.4,422.1 L204.2,422.6 L199.9,423.2 L195.5,423.9 L191.2,424.6 L186.8,425.4 L182.4,426.1 L178.1,427 L173.7,427.8 L169.4,428.7 L165.2,429.6 L161,430.5 L156.8,431.4 L152.7,432.3 L148.8,433.2 L144.8,434.1 L140.9,435.1 L137,436.2 L133.2,437.3 L129.5,438.4 L125.9,439.5 L122.4,440.6 L118.9,441.8 L115.5,442.9 L112.2,444 L108.9,445.1 L105.7,446.2 L102.5,447.2 L99.2,448.3 L96,449.3 L92.8,450.3 L89.5,451.2 L86.1,452.3 L82.7,453.4 L79.2,454.4 L75.6,455.5 L72.1,456.5 L68.5,457.6 L64.9,458.6 L61.2,459.6 L57.6,460.7 L53.9,461.7 L50.2,462.7 L46.5,463.8 L42.8,464.8 L39.1,465.9 L35.4,466.9 L31.8,468Z" fill="#8fcdef" stroke="#20265a" stroke-width="3.4"/>
<path d="M38.8,497.7 L42.5,497 L46.2,496.3 L49.9,495.6 L53.7,495 L57.5,494.3 L61.2,493.6 L65,493 L68.8,492.3 L72.6,491.6 L76.3,490.9 L80.1,490.2 L83.9,489.5 L87.6,488.8 L91.4,488 L95.1,487.3 L98.8,486.5 L102.5,485.6 L106.2,484.6 L109.7,483.6 L113.2,482.6 L116.7,481.6 L120.1,480.6 L123.4,479.6 L126.8,478.7 L130.1,477.7 L133.4,476.7 L136.7,475.8 L140,474.9 L143.3,474 L146.7,473.2 L150.1,472.4 L153.7,471.6 L157.4,470.7 L161.2,469.8 L165.1,469 L169.1,468.1 L173.1,467.2 L177.2,466.4 L181.2,465.6 L185.3,464.8 L189.4,464 L193.5,463.3 L197.5,462.6 L201.5,461.9 L205.4,461.3 L209.3,460.8 L213,460.3 L216.7,459.9 L220.3,459.5 L223.9,459.1 L227.5,458.8 L231,458.5 L234.5,458.2 L237.9,458 L241.3,457.8 L244.7,457.7 L248.1,457.6 L251.5,457.5 L254.9,457.5 L258.3,457.5 L261.7,457.6 L265.1,457.7 L268.5,457.8 L271.8,458 L275,458.3 L278.2,458.8 L281.5,459.3 L284.9,460 L288.4,460.8 L292,461.6 L295.7,462.4 L299.4,463.3 L303.1,464.1 L306.9,465 L310.7,465.8 L314.5,466.5 L318.4,467.1 L322.3,467.6 L326.3,467.9 L330.3,468 L334.2,467.9 L338,467.5 L341.5,467 L344.9,466.3 L348.1,465.5 L351,464.6 L353.8,463.7 L356.4,462.8 L358.8,461.9 L361.1,461 L363.2,460.3 L365.3,459.6 L367.2,459 L369.1,458.5 L371,458.1 L373.1,457.7 L375.6,457.3 L378.4,456.8 L381.2,456.4 L384.1,456 L387,455.6 L390,455.3 L393,455 L396,454.6 L399.1,454.3 L402.2,454.1 L405.3,453.8 L408.4,453.6 L411.5,453.4 L414.6,453.3 L417.6,453.1 L420.6,453 L423.6,452.8 L426.6,452.7 L429.7,452.6 L432.7,452.5 L435.8,452.5 L438.9,452.4 L442,452.4 L445.1,452.5 L448.1,452.5 L451.2,452.6 L454.2,452.7 L457.1,452.8 L460,452.9 L462.9,453.1 L465.7,453.2 L468.4,453.4 L471,453.5 L473.5,453.6 L475.9,453.8 L478.4,454 L480.8,454.2 L483.3,454.5 L485.7,454.8 L488.1,455.1 L490.6,455.4 L493.1,455.7 L495.6,456.1 L498.1,456.4 L500.7,456.8 L503.3,457.1 L506,457.5 L508.6,457.8 L513.4,432.2 L511,431.6 L508.6,430.9 L506.2,430.2 L503.8,429.5 L501.4,428.8 L499,428.1 L496.5,427.4 L494,426.7 L491.4,426 L488.8,425.3 L486.1,424.6 L483.4,423.9 L480.5,423.3 L477.6,422.7 L474.6,422.1 L471.6,421.6 L468.5,421.2 L465.5,420.9 L462.3,420.6 L459.1,420.3 L455.9,420.1 L452.7,419.9 L449.4,419.7 L446.1,419.5 L442.7,419.3 L439.4,419.2 L436,419.1 L432.7,419 L429.4,419 L426,419 L422.7,419 L419.4,419 L416.1,419.1 L412.8,419.3 L409.5,419.5 L406.1,419.7 L402.8,419.9 L399.4,420.2 L396.1,420.5 L392.7,420.8 L389.4,421.1 L386.1,421.5 L382.8,421.9 L379.5,422.3 L376.3,422.8 L373.2,423.2 L370.1,423.7 L366.9,424.3 L363.5,425 L360.1,426 L357,427 L354.1,428 L351.4,429.1 L348.9,430.1 L346.6,431.1 L344.5,432 L342.5,432.8 L340.6,433.6 L338.8,434.2 L337,434.7 L335.3,435.2 L333.5,435.6 L331.7,435.8 L329.7,436 L327.5,436 L325.1,435.9 L322.3,435.7 L319.4,435.4 L316.3,434.9 L312.9,434.3 L309.5,433.7 L305.9,433 L302.2,432.2 L298.4,431.5 L294.5,430.7 L290.5,430 L286.5,429.4 L282.4,428.8 L278.2,428.3 L274.2,428 L270.3,427.7 L266.6,427.5 L262.9,427.2 L259.2,427 L255.5,426.9 L251.7,426.8 L248,426.7 L244.3,426.7 L240.5,426.7 L236.7,426.8 L232.9,426.9 L229.1,427 L225.2,427.2 L221.3,427.5 L217.3,427.8 L213.3,428.1 L209.2,428.6 L205,429.1 L200.8,429.7 L196.5,430.3 L192.2,431 L187.9,431.8 L183.6,432.5 L179.3,433.3 L175,434.2 L170.7,435 L166.5,435.9 L162.3,436.8 L158.2,437.7 L154.2,438.6 L150.2,439.5 L146.3,440.4 L142.4,441.4 L138.6,442.5 L134.9,443.5 L131.3,444.6 L127.7,445.7 L124.3,446.9 L120.8,448 L117.5,449.1 L114.2,450.2 L110.9,451.3 L107.6,452.4 L104.3,453.5 L101.1,454.5 L97.8,455.5 L94.5,456.5 L91.2,457.5 L87.7,458.6 L84.3,459.7 L80.7,460.7 L77.2,461.8 L73.6,462.8 L70,463.9 L66.4,464.9 L62.7,466 L59,467 L55.4,468 L51.7,469.1 L48,470.1 L44.3,471.2 L40.6,472.2 L36.9,473.3 L33.2,474.3Z" fill="#d6ecfa"/></g>
<path d="M342,606 L341,604.2 L340,602.4 L339,600.7 L337.9,599.1 L336.9,597.5 L335.9,595.9 L334.8,594.3 L333.8,592.6 L332.8,590.9 L331.8,589.2 L330.8,587.3 L329.8,585.3 L328.8,583.2 L327.9,581 L326.9,578.6 L326,576 L325.1,573.2 L324.2,570.4 L323.2,567.4 L322.3,564.3 L321.3,561.1 L320.4,557.7 L319.5,554.3 L318.6,550.8 L317.8,547.2 L316.9,543.5 L316.1,539.8 L315.4,535.9 L314.7,532 L314.1,528.1 L313.5,524.1 L313,520 L312.6,515.8 L312.2,511.2 L311.8,506.5 L311.5,501.6 L311.3,496.5 L311.1,491.3 L310.9,486.1 L310.8,480.9 L310.7,475.8 L310.7,470.7 L310.7,465.8 L310.7,461.1 L310.7,456.6 L310.8,452.4 L310.9,448.5 L311,445 L311.1,441.8 L311.3,438.9 L311.5,436.1 L311.7,433.6 L311.9,431.3 L312.2,429.1 L312.5,427.2 L312.9,425.3 L313.3,423.6 L313.7,422 L314.1,420.5 L314.6,419.1 L315.1,417.8 L315.7,416.5 L316.3,415.2 L317,414 L317.7,412.8 L318.5,411.8 L319.4,410.9 L320.3,410.1 L321.3,409.4 L322.3,408.7 L323.4,408.2 L324.4,407.8 L325.5,407.4 L326.6,407 L327.7,406.8 L328.8,406.5 L329.9,406.4 L331,406.2 L332,406.1 L333,406 L334,405.9 L335,406 L336,406 L337,406.2 L338,406.4 L339,406.7 L340.1,407 L341.1,407.3 L342,407.7 L343,408.1 L343.9,408.6 L344.8,409 L345.7,409.5 L346.5,410 L347.3,410.5 L348,411 L348.7,411.5 L349.3,412.1 L349.8,412.7 L350.3,413.3 L350.8,414 L351.2,414.7 L351.6,415.4 L352,416.1 L352.4,416.9 L352.7,417.6 L353.1,418.4 L353.4,419.1 L353.8,419.9 L354.2,420.6 L354.6,421.3 L355,422" fill="none" stroke="#20265a" stroke-width="12" stroke-linecap="butt" stroke-linejoin="round"/>
<path d="M342,606 L341,604.2 L340,602.4 L339,600.7 L337.9,599.1 L336.9,597.5 L335.9,595.9 L334.8,594.3 L333.8,592.6 L332.8,590.9 L331.8,589.2 L330.8,587.3 L329.8,585.3 L328.8,583.2 L327.9,581 L326.9,578.6 L326,576 L325.1,573.2 L324.2,570.4 L323.2,567.4 L322.3,564.3 L321.3,561.1 L320.4,557.7 L319.5,554.3 L318.6,550.8 L317.8,547.2 L316.9,543.5 L316.1,539.8 L315.4,535.9 L314.7,532 L314.1,528.1 L313.5,524.1 L313,520 L312.6,515.8 L312.2,511.2 L311.8,506.5 L311.5,501.6 L311.3,496.5 L311.1,491.3 L310.9,486.1 L310.8,480.9 L310.7,475.8 L310.7,470.7 L310.7,465.8 L310.7,461.1 L310.7,456.6 L310.8,452.4 L310.9,448.5 L311,445 L311.1,441.8 L311.3,438.9 L311.5,436.1 L311.7,433.6 L311.9,431.3 L312.2,429.1 L312.5,427.2 L312.9,425.3 L313.3,423.6 L313.7,422 L314.1,420.5 L314.6,419.1 L315.1,417.8 L315.7,416.5 L316.3,415.2 L317,414 L317.7,412.8 L318.5,411.8 L319.4,410.9 L320.3,410.1 L321.3,409.4 L322.3,408.7 L323.4,408.2 L324.4,407.8 L325.5,407.4 L326.6,407 L327.7,406.8 L328.8,406.5 L329.9,406.4 L331,406.2 L332,406.1 L333,406 L334,405.9 L335,406 L336,406 L337,406.2 L338,406.4 L339,406.7 L340.1,407 L341.1,407.3 L342,407.7 L343,408.1 L343.9,408.6 L344.8,409 L345.7,409.5 L346.5,410 L347.3,410.5 L348,411 L348.7,411.5 L349.3,412.1 L349.8,412.7 L350.3,413.3 L350.8,414 L351.2,414.7 L351.6,415.4 L352,416.1 L352.4,416.9 L352.7,417.6 L353.1,418.4 L353.4,419.1 L353.8,419.9 L354.2,420.6 L354.6,421.3 L355,422" fill="none" stroke="#fdfbea" stroke-width="6.5" stroke-linecap="butt" stroke-linejoin="round"/>
<path d="M167.2,320.1 L167.3,323.2 L167.4,326.4 L167.4,329.6 L167.5,332.8 L167.5,336 L167.6,339.2 L167.6,342.4 L167.7,345.7 L167.8,348.8 L167.9,352 L167.9,355.2 L168.1,358.3 L168.2,361.4 L168.3,364.4 L168.5,367.4 L168.7,370.3 L169,373.1 L169.2,375.9 L169.5,378.7 L169.8,381.3 L170.2,384 L170.5,386.6 L172.4,397.9 L179.3,396.7 L177.4,385.5 L177,383 L176.6,380.4 L176.2,377.8 L175.9,375.2 L175.6,372.5 L175.3,369.7 L175,366.9 L174.8,364 L174.6,361 L174.4,358 L174.2,354.9 L174.1,351.8 L173.9,348.6 L173.8,345.5 L173.7,342.3 L173.6,339.1 L173.4,335.9 L173.3,332.6 L173.2,329.4 L173.1,326.2 L172.9,323 L172.8,319.9Z" fill="#20265a" stroke="#20265a" stroke-width="0.6" stroke-linejoin="round"/><path d="M178,411 L162.4,389.1 L175.7,396.3 L186.1,385.4Z" fill="#20265a" stroke="#20265a" stroke-width="0.8" stroke-linejoin="round"/>
<path d="M162,472 C158,520 150,600 144,700 L141,880" fill="none" stroke="#20265a" stroke-width="8.5" stroke-linecap="round"/>
<path d="M161.3,469.2 L160.5,469.4 L159.8,469.6 L159.1,469.7 L158.5,469.9 L157.9,470.1 L157.4,470.3 L156.8,470.5 L156.2,470.6 L155.7,470.8 L155.1,471 L154.4,471.1 L153.6,471.3 L152.8,471.5 L151.8,471.6 L150.8,471.8 L149.6,472 L148.3,472.2 L146.9,472.3 L145.5,472.5 L144.1,472.6 L142.6,472.8 L141,472.9 L139.3,473.1 L137.5,473.2 L135.7,473.4 L133.7,473.5 L131.7,473.7 L129.5,473.9 L127.3,474.1 L124.9,474.3 L122.3,474.6 L119.7,474.8 L116.9,475.1 L113.8,475.4 L110.7,475.8 L107.3,476.1 L103.8,476.5 L100.3,476.8 L96.6,477.2 L92.8,477.6 L89.1,478 L85.2,478.4 L75.2,479.4 L75.9,485.9 L85.9,484.8 L89.7,484.4 L93.5,484 L97.3,483.6 L100.9,483.2 L104.5,482.8 L108,482.5 L111.3,482.1 L114.5,481.8 L117.5,481.5 L120.3,481.2 L123,480.9 L125.5,480.6 L127.9,480.4 L130.1,480.2 L132.3,480 L134.3,479.8 L136.2,479.6 L138.1,479.4 L139.9,479.2 L141.5,479.1 L143.2,478.9 L144.7,478.7 L146.2,478.6 L147.7,478.4 L149.1,478.2 L150.4,478 L151.7,477.8 L152.9,477.6 L153.9,477.4 L154.9,477.2 L155.8,477 L156.6,476.8 L157.3,476.6 L158,476.4 L158.6,476.1 L159.2,475.9 L159.8,475.7 L160.3,475.6 L160.9,475.4 L161.5,475.2 L162.1,475 L162.7,474.8Z" fill="#20265a" stroke="#20265a" stroke-width="0.6" stroke-linejoin="round"/><path d="M63,484 L83.6,469.8 L76.6,482.6 L86.1,493.6Z" fill="#20265a" stroke="#20265a" stroke-width="0.8" stroke-linejoin="round"/>
<path d="M163.6,474.5 L164.2,474 L164.9,473.6 L165.5,473.1 L166,472.6 L166.5,472.2 L167,471.8 L167.4,471.5 L167.8,471.1 L168.2,470.8 L168.6,470.5 L169,470.3 L169.6,470 L170.2,469.7 L170.9,469.5 L171.7,469.2 L172.7,469 L173.8,468.7 L175,468.5 L176.3,468.3 L177.7,468.1 L179.1,467.9 L180.6,467.7 L182.2,467.6 L183.9,467.4 L185.6,467.3 L187.4,467.1 L189.3,467 L191.3,466.8 L193.4,466.7 L195.6,466.5 L197.9,466.3 L200.2,466.2 L202.7,466 L205.3,465.8 L208.1,465.6 L211,465.4 L214,465.3 L217,465.1 L220.2,464.9 L223.4,464.7 L226.6,464.5 L236.6,464 L236.2,457.5 L226.2,458.1 L223,458.3 L219.8,458.5 L216.6,458.7 L213.6,458.9 L210.6,459.1 L207.7,459.2 L204.9,459.4 L202.3,459.6 L199.8,459.8 L197.4,460 L195.1,460.2 L193,460.4 L190.9,460.5 L188.8,460.7 L186.9,460.9 L185.1,461 L183.3,461.2 L181.6,461.4 L179.9,461.6 L178.3,461.8 L176.8,462 L175.3,462.2 L173.9,462.5 L172.6,462.7 L171.3,463 L170,463.4 L168.9,463.7 L167.9,464.1 L166.9,464.6 L166.1,465 L165.3,465.5 L164.6,466 L164,466.5 L163.4,467 L163,467.4 L162.5,467.8 L162.1,468.2 L161.7,468.6 L161.3,468.9 L160.9,469.2 L160.4,469.5Z" fill="#20265a" stroke="#20265a" stroke-width="0.6" stroke-linejoin="round"/><path d="M249,460 L227.7,473.3 L235.4,460.8 L226.3,449.3Z" fill="#20265a" stroke="#20265a" stroke-width="0.8" stroke-linejoin="round"/>
<path d="M182.5,433.1 L182.1,434 L181.9,435 L181.7,436 L181.6,436.9 L181.5,437.8 L181.5,438.6 L181.4,439.4 L181.3,440 L181.2,440.6 L181.1,441.1 L180.9,441.6 L180.7,442 L180.4,442.3 L180,442.7 L179.5,443.1 L178.7,443.5 L177.8,443.9 L176.8,444.3 L175.7,444.6 L174.4,444.9 L173.1,445.1 L171.7,445.4 L170.1,445.6 L168.4,445.8 L166.6,446.1 L164.6,446.3 L162.5,446.5 L160.2,446.8 L157.8,447 L155.2,447.3 L152.5,447.7 L149.6,448.1 L146.5,448.6 L143.1,449 L139.6,449.5 L135.8,450 L131.9,450.6 L127.8,451.1 L123.6,451.7 L119.3,452.3 L114.9,452.9 L110.5,453.5 L97.1,455.3 L97.9,461.3 L111.3,459.4 L115.7,458.8 L120.1,458.2 L124.4,457.6 L128.6,457 L132.7,456.4 L136.6,455.9 L140.4,455.4 L144,454.8 L147.3,454.4 L150.4,453.9 L153.3,453.5 L156,453.1 L158.5,452.8 L160.9,452.5 L163.1,452.2 L165.2,452 L167.2,451.8 L169.1,451.5 L170.9,451.3 L172.6,451 L174.2,450.7 L175.7,450.4 L177.2,450 L178.6,449.6 L179.9,449.1 L181.3,448.5 L182.5,447.8 L183.6,447 L184.6,446 L185.3,445 L185.9,444 L186.3,442.9 L186.6,441.8 L186.8,440.8 L186.9,439.9 L187,439 L187,438.2 L187.1,437.4 L187.1,436.7 L187.2,436.1 L187.3,435.5 L187.5,434.9Z" fill="#20265a" stroke="#20265a" stroke-width="0.6" stroke-linejoin="round"/><path d="M85,460 L105.2,445.1 L98.5,458.1 L108.4,468.9Z" fill="#20265a" stroke="#20265a" stroke-width="0.8" stroke-linejoin="round"/>
<path d="M182.6,435.2 L182.8,435.6 L182.9,436 L183,436.4 L183.1,437 L183.2,437.6 L183.3,438.3 L183.4,439 L183.6,439.8 L183.8,440.6 L184.1,441.5 L184.6,442.4 L185.2,443.3 L186,444.1 L187,444.8 L188.1,445.3 L189.3,445.7 L190.5,446 L191.7,446.2 L193,446.3 L194.3,446.4 L195.6,446.4 L197.1,446.3 L198.5,446.3 L200.1,446.2 L201.7,446.1 L203.4,445.9 L205.2,445.8 L207,445.6 L208.9,445.4 L210.9,445.2 L213,445.1 L215.2,444.9 L217.6,444.8 L220.1,444.6 L222.7,444.4 L225.4,444.2 L228.3,443.9 L231.3,443.7 L234.3,443.4 L237.4,443.2 L249.7,442.1 L249.1,436.1 L236.9,437.2 L233.8,437.5 L230.8,437.8 L227.8,438 L225,438.3 L222.2,438.5 L219.6,438.7 L217.1,438.9 L214.8,439.1 L212.6,439.2 L210.4,439.4 L208.4,439.6 L206.5,439.8 L204.6,440 L202.9,440.2 L201.2,440.3 L199.7,440.4 L198.2,440.6 L196.8,440.6 L195.6,440.7 L194.4,440.7 L193.3,440.6 L192.4,440.6 L191.5,440.4 L190.7,440.3 L190.2,440.1 L189.8,439.9 L189.6,439.8 L189.5,439.6 L189.3,439.5 L189.2,439.2 L189.1,438.9 L188.9,438.5 L188.8,438 L188.7,437.4 L188.6,436.7 L188.5,436 L188.3,435.2 L188.1,434.4 L187.8,433.6 L187.4,432.8Z" fill="#20265a" stroke="#20265a" stroke-width="0.6" stroke-linejoin="round"/><path d="M262,438 L241.1,451.9 L248.4,439.2 L239,427.9Z" fill="#20265a" stroke="#20265a" stroke-width="0.8" stroke-linejoin="round"/>
<path d="M145.5,650.7 L146,649 L146.4,647.4 L146.7,645.7 L147.1,644 L147.4,642.3 L147.7,640.6 L148,638.9 L148.4,637.3 L148.7,635.7 L149.1,634.2 L149.5,632.7 L150,631.3 L150.5,630 L151,628.8 L151.7,627.7 L152.4,626.6 L153.1,625.6 L154,624.6 L154.9,623.7 L155.9,622.8 L156.9,621.9 L158,621 L159.2,620.2 L160.4,619.5 L161.6,618.8 L162.8,618.1 L164.1,617.4 L165.4,616.9 L166.8,616.3 L168.1,615.8 L169.5,615.4 L170.8,615 L172.1,614.7 L173.5,614.5 L174.9,614.4 L176.4,614.3 L178,614.3 L179.4,614.3 L187.8,614.9 L188.3,608.4 L179.8,607.8 L177.9,607.8 L176.1,607.9 L174.3,608 L172.6,608.2 L170.9,608.6 L169.2,609 L167.6,609.5 L166,610 L164.5,610.6 L163,611.2 L161.5,612 L160,612.7 L158.6,613.5 L157.1,614.4 L155.8,615.3 L154.4,616.3 L153.2,617.3 L151.9,618.4 L150.8,619.6 L149.7,620.8 L148.6,622 L147.6,623.4 L146.7,624.8 L146,626.3 L145.3,627.9 L144.7,629.5 L144.2,631.1 L143.7,632.8 L143.4,634.5 L143,636.2 L142.7,637.9 L142.4,639.6 L142.1,641.3 L141.8,643 L141.5,644.6 L141.2,646.2 L140.9,647.8 L140.5,649.3Z" fill="#20265a" stroke="#20265a" stroke-width="0.6" stroke-linejoin="round"/><path d="M197,612 L180.6,622.4 L187.1,611.6 L181.4,600.4Z" fill="#20265a" stroke="#20265a" stroke-width="0.8" stroke-linejoin="round"/>
<path d="M292.5,537.9 L292.4,535.5 L292.3,533.2 L292.3,530.8 L292.2,528.4 L292.1,526.1 L292,523.7 L291.9,521.4 L291.8,519 L291.7,516.6 L291.6,514.3 L291.6,511.9 L291.5,509.5 L291.5,507.2 L291.4,504.8 L291.4,502.4 L291.5,500 L291.5,497.5 L291.6,495.1 L291.6,492.7 L291.7,490.2 L291.9,487.7 L292,485.2 L292.1,482.7 L292.3,480.2 L292.6,471.5 L286.7,471.3 L286.4,480 L286.4,482.5 L286.3,485.1 L286.3,487.6 L286.3,490.1 L286.4,492.6 L286.4,495.1 L286.5,497.6 L286.5,500 L286.6,502.5 L286.8,504.9 L286.9,507.3 L287.1,509.7 L287.2,512.1 L287.4,514.5 L287.6,516.9 L287.8,519.2 L288,521.6 L288.3,524 L288.5,526.3 L288.7,528.7 L288.9,531 L289.1,533.4 L289.3,535.7 L289.5,538.1Z" fill="#c62229" stroke="#c62229" stroke-width="0.6" stroke-linejoin="round"/><path d="M290,460 L301.4,480.4 L289.6,472.4 L277.4,479.6Z" fill="#c62229" stroke="#c62229" stroke-width="0.8" stroke-linejoin="round"/>
<path d="M227.5,661.5 L228.8,663.7 L230.1,666 L231.4,668.3 L232.6,670.6 L233.9,673 L235.2,675.4 L236.4,677.8 L237.7,680.2 L239,682.5 L240.4,684.9 L241.8,687.2 L243.3,689.4 L244.8,691.5 L246.4,693.5 L248.2,695.4 L250,697.2 L251.9,698.9 L253.9,700.5 L256,702 L258.2,703.5 L260.4,704.9 L262.7,706.3 L265,707.5 L267.4,708.7 L269.8,709.7 L272.1,710.7 L274.4,711.5 L276.7,712.1 L279,712.6 L281.1,713 L283.2,713.1 L285.3,713.1 L287.2,712.8 L289.1,712.3 L290.9,711.7 L292.7,710.9 L294.4,710 L296,708.9 L297.6,707.6 L299,706.2 L300.4,704.7 L301.7,703 L302.9,701.3 L304,699.4 L304.9,697.3 L305.8,695.2 L306.5,693 L307.1,690.6 L307.5,688 L307.7,685.2 L307.8,682.2 L307.7,679.1 L307.5,675.8 L307.3,672.4 L306.9,669 L306.5,665.5 L306,662 L305.5,658.5 L305,655 L304.6,651.6 L304.1,648.4 L303.7,645.3 L303.4,642.4 L303.2,639.7 L303,637.2 L302.9,634.8 L302.7,632.4 L302.6,630.2 L302.5,628 L302.3,625.9 L302.2,623.8 L301.8,616 L295.3,616.3 L295.7,624.2 L295.9,626.3 L296,628.4 L296.1,630.6 L296.3,632.8 L296.4,635.2 L296.6,637.7 L296.8,640.3 L297,643.1 L297.4,646.1 L297.8,649.2 L298.2,652.5 L298.7,655.9 L299.2,659.3 L299.7,662.8 L300.2,666.3 L300.6,669.7 L300.9,673 L301.2,676.3 L301.4,679.4 L301.5,682.3 L301.4,684.9 L301.3,687.3 L300.9,689.4 L300.5,691.3 L299.9,693.1 L299.2,694.9 L298.4,696.5 L297.6,698 L296.6,699.4 L295.6,700.7 L294.6,701.9 L293.5,703 L292.3,703.9 L291.1,704.7 L289.9,705.4 L288.6,706 L287.3,706.4 L286,706.7 L284.7,706.9 L283.4,707 L281.8,706.9 L280.1,706.6 L278.2,706.2 L276.3,705.7 L274.2,705 L272.1,704.1 L270,703.2 L267.8,702.1 L265.7,701 L263.5,699.8 L261.5,698.5 L259.4,697.1 L257.5,695.7 L255.7,694.2 L254,692.8 L252.5,691.3 L251,689.6 L249.6,687.9 L248.2,686 L246.8,683.9 L245.5,681.8 L244.2,679.6 L242.9,677.3 L241.6,675 L240.4,672.6 L239.1,670.2 L237.8,667.8 L236.5,665.4 L235.2,663.1 L233.9,660.7 L232.5,658.5Z" fill="#c62229" stroke="#c62229" stroke-width="0.6" stroke-linejoin="round"/><path d="M298,606 L311,623.3 L298.6,617.1 L287,624.6Z" fill="#c62229" stroke="#c62229" stroke-width="0.8" stroke-linejoin="round"/>
<path d="M392.7,537.1 L388.8,537.4 L384.8,537.8 L380.7,538.1 L376.6,538.5 L372.5,538.8 L368.4,539.1 L364.3,539.5 L360.2,539.8 L356.1,540.1 L352.1,540.5 L348.1,540.9 L344.2,541.3 L340.4,541.7 L336.7,542.1 L333.1,542.5 L329.6,543 L326.2,543.5 L322.9,544 L319.8,544.5 L316.7,545 L313.7,545.5 L310.7,546 L307.8,546.6 L305,547.2 L302.2,547.7 L299.4,548.4 L296.7,549 L294,549.8 L291.2,550.5 L288.5,551.3 L285.8,552.2 L283,553.1 L280.2,554.1 L277.4,555.1 L274.5,556.3 L271.7,557.5 L268.9,558.7 L266.1,560 L263.3,561.3 L260.6,562.6 L257.9,563.9 L255.2,565.3 L252.7,566.7 L250.2,568 L247.8,569.4 L245.5,570.7 L243.3,572.1 L241.3,573.4 L239.4,574.6 L237.5,575.9 L235.7,577.1 L234.1,578.3 L232.4,579.6 L230.9,580.8 L229.4,582 L228,583.3 L226.7,584.6 L225.4,585.9 L224.2,587.2 L223.1,588.6 L222,590 L221,591.4 L220.1,592.9 L219.2,594.5 L218.3,596.2 L217.6,597.9 L217.1,599.6 L216.6,601.4 L216.3,603.4 L215.8,611.7 L222.3,612.1 L222.7,603.9 L223,602.8 L223.3,601.4 L223.7,600 L224.2,598.8 L224.8,597.5 L225.6,596.2 L226.4,595 L227.2,593.8 L228.1,592.6 L229.1,591.4 L230.1,590.2 L231.2,589.1 L232.4,588 L233.6,586.8 L234.9,585.7 L236.3,584.5 L237.8,583.4 L239.4,582.2 L241.1,581.1 L242.9,579.9 L244.7,578.6 L246.7,577.4 L248.7,576.1 L251,574.8 L253.3,573.5 L255.7,572.2 L258.1,570.8 L260.7,569.5 L263.3,568.2 L266,566.9 L268.7,565.6 L271.4,564.3 L274.1,563.1 L276.9,562 L279.6,560.9 L282.3,559.9 L285,558.9 L287.7,558 L290.3,557.2 L292.9,556.4 L295.5,555.7 L298.2,555 L300.8,554.3 L303.5,553.7 L306.2,553.1 L309,552.5 L311.8,552 L314.7,551.5 L317.7,551 L320.7,550.5 L323.9,550 L327.1,549.5 L330.4,549 L333.9,548.5 L337.4,548 L341.1,547.6 L344.9,547.2 L348.7,546.8 L352.7,546.4 L356.6,546.1 L360.7,545.7 L364.8,545.4 L368.9,545 L373,544.7 L377.1,544.3 L381.2,544 L385.3,543.6 L389.3,543.3 L393.3,542.9Z" fill="#c62229" stroke="#c62229" stroke-width="0.6" stroke-linejoin="round"/><path d="M218,622 L205.9,602.7 L219.1,610.9 L233.8,605.5Z" fill="#c62229" stroke="#c62229" stroke-width="0.8" stroke-linejoin="round"/>
<path d="M401.5,563.3 L400.5,563.5 L399.4,563.7 L398.3,563.9 L397.3,564 L396.2,564.2 L395.2,564.4 L394.1,564.5 L393.1,564.7 L392,564.9 L391,565.1 L389.9,565.2 L388.8,565.4 L387.7,565.6 L386.7,565.7 L385.6,565.9 L384.5,566.1 L383.4,566.3 L382.3,566.4 L375.3,567.6 L376.3,573.5 L383.3,572.3 L384.4,572.1 L385.5,571.9 L386.6,571.7 L387.7,571.5 L388.7,571.3 L389.8,571.1 L390.9,570.9 L391.9,570.7 L393,570.5 L394.1,570.3 L395.1,570.1 L396.2,569.9 L397.2,569.7 L398.3,569.5 L399.3,569.3 L400.4,569.1 L401.4,568.9 L402.5,568.7Z" fill="#c62229" stroke="#c62229" stroke-width="0.6" stroke-linejoin="round"/><path d="M367,572 L381.1,559.5 L376.8,570.4 L384.4,579.2Z" fill="#c62229" stroke="#c62229" stroke-width="0.8" stroke-linejoin="round"/>
<path d="M186,585 L228,570 M193,574 L200,590 M203,570 L210,586 M213,566 L220,582" stroke="#20265a" stroke-width="3" fill="none"/>
<path d="M182,638 L212,663 M186,653 L199,641 M193,660 L206,648 M200,667 L213,655" stroke="#20265a" stroke-width="3" fill="none"/>
<path d="M563,397 V439 H494" fill="none" stroke="#111" stroke-width="2.2"/></g>
<path d="M1576,748 V870" stroke="#111" stroke-width="2.2"/>
<g transform="translate(30.5,0) scale(0.9556541019955654,1) translate(-30.5,0)"><text x="29.5" y="77" font-family="Liberation Sans, sans-serif" font-size="63" font-weight="bold" font-style="normal" fill="#000" text-anchor="start">PROCEDIMIENTO DE FONTAN</text></g>
<g transform="translate(28,0) scale(0.9566929133858267,1) translate(-28,0)"><text x="27" y="175" font-family="Liberation Sans, sans-serif" font-size="58" font-weight="bold" font-style="normal" fill="#000" text-anchor="start">Antes del</text></g>
<g transform="translate(29,0) scale(0.9477040816326531,1) translate(-29,0)"><text x="27" y="230.5" font-family="Liberation Sans, sans-serif" font-size="58" font-weight="bold" font-style="normal" fill="#000" text-anchor="start">procedimiento</text></g>
<g transform="translate(670,0) scale(0.9660583941605839,1) translate(-670,0)"><text x="669" y="175" font-family="Liberation Sans, sans-serif" font-size="58" font-weight="bold" font-style="normal" fill="#000" text-anchor="start">Durante el</text></g>
<g transform="translate(671,0) scale(0.9477040816326531,1) translate(-671,0)"><text x="669" y="230.5" font-family="Liberation Sans, sans-serif" font-size="58" font-weight="bold" font-style="normal" fill="#000" text-anchor="start">procedimiento</text></g>
<g transform="translate(1305,0) scale(0.941566265060241,1) translate(-1305,0)"><text x="1304" y="175" font-family="Liberation Sans, sans-serif" font-size="58" font-weight="bold" font-style="normal" fill="#000" text-anchor="start">Después del</text></g>
<g transform="translate(1306,0) scale(0.9489795918367347,1) translate(-1306,0)"><text x="1304" y="230.5" font-family="Liberation Sans, sans-serif" font-size="58" font-weight="bold" font-style="normal" fill="#000" text-anchor="start">procedimiento</text></g>
<g transform="translate(11.6,0) scale(1.0235588972431078,1) translate(-11.6,0)"><text x="9" y="1048" font-family="Liberation Sans, sans-serif" font-size="41" font-weight="normal" font-style="normal" fill="#000" text-anchor="start">Fuente: kidshealth.org</text></g>
<text x="531" y="328" font-family="Liberation Sans, sans-serif" font-size="57" font-weight="normal" font-style="italic" fill="#16749f" text-anchor="middle">Arteria</text>
<g transform="translate(531,0) scale(0.97,1) translate(-531,0)"><text x="531" y="384" font-family="Liberation Sans, sans-serif" font-size="57" font-weight="normal" font-style="italic" fill="#16749f" text-anchor="middle">pulmonar</text></g>
<text x="1155" y="328" font-family="Liberation Sans, sans-serif" font-size="57" font-weight="normal" font-style="italic" fill="#16749f" text-anchor="middle">Arteria</text>
<g transform="translate(1155,0) scale(0.97,1) translate(-1155,0)"><text x="1155" y="384" font-family="Liberation Sans, sans-serif" font-size="57" font-weight="normal" font-style="italic" fill="#16749f" text-anchor="middle">pulmonar</text></g>
<text x="1772" y="328" font-family="Liberation Sans, sans-serif" font-size="57" font-weight="normal" font-style="italic" fill="#16749f" text-anchor="middle">Arteria</text>
<g transform="translate(1772,0) scale(0.97,1) translate(-1772,0)"><text x="1772" y="384" font-family="Liberation Sans, sans-serif" font-size="57" font-weight="normal" font-style="italic" fill="#16749f" text-anchor="middle">pulmonar</text></g>
<g transform="translate(64,817) rotate(-90)"><text x="0" y="0" font-family="Liberation Sans, sans-serif" font-size="57" font-weight="normal" font-style="italic" fill="#16749f" text-anchor="middle">Vena</text><text x="0" y="55.5" font-family="Liberation Sans, sans-serif" font-size="57" font-weight="normal" font-style="italic" fill="#16749f" text-anchor="middle">cava inferior</text></g>
<g transform="translate(645.5,784) rotate(-90)"><text x="0" y="0" font-family="Liberation Sans, sans-serif" font-size="57" font-weight="normal" font-style="italic" fill="#16749f" text-anchor="middle">Vena</text><text x="0" y="55.5" font-family="Liberation Sans, sans-serif" font-size="57" font-weight="normal" font-style="italic" fill="#16749f" text-anchor="middle">cava inferior</text></g>
<g transform="translate(1275.5,782) rotate(-90)"><text x="0" y="0" font-family="Liberation Sans, sans-serif" font-size="57" font-weight="normal" font-style="italic" fill="#16749f" text-anchor="middle">Vena</text><text x="0" y="55.5" font-family="Liberation Sans, sans-serif" font-size="57" font-weight="normal" font-style="italic" fill="#16749f" text-anchor="middle">cava inferior</text></g>
<text x="1592" y="924" font-family="Liberation Sans, sans-serif" font-size="57" font-weight="normal" font-style="italic" fill="#c62229" text-anchor="middle">Ventrículo</text>
<text x="1592" y="979" font-family="Liberation Sans, sans-serif" font-size="57" font-weight="normal" font-style="italic" fill="#c62229" text-anchor="middle">derecho</text>
</svg>
</body></html>
